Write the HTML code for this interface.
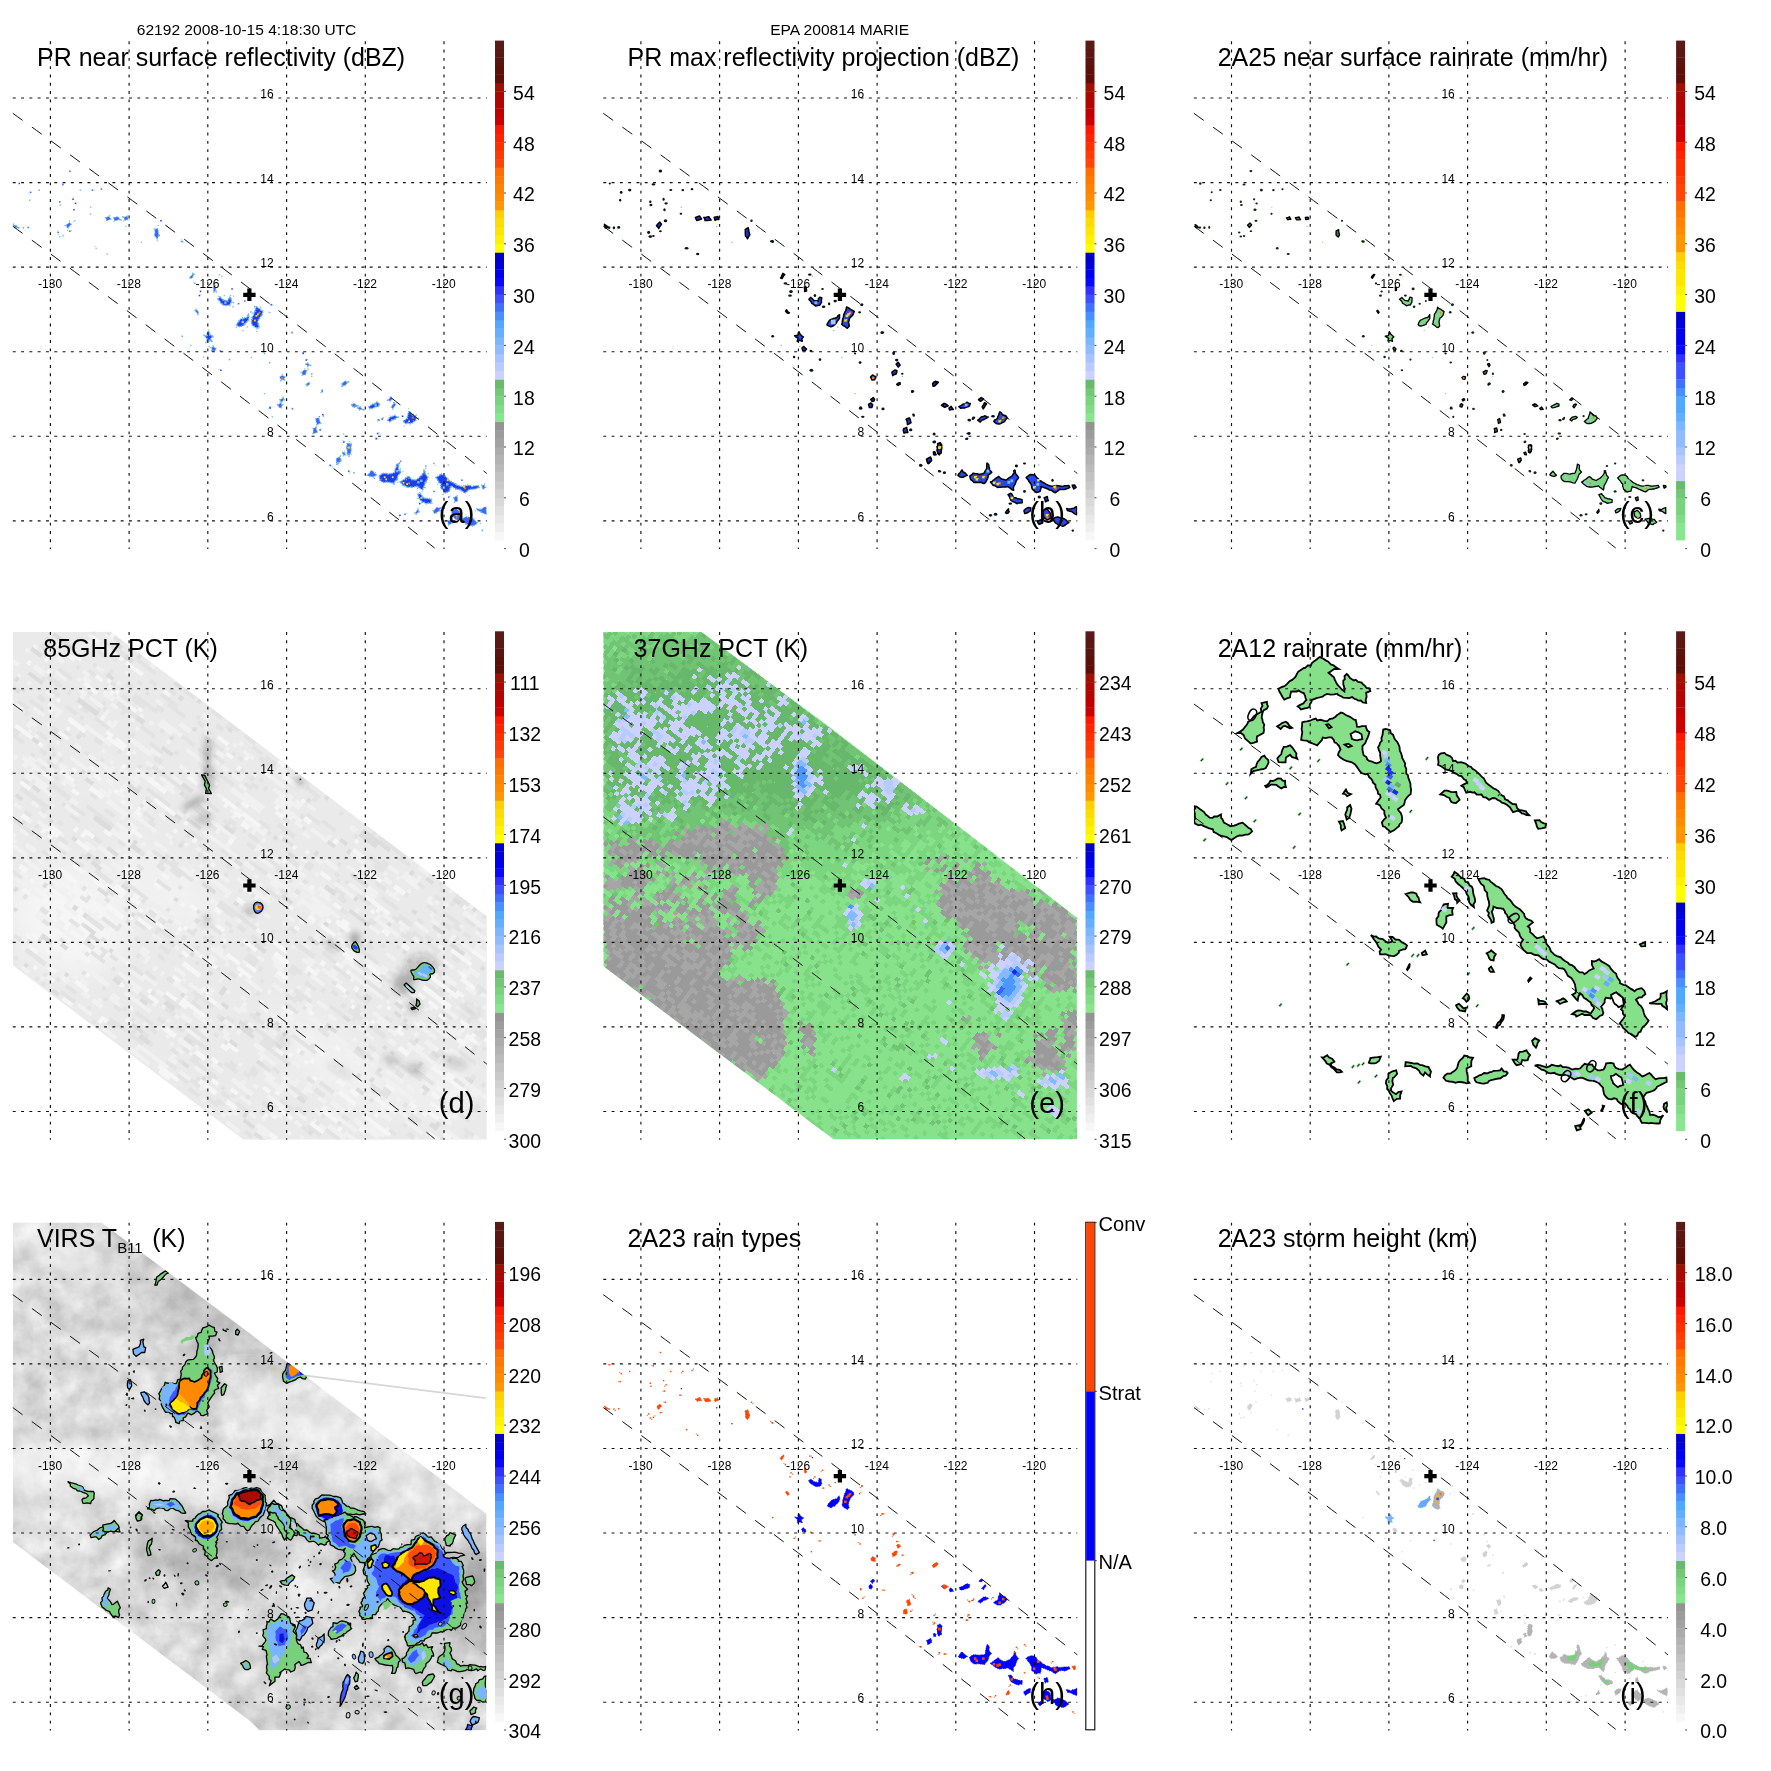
<!DOCTYPE html>
<html lang="en"><head><meta charset="utf-8"><title>TRMM overpass 62192 - EPA 200814 MARIE</title>
<style>html,body{margin:0;padding:0;background:#fff}svg{display:block;will-change:transform}</style></head>
<body>
<svg width="1771" height="1771" viewBox="0 0 1771 1771" font-family="'Liberation Sans', sans-serif" fill="#000">
<rect width="1771" height="1771" fill="#fff"/>
<defs>
<clipPath id="ca"><rect x="12.8" y="41" width="474" height="508"/></clipPath>
<clipPath id="cb"><rect x="603.3" y="41" width="474" height="508"/></clipPath>
<clipPath id="cc"><rect x="1193.9" y="41" width="474" height="508"/></clipPath>
<clipPath id="cd"><rect x="12.8" y="631.7" width="474" height="508"/></clipPath>
<clipPath id="ce"><rect x="603.3" y="631.7" width="474" height="508"/></clipPath>
<clipPath id="cf"><rect x="1193.9" y="631.7" width="474" height="508"/></clipPath>
<clipPath id="cg"><rect x="12.8" y="1222.4" width="474" height="508"/></clipPath>
<clipPath id="ch"><rect x="603.3" y="1222.4" width="474" height="508"/></clipPath>
<clipPath id="ci"><rect x="1193.9" y="1222.4" width="474" height="508"/></clipPath>
</defs>
<g id="panel-a">
<g clip-path="url(#ca)">
<g stroke-linejoin="round">
<polygon points="367.1,475.5 368.3,474.2 369.8,472.7 370.5,470.9 371.9,470.4 372.9,471.2 374.5,473.3 376.9,474.9 374.9,475.9 373.4,476.9 371.9,476.7 369.5,476.3" fill="#3c64ff" stroke="#6aaeff" stroke-width="1.0" stroke-dasharray="1.2 1"/>
<polygon points="379.4,475.8 380.5,474.7 383.1,473.3 385,473.4 387.2,473.6 388.3,474.2 390.5,473.5 391.7,473.6 393.6,472.8 395,471.9 394.9,469.3 396.1,468 396.4,465.3 396.8,463.7 398.8,464 398.6,466.7 398.3,468.4 399,470.2 401,472 399.7,473.6 398,475.5 397.5,477 397.3,479.7 395.6,480.3 394.7,482 393.9,483.8 392.4,483 390.2,482.6 389.2,482.3 386.6,482.1 384.9,482.3 384.1,482.6 381.5,481.4 379.9,480.2 379.5,478.2" fill="#1c3cf0" stroke="#6aaeff" stroke-width="1.6" stroke-dasharray="1.2 1"/>
<polygon points="400,482 401.3,481.6 402.6,480.3 404,479.7 405.1,478.2 407,477.5 408,476 410,477.4 411.5,479.6 412.7,479.5 414.9,480 417,479.5 418.6,477.9 419.8,477 421.1,475.5 422,474.6 423.3,473.3 424.2,471.2 424,469.8 425.2,472.1 425,473.2 425.8,474.7 427.8,477.3 427.1,479.4 426.4,481 425.3,482.4 424.6,484.8 423.7,486.8 422.9,488.3 422.9,490.5 421.9,489.3 420.7,488.9 419.1,487.8 417.2,486.3 415.3,486.4 414.3,486.8 411.9,487.5 410.6,486.9 409.1,487.3 407.3,487.5 405.5,486 402.9,485.4 401.9,484.1" fill="#1c3cf0" stroke="#6aaeff" stroke-width="1.6" stroke-dasharray="1.2 1"/>
<polygon points="435.5,477.6 437.6,476.6 439.4,475.4 440.8,473.9 443.1,475.1 444.6,475.2 445.5,476.6 446.7,477.6 447.5,478.8 449,480.3 450.3,481.5 451.5,481.8 453.6,483 455.7,483.9 457.3,485.3 459,485.8 460.7,486.1 463.1,486.3 464.1,485.7 466.3,485.8 468.2,485.2 470.2,485.8 472.2,486.8 473.9,486 476.2,485.8 478.3,485.7 479.2,487.6 477.5,487.9 476.1,488.7 474.2,489 472.2,489.2 470.3,489.3 469.5,489.7 468,490.1 466.8,491.8 464.7,492.9 463,491.7 460.6,490.1 459.4,489.4 457.2,489.3 456.3,488.7 453.8,487.8 452.6,486.6 450.8,486.3 450.6,487.9 449.7,489.3 449.5,491.1 447.6,492.1 445.4,492.9 444.2,491.8 443.1,490.1 441.6,489 440.8,487.6 440.8,485.9 441,483.9 439.2,482.9 438.2,480.8 437.8,480.2 436.9,478.5" fill="#1c3cf0" stroke="#6aaeff" stroke-width="1.6" stroke-dasharray="1.2 1"/>
<polygon points="482.2,485.4 484,484.9 485.3,487.7 482.9,489.4 482.1,486.7" fill="#3c64ff" stroke="#6aaeff" stroke-width="1.0" stroke-dasharray="1.2 1"/>
<polygon points="417.9,494.2 420.8,493.9 421,494.4 422.4,496.6 423.1,497.9 425.7,498.4 427.3,498.5 429.6,498.9 431.6,499.4 431.2,503 429.7,503.3 428.5,503 426.2,503.7 424.3,502.4 422.7,502.1 420.8,500.4 419.2,498.5 418.6,496.7" fill="#1c3cf0" stroke="#6aaeff" stroke-width="1.6" stroke-dasharray="1.2 1"/>
<polygon points="433.4,511 435.2,509 437,507.2 438.7,507.9 440.9,507.8 439.6,509.5 439.6,510.5 438,511.5 436.8,512.4 434.2,513.6 433.7,512.1" fill="#3c64ff" stroke="#6aaeff" stroke-width="1.0" stroke-dasharray="1.2 1"/>
<polygon points="451.8,510.7 454.1,510.1 456.2,508.8 457.3,509.8 458.9,511 459.6,512.6 460.5,514.4 461,516.5 460.5,518.1 459.3,519.3 457.1,520.2 455.6,519.4 454.1,517.8 453.1,516.6 452.2,514.5 451.8,513.1" fill="#3c64ff" stroke="#6aaeff" stroke-width="1.0" stroke-dasharray="1.2 1"/>
<polygon points="476.4,508.5 478.4,509 479.8,509.6 481.8,508.9 483.5,507.6 484.7,507.1 486.1,507 486.6,508.4 486.1,509.6 486.3,511.3 486.5,513.6 486.8,514.5 484.5,513.8 483.2,513.2 481.3,512.2 479.5,511.3 477.5,510.3" fill="#3c64ff" stroke="#6aaeff" stroke-width="1.0" stroke-dasharray="1.2 1"/>
<polygon points="453.4,497.8 455.7,496.6 457,496.2 457.6,499 457.4,501.1 456.6,501.4 454.7,501.9 454.6,500" fill="#3c64ff" stroke="#6aaeff" stroke-width="1.0" stroke-dasharray="1.2 1"/>
<polygon points="415.4,512.5 416.7,511.1 417.9,509 418.4,509.9 419.2,512 417,513 416.4,513.8" fill="#3c64ff" stroke="#6aaeff" stroke-width="1.0" stroke-dasharray="1.2 1"/>
<polygon points="462,519.3 463.3,518 465.5,517.1 466.6,516.7 469,517.1 471,517.5 472.5,518 473.7,519.3 475.1,520.7 476.6,522 477.8,522.7 477,523.6 475.2,524.8 474,525.4 472.1,525.7 470.3,525.6 468.7,525.4 467.9,524.4 465.7,523.7 464.6,523 463.8,521 463.1,520.2" fill="#3c64ff" stroke="#6aaeff" stroke-width="1.0" stroke-dasharray="1.2 1"/>
<polygon points="446.7,520.6 448.6,520.4 451.1,520.2 451.5,521.3 451.5,523.1 450.6,524.2 448.4,524.2 447.9,522.3" fill="#3c64ff" stroke="#6aaeff" stroke-width="1.0" stroke-dasharray="1.2 1"/>
<polygon points="403.3,421.4 403.9,420.3 405.4,419.8 407.1,418.5 407.6,416.2 408,415.1 408.1,413.7 409,411.7 410.6,412.4 411.9,414.4 412.6,415.3 415.4,416 416.4,417.9 415.9,420.1 414.2,421.5 412.5,422.8 410.1,423.5 407.6,423.1 406.1,423.7 404.4,422.6" fill="#1c3cf0" stroke="#6aaeff" stroke-width="1.6" stroke-dasharray="1.2 1"/>
<polygon points="387.7,420.4 388.9,418.8 389.4,417.4 390.9,416.9 392.4,416.5 395,415.4 396.2,416.8 397.9,417.1 396.6,418 395.1,419.1 393.3,419.7 392.2,419.9 390,421.8" fill="#1c3cf0" stroke="#6aaeff" stroke-width="1.6" stroke-dasharray="1.2 1"/>
<polygon points="368.8,407 370.1,405.7 372.6,404.4 374.9,403.5 376.8,402.1 378.3,403.1 379.5,403.6 379.1,405.8 377.4,406.8 375.7,406.8 374.8,407.3 372,408.5 369.7,408.6" fill="#1c3cf0" stroke="#6aaeff" stroke-width="1.6" stroke-dasharray="1.2 1"/>
<polygon points="351.6,404.9 353.5,403.8 354.8,404.6 355.6,405.8 352.7,407.1" fill="#3c64ff" stroke="#6aaeff" stroke-width="1.0" stroke-dasharray="1.2 1"/>
<polygon points="358.3,408.1 360.2,406.8 361.4,408.5 363.2,409.4 361,409.5 359.2,409.8" fill="#3c64ff" stroke="#6aaeff" stroke-width="1.0" stroke-dasharray="1.2 1"/>
<polygon points="388.4,400.1 389.1,398.8 390.7,396.9 392.3,399 391.1,400.1 390.1,401.3" fill="#3c64ff" stroke="#6aaeff" stroke-width="1.0" stroke-dasharray="1.2 1"/>
<polygon points="391.1,407.3 392.5,404.9 394.1,403.4 395.7,404 395.4,405.2 394,406.9 393,408.4" fill="#3c64ff" stroke="#6aaeff" stroke-width="1.0" stroke-dasharray="1.2 1"/>
<polygon points="342.1,383.5 343.6,382.5 345.2,381.4 348.1,382.4 346.3,383.4 345.1,385 343,385.8" fill="#3c64ff" stroke="#6aaeff" stroke-width="1.0" stroke-dasharray="1.2 1"/>
<polygon points="346.3,447.1 348.2,444.9 349.1,444.1 351.7,443.7 351.2,446.2 350.8,448.3 350.9,449.6 350.6,451.5 349.7,452.9 348.8,455 346.6,453.8 347.2,452.2 347.3,450.5 346.5,448.7" fill="#3c64ff" stroke="#6aaeff" stroke-width="1.0" stroke-dasharray="1.2 1"/>
<polygon points="342.3,452 344.3,452.2 345.1,453.8 345.6,455.2 343.2,454.9 342.7,453.9" fill="#3c64ff" stroke="#6aaeff" stroke-width="1.0" stroke-dasharray="1.2 1"/>
<polygon points="336.7,459.9 339.3,458.1 340.7,460.3 339.7,461.5 338.9,463.6 336.4,462.6" fill="#3c64ff" stroke="#6aaeff" stroke-width="1.0" stroke-dasharray="1.2 1"/>
<polygon points="217.8,299 220.4,297.1 222,298.9 223.9,300 225.4,300.5 227.3,300.8 228.7,299 229.4,297.2 230.6,297.3 231.4,299.9 231.3,302.4 230,303.7 229.8,305.1 227.1,305.3 225.8,305.4 222.9,304.9 221.4,303.3 219.9,301.4 219.2,300.5" fill="#1c3cf0" stroke="#6aaeff" stroke-width="1.6" stroke-dasharray="1.2 1"/>
<polygon points="252.2,319.8 252.3,317.3 252.8,315.9 253.7,314.7 254.3,312.2 255,310.7 255.8,308.6 256.3,306.2 257.9,307.9 259.9,309 261.4,310.7 263.3,311.1 262.5,313 261.7,315.6 260.2,316.9 259.4,318.2 258,320.5 257.6,322.2 258.4,324.8 259.1,326.6 257.3,328.5 255,327 253.9,326.6 252.4,325.1 251.7,324.5 251.6,322.8 251.5,321.4" fill="#1c3cf0" stroke="#6aaeff" stroke-width="1.6" stroke-dasharray="1.2 1"/>
<polygon points="236.1,325 238.1,322.4 239.2,320.7 240.6,319 242.7,318.9 245.1,317.7 246.5,317.8 247.3,316.3 248.4,314 248.8,316.3 248.9,318 248.3,320.2 247,321.8 245.3,322.9 244.6,324.1 242.4,326 240.6,326.5 238.3,326.5" fill="#1c3cf0" stroke="#6aaeff" stroke-width="1.6" stroke-dasharray="1.2 1"/>
<polygon points="204.2,335.2 205.7,335.8 207.2,335.5 207.5,333.3 208.9,331.5 209.4,332.7 209.5,334.7 211.5,335.5 212.8,336.3 210.6,338.8 212,341.4 209.5,340.3 207.2,341.5 207,338.7 205.4,336.8" fill="#1c3cf0" stroke="#6aaeff" stroke-width="1.6" stroke-dasharray="1.2 1"/>
<polygon points="211.7,347.5 213.1,346.8 214.8,347.8 216.2,348.6 214.7,351.1 212.1,350.9" fill="#3c64ff" stroke="#6aaeff" stroke-width="1.0" stroke-dasharray="1.2 1"/>
<polygon points="279.6,377 280.8,376.2 282.5,375.4 283.5,375.9 285.2,376.9 284.6,377.9 283.9,380 281.1,379.6" fill="#3c64ff" stroke="#6aaeff" stroke-width="1.0" stroke-dasharray="1.2 1"/>
<polygon points="301.8,372.6 303.4,370.6 304.5,370.1 307.2,370.3 306.1,372.1 305.5,374.8 303.6,374.9 302.5,374.9" fill="#3c64ff" stroke="#6aaeff" stroke-width="1.0" stroke-dasharray="1.2 1"/>
<polygon points="305.7,364.2 307.6,362.9 308.7,364.3 309.3,364.9 307.8,366.7 307.2,365.3" fill="#3c64ff" stroke="#6aaeff" stroke-width="1.0" stroke-dasharray="1.2 1"/>
<polygon points="306.1,384.1 307.8,383.7 309.2,382 310,383.8 307.4,386" fill="#3c64ff" stroke="#6aaeff" stroke-width="1.0" stroke-dasharray="1.2 1"/>
<polygon points="342,383.6 343.6,382.3 345.3,381 347.2,382.9 346.1,384.4 344.6,385.8 342.3,385.6" fill="#3c64ff" stroke="#6aaeff" stroke-width="1.0" stroke-dasharray="1.2 1"/>
<polygon points="279.9,400.1 282,398.8 283.1,397.3 284.2,399.6 282.9,400.8 281.7,401.9" fill="#3c64ff" stroke="#6aaeff" stroke-width="1.0" stroke-dasharray="1.2 1"/>
<polygon points="277.9,405.2 280.5,403 282.3,404.5 281.7,406.7 281.1,408.2 279.1,407.3" fill="#3c64ff" stroke="#6aaeff" stroke-width="1.0" stroke-dasharray="1.2 1"/>
<polygon points="351,404.4 352.9,403.8 354.5,403.6 356.4,404.9 358,406 355.9,407 354.7,407.4 352.7,406" fill="#3c64ff" stroke="#6aaeff" stroke-width="1.0" stroke-dasharray="1.2 1"/>
<polygon points="189.7,277.5 190.5,276.2 191.8,275.2 192.9,273.8 194,274.5 193,275.8 192.5,277.7 190.9,278.4" fill="#3c64ff" stroke="#6aaeff" stroke-width="1.0" stroke-dasharray="1.2 1"/>
<polygon points="213.3,286.7 214.9,286.2 215.8,288.6 215.6,290.5 214,291.8 213.5,288.7" fill="#3c64ff" stroke="#6aaeff" stroke-width="1.0" stroke-dasharray="1.2 1"/>
<polygon points="195,310.9 196.2,309.9 197.9,310.8 198.8,313.2 197.4,314.1 196.6,312.3" fill="#3c64ff" stroke="#6aaeff" stroke-width="1.0" stroke-dasharray="1.2 1"/>
<polygon points="105,217.6 106.9,217.2 109.1,216.4 109.8,218 111.3,219.2 108.5,219.9 106.9,220.8 106,218.6" fill="#3c64ff" stroke="#6aaeff" stroke-width="1.0" stroke-dasharray="1.2 1"/>
<polygon points="113.5,217.2 115.4,217.5 116.8,216.7 118.2,216.9 119.2,218.4 120.2,219.9 118.4,219.6 116.5,220.5 115,220.8 114,219.3" fill="#3c64ff" stroke="#6aaeff" stroke-width="1.0" stroke-dasharray="1.2 1"/>
<polygon points="124,217.3 125.5,216.7 127.4,216.1 127.8,218.2 128,219.7 126.5,219.8 124.6,220.4" fill="#3c64ff" stroke="#6aaeff" stroke-width="1.0" stroke-dasharray="1.2 1"/>
<polygon points="154.7,229.4 156.4,228.8 157.8,228.5 157.8,229.7 158.3,231.2 158.3,233.6 158.7,234.7 158.3,237 156.9,239.2 156.1,237.2 154.8,236.3 154.4,234.6 155,232.4 154.8,231.5" fill="#3c64ff" stroke="#6aaeff" stroke-width="1.0" stroke-dasharray="1.2 1"/>
<polygon points="66.2,225.1 67.9,223.7 69.5,222.7 71.2,224.3 69.7,225.7 68.5,227.2 68.2,228.5 67,227.5" fill="#3c64ff" stroke="#6aaeff" stroke-width="1.0" stroke-dasharray="1.2 1"/>
<polygon points="13.3,224.7 16.2,225.8 17.9,227.7 16.1,227.6 14.5,228.1 14.4,226.4" fill="#3c64ff" stroke="#6aaeff" stroke-width="1.0" stroke-dasharray="1.2 1"/>
<polygon points="315.9,418.6 317,418 319.2,418.1 319.2,419.4 319.7,421 320.8,423.3 319.2,423.6 316.9,425 316.8,423.2 315.9,421.1" fill="#3c64ff" stroke="#6aaeff" stroke-width="1.0" stroke-dasharray="1.2 1"/>
<polygon points="313.2,428.4 313.9,428.2 316.3,426.9 316.1,428.8 317.1,431.1 317.3,432.2 315.4,433.1 313.2,433.4 313.3,430.4" fill="#3c64ff" stroke="#6aaeff" stroke-width="1.0" stroke-dasharray="1.2 1"/>
<polygon points="346.8,443.3 348.1,443.5 350.1,443.4 349.7,445 350.6,446 350.7,448.5 350.7,450.1 350.8,451.6 350.7,453.1 349.2,453.5 347.5,453.5 347.5,451.8 347.4,450.2 347.4,448.4 347.4,447.1 347,445.8" fill="#3c64ff" stroke="#6aaeff" stroke-width="1.0" stroke-dasharray="1.2 1"/>
<polygon points="336.1,458.6 337.9,457.8 339.8,457.3 340.7,459 341.5,461 339.2,462.1 337.4,462.9 336.8,461.4" fill="#3c64ff" stroke="#6aaeff" stroke-width="1.0" stroke-dasharray="1.2 1"/>
</g>
<rect x="366.6" y="474.7" width="1.1" height="1.1" fill="#78d07c"/><rect x="372.8" y="476.3" width="1.1" height="1.1" fill="#78b8ff"/><rect x="373.7" y="478" width="1.1" height="1.1" fill="#4c8cff"/><rect x="368.9" y="476.2" width="1.1" height="1.1" fill="#78d07c"/><rect x="372.8" y="476.3" width="1.1" height="1.1" fill="#78d07c"/><rect x="369.2" y="475.9" width="1.1" height="1.1" fill="#9cc6ff"/><rect x="374.9" y="472.1" width="1.1" height="1.1" fill="#78b8ff"/><rect x="376.2" y="474.7" width="1.1" height="1.1" fill="#9cc6ff"/><rect x="367" y="474.6" width="1.1" height="1.1" fill="#78d07c"/><rect x="393.2" y="482.4" width="1.1" height="1.1" fill="#78d07c"/><rect x="374.2" y="476.2" width="1.1" height="1.1" fill="#9cc6ff"/><rect x="402.3" y="471.1" width="1.1" height="1.1" fill="#78b8ff"/><rect x="400.2" y="460.4" width="1.1" height="1.1" fill="#4c8cff"/><rect x="380.5" y="478.8" width="1.1" height="1.1" fill="#78d07c"/><rect x="398.2" y="463.4" width="1.1" height="1.1" fill="#9cc6ff"/><rect x="394.2" y="472" width="1.1" height="1.1" fill="#78b8ff"/><rect x="396.6" y="478.9" width="1.1" height="1.1" fill="#4c8cff"/><rect x="397.2" y="479.5" width="1.1" height="1.1" fill="#78d07c"/><rect x="393.6" y="484" width="1.1" height="1.1" fill="#78b8ff"/><rect x="399.2" y="462.1" width="1.1" height="1.1" fill="#4c8cff"/><rect x="399.9" y="468.6" width="1.1" height="1.1" fill="#78b8ff"/><rect x="396.5" y="465.7" width="1.1" height="1.1" fill="#78d07c"/><rect x="399.6" y="471.8" width="1.1" height="1.1" fill="#4c8cff"/><rect x="400" y="460.8" width="1.1" height="1.1" fill="#4c8cff"/><rect x="398.6" y="462.9" width="1.1" height="1.1" fill="#4c8cff"/><rect x="397.8" y="469.9" width="1.1" height="1.1" fill="#78d07c"/><rect x="399.9" y="468.6" width="1.1" height="1.1" fill="#9cc6ff"/><rect x="383.8" y="476.3" width="1.8" height="1.8" fill="#ffe000"/><rect x="385.3" y="478.5" width="1.8" height="1.8" fill="#ffe000"/><rect x="391.9" y="476.3" width="1.8" height="1.8" fill="#ffe000"/><rect x="396.2" y="469.9" width="2.4" height="2.4" fill="#78b8ff"/><rect x="408.4" y="477.8" width="1.1" height="1.1" fill="#78d07c"/><rect x="405.9" y="479.1" width="1.1" height="1.1" fill="#78b8ff"/><rect x="417" y="487.2" width="1.1" height="1.1" fill="#9cc6ff"/><rect x="424.5" y="481.7" width="1.1" height="1.1" fill="#9cc6ff"/><rect x="414.6" y="479.6" width="1.1" height="1.1" fill="#78d07c"/><rect x="425.2" y="467.6" width="1.1" height="1.1" fill="#4c8cff"/><rect x="421.4" y="474.9" width="1.1" height="1.1" fill="#78d07c"/><rect x="424.3" y="486.8" width="1.1" height="1.1" fill="#4c8cff"/><rect x="403.6" y="478.7" width="1.1" height="1.1" fill="#78d07c"/><rect x="411.4" y="479" width="1.1" height="1.1" fill="#9cc6ff"/><rect x="396.7" y="481.9" width="1.1" height="1.1" fill="#9cc6ff"/><rect x="398.4" y="481.8" width="1.1" height="1.1" fill="#9cc6ff"/><rect x="406.6" y="486.8" width="1.1" height="1.1" fill="#78d07c"/><rect x="417.1" y="487.9" width="1.1" height="1.1" fill="#78d07c"/><rect x="411.6" y="486.8" width="1.1" height="1.1" fill="#78d07c"/><rect x="418.9" y="486.4" width="1.1" height="1.1" fill="#4c8cff"/><rect x="403.2" y="484.6" width="1.1" height="1.1" fill="#78d07c"/><rect x="425.8" y="481.8" width="1.1" height="1.1" fill="#78d07c"/><rect x="427.6" y="473.2" width="1.1" height="1.1" fill="#4c8cff"/><rect x="421.6" y="491.1" width="1.1" height="1.1" fill="#78b8ff"/><rect x="425.1" y="487.4" width="1.1" height="1.1" fill="#78d07c"/><rect x="408.2" y="482.4" width="1.8" height="1.8" fill="#ff7800"/><rect x="406.2" y="483.2" width="1.8" height="1.8" fill="#ffe000"/><rect x="417.1" y="481.1" width="2.4" height="2.4" fill="#78b8ff"/><rect x="420.1" y="479.6" width="2.4" height="2.4" fill="#78b8ff"/><rect x="402.6" y="481.9" width="1.8" height="1.8" fill="#ffe000"/><rect x="443.5" y="488.2" width="1.1" height="1.1" fill="#78d07c"/><rect x="465.1" y="492.4" width="1.1" height="1.1" fill="#78d07c"/><rect x="450.4" y="485.8" width="1.1" height="1.1" fill="#78d07c"/><rect x="468.7" y="495.1" width="1.1" height="1.1" fill="#9cc6ff"/><rect x="460.5" y="485.8" width="1.1" height="1.1" fill="#78d07c"/><rect x="460.8" y="485.9" width="1.1" height="1.1" fill="#78b8ff"/><rect x="455.3" y="483.9" width="1.1" height="1.1" fill="#9cc6ff"/><rect x="459.8" y="489.3" width="1.1" height="1.1" fill="#78b8ff"/><rect x="447.2" y="478.7" width="1.1" height="1.1" fill="#78d07c"/><rect x="455.3" y="487.9" width="1.1" height="1.1" fill="#4c8cff"/><rect x="448.6" y="486.1" width="1.1" height="1.1" fill="#4c8cff"/><rect x="451.5" y="481.9" width="1.1" height="1.1" fill="#4c8cff"/><rect x="467.3" y="484.8" width="1.1" height="1.1" fill="#78d07c"/><rect x="455.4" y="483.4" width="1.1" height="1.1" fill="#78d07c"/><rect x="448" y="479.3" width="1.1" height="1.1" fill="#78d07c"/><rect x="450.2" y="480.9" width="1.1" height="1.1" fill="#78d07c"/><rect x="455.4" y="489" width="1.1" height="1.1" fill="#78d07c"/><rect x="455.3" y="488.3" width="1.1" height="1.1" fill="#4c8cff"/><rect x="442.6" y="493.7" width="1.1" height="1.1" fill="#4c8cff"/><rect x="442.1" y="494.1" width="1.1" height="1.1" fill="#9cc6ff"/><rect x="437.1" y="483.6" width="1.1" height="1.1" fill="#78d07c"/><rect x="460.5" y="490" width="1.1" height="1.1" fill="#78b8ff"/><rect x="487.7" y="487.6" width="1.1" height="1.1" fill="#9cc6ff"/><rect x="461.6" y="486" width="1.1" height="1.1" fill="#9cc6ff"/><rect x="470.1" y="484.8" width="1.1" height="1.1" fill="#78d07c"/><rect x="464.1" y="487.5" width="1.8" height="1.8" fill="#ff7800"/><rect x="463.1" y="486" width="1.8" height="1.8" fill="#ffe000"/><rect x="446.8" y="479.4" width="1.8" height="1.8" fill="#ffe000"/><rect x="442.8" y="486.5" width="1.8" height="1.8" fill="#ffe000"/><rect x="446" y="483.1" width="2.4" height="2.4" fill="#78b8ff"/><rect x="485.3" y="487" width="1.1" height="1.1" fill="#78d07c"/><rect x="483.8" y="484.3" width="1.1" height="1.1" fill="#78d07c"/><rect x="481" y="484.6" width="1.1" height="1.1" fill="#4c8cff"/><rect x="482.8" y="487.9" width="1.1" height="1.1" fill="#4c8cff"/><rect x="485" y="486.9" width="1.1" height="1.1" fill="#78d07c"/><rect x="484.1" y="483.4" width="1.1" height="1.1" fill="#78b8ff"/><rect x="484.6" y="486.7" width="1.1" height="1.1" fill="#78b8ff"/><rect x="430.3" y="499" width="1.1" height="1.1" fill="#78d07c"/><rect x="432.1" y="502.7" width="1.1" height="1.1" fill="#9cc6ff"/><rect x="418.1" y="498" width="1.1" height="1.1" fill="#9cc6ff"/><rect x="416.6" y="497.9" width="1.1" height="1.1" fill="#78d07c"/><rect x="418.8" y="491.8" width="1.1" height="1.1" fill="#78d07c"/><rect x="420.8" y="502.3" width="1.1" height="1.1" fill="#78b8ff"/><rect x="421.1" y="502" width="1.1" height="1.1" fill="#9cc6ff"/><rect x="422.4" y="496.4" width="1.1" height="1.1" fill="#78d07c"/><rect x="422.9" y="497.1" width="1.1" height="1.1" fill="#78d07c"/><rect x="425.9" y="503.2" width="1.1" height="1.1" fill="#78b8ff"/><rect x="419.4" y="492.4" width="1.1" height="1.1" fill="#78b8ff"/><rect x="421.8" y="501" width="1.1" height="1.1" fill="#4c8cff"/><rect x="420.4" y="497.1" width="1.8" height="1.8" fill="#ffe000"/><rect x="436" y="506.8" width="1.1" height="1.1" fill="#78d07c"/><rect x="435.9" y="512.6" width="1.1" height="1.1" fill="#78d07c"/><rect x="439.6" y="510.2" width="1.1" height="1.1" fill="#4c8cff"/><rect x="439.8" y="507.4" width="1.1" height="1.1" fill="#4c8cff"/><rect x="440" y="507.2" width="1.1" height="1.1" fill="#78d07c"/><rect x="438.9" y="510.2" width="1.1" height="1.1" fill="#78d07c"/><rect x="440.6" y="506.7" width="1.1" height="1.1" fill="#78d07c"/><rect x="432.1" y="510.2" width="1.1" height="1.1" fill="#9cc6ff"/><rect x="433.3" y="510.2" width="1.1" height="1.1" fill="#78d07c"/><rect x="460.9" y="517.7" width="1.1" height="1.1" fill="#78d07c"/><rect x="456.2" y="518.4" width="1.1" height="1.1" fill="#78d07c"/><rect x="451.6" y="510.5" width="1.1" height="1.1" fill="#78b8ff"/><rect x="456.5" y="521.3" width="1.1" height="1.1" fill="#78d07c"/><rect x="460.9" y="511.5" width="1.1" height="1.1" fill="#78d07c"/><rect x="451.7" y="510.5" width="1.1" height="1.1" fill="#4c8cff"/><rect x="452.1" y="510.9" width="1.1" height="1.1" fill="#4c8cff"/><rect x="456.6" y="522.2" width="1.1" height="1.1" fill="#9cc6ff"/><rect x="459.7" y="512.1" width="1.1" height="1.1" fill="#78d07c"/><rect x="455.5" y="514.4" width="1.8" height="1.8" fill="#ffe000"/><rect x="456" y="516.5" width="1.8" height="1.8" fill="#ff7800"/><rect x="480.7" y="511.6" width="1.1" height="1.1" fill="#78d07c"/><rect x="486.6" y="505.5" width="1.1" height="1.1" fill="#78d07c"/><rect x="479.9" y="508.9" width="1.1" height="1.1" fill="#78b8ff"/><rect x="477.1" y="510.2" width="1.1" height="1.1" fill="#78b8ff"/><rect x="474.7" y="510.4" width="1.1" height="1.1" fill="#78d07c"/><rect x="480.7" y="511.6" width="1.1" height="1.1" fill="#4c8cff"/><rect x="487.6" y="515.9" width="1.1" height="1.1" fill="#9cc6ff"/><rect x="480.7" y="511.5" width="1.1" height="1.1" fill="#78b8ff"/><rect x="479.3" y="508.2" width="1.1" height="1.1" fill="#78d07c"/><rect x="456.7" y="494.9" width="1.1" height="1.1" fill="#78d07c"/><rect x="453.8" y="502.2" width="1.1" height="1.1" fill="#78b8ff"/><rect x="456.4" y="495.8" width="1.1" height="1.1" fill="#78d07c"/><rect x="454.1" y="501.6" width="1.1" height="1.1" fill="#78b8ff"/><rect x="457.2" y="500" width="1.1" height="1.1" fill="#78d07c"/><rect x="453.4" y="497.1" width="1.1" height="1.1" fill="#78d07c"/><rect x="454.3" y="501" width="1.1" height="1.1" fill="#9cc6ff"/><rect x="414" y="512.6" width="1.1" height="1.1" fill="#78d07c"/><rect x="418.1" y="511.2" width="1.1" height="1.1" fill="#78b8ff"/><rect x="418.4" y="511.2" width="1.1" height="1.1" fill="#78b8ff"/><rect x="417.4" y="507.4" width="1.1" height="1.1" fill="#78d07c"/><rect x="414.9" y="512.1" width="1.1" height="1.1" fill="#78d07c"/><rect x="415.5" y="513.8" width="1.1" height="1.1" fill="#4c8cff"/><rect x="418.5" y="511.2" width="1.1" height="1.1" fill="#78b8ff"/><rect x="479.8" y="522.8" width="1.1" height="1.1" fill="#78d07c"/><rect x="471.8" y="525.9" width="1.1" height="1.1" fill="#9cc6ff"/><rect x="474.3" y="518" width="1.1" height="1.1" fill="#9cc6ff"/><rect x="459.3" y="517.7" width="1.1" height="1.1" fill="#4c8cff"/><rect x="476.3" y="522.1" width="1.1" height="1.1" fill="#78d07c"/><rect x="466.8" y="516.8" width="1.1" height="1.1" fill="#78b8ff"/><rect x="465.3" y="514.4" width="1.1" height="1.1" fill="#9cc6ff"/><rect x="465" y="523.7" width="1.1" height="1.1" fill="#78d07c"/><rect x="467" y="517.1" width="1.1" height="1.1" fill="#78d07c"/><rect x="450.4" y="519" width="1.1" height="1.1" fill="#78d07c"/><rect x="450.2" y="519.4" width="1.1" height="1.1" fill="#78d07c"/><rect x="448.3" y="523.7" width="1.1" height="1.1" fill="#4c8cff"/><rect x="445.5" y="520.1" width="1.1" height="1.1" fill="#78d07c"/><rect x="448" y="524.7" width="1.1" height="1.1" fill="#78d07c"/><rect x="445.5" y="520.1" width="1.1" height="1.1" fill="#4c8cff"/><rect x="452.2" y="522.8" width="1.1" height="1.1" fill="#9cc6ff"/><rect x="406.5" y="417.7" width="1.1" height="1.1" fill="#78d07c"/><rect x="403.6" y="425.5" width="1.1" height="1.1" fill="#78b8ff"/><rect x="408" y="408.1" width="1.1" height="1.1" fill="#9cc6ff"/><rect x="412.2" y="414.5" width="1.1" height="1.1" fill="#78d07c"/><rect x="406" y="422.7" width="1.1" height="1.1" fill="#78d07c"/><rect x="418" y="417.6" width="1.1" height="1.1" fill="#78d07c"/><rect x="415.7" y="417.8" width="1.1" height="1.1" fill="#78d07c"/><rect x="409.5" y="424.2" width="1.1" height="1.1" fill="#9cc6ff"/><rect x="413.1" y="420.4" width="1.1" height="1.1" fill="#78d07c"/><rect x="412.8" y="413.6" width="1.1" height="1.1" fill="#4c8cff"/><rect x="408.6" y="411.1" width="1.1" height="1.1" fill="#78d07c"/><rect x="415.7" y="414.5" width="1.1" height="1.1" fill="#4c8cff"/><rect x="411.8" y="416.9" width="1.8" height="1.8" fill="#ff7800"/><rect x="408.2" y="420.4" width="1.8" height="1.8" fill="#ffe000"/><rect x="391.2" y="419.4" width="1.1" height="1.1" fill="#78d07c"/><rect x="398.3" y="416.5" width="1.1" height="1.1" fill="#9cc6ff"/><rect x="389.4" y="415.2" width="1.1" height="1.1" fill="#9cc6ff"/><rect x="391.1" y="419.5" width="1.1" height="1.1" fill="#78d07c"/><rect x="397.9" y="416.6" width="1.1" height="1.1" fill="#78d07c"/><rect x="394.2" y="418.2" width="1.1" height="1.1" fill="#78d07c"/><rect x="394.4" y="418.2" width="1.1" height="1.1" fill="#4c8cff"/><rect x="391.3" y="419.2" width="1.1" height="1.1" fill="#78b8ff"/><rect x="391.3" y="419.2" width="1.1" height="1.1" fill="#78d07c"/><rect x="397.6" y="416.6" width="1.1" height="1.1" fill="#78b8ff"/><rect x="376" y="402.1" width="1.1" height="1.1" fill="#78d07c"/><rect x="376.1" y="401.8" width="1.1" height="1.1" fill="#78b8ff"/><rect x="369" y="408.3" width="1.1" height="1.1" fill="#9cc6ff"/><rect x="371.9" y="403.9" width="1.1" height="1.1" fill="#4c8cff"/><rect x="378.1" y="405.5" width="1.1" height="1.1" fill="#78d07c"/><rect x="374" y="406.8" width="1.1" height="1.1" fill="#4c8cff"/><rect x="374" y="407.1" width="1.1" height="1.1" fill="#9cc6ff"/><rect x="375.8" y="402.3" width="1.1" height="1.1" fill="#4c8cff"/><rect x="369.8" y="407.8" width="1.1" height="1.1" fill="#78d07c"/><rect x="378" y="405.5" width="1.1" height="1.1" fill="#78d07c"/><rect x="374.4" y="403.8" width="2.4" height="2.4" fill="#78b8ff"/><rect x="355.3" y="405.5" width="1.1" height="1.1" fill="#78d07c"/><rect x="353.1" y="403.1" width="1.1" height="1.1" fill="#78d07c"/><rect x="354.8" y="405.4" width="1.1" height="1.1" fill="#9cc6ff"/><rect x="351" y="404.6" width="1.1" height="1.1" fill="#9cc6ff"/><rect x="352.7" y="406.3" width="1.1" height="1.1" fill="#78d07c"/><rect x="355.5" y="405.6" width="1.1" height="1.1" fill="#78b8ff"/><rect x="355.3" y="405.6" width="1.1" height="1.1" fill="#4c8cff"/><rect x="358.7" y="409.7" width="1.1" height="1.1" fill="#78d07c"/><rect x="362.7" y="409.2" width="1.1" height="1.1" fill="#78b8ff"/><rect x="357" y="407.4" width="1.1" height="1.1" fill="#78d07c"/><rect x="363.3" y="409.4" width="1.1" height="1.1" fill="#4c8cff"/><rect x="359.8" y="405.9" width="1.1" height="1.1" fill="#78d07c"/><rect x="363.2" y="409.4" width="1.1" height="1.1" fill="#78d07c"/><rect x="357.5" y="407.5" width="1.1" height="1.1" fill="#4c8cff"/><rect x="392.3" y="398.4" width="1.1" height="1.1" fill="#78d07c"/><rect x="388" y="399.3" width="1.1" height="1.1" fill="#78b8ff"/><rect x="387.5" y="399.5" width="1.1" height="1.1" fill="#78b8ff"/><rect x="386.6" y="399.7" width="1.1" height="1.1" fill="#78b8ff"/><rect x="386.9" y="399.7" width="1.1" height="1.1" fill="#78d07c"/><rect x="389.7" y="400.6" width="1.1" height="1.1" fill="#9cc6ff"/><rect x="390.4" y="396.2" width="1.1" height="1.1" fill="#78b8ff"/><rect x="390.8" y="406.5" width="1.1" height="1.1" fill="#78d07c"/><rect x="392.3" y="408.2" width="1.1" height="1.1" fill="#9cc6ff"/><rect x="395.7" y="402.7" width="1.1" height="1.1" fill="#9cc6ff"/><rect x="393.4" y="402.1" width="1.1" height="1.1" fill="#4c8cff"/><rect x="392.2" y="408.6" width="1.1" height="1.1" fill="#78d07c"/><rect x="393.3" y="402.2" width="1.1" height="1.1" fill="#4c8cff"/><rect x="390.8" y="406.5" width="1.1" height="1.1" fill="#9cc6ff"/><rect x="341.2" y="383.2" width="1.1" height="1.1" fill="#78d07c"/><rect x="347.2" y="381.6" width="1.1" height="1.1" fill="#78d07c"/><rect x="346.9" y="381.7" width="1.1" height="1.1" fill="#78b8ff"/><rect x="348.2" y="381.1" width="1.1" height="1.1" fill="#78d07c"/><rect x="342" y="383.1" width="1.1" height="1.1" fill="#78d07c"/><rect x="340.6" y="383.2" width="1.1" height="1.1" fill="#9cc6ff"/><rect x="346.5" y="381.9" width="1.1" height="1.1" fill="#78d07c"/><rect x="347.9" y="381.2" width="1.1" height="1.1" fill="#78d07c"/><rect x="348.6" y="440.8" width="1.1" height="1.1" fill="#78d07c"/><rect x="346.5" y="446.6" width="1.1" height="1.1" fill="#78b8ff"/><rect x="348.6" y="456.1" width="1.1" height="1.1" fill="#9cc6ff"/><rect x="351.3" y="449.5" width="1.1" height="1.1" fill="#9cc6ff"/><rect x="350.8" y="449.3" width="1.1" height="1.1" fill="#78d07c"/><rect x="348.6" y="455.5" width="1.1" height="1.1" fill="#4c8cff"/><rect x="348.6" y="454" width="1.1" height="1.1" fill="#4c8cff"/><rect x="348.6" y="453.2" width="1.1" height="1.1" fill="#4c8cff"/><rect x="348.6" y="455.3" width="1.1" height="1.1" fill="#78d07c"/><rect x="348" y="446.8" width="1.8" height="1.8" fill="#ffe000"/><rect x="342.2" y="452" width="1.1" height="1.1" fill="#78d07c"/><rect x="344.8" y="454.1" width="1.1" height="1.1" fill="#78d07c"/><rect x="342.9" y="455.3" width="1.1" height="1.1" fill="#78d07c"/><rect x="343.1" y="454.5" width="1.1" height="1.1" fill="#9cc6ff"/><rect x="342.9" y="455" width="1.1" height="1.1" fill="#78d07c"/><rect x="343" y="454.8" width="1.1" height="1.1" fill="#78b8ff"/><rect x="344.2" y="450.6" width="1.1" height="1.1" fill="#9cc6ff"/><rect x="340.4" y="459.8" width="1.1" height="1.1" fill="#78d07c"/><rect x="338.5" y="456.9" width="1.1" height="1.1" fill="#4c8cff"/><rect x="336.4" y="461.9" width="1.1" height="1.1" fill="#9cc6ff"/><rect x="337.9" y="463.2" width="1.1" height="1.1" fill="#4c8cff"/><rect x="338.6" y="456.8" width="1.1" height="1.1" fill="#78d07c"/><rect x="336.2" y="462.2" width="1.1" height="1.1" fill="#4c8cff"/><rect x="337.9" y="462.5" width="1.1" height="1.1" fill="#9cc6ff"/><rect x="339.6" y="459.9" width="1.1" height="1.1" fill="#78d07c"/><rect x="229.8" y="294.9" width="1.1" height="1.1" fill="#78d07c"/><rect x="222.7" y="299.5" width="1.1" height="1.1" fill="#78d07c"/><rect x="222.5" y="299.5" width="1.1" height="1.1" fill="#9cc6ff"/><rect x="231.6" y="301.9" width="1.1" height="1.1" fill="#78d07c"/><rect x="233" y="295.5" width="1.1" height="1.1" fill="#78d07c"/><rect x="229.4" y="297.7" width="1.1" height="1.1" fill="#9cc6ff"/><rect x="229.4" y="305.2" width="1.1" height="1.1" fill="#78d07c"/><rect x="227.5" y="300.7" width="1.1" height="1.1" fill="#9cc6ff"/><rect x="219.1" y="296.6" width="1.1" height="1.1" fill="#78d07c"/><rect x="233" y="302.2" width="1.1" height="1.1" fill="#4c8cff"/><rect x="217.8" y="295.8" width="1.1" height="1.1" fill="#9cc6ff"/><rect x="220.3" y="302.9" width="1.1" height="1.1" fill="#78d07c"/><rect x="218.5" y="296.2" width="1.1" height="1.1" fill="#78d07c"/><rect x="224.2" y="301.5" width="2.4" height="2.4" fill="#78b8ff"/><rect x="259.9" y="307.4" width="1.1" height="1.1" fill="#78d07c"/><rect x="258.5" y="326.6" width="1.1" height="1.1" fill="#78d07c"/><rect x="253.4" y="325.6" width="1.1" height="1.1" fill="#78d07c"/><rect x="256.4" y="328.6" width="1.1" height="1.1" fill="#78b8ff"/><rect x="260.2" y="306.4" width="1.1" height="1.1" fill="#78d07c"/><rect x="254.1" y="306.1" width="1.1" height="1.1" fill="#4c8cff"/><rect x="251.3" y="312.3" width="1.1" height="1.1" fill="#9cc6ff"/><rect x="255.1" y="311.1" width="1.1" height="1.1" fill="#78d07c"/><rect x="251.7" y="312.7" width="1.1" height="1.1" fill="#78d07c"/><rect x="256.3" y="331" width="1.1" height="1.1" fill="#78d07c"/><rect x="250.9" y="319.2" width="1.1" height="1.1" fill="#4c8cff"/><rect x="258.7" y="327.4" width="1.1" height="1.1" fill="#9cc6ff"/><rect x="257.8" y="324.2" width="1.1" height="1.1" fill="#78d07c"/><rect x="257.7" y="323.3" width="1.1" height="1.1" fill="#4c8cff"/><rect x="254.3" y="307.4" width="1.1" height="1.1" fill="#78b8ff"/><rect x="259.2" y="318.1" width="1.1" height="1.1" fill="#78b8ff"/><rect x="258.6" y="311.9" width="1.8" height="1.8" fill="#ff7800"/><rect x="257" y="313.5" width="1.8" height="1.8" fill="#ffe000"/><rect x="255.5" y="315" width="1.8" height="1.8" fill="#ffe000"/><rect x="254" y="319.6" width="1.8" height="1.8" fill="#ffe000"/><rect x="246.9" y="316.1" width="1.1" height="1.1" fill="#78d07c"/><rect x="244.2" y="324" width="1.1" height="1.1" fill="#78b8ff"/><rect x="244.4" y="324.4" width="1.1" height="1.1" fill="#78b8ff"/><rect x="250.8" y="316.9" width="1.1" height="1.1" fill="#78b8ff"/><rect x="236.2" y="323.9" width="1.1" height="1.1" fill="#78d07c"/><rect x="238.7" y="319.9" width="1.1" height="1.1" fill="#78b8ff"/><rect x="249.9" y="311.7" width="1.1" height="1.1" fill="#78b8ff"/><rect x="247.8" y="315.1" width="1.1" height="1.1" fill="#78b8ff"/><rect x="250.5" y="310.9" width="1.1" height="1.1" fill="#78d07c"/><rect x="241.9" y="317" width="1.1" height="1.1" fill="#78b8ff"/><rect x="246.7" y="321" width="1.1" height="1.1" fill="#78d07c"/><rect x="247.3" y="315" width="1.1" height="1.1" fill="#78d07c"/><rect x="235.8" y="327.1" width="1.1" height="1.1" fill="#78d07c"/><rect x="241.5" y="320.8" width="2.4" height="2.4" fill="#a8c8ff"/><rect x="208.7" y="341.1" width="1.1" height="1.1" fill="#78d07c"/><rect x="205.5" y="341.8" width="1.1" height="1.1" fill="#4c8cff"/><rect x="207.9" y="329.4" width="1.1" height="1.1" fill="#78d07c"/><rect x="209.5" y="333.9" width="1.1" height="1.1" fill="#9cc6ff"/><rect x="209.3" y="334.5" width="1.1" height="1.1" fill="#78d07c"/><rect x="206.6" y="334.9" width="1.1" height="1.1" fill="#78b8ff"/><rect x="212.8" y="336.1" width="1.1" height="1.1" fill="#78b8ff"/><rect x="206.4" y="334.7" width="1.1" height="1.1" fill="#78d07c"/><rect x="206.3" y="340.3" width="1.1" height="1.1" fill="#78d07c"/><rect x="205.1" y="342.5" width="1.1" height="1.1" fill="#9cc6ff"/><rect x="203.3" y="335.1" width="1.1" height="1.1" fill="#78b8ff"/><rect x="208.5" y="339.4" width="1.1" height="1.1" fill="#9cc6ff"/><rect x="206.3" y="338.1" width="1.1" height="1.1" fill="#78d07c"/><rect x="209.7" y="346.9" width="1.1" height="1.1" fill="#78d07c"/><rect x="211.5" y="350.1" width="1.1" height="1.1" fill="#4c8cff"/><rect x="212.6" y="345.4" width="1.1" height="1.1" fill="#4c8cff"/><rect x="212.6" y="345.4" width="1.1" height="1.1" fill="#78b8ff"/><rect x="211.4" y="350.2" width="1.1" height="1.1" fill="#78d07c"/><rect x="211.1" y="350.5" width="1.1" height="1.1" fill="#78b8ff"/><rect x="210.1" y="347.1" width="1.1" height="1.1" fill="#78b8ff"/><rect x="211.2" y="350.5" width="1.1" height="1.1" fill="#78b8ff"/><rect x="280.8" y="379.3" width="1.1" height="1.1" fill="#78d07c"/><rect x="280.6" y="379.6" width="1.1" height="1.1" fill="#78b8ff"/><rect x="281.6" y="373.7" width="1.1" height="1.1" fill="#9cc6ff"/><rect x="281.7" y="374" width="1.1" height="1.1" fill="#9cc6ff"/><rect x="285.4" y="376.1" width="1.1" height="1.1" fill="#78d07c"/><rect x="284.1" y="379.7" width="1.1" height="1.1" fill="#78b8ff"/><rect x="283.7" y="379.2" width="1.1" height="1.1" fill="#78b8ff"/><rect x="280.1" y="380.3" width="1.1" height="1.1" fill="#4c8cff"/><rect x="281.6" y="377" width="1.8" height="1.8" fill="#ff7800"/><rect x="301.4" y="371.8" width="1.1" height="1.1" fill="#78d07c"/><rect x="300.4" y="371.7" width="1.1" height="1.1" fill="#9cc6ff"/><rect x="301.5" y="374.9" width="1.1" height="1.1" fill="#9cc6ff"/><rect x="301.8" y="374.5" width="1.1" height="1.1" fill="#78d07c"/><rect x="304.3" y="368.4" width="1.1" height="1.1" fill="#78d07c"/><rect x="304.8" y="374.1" width="1.1" height="1.1" fill="#78b8ff"/><rect x="307.5" y="368.7" width="1.1" height="1.1" fill="#78d07c"/><rect x="300.3" y="371.7" width="1.1" height="1.1" fill="#9cc6ff"/><rect x="307.2" y="362.3" width="1.1" height="1.1" fill="#78d07c"/><rect x="310.1" y="364.8" width="1.1" height="1.1" fill="#4c8cff"/><rect x="305.5" y="363.7" width="1.1" height="1.1" fill="#78d07c"/><rect x="305.5" y="363.7" width="1.1" height="1.1" fill="#4c8cff"/><rect x="309.1" y="364.6" width="1.1" height="1.1" fill="#78d07c"/><rect x="310.2" y="364.8" width="1.1" height="1.1" fill="#78b8ff"/><rect x="307.2" y="367.5" width="1.1" height="1.1" fill="#78d07c"/><rect x="305.4" y="384" width="1.1" height="1.1" fill="#78d07c"/><rect x="306.4" y="385.3" width="1.1" height="1.1" fill="#78b8ff"/><rect x="306.5" y="385.3" width="1.1" height="1.1" fill="#78d07c"/><rect x="308.9" y="383.5" width="1.1" height="1.1" fill="#9cc6ff"/><rect x="306.8" y="384.8" width="1.1" height="1.1" fill="#78d07c"/><rect x="308.9" y="381.7" width="1.1" height="1.1" fill="#9cc6ff"/><rect x="306.7" y="384.9" width="1.1" height="1.1" fill="#78d07c"/><rect x="341.7" y="385.5" width="1.1" height="1.1" fill="#78d07c"/><rect x="341.2" y="386" width="1.1" height="1.1" fill="#9cc6ff"/><rect x="341.7" y="385.5" width="1.1" height="1.1" fill="#9cc6ff"/><rect x="344.9" y="380.7" width="1.1" height="1.1" fill="#4c8cff"/><rect x="348.1" y="381.4" width="1.1" height="1.1" fill="#78d07c"/><rect x="341.4" y="385.8" width="1.1" height="1.1" fill="#4c8cff"/><rect x="341.4" y="385.8" width="1.1" height="1.1" fill="#9cc6ff"/><rect x="343.8" y="385" width="1.1" height="1.1" fill="#9cc6ff"/><rect x="284.1" y="399.2" width="1.1" height="1.1" fill="#78d07c"/><rect x="279.3" y="399.2" width="1.1" height="1.1" fill="#4c8cff"/><rect x="283.5" y="399.2" width="1.1" height="1.1" fill="#78d07c"/><rect x="283.5" y="399.2" width="1.1" height="1.1" fill="#78d07c"/><rect x="281.2" y="401.5" width="1.1" height="1.1" fill="#78d07c"/><rect x="282.5" y="396.4" width="1.1" height="1.1" fill="#78d07c"/><rect x="281.1" y="401.8" width="1.1" height="1.1" fill="#78b8ff"/><rect x="282.5" y="404" width="1.1" height="1.1" fill="#78d07c"/><rect x="280.6" y="407" width="1.1" height="1.1" fill="#9cc6ff"/><rect x="276.8" y="403.9" width="1.1" height="1.1" fill="#9cc6ff"/><rect x="277.1" y="404.1" width="1.1" height="1.1" fill="#4c8cff"/><rect x="281.8" y="404.3" width="1.1" height="1.1" fill="#78d07c"/><rect x="279.8" y="401.5" width="1.1" height="1.1" fill="#78b8ff"/><rect x="281.4" y="404.4" width="1.1" height="1.1" fill="#78b8ff"/><rect x="279.8" y="401.1" width="1.1" height="1.1" fill="#78b8ff"/><rect x="351.2" y="404.3" width="1.1" height="1.1" fill="#78d07c"/><rect x="353.9" y="406.6" width="1.1" height="1.1" fill="#4c8cff"/><rect x="353.9" y="406.5" width="1.1" height="1.1" fill="#78b8ff"/><rect x="353.9" y="406.7" width="1.1" height="1.1" fill="#78b8ff"/><rect x="351.5" y="404.4" width="1.1" height="1.1" fill="#78d07c"/><rect x="351.2" y="404.3" width="1.1" height="1.1" fill="#78b8ff"/><rect x="358.3" y="405.5" width="1.1" height="1.1" fill="#4c8cff"/><rect x="192.2" y="272.8" width="1.1" height="1.1" fill="#78d07c"/><rect x="193.7" y="273.6" width="1.1" height="1.1" fill="#78d07c"/><rect x="193.4" y="273.9" width="1.1" height="1.1" fill="#78d07c"/><rect x="192" y="273.4" width="1.1" height="1.1" fill="#4c8cff"/><rect x="192" y="273.4" width="1.1" height="1.1" fill="#78d07c"/><rect x="192.2" y="272.7" width="1.1" height="1.1" fill="#78b8ff"/><rect x="188.8" y="277.6" width="1.1" height="1.1" fill="#78d07c"/><rect x="215.2" y="290.3" width="1.1" height="1.1" fill="#78d07c"/><rect x="215.8" y="291.4" width="1.1" height="1.1" fill="#4c8cff"/><rect x="213.6" y="291.4" width="1.1" height="1.1" fill="#4c8cff"/><rect x="215.2" y="290.2" width="1.1" height="1.1" fill="#78d07c"/><rect x="213.6" y="291.2" width="1.1" height="1.1" fill="#78d07c"/><rect x="214.9" y="285" width="1.1" height="1.1" fill="#78b8ff"/><rect x="213.6" y="291.2" width="1.1" height="1.1" fill="#78d07c"/><rect x="195.4" y="308.7" width="1.1" height="1.1" fill="#78d07c"/><rect x="197.3" y="314.1" width="1.1" height="1.1" fill="#78b8ff"/><rect x="195.3" y="308.5" width="1.1" height="1.1" fill="#9cc6ff"/><rect x="197.3" y="314.1" width="1.1" height="1.1" fill="#78b8ff"/><rect x="195.6" y="309.4" width="1.1" height="1.1" fill="#78d07c"/><rect x="193.9" y="310" width="1.1" height="1.1" fill="#9cc6ff"/><rect x="197.1" y="313.3" width="1.1" height="1.1" fill="#9cc6ff"/><rect x="109.2" y="214.8" width="1.1" height="1.1" fill="#78d07c"/><rect x="110.1" y="218.6" width="1.1" height="1.1" fill="#78b8ff"/><rect x="108.6" y="215.6" width="1.1" height="1.1" fill="#78d07c"/><rect x="108.6" y="215.7" width="1.1" height="1.1" fill="#9cc6ff"/><rect x="106.1" y="219.7" width="1.1" height="1.1" fill="#78d07c"/><rect x="108.4" y="216" width="1.1" height="1.1" fill="#9cc6ff"/><rect x="105.9" y="220.1" width="1.1" height="1.1" fill="#78b8ff"/><rect x="120.9" y="219.6" width="1.1" height="1.1" fill="#78d07c"/><rect x="119.7" y="219.2" width="1.1" height="1.1" fill="#4c8cff"/><rect x="114" y="220.1" width="1.1" height="1.1" fill="#78d07c"/><rect x="120.7" y="219.6" width="1.1" height="1.1" fill="#78d07c"/><rect x="113.3" y="220.8" width="1.1" height="1.1" fill="#78d07c"/><rect x="120.8" y="219.6" width="1.1" height="1.1" fill="#9cc6ff"/><rect x="114.3" y="219.8" width="1.1" height="1.1" fill="#78b8ff"/><rect x="123.4" y="216.9" width="1.1" height="1.1" fill="#78d07c"/><rect x="122" y="216.3" width="1.1" height="1.1" fill="#4c8cff"/><rect x="123" y="220.4" width="1.1" height="1.1" fill="#9cc6ff"/><rect x="127.2" y="215.4" width="1.1" height="1.1" fill="#78b8ff"/><rect x="123.9" y="219.4" width="1.1" height="1.1" fill="#78d07c"/><rect x="128.6" y="219.4" width="1.1" height="1.1" fill="#9cc6ff"/><rect x="122.9" y="216.7" width="1.1" height="1.1" fill="#78d07c"/><rect x="158.8" y="234.7" width="1.1" height="1.1" fill="#78d07c"/><rect x="156.6" y="238.1" width="1.1" height="1.1" fill="#78b8ff"/><rect x="156.7" y="239.5" width="1.1" height="1.1" fill="#78b8ff"/><rect x="159" y="234.8" width="1.1" height="1.1" fill="#4c8cff"/><rect x="156.5" y="237.5" width="1.1" height="1.1" fill="#78d07c"/><rect x="157.7" y="225" width="1.1" height="1.1" fill="#78b8ff"/><rect x="153.6" y="227.9" width="1.1" height="1.1" fill="#78d07c"/><rect x="156.8" y="240.2" width="1.1" height="1.1" fill="#9cc6ff"/><rect x="70.6" y="223.7" width="1.1" height="1.1" fill="#78d07c"/><rect x="70.3" y="223.8" width="1.1" height="1.1" fill="#4c8cff"/><rect x="67.1" y="229.9" width="1.1" height="1.1" fill="#78d07c"/><rect x="68.8" y="221.4" width="1.1" height="1.1" fill="#78b8ff"/><rect x="69" y="220.4" width="1.1" height="1.1" fill="#78d07c"/><rect x="64.5" y="225.1" width="1.1" height="1.1" fill="#4c8cff"/><rect x="65.5" y="225" width="1.1" height="1.1" fill="#9cc6ff"/><rect x="12.1" y="222.8" width="1.1" height="1.1" fill="#78d07c"/><rect x="15.6" y="224.9" width="1.1" height="1.1" fill="#78b8ff"/><rect x="17.1" y="226.7" width="1.1" height="1.1" fill="#4c8cff"/><rect x="13" y="223.7" width="1.1" height="1.1" fill="#4c8cff"/><rect x="18.1" y="227.2" width="1.1" height="1.1" fill="#78d07c"/><rect x="14.3" y="227.4" width="1.1" height="1.1" fill="#9cc6ff"/><rect x="15.6" y="225" width="1.1" height="1.1" fill="#78d07c"/><rect x="320.5" y="422.9" width="1.1" height="1.1" fill="#78d07c"/><rect x="318.8" y="416.3" width="1.1" height="1.1" fill="#78b8ff"/><rect x="315.1" y="418.3" width="1.1" height="1.1" fill="#78b8ff"/><rect x="320.2" y="422.6" width="1.1" height="1.1" fill="#9cc6ff"/><rect x="316.3" y="425.5" width="1.1" height="1.1" fill="#78d07c"/><rect x="318.8" y="416" width="1.1" height="1.1" fill="#4c8cff"/><rect x="316.6" y="424.1" width="1.1" height="1.1" fill="#78b8ff"/><rect x="311.6" y="427.5" width="1.1" height="1.1" fill="#78d07c"/><rect x="312.9" y="432.2" width="1.1" height="1.1" fill="#78d07c"/><rect x="315.3" y="426.7" width="1.1" height="1.1" fill="#4c8cff"/><rect x="312.4" y="433.1" width="1.1" height="1.1" fill="#78b8ff"/><rect x="316.6" y="431.8" width="1.1" height="1.1" fill="#78d07c"/><rect x="312.4" y="433.2" width="1.1" height="1.1" fill="#9cc6ff"/><rect x="313" y="432.1" width="1.1" height="1.1" fill="#4c8cff"/><rect x="350" y="452.5" width="1.1" height="1.1" fill="#78d07c"/><rect x="350.1" y="452.8" width="1.1" height="1.1" fill="#78d07c"/><rect x="349.3" y="443.3" width="1.1" height="1.1" fill="#78b8ff"/><rect x="349.5" y="442.5" width="1.1" height="1.1" fill="#78d07c"/><rect x="350.7" y="454.1" width="1.1" height="1.1" fill="#78d07c"/><rect x="346.6" y="454.8" width="1.1" height="1.1" fill="#9cc6ff"/><rect x="349.9" y="452.1" width="1.1" height="1.1" fill="#4c8cff"/><rect x="347.9" y="446.6" width="1.8" height="1.8" fill="#ffe000"/><rect x="336.8" y="462.8" width="1.1" height="1.1" fill="#78d07c"/><rect x="336.6" y="463.3" width="1.1" height="1.1" fill="#78d07c"/><rect x="337.1" y="462.2" width="1.1" height="1.1" fill="#9cc6ff"/><rect x="336.4" y="463.9" width="1.1" height="1.1" fill="#4c8cff"/><rect x="339.9" y="455.1" width="1.1" height="1.1" fill="#78d07c"/><rect x="340.8" y="460.3" width="1.1" height="1.1" fill="#9cc6ff"/><rect x="339.6" y="455.9" width="1.1" height="1.1" fill="#4c8cff"/><rect x="18.5" y="182.7" width="1.5" height="1.5" fill="#1c3cf0"/><rect x="18" y="183.1" width="1" height="1" fill="#9cc6ff"/><rect x="69.1" y="170.4" width="1.5" height="1.5" fill="#3c64ff"/><rect x="29.9" y="191.6" width="1.5" height="1.5" fill="#3c64ff"/><rect x="28.4" y="192.6" width="1" height="1" fill="#9cc6ff"/><rect x="38.4" y="189.4" width="1.5" height="1.5" fill="#64a8ff"/><rect x="29" y="199.5" width="1.5" height="1.5" fill="#8cc0ff"/><rect x="62.2" y="183.7" width="1.5" height="1.5" fill="#3c64ff"/><rect x="62.2" y="185" width="1" height="1" fill="#9cc6ff"/><rect x="79.5" y="189.4" width="1.5" height="1.5" fill="#8cc0ff"/><rect x="91.6" y="189.4" width="1.5" height="1.5" fill="#3c64ff"/><rect x="93.7" y="189.8" width="1" height="1" fill="#9cc6ff"/><rect x="100.7" y="188.4" width="1.5" height="1.5" fill="#3c64ff"/><rect x="100.6" y="187.4" width="1" height="1" fill="#9cc6ff"/><rect x="72.3" y="198.5" width="1.5" height="1.5" fill="#1c3cf0"/><rect x="72.7" y="196.8" width="1" height="1" fill="#9cc6ff"/><rect x="59" y="201.1" width="1.5" height="1.5" fill="#3c64ff"/><rect x="59.6" y="204.2" width="1.5" height="1.5" fill="#8cc0ff"/><rect x="74.8" y="202.6" width="1.5" height="1.5" fill="#1c3cf0"/><rect x="75.2" y="201.5" width="1" height="1" fill="#9cc6ff"/><rect x="73.2" y="209" width="1.5" height="1.5" fill="#1c3cf0"/><rect x="89.7" y="213.1" width="1.5" height="1.5" fill="#8cc0ff"/><rect x="17.9" y="227" width="1.5" height="1.5" fill="#64a8ff"/><rect x="22.6" y="227" width="1.5" height="1.5" fill="#64a8ff"/><rect x="27.4" y="226.7" width="1.5" height="1.5" fill="#3c64ff"/><rect x="27" y="227.2" width="1" height="1" fill="#9cc6ff"/><rect x="74.2" y="220" width="1.5" height="1.5" fill="#8cc0ff"/><rect x="73" y="221.3" width="1" height="1" fill="#9cc6ff"/><rect x="69.1" y="230.5" width="1.5" height="1.5" fill="#3c64ff"/><rect x="70.9" y="230.2" width="1" height="1" fill="#9cc6ff"/><rect x="57.4" y="231.7" width="1.5" height="1.5" fill="#3c64ff"/><rect x="57.3" y="230.3" width="1" height="1" fill="#9cc6ff"/><rect x="59" y="235.9" width="1.5" height="1.5" fill="#8cc0ff"/><rect x="58.2" y="234.1" width="1" height="1" fill="#9cc6ff"/><rect x="62.2" y="235.2" width="1.5" height="1.5" fill="#8cc0ff"/><rect x="63.3" y="234.7" width="1" height="1" fill="#9cc6ff"/><rect x="160.2" y="220" width="1.5" height="1.5" fill="#1c3cf0"/><rect x="180.7" y="240.6" width="1.5" height="1.5" fill="#64a8ff"/><rect x="181.3" y="239.1" width="1" height="1" fill="#9cc6ff"/><rect x="95.4" y="247.6" width="1.5" height="1.5" fill="#8cc0ff"/><rect x="94.6" y="246.1" width="1" height="1" fill="#9cc6ff"/><rect x="106.4" y="253.2" width="1.5" height="1.5" fill="#8cc0ff"/><rect x="321.4" y="390.8" width="1.5" height="1.5" fill="#3c64ff"/><rect x="322.1" y="389.1" width="1" height="1" fill="#9cc6ff"/><rect x="269.3" y="406.6" width="1.5" height="1.5" fill="#1c3cf0"/><rect x="271.5" y="416.1" width="1.5" height="1.5" fill="#8cc0ff"/><rect x="322.1" y="413.9" width="1.5" height="1.5" fill="#1c3cf0"/><rect x="323.2" y="415.8" width="1" height="1" fill="#9cc6ff"/><rect x="377.7" y="419.2" width="1.5" height="1.5" fill="#1c3cf0"/><rect x="376.9" y="421.3" width="1" height="1" fill="#9cc6ff"/><rect x="381.5" y="418.3" width="1.5" height="1.5" fill="#1c3cf0"/><rect x="376.8" y="432.8" width="1.5" height="1.5" fill="#1c3cf0"/><rect x="378.5" y="432.2" width="1" height="1" fill="#9cc6ff"/><rect x="375.2" y="438.2" width="1.5" height="1.5" fill="#64a8ff"/><rect x="374.6" y="436.5" width="1" height="1" fill="#9cc6ff"/><rect x="342.9" y="441.4" width="1.5" height="1.5" fill="#1c3cf0"/><rect x="342.5" y="440.2" width="1" height="1" fill="#9cc6ff"/><rect x="329.4" y="464.5" width="1.5" height="1.5" fill="#64a8ff"/><rect x="331.6" y="465.7" width="1" height="1" fill="#9cc6ff"/><rect x="348.3" y="470.8" width="1.5" height="1.5" fill="#8cc0ff"/><rect x="349.3" y="472.8" width="1" height="1" fill="#9cc6ff"/><rect x="353.1" y="472.1" width="1.5" height="1.5" fill="#8cc0ff"/><rect x="302.5" y="351.9" width="1.5" height="1.5" fill="#64a8ff"/><rect x="307.2" y="382.9" width="1.5" height="1.5" fill="#3c64ff"/><rect x="291.4" y="331.7" width="1.5" height="1.5" fill="#3c64ff"/><rect x="291.9" y="332.5" width="1" height="1" fill="#9cc6ff"/><rect x="270.9" y="303.8" width="1.5" height="1.5" fill="#64a8ff"/><rect x="194.2" y="282.6" width="1.5" height="1.5" fill="#64a8ff"/><rect x="193" y="282.2" width="1" height="1" fill="#9cc6ff"/><rect x="199.8" y="290.7" width="1.5" height="1.5" fill="#1c3cf0"/><rect x="198.7" y="294.8" width="1.5" height="1.5" fill="#1c3cf0"/><rect x="200.5" y="293.8" width="1" height="1" fill="#9cc6ff"/><rect x="218.6" y="274" width="1.5" height="1.5" fill="#8cc0ff"/><rect x="231.3" y="288.2" width="1.5" height="1.5" fill="#1c3cf0"/><rect x="244" y="300.4" width="1.5" height="1.5" fill="#3c64ff"/><rect x="237.9" y="302.9" width="1.5" height="1.5" fill="#3c64ff"/><rect x="237.2" y="303.6" width="1" height="1" fill="#9cc6ff"/><rect x="232.3" y="306" width="1.5" height="1.5" fill="#8cc0ff"/><rect x="181.5" y="335.5" width="1.5" height="1.5" fill="#64a8ff"/><rect x="219.6" y="350.2" width="1.5" height="1.5" fill="#3c64ff"/><rect x="220.8" y="350.1" width="1" height="1" fill="#9cc6ff"/><rect x="202.8" y="356.3" width="1.5" height="1.5" fill="#8cc0ff"/><rect x="228.7" y="358.8" width="1.5" height="1.5" fill="#64a8ff"/><rect x="220.1" y="369.5" width="1.5" height="1.5" fill="#1c3cf0"/><rect x="218.5" y="368.8" width="1" height="1" fill="#9cc6ff"/><rect x="263.8" y="352.7" width="1.5" height="1.5" fill="#64a8ff"/><rect x="268.9" y="361.9" width="1.5" height="1.5" fill="#64a8ff"/><rect x="290.7" y="331.9" width="1.5" height="1.5" fill="#8cc0ff"/><rect x="268.4" y="311.6" width="1.5" height="1.5" fill="#8cc0ff"/><rect x="270" y="312.3" width="1" height="1" fill="#9cc6ff"/><rect x="270.4" y="304" width="1.5" height="1.5" fill="#3c64ff"/><rect x="272.4" y="304.7" width="1" height="1" fill="#9cc6ff"/><rect x="181.5" y="240.9" width="1.5" height="1.5" fill="#64a8ff"/><rect x="182.9" y="241.6" width="1" height="1" fill="#9cc6ff"/><rect x="223.6" y="294.8" width="1.5" height="1.5" fill="#8cc0ff"/><rect x="305.5" y="359.3" width="1.5" height="1.5" fill="#1c3cf0"/><rect x="307" y="358.9" width="1" height="1" fill="#9cc6ff"/><rect x="321.2" y="390.3" width="1.5" height="1.5" fill="#1c3cf0"/><rect x="320.2" y="392" width="1" height="1" fill="#9cc6ff"/><rect x="311" y="373.1" width="1.5" height="1.5" fill="#64a8ff"/><rect x="302.4" y="352.7" width="1.5" height="1.5" fill="#1c3cf0"/><rect x="269.4" y="407.6" width="1.5" height="1.5" fill="#3c64ff"/><rect x="267.7" y="408.2" width="1" height="1" fill="#9cc6ff"/><rect x="291.7" y="408.1" width="1.5" height="1.5" fill="#3c64ff"/><rect x="291.4" y="407.5" width="1" height="1" fill="#9cc6ff"/><rect x="320.9" y="391.1" width="1.5" height="1.5" fill="#8cc0ff"/><rect x="321.1" y="389.4" width="1" height="1" fill="#9cc6ff"/><rect x="322.5" y="415" width="1.5" height="1.5" fill="#64a8ff"/><rect x="322.1" y="415.2" width="1" height="1" fill="#9cc6ff"/><rect x="319.4" y="429.2" width="1.5" height="1.5" fill="#1c3cf0"/><rect x="320.5" y="428.5" width="1" height="1" fill="#9cc6ff"/><rect x="377.9" y="432.8" width="1.5" height="1.5" fill="#8cc0ff"/><rect x="375.8" y="437.8" width="1.5" height="1.5" fill="#1c3cf0"/><rect x="342.8" y="433.3" width="1.5" height="1.5" fill="#8cc0ff"/><rect x="343.3" y="440.9" width="1.5" height="1.5" fill="#64a8ff"/><rect x="461.2" y="479.5" width="1.5" height="1.5" fill="#3c64ff"/><rect x="460.6" y="478.9" width="1" height="1" fill="#9cc6ff"/><rect x="433.3" y="490.7" width="1.5" height="1.5" fill="#3c64ff"/><rect x="448" y="496.3" width="1.5" height="1.5" fill="#3c64ff"/><rect x="449.8" y="495.5" width="1" height="1" fill="#9cc6ff"/><rect x="419" y="502.9" width="1.5" height="1.5" fill="#1c3cf0"/><rect x="418.6" y="501.8" width="1" height="1" fill="#9cc6ff"/><rect x="425.1" y="465.3" width="1.5" height="1.5" fill="#64a8ff"/><rect x="423.1" y="470.4" width="1.5" height="1.5" fill="#64a8ff"/><rect x="404.3" y="513.6" width="1.5" height="1.5" fill="#3c64ff"/><rect x="406.3" y="513.2" width="1" height="1" fill="#9cc6ff"/><rect x="399.2" y="514.6" width="1.5" height="1.5" fill="#1c3cf0"/><rect x="398.5" y="516.6" width="1" height="1" fill="#9cc6ff"/><rect x="347.9" y="470.4" width="1.5" height="1.5" fill="#3c64ff"/><rect x="353.5" y="471.9" width="1.5" height="1.5" fill="#8cc0ff"/><rect x="329.6" y="464.8" width="1.5" height="1.5" fill="#3c64ff"/><rect x="331.6" y="466.5" width="1" height="1" fill="#9cc6ff"/><rect x="433.3" y="462.7" width="1.5" height="1.5" fill="#64a8ff"/><rect x="435.2" y="464.9" width="1" height="1" fill="#9cc6ff"/><rect x="378.4" y="419.5" width="1.5" height="1.5" fill="#64a8ff"/><rect x="382.4" y="417" width="1.5" height="1.5" fill="#8cc0ff"/><rect x="401.8" y="415.5" width="1.5" height="1.5" fill="#1c3cf0"/><rect x="481.5" y="529.8" width="1.5" height="1.5" fill="#64a8ff"/><rect x="482.4" y="529" width="1" height="1" fill="#9cc6ff"/><rect x="90.1" y="206.5" width="1.3" height="1.3" fill="#78d07c"/><rect x="125.5" y="225.8" width="1.3" height="1.3" fill="#78d07c"/><rect x="140.7" y="241.6" width="1.3" height="1.3" fill="#78d07c"/><rect x="221.2" y="275.6" width="1.3" height="1.3" fill="#78d07c"/><rect x="246.6" y="326.4" width="1.3" height="1.3" fill="#78d07c"/><rect x="242.5" y="330" width="1.3" height="1.3" fill="#78d07c"/><rect x="250.7" y="356.9" width="1.3" height="1.3" fill="#78d07c"/><rect x="208.5" y="345.7" width="1.3" height="1.3" fill="#78d07c"/><rect x="190.2" y="344.7" width="1.3" height="1.3" fill="#78d07c"/><rect x="263.9" y="393" width="1.3" height="1.3" fill="#78d07c"/><rect x="311.1" y="375.7" width="1.3" height="1.3" fill="#78d07c"/><rect x="447.6" y="464.4" width="1.3" height="1.3" fill="#78d07c"/>
</g>
<path d="M50.4 41.3V549M129.1 41.3V549M207.8 41.3V549M286.6 41.3V549M365.3 41.3V549M444 41.3V549M12.8 98H486.8M12.8 182.6H486.8M12.8 267.1H486.8M12.8 351.7H486.8M12.8 436.2H486.8M12.8 520.8H486.8" fill="none" stroke="#111" stroke-width="1.15" stroke-dasharray="2.9 5.4"/>
<path d="M12.8 113.3Q249.8 283.9 486.8 473.5M12.8 226.2Q223.7 380.4 434.6 548" fill="none" stroke="#111" stroke-width="1" stroke-dasharray="12.2 11.45"/>
<g font-size="12" text-anchor="middle">
<text x="50.1" y="288.4">-130</text>
<text x="128.8" y="288.4">-128</text>
<text x="207.5" y="288.4">-126</text>
<text x="286.3" y="288.4">-124</text>
<text x="365" y="288.4">-122</text>
<text x="443.7" y="288.4">-120</text>
</g><g font-size="12" text-anchor="end">
<text x="273.7" y="97.9">16</text>
<text x="273.7" y="182.5">14</text>
<text x="273.7" y="267">12</text>
<text x="273.7" y="351.6">10</text>
<text x="273.7" y="436.1">8</text>
<text x="273.7" y="520.7">6</text>
</g>
<path d="M243.2 294.8h12.4M249.4 288.6v12.4" stroke="#000" stroke-width="4.2"/>
<text x="37" y="66" font-size="25">PR near surface reflectivity (dBZ)</text>
<text x="438.8" y="522.6" font-size="29.2">(a)</text>
<rect x="495" y="531.7" width="9" height="8.8" fill="#f7f7f7"/>
<rect x="495" y="523.2" width="9" height="8.8" fill="#efefef"/>
<rect x="495" y="514.7" width="9" height="8.8" fill="#e8e8e8"/>
<rect x="495" y="506.3" width="9" height="8.8" fill="#e0e0e0"/>
<rect x="495" y="497.8" width="9" height="8.8" fill="#d9d9d9"/>
<rect x="495" y="489.3" width="9" height="8.8" fill="#d1d1d1"/>
<rect x="495" y="480.9" width="9" height="8.8" fill="#c9c9c9"/>
<rect x="495" y="472.4" width="9" height="8.8" fill="#c2c2c2"/>
<rect x="495" y="463.9" width="9" height="8.8" fill="#bababa"/>
<rect x="495" y="455.5" width="9" height="8.8" fill="#b3b3b3"/>
<rect x="495" y="447" width="9" height="8.8" fill="#ababab"/>
<rect x="495" y="438.5" width="9" height="8.8" fill="#a3a3a3"/>
<rect x="495" y="430.1" width="9" height="8.8" fill="#9c9c9c"/>
<rect x="495" y="421.6" width="9" height="8.8" fill="#949494"/>
<rect x="495" y="413.1" width="9" height="8.8" fill="#8ae68e"/>
<rect x="495" y="404.7" width="9" height="8.8" fill="#82dc86"/>
<rect x="495" y="396.2" width="9" height="8.8" fill="#7ad37e"/>
<rect x="495" y="387.7" width="9" height="8.8" fill="#72c876"/>
<rect x="495" y="379.3" width="9" height="8.8" fill="#6aba6e"/>
<rect x="495" y="370.8" width="9" height="8.8" fill="#ccd2ff"/>
<rect x="495" y="362.3" width="9" height="8.8" fill="#bccbff"/>
<rect x="495" y="353.9" width="9" height="8.8" fill="#a8c4ff"/>
<rect x="495" y="345.4" width="9" height="8.8" fill="#90bcff"/>
<rect x="495" y="336.9" width="9" height="8.8" fill="#7cb6ff"/>
<rect x="495" y="328.5" width="9" height="8.8" fill="#64aeff"/>
<rect x="495" y="320" width="9" height="8.8" fill="#50a8ff"/>
<rect x="495" y="311.5" width="9" height="8.8" fill="#4890ff"/>
<rect x="495" y="303.1" width="9" height="8.8" fill="#4070ff"/>
<rect x="495" y="294.6" width="9" height="8.8" fill="#3c50ff"/>
<rect x="495" y="286.1" width="9" height="8.8" fill="#3030ff"/>
<rect x="495" y="277.7" width="9" height="8.8" fill="#0808ff"/>
<rect x="495" y="269.2" width="9" height="8.8" fill="#0000f0"/>
<rect x="495" y="260.7" width="9" height="8.8" fill="#0000dc"/>
<rect x="495" y="252.3" width="9" height="8.8" fill="#0000c8"/>
<rect x="495" y="243.8" width="9" height="8.8" fill="#ffff00"/>
<rect x="495" y="235.3" width="9" height="8.8" fill="#fff200"/>
<rect x="495" y="226.9" width="9" height="8.8" fill="#ffe600"/>
<rect x="495" y="218.4" width="9" height="8.8" fill="#ffdc00"/>
<rect x="495" y="209.9" width="9" height="8.8" fill="#ffd000"/>
<rect x="495" y="201.5" width="9" height="8.8" fill="#ff9800"/>
<rect x="495" y="193" width="9" height="8.8" fill="#ff8c00"/>
<rect x="495" y="184.5" width="9" height="8.8" fill="#ff8200"/>
<rect x="495" y="176.1" width="9" height="8.8" fill="#ff7800"/>
<rect x="495" y="167.6" width="9" height="8.8" fill="#ff6e00"/>
<rect x="495" y="159.1" width="9" height="8.8" fill="#ff4608"/>
<rect x="495" y="150.7" width="9" height="8.8" fill="#ff3c04"/>
<rect x="495" y="142.2" width="9" height="8.8" fill="#ff3000"/>
<rect x="495" y="133.7" width="9" height="8.8" fill="#ff2400"/>
<rect x="495" y="125.2" width="9" height="8.8" fill="#ff1800"/>
<rect x="495" y="116.8" width="9" height="8.8" fill="#cc0000"/>
<rect x="495" y="108.3" width="9" height="8.8" fill="#c00000"/>
<rect x="495" y="99.8" width="9" height="8.8" fill="#b40400"/>
<rect x="495" y="91.4" width="9" height="8.8" fill="#aa0800"/>
<rect x="495" y="82.9" width="9" height="8.8" fill="#a01000"/>
<rect x="495" y="74.4" width="9" height="8.8" fill="#5e0e06"/>
<rect x="495" y="66" width="9" height="8.8" fill="#5c100a"/>
<rect x="495" y="57.5" width="9" height="8.8" fill="#5a1410"/>
<rect x="495" y="49" width="9" height="8.8" fill="#5a1814"/>
<rect x="495" y="40.6" width="9" height="8.8" fill="#5a1a18"/>
<path d="M504 548.6h2" stroke="#333" stroke-width="0.9"/>
<text x="524.5" y="556.9" text-anchor="middle" font-size="19.4">0</text>
<path d="M504 497.8h2" stroke="#333" stroke-width="0.9"/>
<text x="524.5" y="506.1" text-anchor="middle" font-size="19.4">6</text>
<path d="M504 447h2" stroke="#333" stroke-width="0.9"/>
<text x="523.9" y="455.3" text-anchor="middle" font-size="19.4">12</text>
<path d="M504 396.2h2" stroke="#333" stroke-width="0.9"/>
<text x="523.9" y="404.5" text-anchor="middle" font-size="19.4">18</text>
<path d="M504 345.4h2" stroke="#333" stroke-width="0.9"/>
<text x="523.9" y="353.7" text-anchor="middle" font-size="19.4">24</text>
<path d="M504 294.6h2" stroke="#333" stroke-width="0.9"/>
<text x="523.9" y="302.9" text-anchor="middle" font-size="19.4">30</text>
<path d="M504 243.8h2" stroke="#333" stroke-width="0.9"/>
<text x="523.9" y="252.1" text-anchor="middle" font-size="19.4">36</text>
<path d="M504 193h2" stroke="#333" stroke-width="0.9"/>
<text x="523.9" y="201.3" text-anchor="middle" font-size="19.4">42</text>
<path d="M504 142.2h2" stroke="#333" stroke-width="0.9"/>
<text x="523.9" y="150.5" text-anchor="middle" font-size="19.4">48</text>
<path d="M504 91.4h2" stroke="#333" stroke-width="0.9"/>
<text x="523.9" y="99.7" text-anchor="middle" font-size="19.4">54</text>
</g>
<g id="panel-b">
<g clip-path="url(#cb)">
<g stroke="#000" stroke-width="1.5" stroke-linejoin="round">
<polygon points="957.9,475.4 958.9,473.6 960,472.8 961.1,471.1 962,469.9 963.2,472 965.2,473 967.3,475.4 965.2,476.1 963.9,476.9 962.2,477.2 960,476.9" fill="#2448ec"/>
<polygon points="969.7,476.1 971.5,474.9 973,473.2 975,473.5 977.4,473.8 979,474.4 981.2,474 982.5,473.8 984.4,472.9 984.9,471.2 986,470.1 986.7,468.2 986.7,465.7 987,463.1 988.7,464.5 989,466.7 989.4,467.9 989.5,469.8 991.8,472.3 990.2,473.6 988.1,475.3 988.1,477.1 987.2,479.5 986.3,480.7 985.7,482.1 984.1,483.6 983,483.2 981.1,482.3 979,482.5 977.3,482.6 975.7,482.3 974,482.4 972.6,480.9 970.7,479.7 970.3,478.3" fill="#2448ec"/>
<polygon points="990.4,482 992.1,481.4 993,480.4 994.2,479.6 995.7,478.4 997.2,477.3 998.7,476.5 1000.1,477.9 1001.7,479.1 1003.9,479.5 1005.5,480.1 1007.4,479.3 1008.9,477.9 1010.8,476.9 1011.9,476.2 1013.1,474.2 1014,473 1014.6,471.7 1014.8,470 1015.1,471.9 1015.7,473.6 1016.7,475.1 1018.6,477.4 1017.6,479.2 1016.4,480.6 1015.7,482.5 1015,484.5 1013.9,486 1013.3,488.3 1013.7,490.2 1011.9,489.7 1010.8,488.5 1009.4,487.7 1008,486.6 1006,487 1004.6,487 1002.5,487.1 1000.7,487.2 999.1,487.3 997.5,487.5 995.7,486.1 993.2,485.4 992.1,484.1" fill="#2448ec"/>
<polygon points="1026.1,477.5 1027.5,476.4 1029.8,474.8 1031,474.5 1033,474.7 1034.9,475 1036.1,476.8 1037,477.9 1038.6,479.2 1039.3,480.6 1041,481 1042,482 1044.4,483 1046.3,484.4 1048.2,485.2 1049.5,485.6 1051.4,486.2 1053.2,486 1055.1,485.7 1056.3,485.6 1058.8,485.7 1060.9,486.2 1062.5,486.6 1064.4,485.8 1066.8,485.8 1068.9,485.6 1069.9,487.3 1068.4,488.2 1066.5,488.7 1064.5,489.6 1063.1,489.6 1061,489.5 1059.7,489.3 1058.3,490.7 1057,491.6 1055.4,492.7 1053.2,491.7 1051.3,490.3 1049.6,490 1048.4,489.3 1046.1,488.3 1044.5,487.8 1042.8,487.1 1041.1,486.5 1041,488.2 1040.6,489.4 1040.1,491.3 1038.4,492 1036.1,492.4 1034.8,491.2 1033.9,490.6 1032.4,489.1 1031.7,487.5 1031.6,486 1031.2,484.4 1029.8,482.5 1028.8,481.2 1028.3,480.1 1026.7,478.3" fill="#2448ec"/>
<polygon points="1072.2,485.3 1074.6,485 1076.1,487.3 1073.8,489 1072.8,486.9" fill="#1c34c8"/>
<polygon points="1008,494.6 1010.9,493.2 1012.1,494.6 1013,496.4 1013.6,497.6 1015.6,497.7 1017.7,498.8 1019.8,499 1022,499.6 1022.2,502.7 1020,503.1 1018.3,503.1 1016.9,503.7 1015,502.4 1012.6,501.5 1011,500.3 1010,498.3 1009.2,496.3" fill="#2448ec"/>
<polygon points="1024,510.6 1025.3,509.2 1027.1,508 1028.9,507.6 1030.9,507.9 1030.7,509.1 1030.4,510.8 1028.8,511.8 1026.9,513 1024.8,513.5 1024.3,512" fill="#2448ec"/>
<polygon points="1042,510.6 1044.3,510 1046.2,508.9 1048,509.8 1048.8,511.2 1050.2,512.9 1050.6,514.4 1050.8,516.4 1051.7,518.2 1049.5,518.8 1047.1,520.2 1046.2,519.1 1044.5,518.1 1043.3,516.6 1043.1,514.8 1042.4,513.1" fill="#2448ec"/>
<polygon points="1066.7,508.6 1068.5,508.9 1070.6,509.1 1072,508.4 1073.8,508.3 1075.3,507.2 1076.5,506.6 1076.9,508.5 1076.7,509.9 1076.6,511.7 1077.1,513.5 1077,514.8 1075.1,514.1 1073.1,512.7 1072.1,511.8 1070.1,511.3 1067.4,510.5" fill="#2448ec"/>
<polygon points="1044.1,497.6 1045.6,497.2 1047.3,496.5 1047.7,498.9 1048.4,500.8 1046.7,501.1 1045.5,501.8 1045,499.8" fill="#1c34c8"/>
<polygon points="1005.5,512.6 1006.8,510.6 1008.6,508.9 1008.5,510.6 1009.2,511.6 1008.2,513.1 1006.4,513.5" fill="#1c34c8"/>
<polygon points="1052.4,518.7 1054.2,518.1 1056.1,517.3 1057.6,517.1 1059.6,517.6 1061.1,518.1 1063,518.3 1064.5,519 1066.3,520.2 1067.6,521.8 1068.9,522.6 1067.1,523.6 1065.6,524.6 1064.5,525.6 1062.9,526.2 1061.1,525.6 1059.3,524.9 1058,524.7 1056.9,523.7 1055.3,522.9 1054.5,521.4 1053.6,519.9" fill="#2448ec"/>
<polygon points="1037.4,521 1039.2,520.5 1041.3,519.6 1042.1,521.2 1042.5,523.1 1040.7,523.7 1039.1,524.4 1037.9,522.7" fill="#1c34c8"/>
<polygon points="993.8,421.5 994.7,420 996.1,419.4 997.4,418.5 997.9,416.4 998.7,415.3 999,413.5 999.9,411.9 1001.1,412.7 1001.9,413.9 1002.9,415.1 1005.9,415.8 1007.3,418 1005.6,419.8 1004.5,421.6 1002.9,422.4 1000.4,423.7 999,423.9 996.9,423.8 995.1,422.6" fill="#2448ec"/>
<polygon points="977.7,420.2 979,419.4 980.2,418 981.2,417 983.1,416.6 985.1,415.8 986.7,416.7 988.2,416.9 987.2,417.9 985.6,418.5 984.2,419.5 982.2,420.1 980.3,422.1" fill="#2448ec"/>
<polygon points="958.9,406.6 961.3,405.4 962.9,404.3 965.3,403.8 966.9,402.2 968.5,403.2 970.4,403.5 969.3,406.1 968,406.8 966.7,407.1 964.9,407.9 962.5,407.9 960.6,408.3" fill="#2448ec"/>
<polygon points="941.4,405.3 944.1,403.4 945.1,404.9 946.1,406.2 944,406.8" fill="#1c34c8"/>
<polygon points="949,408.2 951.2,406.4 952.4,408.3 953.3,409.4 951.6,409.6 949.6,409.9" fill="#1c34c8"/>
<polygon points="978.5,399.7 980.2,398.4 981.2,397.6 983.5,399 982.3,400.1 980.5,401.3" fill="#1c34c8"/>
<polygon points="982.1,406.9 983.4,404.9 984.5,402.8 986.6,403.7 985.3,405.5 984.4,407 983.3,408.9" fill="#1c34c8"/>
<polygon points="932.9,383.6 934.4,382.6 935.5,381.3 938.2,382.4 937,383.7 935.4,385.3 933.7,385.8" fill="#1c34c8"/>
<polygon points="936.9,446.7 938.4,444.9 939.6,443.3 941.6,444.4 941.7,446 941.8,447.9 941.6,449.5 941,451.6 940.2,453.2 939.4,454.9 937.9,453.7 937.6,452.3 937,450.2 937.5,448.4" fill="#2448ec"/>
<polygon points="933.4,452.1 934.8,451.8 935.5,453.6 936.2,454.7 934,455 933.6,454.2" fill="#1c34c8"/>
<polygon points="926.9,459.7 929.7,458.2 931.1,460.8 930.2,462 928.8,463.6 927.5,462.4" fill="#1c34c8"/>
<polygon points="808.9,299.2 810.6,297.4 812.5,298.9 813.9,300.5 815.8,300.8 818.2,301.3 818.4,298.8 819.7,297.3 821.8,297.7 821.4,300.2 821.5,302.2 820.7,303.7 819.8,305.2 817.7,305.5 815.8,306.1 813.6,304.3 811.6,303.1 811.1,301.8 809.9,300.5" fill="#2448ec"/>
<polygon points="842.6,319.3 843.1,317.9 843.6,316.2 843.8,314.6 844.9,312 845.8,310.3 846.2,308.7 846.6,306.9 849,308.1 850.3,309.2 852.5,310.3 854.3,311.4 853.5,313.3 852.6,315.4 851,316.7 849.3,318.7 849.1,320.4 848.5,322.6 849.1,324.8 849.2,326.3 847.3,328.3 845.9,327.2 844.3,326.2 842.8,325.3 841.7,324.3 842.2,323.1 842.4,321" fill="#2448ec"/>
<polygon points="826.9,324.8 828.1,322.4 829.6,320.2 831.7,319.2 833.5,318.4 835.4,318 837.3,317.3 838,315.6 839.6,314.7 839.5,316.3 839.5,318.2 838.4,319.7 837,321.6 836.6,322.7 834.9,324.6 833.4,325.7 831,326.8 828.5,325.9" fill="#2448ec"/>
<polygon points="794.6,335.7 796.3,335.6 797.9,335.5 798.3,333.4 799,331.7 799.7,333.3 800.7,334.8 801.8,335.8 803.4,336.8 801.8,338.9 802.3,341.2 799.6,340.3 797.2,341.4 798.1,338.1 796.1,337.3" fill="#2448ec"/>
<polygon points="802,348.1 803.6,346.4 804.8,347.6 806.5,349 805.1,350.8 802.6,350.4" fill="#1c34c8"/>
<polygon points="870.6,377 871.2,376.4 872.6,375 874.1,375.9 875.9,376.6 875.5,378.3 874.7,379.7 871.9,379.9" fill="#1c34c8"/>
<polygon points="891.9,372 893.7,370.8 895.2,369.9 896.9,370.6 896.8,372.2 896,374.3 894.1,374.6 892.7,375.6" fill="#1c34c8"/>
<polygon points="896.1,364.1 898.1,362.3 899.2,363.7 900.2,365.1 898.3,367.1 897.5,366" fill="#1c34c8"/>
<polygon points="896.7,384.3 898.2,383.7 900,382.6 900.2,384.2 898.1,385.4" fill="#1c34c8"/>
<polygon points="932.6,383.8 934,382.1 936,381.7 938.2,382.2 936.4,383.7 934.8,385.7 933.1,386.3" fill="#1c34c8"/>
<polygon points="870.7,399.4 872.4,398.5 873.2,397.5 874.6,399.5 873.8,401.1 872.2,401.6" fill="#1c34c8"/>
<polygon points="868.5,404.5 870.9,403 872.7,404.7 872.4,406.2 871.7,407.6 869.4,407.6" fill="#1c34c8"/>
<polygon points="942.3,404.9 943.6,404 945.1,403.5 946.4,404.4 948.2,405.8 946.3,406.6 944.8,407.2 943.7,406.3" fill="#1c34c8"/>
<polygon points="780.6,278.1 781.5,276.5 782.1,275 782.9,273.4 784.8,274.6 783.6,275.7 782.7,277.5 782,278.6" fill="#1c34c8"/>
<polygon points="804.2,287.1 805.8,286.6 806.3,288.7 806.6,291 804.6,291.5 804.7,289.2" fill="#1c34c8"/>
<polygon points="785.6,311.1 786.6,309.8 787.7,311.5 789.5,312.8 788.1,313.4 786.7,312.6" fill="#1c34c8"/>
<polygon points="695.4,217.4 697.4,216.7 699.7,216.1 700.8,217.9 701.6,219 699.3,219.8 696.9,220.6 695.8,218.6" fill="#1c34c8"/>
<polygon points="703.8,217.4 706,217.4 707.2,217 708.8,216.7 709.8,218.2 711.2,220.1 709.4,220.3 707,220.4 705,220.6 704.9,219.1" fill="#1c34c8"/>
<polygon points="714.2,217.2 716.1,216.9 718,216.6 718.1,217.6 718.9,219.4 716.5,219.5 715,220.2" fill="#1c34c8"/>
<polygon points="745.2,229.6 746.8,228.4 748.3,227.8 748.7,229.8 748.8,231.3 749.5,233.6 749.8,234.8 748.3,237.1 747.6,238.8 746.7,237.3 745.5,236.2 745.4,234.8 745.3,232.5 745.4,231" fill="#1c34c8"/>
<polygon points="656.5,225.7 658,223.7 659.8,222.1 661.5,224.2 660.7,225.5 659.5,226.9 658.8,228.5 657.9,227.1" fill="#1c34c8"/>
<polygon points="604.4,224.3 606.5,225.8 608.7,227.3 606.7,227.8 605.5,228.1 604.6,225.9" fill="#1c34c8"/>
<polygon points="906.1,419.3 908.3,418.3 909.4,417.9 910.2,419.3 910.7,421.4 911.1,422.6 909.1,423.8 907.5,424.6 907.3,422.6 907,421" fill="#1c34c8"/>
<polygon points="903.6,428.8 905.1,428.1 906.7,427.4 906.8,428.8 907.5,430.9 907.9,432.4 906,432.6 904,433.1 903.3,430.5" fill="#1c34c8"/>
<polygon points="937.6,443.8 938.7,443.3 940.5,442.8 940.7,444.6 940.8,446.7 940.6,447.8 941.2,449.9 941,451.5 941.3,452.9 939.3,453.4 938.4,453.5 937.8,452.2 937.6,450.3 937.6,449.1 937.7,447 937.8,445.2" fill="#1c34c8"/>
<polygon points="926.5,459.2 928.7,457.9 930.5,457 931.3,458.8 931.6,460.7 930.1,461.7 927.8,463.4 927.2,461.2" fill="#1c34c8"/>
</g>
<rect x="974" y="476" width="2.4" height="2.4" fill="#ffe000"/><rect x="975.8" y="475.8" width="1.2" height="1.2" fill="#ffe000"/><rect x="975.6" y="478.2" width="2.4" height="2.4" fill="#ffe000"/><rect x="977.4" y="478" width="1.2" height="1.2" fill="#ffe000"/><rect x="982.2" y="476" width="2.4" height="2.4" fill="#ffe000"/><rect x="984" y="475.8" width="1.2" height="1.2" fill="#ffe000"/><rect x="986.5" y="469.7" width="2.8" height="2.8" fill="#78b8ff"/><rect x="998.4" y="482.1" width="2.4" height="2.4" fill="#ff7800"/><rect x="996.4" y="482.9" width="2.4" height="2.4" fill="#ffe000"/><rect x="998.2" y="482.7" width="1.2" height="1.2" fill="#ffe000"/><rect x="1007.4" y="480.9" width="2.8" height="2.8" fill="#78b8ff"/><rect x="1010.4" y="479.4" width="2.8" height="2.8" fill="#78b8ff"/><rect x="992.8" y="481.6" width="2.4" height="2.4" fill="#ffe000"/><rect x="994.6" y="481.4" width="1.2" height="1.2" fill="#ffe000"/><rect x="1054.3" y="487.2" width="2.4" height="2.4" fill="#ff7800"/><rect x="1053.3" y="485.7" width="2.4" height="2.4" fill="#ffe000"/><rect x="1055.1" y="485.5" width="1.2" height="1.2" fill="#ffe000"/><rect x="1037.1" y="479.1" width="2.4" height="2.4" fill="#ffe000"/><rect x="1038.9" y="478.9" width="1.2" height="1.2" fill="#ffe000"/><rect x="1033" y="486.2" width="2.4" height="2.4" fill="#ffe000"/><rect x="1034.8" y="486" width="1.2" height="1.2" fill="#ffe000"/><rect x="1036.4" y="482.9" width="2.8" height="2.8" fill="#78b8ff"/><rect x="1010.6" y="496.8" width="2.4" height="2.4" fill="#ffe000"/><rect x="1012.4" y="496.6" width="1.2" height="1.2" fill="#ffe000"/><rect x="1045.7" y="514.1" width="2.4" height="2.4" fill="#ffe000"/><rect x="1047.5" y="513.9" width="1.2" height="1.2" fill="#ffe000"/><rect x="1046.2" y="516.2" width="2.4" height="2.4" fill="#ff7800"/><rect x="1002" y="416.6" width="2.4" height="2.4" fill="#ff7800"/><rect x="998.4" y="420.1" width="2.4" height="2.4" fill="#ffe000"/><rect x="1000.2" y="419.9" width="1.2" height="1.2" fill="#ffe000"/><rect x="964.7" y="403.6" width="2.8" height="2.8" fill="#78b8ff"/><rect x="938.3" y="446.5" width="2.4" height="2.4" fill="#ffe000"/><rect x="940.1" y="446.3" width="1.2" height="1.2" fill="#ffe000"/><rect x="814.5" y="301.3" width="2.8" height="2.8" fill="#78b8ff"/><rect x="848.8" y="311.6" width="2.4" height="2.4" fill="#ff7800"/><rect x="847.3" y="313.2" width="2.4" height="2.4" fill="#ffe000"/><rect x="849.1" y="313" width="1.2" height="1.2" fill="#ffe000"/><rect x="845.7" y="314.7" width="2.4" height="2.4" fill="#ffe000"/><rect x="847.5" y="314.5" width="1.2" height="1.2" fill="#ffe000"/><rect x="844.2" y="319.3" width="2.4" height="2.4" fill="#ffe000"/><rect x="846" y="319.1" width="1.2" height="1.2" fill="#ffe000"/><rect x="830.9" y="319.7" width="4.6" height="4.6" fill="#a8c8ff"/><rect x="871.9" y="376.7" width="2.4" height="2.4" fill="#ff7800"/><rect x="938.1" y="446.3" width="2.4" height="2.4" fill="#ffe000"/><rect x="939.9" y="446.1" width="1.2" height="1.2" fill="#ffe000"/>
<g fill="#0c1020"><ellipse cx="609.8" cy="183.5" rx="1.1" ry="1"/><ellipse cx="660.4" cy="171.1" rx="1.8" ry="1.5"/><ellipse cx="621.2" cy="192.3" rx="1.3" ry="1.5"/><ellipse cx="629.7" cy="190.1" rx="1.7" ry="1.4"/><ellipse cx="620.2" cy="200.2" rx="1.1" ry="1.4"/><ellipse cx="653.4" cy="184.4" rx="1.9" ry="1.1"/><ellipse cx="670.8" cy="190.1" rx="1.5" ry="1"/><ellipse cx="682.8" cy="190.1" rx="1.3" ry="1.2"/><ellipse cx="692" cy="189.2" rx="1.3" ry="1.1"/><ellipse cx="663.6" cy="199.3" rx="1.1" ry="1.5"/><ellipse cx="650.3" cy="201.8" rx="1.2" ry="1.2"/><ellipse cx="650.9" cy="205" rx="1.5" ry="1.2"/><ellipse cx="666.1" cy="203.4" rx="1.7" ry="1.1"/><ellipse cx="664.5" cy="209.7" rx="1.2" ry="1.5"/><ellipse cx="680.9" cy="213.8" rx="1.3" ry="1"/><ellipse cx="609.2" cy="227.7" rx="1.2" ry="1.2"/><ellipse cx="613.9" cy="227.7" rx="1.2" ry="1.5"/><ellipse cx="618.7" cy="227.4" rx="1.5" ry="1.3"/><ellipse cx="665.5" cy="220.8" rx="1.8" ry="1.5"/><ellipse cx="660.4" cy="231.2" rx="1.4" ry="1"/><ellipse cx="648.7" cy="232.5" rx="1.6" ry="1.4"/><ellipse cx="650.3" cy="236.6" rx="1.8" ry="1.3"/><ellipse cx="653.4" cy="236" rx="1.3" ry="1.1"/><ellipse cx="751.5" cy="220.8" rx="1.2" ry="1.2"/><ellipse cx="772" cy="241.3" rx="1.9" ry="1.2"/><ellipse cx="686.6" cy="248.3" rx="1.9" ry="1.3"/><ellipse cx="697.7" cy="254" rx="1.6" ry="1.2"/><ellipse cx="912.7" cy="391.5" rx="1.7" ry="1.1"/><ellipse cx="860.6" cy="407.4" rx="1.3" ry="1.2"/><ellipse cx="862.8" cy="416.8" rx="1.7" ry="1.1"/><ellipse cx="913.4" cy="414.6" rx="1.3" ry="1.1"/><ellipse cx="969" cy="420" rx="1.6" ry="1.2"/><ellipse cx="972.8" cy="419.1" rx="1.3" ry="1"/><ellipse cx="968.1" cy="433.6" rx="1.7" ry="1"/><ellipse cx="966.5" cy="439" rx="1.6" ry="1.1"/><ellipse cx="934.2" cy="442.1" rx="1.9" ry="1.3"/><ellipse cx="920.6" cy="465.2" rx="1.6" ry="1.5"/><ellipse cx="939.6" cy="471.5" rx="1.8" ry="1"/><ellipse cx="944.3" cy="472.8" rx="1.5" ry="1.3"/><ellipse cx="893.8" cy="352.6" rx="1.2" ry="1.5"/><ellipse cx="898.5" cy="383.6" rx="1.3" ry="1.4"/><ellipse cx="882.7" cy="332.4" rx="1.6" ry="1"/><ellipse cx="862.1" cy="304.6" rx="1.1" ry="1.2"/><ellipse cx="785.4" cy="283.4" rx="1.9" ry="1.1"/><ellipse cx="791" cy="291.5" rx="1.8" ry="1.5"/><ellipse cx="790" cy="295.6" rx="1.9" ry="1.2"/><ellipse cx="809.8" cy="274.7" rx="1.8" ry="1.1"/><ellipse cx="822.5" cy="288.9" rx="1.3" ry="1"/><ellipse cx="835.2" cy="301.1" rx="1.7" ry="1.3"/><ellipse cx="829.1" cy="303.7" rx="1.2" ry="1.5"/><ellipse cx="823.6" cy="306.7" rx="1.8" ry="1.2"/><ellipse cx="772.7" cy="336.2" rx="1.4" ry="1.3"/><ellipse cx="810.9" cy="350.9" rx="1.4" ry="1.1"/><ellipse cx="794.1" cy="357" rx="1.2" ry="1.3"/><ellipse cx="820" cy="359.6" rx="1.3" ry="1.4"/><ellipse cx="811.4" cy="370.3" rx="1.9" ry="1.5"/><ellipse cx="855.1" cy="353.5" rx="1.1" ry="1"/><ellipse cx="860.1" cy="362.6" rx="1.4" ry="1.4"/><ellipse cx="882" cy="332.7" rx="1.6" ry="1.4"/><ellipse cx="859.6" cy="312.3" rx="1.5" ry="1.1"/><ellipse cx="861.7" cy="304.7" rx="1.6" ry="1.2"/><ellipse cx="772.7" cy="241.7" rx="1.2" ry="1.3"/><ellipse cx="814.9" cy="295.6" rx="1.3" ry="1.5"/><ellipse cx="896.7" cy="360.1" rx="1.7" ry="1.4"/><ellipse cx="912.5" cy="391.1" rx="1.3" ry="1"/><ellipse cx="902.3" cy="373.8" rx="1.2" ry="1"/><ellipse cx="893.7" cy="353.5" rx="1.3" ry="1.5"/><ellipse cx="860.7" cy="408.4" rx="1.8" ry="1.3"/><ellipse cx="883" cy="408.9" rx="1.6" ry="1.3"/><ellipse cx="912.2" cy="391.8" rx="1.3" ry="1.3"/><ellipse cx="913.8" cy="415.7" rx="1.2" ry="1.1"/><ellipse cx="910.7" cy="429.9" rx="1.7" ry="1.3"/><ellipse cx="969.1" cy="433.5" rx="1.5" ry="1.4"/><ellipse cx="967.1" cy="438.6" rx="1.3" ry="1.1"/><ellipse cx="934.1" cy="434" rx="1.5" ry="1.5"/><ellipse cx="934.6" cy="441.6" rx="1.6" ry="1.1"/><ellipse cx="1052.5" cy="480.3" rx="1.2" ry="1.5"/><ellipse cx="1024.5" cy="491.4" rx="1.4" ry="1.4"/><ellipse cx="1039.3" cy="497" rx="1.7" ry="1.5"/><ellipse cx="1010.3" cy="503.6" rx="1.9" ry="1.2"/><ellipse cx="1016.4" cy="466" rx="1.6" ry="1.4"/><ellipse cx="1014.4" cy="471.1" rx="1.6" ry="1.3"/><ellipse cx="995.6" cy="514.3" rx="1.8" ry="1.5"/><ellipse cx="990.5" cy="515.3" rx="1.6" ry="1.4"/><ellipse cx="939.2" cy="471.1" rx="1.4" ry="1"/><ellipse cx="944.8" cy="472.6" rx="1.2" ry="1"/><ellipse cx="920.9" cy="465.5" rx="1.7" ry="1.1"/><ellipse cx="1024.5" cy="463.5" rx="1.6" ry="1.1"/><ellipse cx="969.7" cy="420.3" rx="1.1" ry="1.3"/><ellipse cx="973.7" cy="417.8" rx="1.6" ry="1.3"/><ellipse cx="993" cy="416.2" rx="1.8" ry="1.2"/><ellipse cx="1072.8" cy="530.6" rx="1.2" ry="1.2"/></g>
<rect x="680.7" y="206.6" width="1.2" height="1.2" fill="#78d07c"/><rect x="716.1" y="225.9" width="1.2" height="1.2" fill="#78d07c"/><rect x="731.3" y="241.7" width="1.2" height="1.2" fill="#78d07c"/><rect x="811.8" y="275.6" width="1.2" height="1.2" fill="#78d07c"/><rect x="837.2" y="326.5" width="1.2" height="1.2" fill="#78d07c"/><rect x="833.1" y="330" width="1.2" height="1.2" fill="#78d07c"/><rect x="841.3" y="357" width="1.2" height="1.2" fill="#78d07c"/><rect x="799.1" y="345.8" width="1.2" height="1.2" fill="#78d07c"/><rect x="780.8" y="344.8" width="1.2" height="1.2" fill="#78d07c"/><rect x="854.5" y="393" width="1.2" height="1.2" fill="#78d07c"/><rect x="901.7" y="375.8" width="1.2" height="1.2" fill="#78d07c"/><rect x="1038.2" y="464.4" width="1.2" height="1.2" fill="#78d07c"/>
</g>
<path d="M640.9 41.3V549M719.6 41.3V549M798.4 41.3V549M877.1 41.3V549M955.8 41.3V549M1034.5 41.3V549M603.3 98H1077.3M603.3 182.6H1077.3M603.3 267.1H1077.3M603.3 351.7H1077.3M603.3 436.2H1077.3M603.3 520.8H1077.3" fill="none" stroke="#111" stroke-width="1.15" stroke-dasharray="2.9 5.4"/>
<path d="M603.3 113.3Q840.3 283.9 1077.3 473.5M603.3 226.2Q814.2 380.4 1025.1 548" fill="none" stroke="#111" stroke-width="1" stroke-dasharray="12.2 11.45"/>
<g font-size="12" text-anchor="middle">
<text x="640.6" y="288.4">-130</text>
<text x="719.4" y="288.4">-128</text>
<text x="798.1" y="288.4">-126</text>
<text x="876.8" y="288.4">-124</text>
<text x="955.5" y="288.4">-122</text>
<text x="1034.2" y="288.4">-120</text>
</g><g font-size="12" text-anchor="end">
<text x="864.2" y="97.9">16</text>
<text x="864.2" y="182.5">14</text>
<text x="864.2" y="267">12</text>
<text x="864.2" y="351.6">10</text>
<text x="864.2" y="436.1">8</text>
<text x="864.2" y="520.7">6</text>
</g>
<path d="M833.7 294.8h12.4M839.9 288.6v12.4" stroke="#000" stroke-width="4.2"/>
<text x="627.5" y="66" font-size="25">PR max reflectivity projection (dBZ)</text>
<text x="1029.3" y="522.6" font-size="29.2">(b)</text>
<rect x="1085.5" y="531.7" width="9" height="8.8" fill="#f7f7f7"/>
<rect x="1085.5" y="523.2" width="9" height="8.8" fill="#efefef"/>
<rect x="1085.5" y="514.7" width="9" height="8.8" fill="#e8e8e8"/>
<rect x="1085.5" y="506.3" width="9" height="8.8" fill="#e0e0e0"/>
<rect x="1085.5" y="497.8" width="9" height="8.8" fill="#d9d9d9"/>
<rect x="1085.5" y="489.3" width="9" height="8.8" fill="#d1d1d1"/>
<rect x="1085.5" y="480.9" width="9" height="8.8" fill="#c9c9c9"/>
<rect x="1085.5" y="472.4" width="9" height="8.8" fill="#c2c2c2"/>
<rect x="1085.5" y="463.9" width="9" height="8.8" fill="#bababa"/>
<rect x="1085.5" y="455.5" width="9" height="8.8" fill="#b3b3b3"/>
<rect x="1085.5" y="447" width="9" height="8.8" fill="#ababab"/>
<rect x="1085.5" y="438.5" width="9" height="8.8" fill="#a3a3a3"/>
<rect x="1085.5" y="430.1" width="9" height="8.8" fill="#9c9c9c"/>
<rect x="1085.5" y="421.6" width="9" height="8.8" fill="#949494"/>
<rect x="1085.5" y="413.1" width="9" height="8.8" fill="#8ae68e"/>
<rect x="1085.5" y="404.7" width="9" height="8.8" fill="#82dc86"/>
<rect x="1085.5" y="396.2" width="9" height="8.8" fill="#7ad37e"/>
<rect x="1085.5" y="387.7" width="9" height="8.8" fill="#72c876"/>
<rect x="1085.5" y="379.3" width="9" height="8.8" fill="#6aba6e"/>
<rect x="1085.5" y="370.8" width="9" height="8.8" fill="#ccd2ff"/>
<rect x="1085.5" y="362.3" width="9" height="8.8" fill="#bccbff"/>
<rect x="1085.5" y="353.9" width="9" height="8.8" fill="#a8c4ff"/>
<rect x="1085.5" y="345.4" width="9" height="8.8" fill="#90bcff"/>
<rect x="1085.5" y="336.9" width="9" height="8.8" fill="#7cb6ff"/>
<rect x="1085.5" y="328.5" width="9" height="8.8" fill="#64aeff"/>
<rect x="1085.5" y="320" width="9" height="8.8" fill="#50a8ff"/>
<rect x="1085.5" y="311.5" width="9" height="8.8" fill="#4890ff"/>
<rect x="1085.5" y="303.1" width="9" height="8.8" fill="#4070ff"/>
<rect x="1085.5" y="294.6" width="9" height="8.8" fill="#3c50ff"/>
<rect x="1085.5" y="286.1" width="9" height="8.8" fill="#3030ff"/>
<rect x="1085.5" y="277.7" width="9" height="8.8" fill="#0808ff"/>
<rect x="1085.5" y="269.2" width="9" height="8.8" fill="#0000f0"/>
<rect x="1085.5" y="260.7" width="9" height="8.8" fill="#0000dc"/>
<rect x="1085.5" y="252.3" width="9" height="8.8" fill="#0000c8"/>
<rect x="1085.5" y="243.8" width="9" height="8.8" fill="#ffff00"/>
<rect x="1085.5" y="235.3" width="9" height="8.8" fill="#fff200"/>
<rect x="1085.5" y="226.9" width="9" height="8.8" fill="#ffe600"/>
<rect x="1085.5" y="218.4" width="9" height="8.8" fill="#ffdc00"/>
<rect x="1085.5" y="209.9" width="9" height="8.8" fill="#ffd000"/>
<rect x="1085.5" y="201.5" width="9" height="8.8" fill="#ff9800"/>
<rect x="1085.5" y="193" width="9" height="8.8" fill="#ff8c00"/>
<rect x="1085.5" y="184.5" width="9" height="8.8" fill="#ff8200"/>
<rect x="1085.5" y="176.1" width="9" height="8.8" fill="#ff7800"/>
<rect x="1085.5" y="167.6" width="9" height="8.8" fill="#ff6e00"/>
<rect x="1085.5" y="159.1" width="9" height="8.8" fill="#ff4608"/>
<rect x="1085.5" y="150.7" width="9" height="8.8" fill="#ff3c04"/>
<rect x="1085.5" y="142.2" width="9" height="8.8" fill="#ff3000"/>
<rect x="1085.5" y="133.7" width="9" height="8.8" fill="#ff2400"/>
<rect x="1085.5" y="125.2" width="9" height="8.8" fill="#ff1800"/>
<rect x="1085.5" y="116.8" width="9" height="8.8" fill="#cc0000"/>
<rect x="1085.5" y="108.3" width="9" height="8.8" fill="#c00000"/>
<rect x="1085.5" y="99.8" width="9" height="8.8" fill="#b40400"/>
<rect x="1085.5" y="91.4" width="9" height="8.8" fill="#aa0800"/>
<rect x="1085.5" y="82.9" width="9" height="8.8" fill="#a01000"/>
<rect x="1085.5" y="74.4" width="9" height="8.8" fill="#5e0e06"/>
<rect x="1085.5" y="66" width="9" height="8.8" fill="#5c100a"/>
<rect x="1085.5" y="57.5" width="9" height="8.8" fill="#5a1410"/>
<rect x="1085.5" y="49" width="9" height="8.8" fill="#5a1814"/>
<rect x="1085.5" y="40.6" width="9" height="8.8" fill="#5a1a18"/>
<path d="M1094.5 548.6h2" stroke="#333" stroke-width="0.9"/>
<text x="1115" y="556.9" text-anchor="middle" font-size="19.4">0</text>
<path d="M1094.5 497.8h2" stroke="#333" stroke-width="0.9"/>
<text x="1115" y="506.1" text-anchor="middle" font-size="19.4">6</text>
<path d="M1094.5 447h2" stroke="#333" stroke-width="0.9"/>
<text x="1114.4" y="455.3" text-anchor="middle" font-size="19.4">12</text>
<path d="M1094.5 396.2h2" stroke="#333" stroke-width="0.9"/>
<text x="1114.4" y="404.5" text-anchor="middle" font-size="19.4">18</text>
<path d="M1094.5 345.4h2" stroke="#333" stroke-width="0.9"/>
<text x="1114.4" y="353.7" text-anchor="middle" font-size="19.4">24</text>
<path d="M1094.5 294.6h2" stroke="#333" stroke-width="0.9"/>
<text x="1114.4" y="302.9" text-anchor="middle" font-size="19.4">30</text>
<path d="M1094.5 243.8h2" stroke="#333" stroke-width="0.9"/>
<text x="1114.4" y="252.1" text-anchor="middle" font-size="19.4">36</text>
<path d="M1094.5 193h2" stroke="#333" stroke-width="0.9"/>
<text x="1114.4" y="201.3" text-anchor="middle" font-size="19.4">42</text>
<path d="M1094.5 142.2h2" stroke="#333" stroke-width="0.9"/>
<text x="1114.4" y="150.5" text-anchor="middle" font-size="19.4">48</text>
<path d="M1094.5 91.4h2" stroke="#333" stroke-width="0.9"/>
<text x="1114.4" y="99.7" text-anchor="middle" font-size="19.4">54</text>
</g>
<g id="panel-c">
<g clip-path="url(#cc)">
<g stroke="#000" stroke-width="1.3" stroke-linejoin="round">
<polygon points="1549.8,474.8 1551.1,473 1552.9,471.2 1554.9,473.7 1556.4,475.3 1554.2,476.4 1551.4,475.9" fill="#7ad880"/>
<polygon points="1561.1,476 1562.4,474.8 1564,473.3 1566.3,473.4 1568.3,473.9 1570.2,474.2 1571.5,473.7 1572.9,473.4 1575.1,473.2 1575.4,471.8 1576.2,470.3 1576.7,468.2 1577.2,466 1577.4,464.1 1579.5,465.3 1579.4,466.5 1579.2,468.5 1579.8,470.1 1581.5,472 1580,473.4 1578.6,475.2 1578,477.2 1577.4,478.8 1576.6,480.2 1575.9,481.5 1574.9,483.1 1573,482.8 1571.7,482.4 1570.1,481.8 1568.1,481.7 1566.6,481.7 1564.9,481.7 1563.5,480.9 1562,479.7 1561.1,478" fill="#7ad880"/>
<polygon points="1581.6,482 1583,481.3 1584.1,480.1 1585.6,479.5 1586.9,478.3 1588.2,477.2 1589.8,476.7 1591.1,477.8 1592.4,479.2 1594.5,479.9 1596.2,480.5 1598.1,479.2 1599.7,478.5 1601,477.3 1602.3,475.9 1603,475.1 1603.9,473.6 1605.2,470.9 1605.7,472.3 1606.2,473.7 1606.7,475.4 1608.5,477.5 1607.4,479.1 1606.8,480.9 1606.1,482.2 1604.9,484.4 1603.9,486.2 1603.9,488.3 1603.4,490.1 1600.9,488.1 1599.8,487.2 1598.5,485.9 1596.9,486.3 1595,486.5 1593.4,486.8 1591.7,487.2 1590.3,486.9 1588.8,487 1586.5,486.3 1584.9,485.1 1583.3,483.8" fill="#7ad880"/>
<polygon points="1617.7,477.8 1619.4,476.5 1620.5,475.4 1622.3,474.8 1624.6,475.2 1626.2,475.7 1627.5,477 1628.1,478.4 1629.5,479.7 1630.4,480.3 1631.7,481.3 1632.8,482.4 1635.2,483.5 1636.9,484.6 1638.3,484.9 1640,485.7 1642,486.2 1643.5,486.2 1644.9,485.9 1646.8,485.3 1648.3,485.4 1650.3,486 1652.1,486.2 1654.3,485.9 1656.4,485.7 1658.2,485.4 1659.2,487.2 1657.3,488 1655.6,488.3 1654.2,489 1652.8,489 1651,489.3 1649.4,489.4 1647.9,490 1646.8,491.1 1645.6,491.9 1643.7,491.3 1641.8,490.4 1639.9,489.6 1638.7,489.1 1636.7,488 1635.5,487.7 1633.5,487.2 1632.2,486.4 1631.9,488 1631.3,489.3 1631,491.2 1629,491.4 1627,492.1 1626.2,491.3 1624.4,490.1 1623.5,489 1623.2,487.4 1622.7,486.2 1622.7,484.1 1621.7,483.2 1620.7,481.6 1619.5,480.1 1618.3,478.8" fill="#7ad880"/>
<polygon points="1663.3,485.5 1665.5,485.6 1666.1,487 1664.2,488.2" fill="#3c7c40"/>
<polygon points="1598.9,494.6 1601.6,493.6 1602.4,494.9 1603.7,496 1604.6,497.7 1606.4,498.2 1608,498.8 1610.1,499 1612.2,499.8 1612,502.4 1610.9,502.6 1609,502.9 1607.4,503.4 1605.5,502.1 1603.3,501.7 1601.8,499.9 1600.9,498.4 1599.9,496.6" fill="#7ad880"/>
<polygon points="1615.2,510.8 1617.7,508.8 1620.9,508.3 1620,510.6 1617.5,512.4 1616,512.9" fill="#7ad880"/>
<polygon points="1634,511.8 1635.4,511.3 1637,510.2 1638.7,511.6 1640.1,513.1 1640.6,514.9 1640.8,517 1639.3,517.9 1637.8,518.3 1636.3,517.4 1634.8,516.2 1634.2,513.8" fill="#7ad880"/>
<polygon points="1658.8,509.1 1661.4,509.7 1663.5,508.3 1665.7,507.5 1665.7,509.5 1665.8,511.9 1665.8,513.6 1664,512.6 1662.1,511.3 1659.2,510.5" fill="#7ad880"/>
<polygon points="1635.3,497.9 1637.9,496.9 1638.2,500.2 1636.4,500.8" fill="#3c7c40"/>
<polygon points="1596.7,512.4 1597.6,511.1 1598.8,509.3 1599.1,511.6 1597.6,513.4" fill="#3c7c40"/>
<polygon points="1645,519.2 1646.8,518.8 1649,518.4 1650.5,518.5 1652.5,519.2 1654.3,519.4 1655.6,521.2 1656.8,522.3 1655.8,523 1653.9,523.7 1652.8,524.7 1650.2,523.9 1648.1,522.9 1646.9,521.1" fill="#7ad880"/>
<polygon points="1628.5,521.4 1631.4,520.7 1632.5,522.8 1630,524.1" fill="#3c7c40"/>
<polygon points="1584.3,421.5 1585.8,420.2 1587.2,419 1588.2,418.5 1588.5,417 1589.2,415.1 1590,413.3 1589.9,412 1592,413.9 1593.4,415.6 1596.1,415.9 1597.2,418.5 1596.1,419.8 1595.4,420.9 1593.1,422.4 1591.1,423.3 1589.5,423.5 1587.6,423.7 1585.7,422.6" fill="#7ad880"/>
<polygon points="1569.9,419.8 1570.8,418.4 1572.4,417.1 1575.6,416.3 1577.3,417.4 1575.4,418.9 1572.9,419.4 1571.8,421" fill="#7ad880"/>
<polygon points="1551,406.6 1552.8,405.5 1554.1,404.8 1555.7,404.1 1556.8,403.3 1559,404.1 1558.9,406 1557,406.5 1555.7,407.1 1553.8,407.6 1552.2,407.9" fill="#7ad880"/>
<polygon points="1532.6,404.9 1534.7,403.8 1536,406.1 1534.5,406.5" fill="#3c7c40"/>
<polygon points="1539.7,408.4 1541.5,406.9 1543.2,409.4 1540.4,409.5" fill="#3c7c40"/>
<polygon points="1569.7,400 1571.7,397.9 1573,399.1 1571.3,400.5" fill="#3c7c40"/>
<polygon points="1572.9,406.6 1573.6,405.1 1575.1,404 1576.5,404.3 1575.4,406 1574.1,407.9" fill="#3c7c40"/>
<polygon points="1524.1,383.7 1526,382 1528,382.6 1525.7,384.8 1524.4,384.9" fill="#3c7c40"/>
<polygon points="1528.1,447.3 1530.5,445.2 1531.8,445.3 1531.5,447.8 1531.8,449.6 1530.8,451.4 1530.1,453 1528.5,452.2 1528.3,450.7 1528.7,449" fill="#7ad880"/>
<polygon points="1523.9,452.7 1525.7,452.2 1526.5,454.8 1524.7,454.6" fill="#3c7c40"/>
<polygon points="1518.1,460 1519.8,458.6 1520.8,460.3 1519.6,462.6 1518.6,461.9" fill="#3c7c40"/>
<polygon points="1399.5,299.3 1401.9,297.5 1403.4,299.1 1404.7,300.4 1406.5,300.7 1408.2,301.1 1409.2,299.1 1409.8,297.2 1412,297.7 1412,299.8 1411.9,302.1 1410.9,303.7 1410.6,304.8 1408.6,305 1406.4,305.8 1404.8,304.5 1402.5,303.2 1401.9,301.5 1400.9,300.6" fill="#7ad880"/>
<polygon points="1433.9,319.3 1434,317.9 1434.3,316.3 1434.4,314.3 1435.4,312.9 1436.5,310.9 1437.3,309.2 1437.5,307.2 1439.2,308.7 1441,309.4 1442.3,310.4 1444.1,311.6 1443.4,313.7 1443,315.4 1441.3,317.2 1440,318.1 1439.3,320.5 1439,322.1 1439.4,324.3 1439.7,326 1438.2,327.5 1436.5,327.1 1435.4,326 1432.4,324 1433.3,322.7 1433.1,321.2" fill="#7ad880"/>
<polygon points="1418.2,324.5 1418.9,322.4 1420.2,320.3 1422,319.5 1424,318.5 1425.5,317.9 1427.6,317.5 1428.8,316.2 1429.7,314.5 1429.8,316.7 1429.8,318.5 1428.9,319.8 1427.9,321.3 1426.4,323 1426,324.5 1423.8,325.2 1421.7,326 1419.3,325.9" fill="#7ad880"/>
<polygon points="1385.2,336.1 1388.2,335.6 1389,334.1 1389.5,331.7 1391.1,334.6 1392.3,335.6 1393.9,336.7 1391.9,338.8 1392.6,341.3 1390.1,340.5 1387.8,340.9 1388.7,338.4 1386.7,337.1" fill="#7ad880"/>
<polygon points="1393,348 1394.3,347.1 1396,349 1395.4,350.4 1393.6,350.1" fill="#3c7c40"/>
<polygon points="1461.8,377.5 1463.7,376.3 1465.6,376.9 1464.9,379.3 1463,379.2" fill="#3c7c40"/>
<polygon points="1483.1,372.1 1485.8,370.3 1487.3,370.8 1486,373.9 1484,374.3" fill="#3c7c40"/>
<polygon points="1487.4,364.2 1489.1,363.4 1490.1,365 1489.1,366.8" fill="#3c7c40"/>
<polygon points="1488,384.1 1489.8,383 1490.2,384 1488.2,385.1" fill="#3c7c40"/>
<polygon points="1523.5,383.8 1526,382.3 1527.4,382.5 1525.3,384.8 1524.2,385.6" fill="#3c7c40"/>
<polygon points="1462.2,399.6 1464,398.5 1464.7,399.9 1462.9,401" fill="#3c7c40"/>
<polygon points="1460,404.9 1461.2,403.6 1462.9,404.7 1461.8,407.2 1460,406.6" fill="#3c7c40"/>
<polygon points="1533.6,405.2 1535.7,404.1 1537.9,405.9 1535.2,406.7" fill="#3c7c40"/>
<polygon points="1371.4,277.2 1372.4,275.7 1373.7,274.5 1374.8,274.7 1373.6,276.3 1372.4,278.3" fill="#3c7c40"/>
<polygon points="1395.1,287.2 1396.2,287.4 1396.5,288.6 1396.5,290.3 1395.3,290.6 1395.5,289.1" fill="#3c7c40"/>
<polygon points="1376.7,311 1377.6,310.1 1379.2,312.4 1378.3,313.3" fill="#3c7c40"/>
<polygon points="1286.4,217.8 1288.2,217.5 1289.5,216.7 1290.9,219.3 1289.5,219.2 1287.8,219.8" fill="#3c7c40"/>
<polygon points="1295.3,217.6 1297.2,217.3 1299.1,217 1300.6,219.7 1298.3,219.8 1296.5,219.8" fill="#3c7c40"/>
<polygon points="1305.3,217.4 1308.1,217.2 1308.9,219 1305.7,219.7" fill="#3c7c40"/>
<polygon points="1336.1,230.8 1338.7,229.6 1338.7,231.4 1339.1,233.1 1339.6,234.9 1338.2,237.1 1336.3,235.6 1336,234.1 1336.1,232.4" fill="#3c7c40"/>
<polygon points="1247.5,225.2 1248.7,224.1 1249.9,222.9 1251.6,224.8 1250.5,226.3 1249.4,227.5" fill="#3c7c40"/>
<polygon points="1195.1,224.6 1196.8,225.6 1198.4,227.4 1196,227.7" fill="#3c7c40"/>
<polygon points="1497.6,419.5 1499.6,418.5 1500.1,420.5 1500.6,422.4 1498.5,423.5 1498.2,421.6" fill="#3c7c40"/>
<polygon points="1494.2,428.7 1496.6,427.9 1497.2,429.8 1497.3,431.7 1494.5,432.5 1494.8,430.4" fill="#3c7c40"/>
<polygon points="1528.3,445.2 1530.9,444.6 1530.9,446.4 1531,448.3 1531.2,450.3 1531.2,451.7 1529.1,452.6 1528.8,450.8 1528.8,448.8 1528.7,446.9" fill="#3c7c40"/>
<polygon points="1517.6,459 1520.8,457.9 1521.3,460.4 1520.4,461.3 1518.8,462.5 1518.2,460.5" fill="#3c7c40"/>
</g>
<rect x="1565" y="476.4" width="1.6" height="1.6" fill="#9cc6ff"/><rect x="1566.5" y="478.6" width="1.6" height="1.6" fill="#9cc6ff"/><rect x="1573.1" y="476.4" width="1.6" height="1.6" fill="#9cc6ff"/><rect x="1589.4" y="482.5" width="1.6" height="1.6" fill="#ff7800"/><rect x="1587.3" y="483.3" width="1.6" height="1.6" fill="#9cc6ff"/><rect x="1583.8" y="482" width="1.6" height="1.6" fill="#9cc6ff"/><rect x="1645.3" y="487.6" width="1.6" height="1.6" fill="#ff7800"/><rect x="1644.3" y="486.1" width="1.6" height="1.6" fill="#9cc6ff"/><rect x="1628" y="479.5" width="1.6" height="1.6" fill="#9cc6ff"/><rect x="1623.9" y="486.6" width="1.6" height="1.6" fill="#9cc6ff"/><rect x="1601.6" y="497.2" width="1.6" height="1.6" fill="#9cc6ff"/><rect x="1636.6" y="514.5" width="1.6" height="1.6" fill="#9cc6ff"/><rect x="1637.1" y="516.6" width="1.6" height="1.6" fill="#ff7800"/><rect x="1592.9" y="417" width="1.6" height="1.6" fill="#ff7800"/><rect x="1589.4" y="420.5" width="1.6" height="1.6" fill="#9cc6ff"/><rect x="1529.2" y="446.9" width="1.6" height="1.6" fill="#9cc6ff"/><rect x="1439.7" y="312" width="1.6" height="1.6" fill="#ff7800"/><rect x="1438.2" y="313.6" width="1.6" height="1.6" fill="#9cc6ff"/><rect x="1436.7" y="315.1" width="1.6" height="1.6" fill="#9cc6ff"/><rect x="1435.1" y="319.7" width="1.6" height="1.6" fill="#9cc6ff"/><rect x="1462.8" y="377.1" width="1.6" height="1.6" fill="#ff7800"/><rect x="1529" y="446.7" width="1.6" height="1.6" fill="#9cc6ff"/>
<g fill="#142414"><ellipse cx="1200.3" cy="183.5" rx="1.2" ry="1.2"/><ellipse cx="1250.9" cy="171.1" rx="1.5" ry="1.1"/><ellipse cx="1211.7" cy="192.3" rx="1" ry="1"/><ellipse cx="1220.3" cy="190.1" rx="1.3" ry="1"/><ellipse cx="1210.8" cy="200.2" rx="1.1" ry="1"/><ellipse cx="1244" cy="184.4" rx="1.5" ry="1"/><ellipse cx="1261.4" cy="190.1" rx="1.5" ry="1.3"/><ellipse cx="1273.4" cy="190.1" rx="1.2" ry="1.2"/><ellipse cx="1282.5" cy="189.2" rx="1.1" ry="1"/><ellipse cx="1254.1" cy="199.3" rx="1.1" ry="1.1"/><ellipse cx="1240.8" cy="201.8" rx="1.1" ry="1.2"/><ellipse cx="1241.4" cy="205" rx="1.4" ry="1"/><ellipse cx="1256.6" cy="203.4" rx="1.2" ry="1"/><ellipse cx="1255" cy="209.7" rx="1.6" ry="1.3"/><ellipse cx="1271.5" cy="213.8" rx="1.1" ry="1.1"/><ellipse cx="1199.7" cy="227.7" rx="1.5" ry="1.1"/><ellipse cx="1204.4" cy="227.7" rx="1.2" ry="1.2"/><ellipse cx="1209.2" cy="227.4" rx="1" ry="1.3"/><ellipse cx="1256" cy="220.8" rx="1.5" ry="1.1"/><ellipse cx="1250.9" cy="231.2" rx="1.2" ry="0.9"/><ellipse cx="1239.2" cy="232.5" rx="1.2" ry="1.1"/><ellipse cx="1240.8" cy="236.6" rx="1.3" ry="1"/><ellipse cx="1244" cy="236" rx="1.2" ry="1"/><ellipse cx="1342" cy="220.8" rx="1" ry="1.1"/><ellipse cx="1362.5" cy="241.3" rx="1.3" ry="1.1"/><ellipse cx="1277.2" cy="248.3" rx="1.3" ry="1.2"/><ellipse cx="1288.2" cy="254" rx="1.6" ry="1.1"/><ellipse cx="1503.3" cy="391.5" rx="1.4" ry="1.1"/><ellipse cx="1451.1" cy="407.4" rx="1.3" ry="0.9"/><ellipse cx="1453.3" cy="416.8" rx="1.1" ry="1.1"/><ellipse cx="1503.9" cy="414.6" rx="1.4" ry="1"/><ellipse cx="1559.5" cy="420" rx="1.2" ry="0.9"/><ellipse cx="1563.3" cy="419.1" rx="1.4" ry="1.2"/><ellipse cx="1558.6" cy="433.6" rx="1.1" ry="1"/><ellipse cx="1557" cy="439" rx="1.1" ry="1"/><ellipse cx="1524.8" cy="442.1" rx="1.3" ry="1.2"/><ellipse cx="1511.2" cy="465.2" rx="1.3" ry="1.2"/><ellipse cx="1530.1" cy="471.5" rx="1.2" ry="1.1"/><ellipse cx="1534.9" cy="472.8" rx="1.4" ry="1.2"/><ellipse cx="1484.3" cy="352.6" rx="1.5" ry="1.2"/><ellipse cx="1489" cy="383.6" rx="1.1" ry="1.1"/><ellipse cx="1473.2" cy="332.4" rx="1.1" ry="1"/><ellipse cx="1452.7" cy="304.6" rx="1.3" ry="1.1"/><ellipse cx="1376" cy="283.4" rx="1.1" ry="1.1"/><ellipse cx="1381.6" cy="291.5" rx="1.2" ry="0.9"/><ellipse cx="1380.5" cy="295.6" rx="1.5" ry="1.2"/><ellipse cx="1400.4" cy="274.7" rx="1.5" ry="1"/><ellipse cx="1413.1" cy="288.9" rx="1.5" ry="1.3"/><ellipse cx="1425.8" cy="301.1" rx="1" ry="1"/><ellipse cx="1419.7" cy="303.7" rx="1.2" ry="1"/><ellipse cx="1414.1" cy="306.7" rx="1.3" ry="1.2"/><ellipse cx="1363.3" cy="336.2" rx="1.4" ry="1.3"/><ellipse cx="1401.4" cy="350.9" rx="1.4" ry="1.2"/><ellipse cx="1384.6" cy="357" rx="1.3" ry="1.2"/><ellipse cx="1410.5" cy="359.6" rx="1.1" ry="1.1"/><ellipse cx="1401.9" cy="370.3" rx="1.2" ry="1"/><ellipse cx="1445.6" cy="353.5" rx="1.2" ry="0.9"/><ellipse cx="1450.7" cy="362.6" rx="1.3" ry="1"/><ellipse cx="1472.5" cy="332.7" rx="1.3" ry="1.1"/><ellipse cx="1450.2" cy="312.3" rx="1.3" ry="1.3"/><ellipse cx="1452.2" cy="304.7" rx="1.3" ry="1.2"/><ellipse cx="1363.3" cy="241.7" rx="1.6" ry="1.1"/><ellipse cx="1405.4" cy="295.6" rx="1.5" ry="1.1"/><ellipse cx="1487.3" cy="360.1" rx="1" ry="1"/><ellipse cx="1503" cy="391.1" rx="1.1" ry="1.2"/><ellipse cx="1492.9" cy="373.8" rx="1.1" ry="1.2"/><ellipse cx="1484.2" cy="353.5" rx="1.2" ry="1.2"/><ellipse cx="1451.2" cy="408.4" rx="1.5" ry="1.2"/><ellipse cx="1473.5" cy="408.9" rx="1.4" ry="1.1"/><ellipse cx="1502.8" cy="391.8" rx="1.3" ry="1.1"/><ellipse cx="1504.3" cy="415.7" rx="1.5" ry="1.1"/><ellipse cx="1501.2" cy="429.9" rx="1.2" ry="1.2"/><ellipse cx="1559.7" cy="433.5" rx="1.4" ry="0.9"/><ellipse cx="1557.6" cy="438.6" rx="1.2" ry="1"/><ellipse cx="1524.6" cy="434" rx="1.2" ry="0.9"/><ellipse cx="1525.1" cy="441.6" rx="1.3" ry="1.1"/><ellipse cx="1643" cy="480.3" rx="1.4" ry="1.1"/><ellipse cx="1615.1" cy="491.4" rx="1.5" ry="1.2"/><ellipse cx="1629.8" cy="497" rx="1.6" ry="0.9"/><ellipse cx="1600.8" cy="503.6" rx="1.5" ry="1.3"/><ellipse cx="1606.9" cy="466" rx="1.3" ry="1.1"/><ellipse cx="1604.9" cy="471.1" rx="1.5" ry="1"/><ellipse cx="1586.1" cy="514.3" rx="1.5" ry="1.1"/><ellipse cx="1581" cy="515.3" rx="1.5" ry="1.2"/><ellipse cx="1529.7" cy="471.1" rx="1.3" ry="1"/><ellipse cx="1535.3" cy="472.6" rx="1.2" ry="1.2"/><ellipse cx="1511.4" cy="465.5" rx="1.2" ry="1"/><ellipse cx="1615.1" cy="463.5" rx="1.2" ry="1.1"/><ellipse cx="1560.2" cy="420.3" rx="1.3" ry="1.2"/><ellipse cx="1564.2" cy="417.8" rx="1" ry="1.1"/><ellipse cx="1583.6" cy="416.2" rx="1.1" ry="1.1"/><ellipse cx="1663.3" cy="530.6" rx="1.1" ry="1.2"/></g>
<rect x="1271.3" y="206.7" width="1" height="1" fill="#78d07c"/><rect x="1306.7" y="226" width="1" height="1" fill="#78d07c"/><rect x="1321.9" y="241.8" width="1" height="1" fill="#78d07c"/><rect x="1402.4" y="275.7" width="1" height="1" fill="#78d07c"/><rect x="1427.8" y="326.6" width="1" height="1" fill="#78d07c"/><rect x="1423.7" y="330.1" width="1" height="1" fill="#78d07c"/><rect x="1431.9" y="357.1" width="1" height="1" fill="#78d07c"/><rect x="1389.7" y="345.9" width="1" height="1" fill="#78d07c"/><rect x="1371.4" y="344.9" width="1" height="1" fill="#78d07c"/><rect x="1445.1" y="393.1" width="1" height="1" fill="#78d07c"/><rect x="1492.4" y="375.9" width="1" height="1" fill="#78d07c"/><rect x="1628.8" y="464.5" width="1" height="1" fill="#78d07c"/>
</g>
<path d="M1231.5 41.3V549M1310.2 41.3V549M1388.9 41.3V549M1467.6 41.3V549M1546.3 41.3V549M1625.1 41.3V549M1193.9 98H1667.9M1193.9 182.6H1667.9M1193.9 267.1H1667.9M1193.9 351.7H1667.9M1193.9 436.2H1667.9M1193.9 520.8H1667.9" fill="none" stroke="#111" stroke-width="1.15" stroke-dasharray="2.9 5.4"/>
<path d="M1193.9 113.3Q1430.9 283.9 1667.9 473.5M1193.9 226.2Q1404.8 380.4 1615.7 548" fill="none" stroke="#111" stroke-width="1" stroke-dasharray="12.2 11.45"/>
<g font-size="12" text-anchor="middle">
<text x="1231.2" y="288.4">-130</text>
<text x="1309.9" y="288.4">-128</text>
<text x="1388.6" y="288.4">-126</text>
<text x="1467.3" y="288.4">-124</text>
<text x="1546" y="288.4">-122</text>
<text x="1624.8" y="288.4">-120</text>
</g><g font-size="12" text-anchor="end">
<text x="1454.8" y="97.9">16</text>
<text x="1454.8" y="182.5">14</text>
<text x="1454.8" y="267">12</text>
<text x="1454.8" y="351.6">10</text>
<text x="1454.8" y="436.1">8</text>
<text x="1454.8" y="520.7">6</text>
</g>
<path d="M1424.3 294.8h12.4M1430.5 288.6v12.4" stroke="#000" stroke-width="4.2"/>
<text x="1217.7" y="66" font-size="25">2A25 near surface rainrate (mm/hr)</text>
<text x="1619.9" y="522.6" font-size="29.2">(c)</text>
<rect x="1676.1" y="523.2" width="9" height="17.2" fill="#8ae68e"/>
<rect x="1676.1" y="514.7" width="9" height="8.8" fill="#82dc86"/>
<rect x="1676.1" y="497.8" width="9" height="17.2" fill="#7ad37e"/>
<rect x="1676.1" y="489.3" width="9" height="8.8" fill="#72c876"/>
<rect x="1676.1" y="480.9" width="9" height="8.8" fill="#6aba6e"/>
<rect x="1676.1" y="463.9" width="9" height="17.2" fill="#ccd2ff"/>
<rect x="1676.1" y="455.5" width="9" height="8.8" fill="#bccbff"/>
<rect x="1676.1" y="447" width="9" height="8.8" fill="#a8c4ff"/>
<rect x="1676.1" y="430.1" width="9" height="17.2" fill="#90bcff"/>
<rect x="1676.1" y="421.6" width="9" height="8.8" fill="#7cb6ff"/>
<rect x="1676.1" y="413.1" width="9" height="8.8" fill="#64aeff"/>
<rect x="1676.1" y="396.2" width="9" height="17.2" fill="#50a8ff"/>
<rect x="1676.1" y="387.7" width="9" height="8.8" fill="#4890ff"/>
<rect x="1676.1" y="379.3" width="9" height="8.8" fill="#4070ff"/>
<rect x="1676.1" y="362.3" width="9" height="17.2" fill="#3c50ff"/>
<rect x="1676.1" y="353.9" width="9" height="8.8" fill="#3030ff"/>
<rect x="1676.1" y="345.4" width="9" height="8.8" fill="#0808ff"/>
<rect x="1676.1" y="328.5" width="9" height="17.2" fill="#0000f0"/>
<rect x="1676.1" y="320" width="9" height="8.8" fill="#0000dc"/>
<rect x="1676.1" y="311.5" width="9" height="8.8" fill="#0000c8"/>
<rect x="1676.1" y="294.6" width="9" height="17.2" fill="#ffff00"/>
<rect x="1676.1" y="286.1" width="9" height="8.8" fill="#fff200"/>
<rect x="1676.1" y="269.2" width="9" height="17.2" fill="#ffe600"/>
<rect x="1676.1" y="260.7" width="9" height="8.8" fill="#ffdc00"/>
<rect x="1676.1" y="252.3" width="9" height="8.8" fill="#ffd000"/>
<rect x="1676.1" y="235.3" width="9" height="17.2" fill="#ff9800"/>
<rect x="1676.1" y="226.9" width="9" height="8.8" fill="#ff8c00"/>
<rect x="1676.1" y="218.4" width="9" height="8.8" fill="#ff8200"/>
<rect x="1676.1" y="209.9" width="9" height="8.8" fill="#ff7800"/>
<rect x="1676.1" y="201.5" width="9" height="8.8" fill="#ff6e00"/>
<rect x="1676.1" y="184.5" width="9" height="17.2" fill="#ff4608"/>
<rect x="1676.1" y="176.1" width="9" height="8.8" fill="#ff3c04"/>
<rect x="1676.1" y="159.1" width="9" height="17.2" fill="#ff3000"/>
<rect x="1676.1" y="150.7" width="9" height="8.8" fill="#ff2400"/>
<rect x="1676.1" y="142.2" width="9" height="8.8" fill="#ff1800"/>
<rect x="1676.1" y="125.2" width="9" height="17.2" fill="#cc0000"/>
<rect x="1676.1" y="116.8" width="9" height="8.8" fill="#c00000"/>
<rect x="1676.1" y="99.8" width="9" height="17.2" fill="#b40400"/>
<rect x="1676.1" y="91.4" width="9" height="8.8" fill="#aa0800"/>
<rect x="1676.1" y="82.9" width="9" height="8.8" fill="#a01000"/>
<rect x="1676.1" y="74.4" width="9" height="8.8" fill="#5e0e06"/>
<rect x="1676.1" y="66" width="9" height="8.8" fill="#5c100a"/>
<rect x="1676.1" y="57.5" width="9" height="8.8" fill="#5a1410"/>
<rect x="1676.1" y="49" width="9" height="8.8" fill="#5a1814"/>
<rect x="1676.1" y="40.6" width="9" height="8.8" fill="#5a1a18"/>
<path d="M1685.1 548.6h2" stroke="#333" stroke-width="0.9"/>
<text x="1705.6" y="556.9" text-anchor="middle" font-size="19.4">0</text>
<path d="M1685.1 497.8h2" stroke="#333" stroke-width="0.9"/>
<text x="1705.6" y="506.1" text-anchor="middle" font-size="19.4">6</text>
<path d="M1685.1 447h2" stroke="#333" stroke-width="0.9"/>
<text x="1705" y="455.3" text-anchor="middle" font-size="19.4">12</text>
<path d="M1685.1 396.2h2" stroke="#333" stroke-width="0.9"/>
<text x="1705" y="404.5" text-anchor="middle" font-size="19.4">18</text>
<path d="M1685.1 345.4h2" stroke="#333" stroke-width="0.9"/>
<text x="1705" y="353.7" text-anchor="middle" font-size="19.4">24</text>
<path d="M1685.1 294.6h2" stroke="#333" stroke-width="0.9"/>
<text x="1705" y="302.9" text-anchor="middle" font-size="19.4">30</text>
<path d="M1685.1 243.8h2" stroke="#333" stroke-width="0.9"/>
<text x="1705" y="252.1" text-anchor="middle" font-size="19.4">36</text>
<path d="M1685.1 193h2" stroke="#333" stroke-width="0.9"/>
<text x="1705" y="201.3" text-anchor="middle" font-size="19.4">42</text>
<path d="M1685.1 142.2h2" stroke="#333" stroke-width="0.9"/>
<text x="1705" y="150.5" text-anchor="middle" font-size="19.4">48</text>
<path d="M1685.1 91.4h2" stroke="#333" stroke-width="0.9"/>
<text x="1705" y="99.7" text-anchor="middle" font-size="19.4">54</text>
</g>
<g id="panel-d">
<g clip-path="url(#cd)">
<defs><filter id="bd" x="-50%" y="-50%" width="200%" height="200%"><feGaussianBlur stdDeviation="3"/></filter><filter id="bl" x="-50%" y="-50%" width="200%" height="200%"><feGaussianBlur stdDeviation="14"/></filter><clipPath id="swd"><polygon points="12.8,631.7 110.8,631.7 486.8,916.3 486.8,1139.7 243.6,1139.7 12.8,965.3"/></clipPath></defs>
<polygon points="12.8,631.7 110.8,631.7 486.8,916.3 486.8,1139.7 243.6,1139.7 12.8,965.3" fill="#eaeaea"/>
<g clip-path="url(#swd)">
<g filter="url(#bl)" fill="#fff">
<ellipse cx="70" cy="920.7" rx="60" ry="50" transform="rotate(37 70 920.7)" opacity="0.55"/>
<ellipse cx="170" cy="890.7" rx="70" ry="25" transform="rotate(37 170 890.7)" opacity="0.35"/>
<ellipse cx="330" cy="1060.7" rx="80" ry="30" transform="rotate(37 330 1060.7)" opacity="0.3"/>
<ellipse cx="120" cy="790.7" rx="50" ry="18" transform="rotate(37 120 790.7)" opacity="0.2"/>
<ellipse cx="440" cy="1090.7" rx="40" ry="30" transform="rotate(0 440 1090.7)" opacity="0.25"/>
<ellipse cx="300" cy="890.7" rx="40" ry="14" transform="rotate(37 300 890.7)" opacity="0.25"/>
</g>
<g transform="translate(12.8 631.7) rotate(37.1) scale(4.2)" shape-rendering="crispEdges" >
<path d="M18 -14h1v1h-1zM20 -14h2v1h-2zM41 -14h3v1h-3zM49 -14h3v1h-3zM54 -14h3v1h-3zM59 -14h3v1h-3zM97 -14h1v1h-1zM99 -14h8v1h-8zM117 -14h1v1h-1zM122 -14h4v1h-4zM130 -14h1v1h-1zM27 -13h6v1h-6zM54 -13h1v1h-1zM62 -13h3v1h-3zM66 -13h3v1h-3zM78 -13h4v1h-4zM88 -13h1v1h-1zM106 -13h3v1h-3zM118 -13h1v1h-1zM124 -13h1v1h-1zM15 -12h1v1h-1zM21 -12h4v1h-4zM38 -12h2v1h-2zM52 -12h2v1h-2zM65 -12h4v1h-4zM81 -12h1v1h-1zM122 -12h1v1h-1zM33 -11h2v1h-2zM47 -11h1v1h-1zM94 -11h1v1h-1zM113 -11h2v1h-2zM118 -11h2v1h-2zM127 -11h3v1h-3zM131 -11h1v1h-1zM22 -10h2v1h-2zM37 -10h5v1h-5zM48 -10h2v1h-2zM103 -10h2v1h-2zM19 -9h2v1h-2zM31 -9h1v1h-1zM40 -9h5v1h-5zM59 -9h1v1h-1zM61 -9h1v1h-1zM86 -9h4v1h-4zM100 -9h5v1h-5zM122 -9h5v1h-5zM34 -8h1v1h-1zM52 -8h5v1h-5zM68 -8h1v1h-1zM82 -8h4v1h-4zM102 -8h3v1h-3zM118 -8h3v1h-3zM126 -8h2v1h-2zM129 -8h2v1h-2zM24 -7h1v1h-1zM29 -7h2v1h-2zM38 -7h2v1h-2zM54 -7h1v1h-1zM63 -7h1v1h-1zM66 -7h1v1h-1zM70 -7h1v1h-1zM81 -7h1v1h-1zM112 -7h1v1h-1zM123 -7h3v1h-3zM20 -6h1v1h-1zM32 -6h7v1h-7zM56 -6h3v1h-3zM62 -6h1v1h-1zM67 -6h2v1h-2zM128 -6h1v1h-1zM26 -5h1v1h-1zM32 -5h4v1h-4zM47 -5h4v1h-4zM52 -5h3v1h-3zM66 -5h2v1h-2zM83 -5h1v1h-1zM105 -5h3v1h-3zM7 -4h2v1h-2zM20 -4h2v1h-2zM30 -4h2v1h-2zM78 -4h2v1h-2zM118 -4h2v1h-2zM126 -4h1v1h-1zM8 -3h1v1h-1zM17 -3h1v1h-1zM42 -3h1v1h-1zM56 -3h8v1h-8zM95 -3h1v1h-1zM108 -3h5v1h-5zM7 -2h2v1h-2zM30 -2h6v1h-6zM56 -2h1v1h-1zM78 -2h5v1h-5zM114 -2h4v1h-4zM122 -2h2v1h-2zM130 -2h2v1h-2zM9 -1h1v1h-1zM32 -1h1v1h-1zM38 -1h4v1h-4zM48 -1h1v1h-1zM96 -1h1v1h-1zM99 -1h1v1h-1zM113 -1h2v1h-2zM119 -1h3v1h-3zM123 -1h4v1h-4zM14 0h4v1h-4zM23 0h1v1h-1zM27 0h1v1h-1zM67 0h1v1h-1zM74 0h3v1h-3zM82 0h2v1h-2zM97 0h1v1h-1zM103 0h4v1h-4zM118 0h2v1h-2zM126 0h1v1h-1zM139 0h3v1h-3zM28 1h1v1h-1zM42 1h4v1h-4zM77 1h1v1h-1zM89 1h2v1h-2zM117 1h3v1h-3zM124 1h7v1h-7zM140 1h1v1h-1zM27 2h1v1h-1zM37 2h1v1h-1zM89 2h2v1h-2zM98 2h3v1h-3zM123 2h1v1h-1zM130 2h1v1h-1zM13 3h4v1h-4zM19 3h1v1h-1zM45 3h2v1h-2zM85 3h3v1h-3zM100 3h2v1h-2zM109 3h2v1h-2zM127 3h4v1h-4zM12 4h1v1h-1zM24 4h2v1h-2zM28 4h4v1h-4zM60 4h5v1h-5zM68 4h2v1h-2zM72 4h1v1h-1zM74 4h3v1h-3zM118 4h1v1h-1zM124 4h3v1h-3zM134 4h2v1h-2zM16 5h2v1h-2zM46 5h11v1h-11zM67 5h2v1h-2zM70 5h1v1h-1zM91 5h1v1h-1zM102 5h2v1h-2zM21 6h3v1h-3zM25 6h1v1h-1zM45 6h1v1h-1zM56 6h1v1h-1zM75 6h2v1h-2zM80 6h6v1h-6zM115 6h1v1h-1zM132 6h2v1h-2zM37 7h1v1h-1zM43 7h1v1h-1zM60 7h2v1h-2zM63 7h1v1h-1zM84 7h1v1h-1zM88 7h1v1h-1zM122 7h1v1h-1zM129 7h5v1h-5zM14 8h2v1h-2zM31 8h2v1h-2zM64 8h3v1h-3zM91 8h1v1h-1zM112 8h2v1h-2zM121 8h2v1h-2zM125 8h1v1h-1zM142 8h1v1h-1zM146 8h2v1h-2zM10 9h1v1h-1zM27 9h2v1h-2zM58 9h1v1h-1zM78 9h5v1h-5zM105 9h1v1h-1zM111 9h1v1h-1zM145 9h3v1h-3zM13 10h4v1h-4zM48 10h7v1h-7zM88 10h2v1h-2zM110 10h7v1h-7zM120 10h2v1h-2zM126 10h2v1h-2zM136 10h3v1h-3zM24 11h2v1h-2zM35 11h1v1h-1zM46 11h1v1h-1zM71 11h2v1h-2zM108 11h1v1h-1zM111 11h1v1h-1zM149 11h1v1h-1zM11 12h3v1h-3zM21 12h2v1h-2zM31 12h1v1h-1zM49 12h2v1h-2zM55 12h4v1h-4zM62 12h4v1h-4zM77 12h1v1h-1zM85 12h4v1h-4zM104 12h1v1h-1zM119 12h3v1h-3zM126 12h4v1h-4zM136 12h1v1h-1zM147 12h1v1h-1zM14 13h1v1h-1zM22 13h3v1h-3zM62 13h1v1h-1zM66 13h3v1h-3zM74 13h2v1h-2zM113 13h3v1h-3zM147 13h1v1h-1zM49 14h1v1h-1zM19 15h3v1h-3zM51 15h3v1h-3zM62 15h1v1h-1zM67 15h3v1h-3zM75 15h1v1h-1zM83 15h1v1h-1zM117 15h7v1h-7zM145 15h5v1h-5zM23 16h2v1h-2zM53 16h2v1h-2zM80 16h1v1h-1zM95 16h2v1h-2zM105 16h4v1h-4zM129 16h1v1h-1zM25 17h1v1h-1zM27 17h1v1h-1zM109 17h5v1h-5zM14 18h2v1h-2zM22 18h2v1h-2zM98 18h6v1h-6zM130 18h1v1h-1zM141 18h2v1h-2zM144 18h1v1h-1zM151 18h1v1h-1zM154 18h1v1h-1zM15 19h3v1h-3zM25 19h3v1h-3zM38 19h2v1h-2zM84 19h2v1h-2zM92 19h1v1h-1zM117 19h4v1h-4zM126 19h2v1h-2zM150 19h1v1h-1zM21 20h1v1h-1zM43 20h3v1h-3zM61 20h1v1h-1zM63 20h2v1h-2zM111 20h1v1h-1zM115 20h1v1h-1zM134 20h2v1h-2zM140 20h2v1h-2zM25 21h1v1h-1zM29 21h1v1h-1zM58 21h12v1h-12zM78 21h11v1h-11zM119 21h1v1h-1zM148 21h3v1h-3zM39 22h8v1h-8zM61 22h1v1h-1zM64 22h3v1h-3zM78 22h5v1h-5zM105 22h1v1h-1zM112 22h2v1h-2zM119 22h2v1h-2zM29 23h6v1h-6zM56 23h1v1h-1zM61 23h2v1h-2zM85 23h2v1h-2zM89 23h4v1h-4zM101 23h3v1h-3zM110 23h1v1h-1zM116 23h1v1h-1zM118 23h4v1h-4zM125 23h4v1h-4zM156 23h1v1h-1zM29 24h1v1h-1zM36 24h4v1h-4zM50 24h2v1h-2zM68 24h1v1h-1zM82 24h2v1h-2zM101 24h2v1h-2zM106 24h3v1h-3zM120 24h1v1h-1zM151 24h2v1h-2zM156 24h1v1h-1zM34 25h1v1h-1zM84 25h1v1h-1zM114 25h4v1h-4zM139 25h6v1h-6zM23 26h2v1h-2zM37 26h3v1h-3zM57 26h2v1h-2zM63 26h4v1h-4zM75 26h1v1h-1zM77 26h2v1h-2zM88 26h1v1h-1zM90 26h1v1h-1zM136 26h6v1h-6zM45 27h2v1h-2zM80 27h3v1h-3zM91 27h3v1h-3zM105 27h5v1h-5zM127 27h2v1h-2zM148 27h2v1h-2zM154 27h3v1h-3zM24 28h8v1h-8zM76 28h1v1h-1zM91 28h3v1h-3zM95 28h1v1h-1zM106 28h2v1h-2zM136 28h2v1h-2zM144 28h1v1h-1zM31 29h1v1h-1zM36 29h1v1h-1zM81 29h1v1h-1zM85 29h1v1h-1zM104 29h3v1h-3zM109 29h1v1h-1zM127 29h3v1h-3zM157 29h3v1h-3zM69 30h1v1h-1zM77 30h1v1h-1zM80 30h3v1h-3zM97 30h1v1h-1zM116 30h1v1h-1zM125 30h3v1h-3zM158 30h1v1h-1zM47 31h3v1h-3zM57 31h7v1h-7zM76 31h2v1h-2zM105 31h4v1h-4zM115 31h3v1h-3zM132 31h2v1h-2zM28 32h2v1h-2zM38 32h3v1h-3zM45 32h2v1h-2zM63 32h1v1h-1zM71 32h1v1h-1zM32 33h1v1h-1zM50 33h5v1h-5zM66 33h2v1h-2zM69 33h2v1h-2zM76 33h1v1h-1zM80 33h1v1h-1zM90 33h2v1h-2zM98 33h1v1h-1zM136 33h2v1h-2zM142 33h1v1h-1zM29 34h1v1h-1zM41 34h1v1h-1zM45 34h2v1h-2zM87 34h1v1h-1zM110 34h1v1h-1zM133 34h5v1h-5zM145 34h3v1h-3zM27 35h6v1h-6zM34 35h1v1h-1zM55 35h2v1h-2zM64 35h2v1h-2zM70 35h4v1h-4zM116 35h1v1h-1zM134 35h1v1h-1zM146 35h1v1h-1zM61 36h1v1h-1zM70 36h1v1h-1zM74 36h2v1h-2zM82 36h1v1h-1zM111 36h7v1h-7zM37 37h2v1h-2zM56 37h1v1h-1zM65 37h3v1h-3zM78 37h1v1h-1zM104 37h4v1h-4zM135 37h1v1h-1zM145 37h1v1h-1zM50 38h1v1h-1zM63 38h1v1h-1zM73 38h3v1h-3zM100 38h4v1h-4zM105 38h1v1h-1zM115 38h1v1h-1zM147 38h2v1h-2zM52 39h1v1h-1zM43 40h1v1h-1zM51 40h2v1h-2zM62 40h1v1h-1zM67 40h1v1h-1zM74 40h2v1h-2zM100 40h1v1h-1zM103 40h8v1h-8zM143 40h2v1h-2zM58 41h5v1h-5zM106 41h3v1h-3zM112 41h1v1h-1zM123 41h4v1h-4zM43 42h1v1h-1zM86 42h6v1h-6zM96 42h2v1h-2zM106 42h9v1h-9zM120 42h2v1h-2zM55 43h5v1h-5zM70 43h1v1h-1zM79 43h2v1h-2zM87 43h1v1h-1zM94 43h1v1h-1zM123 43h3v1h-3zM87 44h3v1h-3zM132 44h2v1h-2zM34 45h3v1h-3zM55 45h1v1h-1zM61 45h1v1h-1zM74 45h3v1h-3zM96 45h1v1h-1zM112 45h2v1h-2zM52 46h3v1h-3zM70 46h4v1h-4zM110 46h2v1h-2zM118 46h5v1h-5zM132 46h1v1h-1zM58 47h1v1h-1zM62 47h2v1h-2zM65 47h2v1h-2zM81 47h5v1h-5zM96 47h1v1h-1zM99 47h1v1h-1zM128 47h1v1h-1zM40 48h1v1h-1zM45 48h2v1h-2zM58 48h3v1h-3zM63 48h1v1h-1zM78 48h1v1h-1zM108 48h2v1h-2zM61 49h4v1h-4zM67 49h1v1h-1zM83 49h3v1h-3zM89 49h6v1h-6zM108 49h2v1h-2zM122 49h3v1h-3zM128 49h1v1h-1zM131 49h4v1h-4zM47 50h2v1h-2zM60 50h1v1h-1zM69 50h2v1h-2zM76 50h4v1h-4zM103 50h2v1h-2zM107 50h2v1h-2zM118 50h4v1h-4zM53 51h1v1h-1zM88 51h2v1h-2zM91 51h6v1h-6zM102 51h4v1h-4zM127 51h4v1h-4zM83 52h2v1h-2zM93 52h1v1h-1zM101 52h1v1h-1zM126 52h2v1h-2zM115 53h3v1h-3zM49 54h1v1h-1zM62 54h1v1h-1zM68 54h1v1h-1zM78 54h5v1h-5zM92 54h2v1h-2zM95 54h2v1h-2zM111 54h1v1h-1zM75 55h1v1h-1zM83 55h2v1h-2zM95 55h8v1h-8zM116 55h1v1h-1zM47 56h1v1h-1zM70 56h1v1h-1zM73 56h2v1h-2zM78 56h1v1h-1zM90 56h2v1h-2zM101 56h1v1h-1zM105 56h1v1h-1zM108 56h1v1h-1zM44 57h2v1h-2zM82 57h2v1h-2zM93 57h1v1h-1zM106 57h2v1h-2zM110 57h4v1h-4zM48 58h6v1h-6zM80 58h1v1h-1zM85 58h1v1h-1zM99 58h1v1h-1zM58 59h1v1h-1zM61 59h3v1h-3zM74 59h5v1h-5zM80 59h4v1h-4zM91 59h3v1h-3zM98 59h3v1h-3zM106 59h2v1h-2zM55 60h1v1h-1zM68 60h1v1h-1zM74 60h2v1h-2zM95 60h3v1h-3zM104 60h3v1h-3zM120 60h1v1h-1zM47 61h1v1h-1zM61 61h4v1h-4zM99 61h3v1h-3zM116 61h2v1h-2zM54 62h1v1h-1zM56 62h1v1h-1zM71 62h1v1h-1z" fill="#e3e3e3"/>
<path d="M19 -14h1v1h-1zM69 -14h2v1h-2zM125 -13h1v1h-1zM72 -12h4v1h-4zM16 -11h2v1h-2zM24 -11h1v1h-1zM26 -11h5v1h-5zM37 -11h2v1h-2zM54 -10h3v1h-3zM62 -10h1v1h-1zM68 -10h2v1h-2zM79 -10h1v1h-1zM95 -10h1v1h-1zM51 -9h2v1h-2zM58 -8h2v1h-2zM96 -8h3v1h-3zM62 -7h1v1h-1zM82 -7h2v1h-2zM91 -7h1v1h-1zM109 -7h3v1h-3zM100 -6h6v1h-6zM133 -6h4v1h-4zM15 -5h2v1h-2zM25 -5h1v1h-1zM75 -5h1v1h-1zM14 -4h2v1h-2zM22 -4h2v1h-2zM28 -4h1v1h-1zM35 -4h1v1h-1zM76 -4h2v1h-2zM27 -3h1v1h-1zM33 -3h2v1h-2zM79 -3h1v1h-1zM129 -3h6v1h-6zM21 -1h4v1h-4zM58 -1h3v1h-3zM68 -1h2v1h-2zM87 -1h1v1h-1zM105 -1h7v1h-7zM10 0h1v1h-1zM84 0h1v1h-1zM109 0h1v1h-1zM134 0h2v1h-2zM64 1h4v1h-4zM70 1h5v1h-5zM93 1h3v1h-3zM108 1h1v1h-1zM135 1h4v1h-4zM12 2h1v1h-1zM54 2h3v1h-3zM65 2h1v1h-1zM68 2h2v1h-2zM7 3h1v1h-1zM29 3h1v1h-1zM71 3h2v1h-2zM113 3h2v1h-2zM119 3h2v1h-2zM84 4h1v1h-1zM128 4h2v1h-2zM136 4h2v1h-2zM32 5h2v1h-2zM35 5h3v1h-3zM62 5h1v1h-1zM93 5h1v1h-1zM100 5h2v1h-2zM127 5h10v1h-10zM18 6h1v1h-1zM33 6h5v1h-5zM39 6h1v1h-1zM87 7h1v1h-1zM104 7h2v1h-2zM23 8h5v1h-5zM47 8h5v1h-5zM71 8h1v1h-1zM103 8h4v1h-4zM129 8h8v1h-8zM18 9h1v1h-1zM40 9h1v1h-1zM101 9h1v1h-1zM141 9h2v1h-2zM148 9h1v1h-1zM24 10h1v1h-1zM129 10h2v1h-2zM132 10h3v1h-3zM145 10h1v1h-1zM51 11h6v1h-6zM60 11h1v1h-1zM97 11h2v1h-2zM101 11h4v1h-4zM136 11h1v1h-1zM144 11h3v1h-3zM20 12h1v1h-1zM23 12h3v1h-3zM92 12h1v1h-1zM115 12h4v1h-4zM64 13h1v1h-1zM109 13h3v1h-3zM119 13h1v1h-1zM143 13h2v1h-2zM34 14h1v1h-1zM43 14h1v1h-1zM59 14h1v1h-1zM36 15h2v1h-2zM42 15h1v1h-1zM49 15h1v1h-1zM71 15h1v1h-1zM81 15h1v1h-1zM84 15h1v1h-1zM96 15h1v1h-1zM45 16h1v1h-1zM49 16h2v1h-2zM109 16h1v1h-1zM112 16h1v1h-1zM133 16h1v1h-1zM14 17h5v1h-5zM21 17h1v1h-1zM31 17h1v1h-1zM125 17h1v1h-1zM37 18h4v1h-4zM81 18h2v1h-2zM106 18h1v1h-1zM116 18h1v1h-1zM29 19h4v1h-4zM130 19h1v1h-1zM51 20h3v1h-3zM112 20h3v1h-3zM130 20h2v1h-2zM34 21h2v1h-2zM89 21h9v1h-9zM104 21h3v1h-3zM146 21h2v1h-2zM26 22h2v1h-2zM118 22h1v1h-1zM124 22h1v1h-1zM142 22h10v1h-10zM78 23h2v1h-2zM96 23h4v1h-4zM123 23h1v1h-1zM133 23h3v1h-3zM46 24h2v1h-2zM63 24h2v1h-2zM140 24h1v1h-1zM88 25h4v1h-4zM146 25h2v1h-2zM73 26h2v1h-2zM81 26h2v1h-2zM99 26h3v1h-3zM23 27h3v1h-3zM42 27h3v1h-3zM63 27h2v1h-2zM71 27h1v1h-1zM134 27h2v1h-2zM146 27h2v1h-2zM152 27h1v1h-1zM40 28h1v1h-1zM42 28h1v1h-1zM55 28h2v1h-2zM84 28h1v1h-1zM92 29h3v1h-3zM111 29h1v1h-1zM147 29h6v1h-6zM42 30h4v1h-4zM87 30h4v1h-4zM151 30h1v1h-1zM35 31h3v1h-3zM75 31h1v1h-1zM91 31h4v1h-4zM148 31h3v1h-3zM35 32h3v1h-3zM61 32h1v1h-1zM74 32h1v1h-1zM92 32h1v1h-1zM105 32h3v1h-3zM121 32h1v1h-1zM136 32h2v1h-2zM143 32h2v1h-2zM147 32h1v1h-1zM28 33h2v1h-2zM34 33h1v1h-1zM36 33h1v1h-1zM56 33h3v1h-3zM61 33h2v1h-2zM154 33h2v1h-2zM54 34h5v1h-5zM63 34h2v1h-2zM69 34h2v1h-2zM82 34h5v1h-5zM96 34h1v1h-1zM100 34h1v1h-1zM45 35h3v1h-3zM51 35h3v1h-3zM117 35h3v1h-3zM151 35h3v1h-3zM65 36h4v1h-4zM78 36h2v1h-2zM124 36h1v1h-1zM136 36h5v1h-5zM63 37h1v1h-1zM138 37h1v1h-1zM43 38h5v1h-5zM57 38h5v1h-5zM80 38h5v1h-5zM110 38h1v1h-1zM114 38h1v1h-1zM118 38h1v1h-1zM126 38h2v1h-2zM130 38h2v1h-2zM48 39h1v1h-1zM117 39h1v1h-1zM138 39h1v1h-1zM87 40h2v1h-2zM113 40h1v1h-1zM128 40h5v1h-5zM89 41h3v1h-3zM110 41h2v1h-2zM121 41h1v1h-1zM136 41h8v1h-8zM80 42h2v1h-2zM35 43h2v1h-2zM39 44h1v1h-1zM137 44h2v1h-2zM85 45h7v1h-7zM69 46h1v1h-1zM81 46h3v1h-3zM85 46h2v1h-2zM127 46h5v1h-5zM39 47h2v1h-2zM100 47h3v1h-3zM133 47h1v1h-1zM77 48h1v1h-1zM99 48h2v1h-2zM78 49h3v1h-3zM116 49h1v1h-1zM113 50h2v1h-2zM127 50h4v1h-4zM61 51h1v1h-1zM71 51h1v1h-1zM50 52h4v1h-4zM99 52h2v1h-2zM119 52h4v1h-4zM85 53h4v1h-4zM95 53h3v1h-3zM47 54h2v1h-2zM63 54h1v1h-1zM76 54h1v1h-1zM119 54h1v1h-1zM46 55h1v1h-1zM52 55h1v1h-1zM107 55h2v1h-2zM117 55h1v1h-1zM124 55h1v1h-1zM102 56h2v1h-2zM48 57h3v1h-3zM62 57h4v1h-4zM77 57h2v1h-2zM55 58h2v1h-2zM100 58h5v1h-5zM108 58h3v1h-3zM121 58h2v1h-2zM52 60h1v1h-1zM57 60h1v1h-1zM72 60h2v1h-2zM72 61h1v1h-1zM90 61h6v1h-6zM62 62h3v1h-3zM91 62h3v1h-3z" fill="#f6f6f6"/>
<path d="M27 -14h1v1h-1zM38 -14h2v1h-2zM45 -14h1v1h-1zM83 -14h1v1h-1zM127 -14h1v1h-1zM22 -13h1v1h-1zM55 -13h1v1h-1zM95 -13h8v1h-8zM114 -13h2v1h-2zM122 -13h2v1h-2zM25 -12h2v1h-2zM41 -12h1v1h-1zM95 -12h5v1h-5zM110 -12h1v1h-1zM80 -11h1v1h-1zM48 -8h1v1h-1zM92 -8h2v1h-2zM95 -7h1v1h-1zM8 -6h6v1h-6zM24 -6h2v1h-2zM90 -6h2v1h-2zM116 -5h1v1h-1zM122 -5h3v1h-3zM128 -4h4v1h-4zM137 -4h1v1h-1zM45 -3h1v1h-1zM99 -3h5v1h-5zM36 -2h2v1h-2zM89 -2h1v1h-1zM6 0h3v1h-3zM45 0h3v1h-3zM81 0h1v1h-1zM79 1h1v1h-1zM103 1h1v1h-1zM113 1h1v1h-1zM84 2h2v1h-2zM127 2h2v1h-2zM22 3h6v1h-6zM96 3h3v1h-3zM54 4h3v1h-3zM104 4h6v1h-6zM120 4h1v1h-1zM9 5h4v1h-4zM122 5h1v1h-1zM55 6h1v1h-1zM60 6h4v1h-4zM68 6h3v1h-3zM112 7h1v1h-1zM7 8h1v1h-1zM8 10h2v1h-2zM27 10h1v1h-1zM60 10h4v1h-4zM101 10h1v1h-1zM57 11h2v1h-2zM75 11h2v1h-2zM89 11h3v1h-3zM44 12h3v1h-3zM104 13h4v1h-4zM100 15h3v1h-3zM126 15h2v1h-2zM33 16h1v1h-1zM62 16h1v1h-1zM19 17h2v1h-2zM35 17h2v1h-2zM127 17h2v1h-2zM130 17h1v1h-1zM119 18h2v1h-2zM131 18h1v1h-1zM81 19h1v1h-1zM135 19h1v1h-1zM140 19h2v1h-2zM151 19h1v1h-1zM72 20h4v1h-4zM53 22h1v1h-1zM42 23h5v1h-5zM53 23h3v1h-3zM139 23h1v1h-1zM91 24h3v1h-3zM118 25h2v1h-2zM130 25h1v1h-1zM132 25h1v1h-1zM26 26h2v1h-2zM49 27h3v1h-3zM69 27h1v1h-1zM143 27h2v1h-2zM116 29h3v1h-3zM125 29h2v1h-2zM24 30h2v1h-2zM34 30h1v1h-1zM41 30h1v1h-1zM132 30h1v1h-1zM46 31h1v1h-1zM48 32h3v1h-3zM57 32h2v1h-2zM151 32h1v1h-1zM132 33h1v1h-1zM150 33h2v1h-2zM129 34h1v1h-1zM154 34h1v1h-1zM80 35h1v1h-1zM145 35h1v1h-1zM53 36h3v1h-3zM63 36h1v1h-1zM86 36h1v1h-1zM104 36h1v1h-1zM106 36h1v1h-1zM91 37h1v1h-1zM101 37h1v1h-1zM109 37h1v1h-1zM131 37h2v1h-2zM91 38h1v1h-1zM93 40h2v1h-2zM99 41h4v1h-4zM100 42h4v1h-4zM42 43h1v1h-1zM51 43h1v1h-1zM54 43h1v1h-1zM95 43h1v1h-1zM84 44h1v1h-1zM56 45h3v1h-3zM58 46h3v1h-3zM64 46h1v1h-1zM100 46h2v1h-2zM108 46h2v1h-2zM121 47h2v1h-2zM37 48h1v1h-1zM82 48h3v1h-3zM69 51h2v1h-2zM77 51h2v1h-2zM40 52h1v1h-1zM54 52h2v1h-2zM91 52h2v1h-2zM128 52h1v1h-1zM49 53h3v1h-3zM59 57h1v1h-1zM79 57h3v1h-3zM94 57h2v1h-2zM100 57h1v1h-1zM82 58h3v1h-3zM113 58h1v1h-1zM114 59h3v1h-3zM118 60h2v1h-2zM50 61h1v1h-1zM59 62h2v1h-2z" fill="#dcdcdc"/>
<path d="M31 -14h1v1h-1zM74 -14h1v1h-1zM76 -14h1v1h-1zM111 -14h3v1h-3zM120 -14h1v1h-1zM126 -14h1v1h-1zM18 -13h3v1h-3zM70 -13h2v1h-2zM76 -13h2v1h-2zM128 -13h1v1h-1zM48 -12h2v1h-2zM59 -12h1v1h-1zM70 -12h2v1h-2zM76 -12h2v1h-2zM92 -12h2v1h-2zM112 -12h1v1h-1zM126 -12h6v1h-6zM15 -11h1v1h-1zM19 -11h4v1h-4zM58 -11h1v1h-1zM61 -11h3v1h-3zM109 -11h4v1h-4zM121 -11h1v1h-1zM16 -10h6v1h-6zM50 -10h1v1h-1zM70 -10h4v1h-4zM81 -10h2v1h-2zM105 -10h3v1h-3zM109 -10h5v1h-5zM117 -10h1v1h-1zM119 -10h1v1h-1zM131 -10h3v1h-3zM27 -9h1v1h-1zM57 -9h1v1h-1zM76 -9h1v1h-1zM78 -9h2v1h-2zM108 -9h1v1h-1zM117 -9h2v1h-2zM127 -9h1v1h-1zM37 -8h2v1h-2zM66 -8h1v1h-1zM72 -8h8v1h-8zM105 -8h1v1h-1zM112 -8h1v1h-1zM133 -8h1v1h-1zM45 -7h3v1h-3zM56 -7h2v1h-2zM74 -7h4v1h-4zM89 -7h1v1h-1zM96 -7h4v1h-4zM106 -7h2v1h-2zM120 -7h1v1h-1zM133 -7h4v1h-4zM21 -6h2v1h-2zM27 -6h1v1h-1zM64 -6h1v1h-1zM74 -6h8v1h-8zM85 -6h5v1h-5zM110 -6h1v1h-1zM121 -6h2v1h-2zM127 -6h1v1h-1zM129 -6h4v1h-4zM10 -5h1v1h-1zM41 -5h6v1h-6zM56 -5h2v1h-2zM59 -5h2v1h-2zM62 -5h3v1h-3zM77 -5h3v1h-3zM81 -5h2v1h-2zM108 -5h4v1h-4zM127 -5h1v1h-1zM26 -4h1v1h-1zM41 -4h4v1h-4zM56 -4h1v1h-1zM65 -4h2v1h-2zM84 -4h2v1h-2zM97 -4h6v1h-6zM124 -4h1v1h-1zM132 -4h2v1h-2zM11 -3h2v1h-2zM19 -3h2v1h-2zM29 -3h4v1h-4zM36 -3h1v1h-1zM39 -3h1v1h-1zM50 -3h6v1h-6zM67 -3h6v1h-6zM104 -3h3v1h-3zM118 -3h4v1h-4zM9 -2h1v1h-1zM12 -2h2v1h-2zM20 -2h2v1h-2zM26 -2h3v1h-3zM45 -2h1v1h-1zM64 -2h9v1h-9zM92 -2h4v1h-4zM104 -2h3v1h-3zM126 -2h2v1h-2zM135 -2h3v1h-3zM6 -1h1v1h-1zM10 -1h1v1h-1zM19 -1h1v1h-1zM29 -1h2v1h-2zM35 -1h1v1h-1zM55 -1h3v1h-3zM90 -1h2v1h-2zM100 -1h4v1h-4zM115 -1h3v1h-3zM134 -1h2v1h-2zM37 0h1v1h-1zM59 0h1v1h-1zM80 0h1v1h-1zM111 0h3v1h-3zM116 0h1v1h-1zM120 0h2v1h-2zM129 0h3v1h-3zM133 0h1v1h-1zM5 1h1v1h-1zM14 1h3v1h-3zM21 1h2v1h-2zM24 1h4v1h-4zM29 1h1v1h-1zM51 1h9v1h-9zM62 1h2v1h-2zM68 1h2v1h-2zM76 1h1v1h-1zM87 1h2v1h-2zM97 1h6v1h-6zM110 1h1v1h-1zM141 1h1v1h-1zM22 2h1v1h-1zM29 2h1v1h-1zM32 2h1v1h-1zM43 2h3v1h-3zM67 2h1v1h-1zM71 2h6v1h-6zM92 2h1v1h-1zM110 2h7v1h-7zM137 2h3v1h-3zM9 3h3v1h-3zM31 3h2v1h-2zM38 3h6v1h-6zM68 3h1v1h-1zM74 3h1v1h-1zM77 3h1v1h-1zM88 3h1v1h-1zM105 3h1v1h-1zM123 3h1v1h-1zM125 3h1v1h-1zM131 3h4v1h-4zM143 3h1v1h-1zM23 4h1v1h-1zM47 4h1v1h-1zM51 4h3v1h-3zM86 4h5v1h-5zM95 4h3v1h-3zM110 4h3v1h-3zM123 4h1v1h-1zM127 4h1v1h-1zM141 4h1v1h-1zM4 5h2v1h-2zM40 5h1v1h-1zM44 5h2v1h-2zM77 5h7v1h-7zM96 5h3v1h-3zM138 5h1v1h-1zM140 5h3v1h-3zM15 6h2v1h-2zM49 6h4v1h-4zM77 6h1v1h-1zM90 6h5v1h-5zM135 6h1v1h-1zM144 6h2v1h-2zM7 7h1v1h-1zM10 7h1v1h-1zM27 7h8v1h-8zM47 7h1v1h-1zM51 7h3v1h-3zM65 7h7v1h-7zM79 7h4v1h-4zM95 7h8v1h-8zM117 7h3v1h-3zM126 7h2v1h-2zM138 7h4v1h-4zM17 8h4v1h-4zM43 8h4v1h-4zM59 8h3v1h-3zM67 8h1v1h-1zM78 8h1v1h-1zM96 8h5v1h-5zM123 8h1v1h-1zM20 9h1v1h-1zM34 9h1v1h-1zM44 9h1v1h-1zM59 9h1v1h-1zM71 9h1v1h-1zM83 9h7v1h-7zM91 9h1v1h-1zM93 9h7v1h-7zM135 9h5v1h-5zM143 9h1v1h-1zM37 10h1v1h-1zM40 10h6v1h-6zM57 10h2v1h-2zM65 10h10v1h-10zM77 10h3v1h-3zM85 10h2v1h-2zM93 10h1v1h-1zM97 10h1v1h-1zM100 10h1v1h-1zM105 10h1v1h-1zM108 10h2v1h-2zM118 10h2v1h-2zM142 10h1v1h-1zM15 11h3v1h-3zM38 11h1v1h-1zM45 11h1v1h-1zM81 11h1v1h-1zM87 11h1v1h-1zM100 11h1v1h-1zM106 11h2v1h-2zM113 11h7v1h-7zM127 11h2v1h-2zM133 11h1v1h-1zM137 11h1v1h-1zM142 11h1v1h-1zM147 11h1v1h-1zM28 12h2v1h-2zM32 12h2v1h-2zM35 12h4v1h-4zM43 12h1v1h-1zM73 12h4v1h-4zM83 12h1v1h-1zM97 12h2v1h-2zM108 12h5v1h-5zM124 12h1v1h-1zM132 12h1v1h-1zM139 12h4v1h-4zM144 12h2v1h-2zM11 13h2v1h-2zM43 13h2v1h-2zM49 13h2v1h-2zM54 13h2v1h-2zM86 13h1v1h-1zM96 13h1v1h-1zM101 13h1v1h-1zM129 13h3v1h-3zM137 13h5v1h-5zM145 13h2v1h-2zM16 14h2v1h-2zM24 14h1v1h-1zM35 14h2v1h-2zM39 14h2v1h-2zM50 14h1v1h-1zM66 14h1v1h-1zM68 14h3v1h-3zM78 14h10v1h-10zM93 14h2v1h-2zM101 14h2v1h-2zM104 14h1v1h-1zM110 14h11v1h-11zM126 14h1v1h-1zM136 14h5v1h-5zM144 14h1v1h-1zM16 15h1v1h-1zM29 15h5v1h-5zM43 15h2v1h-2zM63 15h1v1h-1zM82 15h1v1h-1zM103 15h2v1h-2zM110 15h1v1h-1zM128 15h1v1h-1zM133 15h2v1h-2zM17 16h1v1h-1zM19 16h1v1h-1zM26 16h1v1h-1zM35 16h1v1h-1zM41 16h1v1h-1zM46 16h2v1h-2zM58 16h2v1h-2zM73 16h4v1h-4zM93 16h1v1h-1zM110 16h1v1h-1zM113 16h10v1h-10zM124 16h1v1h-1zM132 16h1v1h-1zM134 16h5v1h-5zM143 16h3v1h-3zM39 17h3v1h-3zM49 17h7v1h-7zM60 17h1v1h-1zM69 17h1v1h-1zM71 17h3v1h-3zM87 17h3v1h-3zM100 17h2v1h-2zM114 17h1v1h-1zM142 17h2v1h-2zM26 18h1v1h-1zM28 18h3v1h-3zM42 18h6v1h-6zM73 18h6v1h-6zM85 18h3v1h-3zM109 18h2v1h-2zM123 18h1v1h-1zM134 18h1v1h-1zM137 18h4v1h-4zM145 18h3v1h-3zM47 19h1v1h-1zM49 19h3v1h-3zM57 19h4v1h-4zM68 19h1v1h-1zM78 19h1v1h-1zM98 19h1v1h-1zM103 19h2v1h-2zM107 19h6v1h-6zM23 20h5v1h-5zM31 20h3v1h-3zM66 20h3v1h-3zM70 20h1v1h-1zM84 20h3v1h-3zM88 20h1v1h-1zM102 20h3v1h-3zM106 20h1v1h-1zM123 20h5v1h-5zM136 20h2v1h-2zM147 20h10v1h-10zM21 21h2v1h-2zM31 21h1v1h-1zM47 21h5v1h-5zM55 21h1v1h-1zM115 21h1v1h-1zM117 21h1v1h-1zM125 21h6v1h-6zM134 21h10v1h-10zM153 21h2v1h-2zM20 22h6v1h-6zM28 22h1v1h-1zM49 22h3v1h-3zM57 22h1v1h-1zM67 22h3v1h-3zM76 22h2v1h-2zM84 22h1v1h-1zM104 22h1v1h-1zM106 22h4v1h-4zM121 22h1v1h-1zM135 22h1v1h-1zM158 22h1v1h-1zM18 23h1v1h-1zM21 23h1v1h-1zM23 23h1v1h-1zM35 23h2v1h-2zM47 23h6v1h-6zM58 23h1v1h-1zM67 23h3v1h-3zM130 23h2v1h-2zM149 23h2v1h-2zM23 24h6v1h-6zM70 24h1v1h-1zM96 24h4v1h-4zM123 24h1v1h-1zM142 24h2v1h-2zM145 24h2v1h-2zM149 24h2v1h-2zM23 25h2v1h-2zM26 25h5v1h-5zM35 25h4v1h-4zM54 25h2v1h-2zM63 25h8v1h-8zM97 25h3v1h-3zM107 25h1v1h-1zM122 25h2v1h-2zM125 25h2v1h-2zM138 25h1v1h-1zM149 25h2v1h-2zM51 26h1v1h-1zM53 26h3v1h-3zM67 26h1v1h-1zM69 26h1v1h-1zM93 26h2v1h-2zM105 26h1v1h-1zM107 26h2v1h-2zM111 26h3v1h-3zM143 26h4v1h-4zM155 26h1v1h-1zM32 27h1v1h-1zM54 27h2v1h-2zM74 27h3v1h-3zM83 27h1v1h-1zM99 27h3v1h-3zM115 27h2v1h-2zM138 27h1v1h-1zM47 28h5v1h-5zM67 28h2v1h-2zM104 28h1v1h-1zM109 28h2v1h-2zM123 28h1v1h-1zM129 28h2v1h-2zM132 28h1v1h-1zM143 28h1v1h-1zM153 28h1v1h-1zM28 29h2v1h-2zM44 29h3v1h-3zM52 29h10v1h-10zM65 29h2v1h-2zM76 29h1v1h-1zM79 29h1v1h-1zM91 29h1v1h-1zM100 29h3v1h-3zM110 29h1v1h-1zM134 29h5v1h-5zM140 29h2v1h-2zM160 29h2v1h-2zM31 30h2v1h-2zM56 30h13v1h-13zM70 30h2v1h-2zM76 30h1v1h-1zM84 30h2v1h-2zM112 30h4v1h-4zM118 30h5v1h-5zM130 30h1v1h-1zM150 30h1v1h-1zM152 30h2v1h-2zM38 31h1v1h-1zM50 31h3v1h-3zM72 31h2v1h-2zM83 31h5v1h-5zM100 31h1v1h-1zM118 31h1v1h-1zM123 31h5v1h-5zM135 31h9v1h-9zM25 32h2v1h-2zM32 32h3v1h-3zM55 32h1v1h-1zM66 32h5v1h-5zM88 32h1v1h-1zM94 32h5v1h-5zM124 32h4v1h-4zM138 32h1v1h-1zM154 32h4v1h-4zM30 33h1v1h-1zM39 33h3v1h-3zM65 33h1v1h-1zM68 33h1v1h-1zM74 33h1v1h-1zM84 33h2v1h-2zM106 33h3v1h-3zM110 33h1v1h-1zM113 33h2v1h-2zM140 33h1v1h-1zM144 33h2v1h-2zM35 34h1v1h-1zM52 34h1v1h-1zM71 34h1v1h-1zM79 34h3v1h-3zM114 34h4v1h-4zM123 34h2v1h-2zM127 34h1v1h-1zM38 35h3v1h-3zM48 35h3v1h-3zM58 35h5v1h-5zM89 35h1v1h-1zM101 35h2v1h-2zM104 35h3v1h-3zM122 35h1v1h-1zM127 35h6v1h-6zM138 35h7v1h-7zM30 36h2v1h-2zM38 36h4v1h-4zM76 36h1v1h-1zM89 36h1v1h-1zM96 36h1v1h-1zM126 36h3v1h-3zM132 36h1v1h-1zM141 36h1v1h-1zM145 36h5v1h-5zM51 37h2v1h-2zM70 37h3v1h-3zM92 37h1v1h-1zM97 37h1v1h-1zM115 37h2v1h-2zM119 37h1v1h-1zM123 37h5v1h-5zM29 38h1v1h-1zM33 38h3v1h-3zM49 38h1v1h-1zM54 38h3v1h-3zM97 38h2v1h-2zM107 38h1v1h-1zM122 38h4v1h-4zM139 38h3v1h-3zM149 38h1v1h-1zM30 39h1v1h-1zM37 39h2v1h-2zM47 39h1v1h-1zM58 39h8v1h-8zM88 39h2v1h-2zM96 39h2v1h-2zM124 39h1v1h-1zM127 39h4v1h-4zM31 40h4v1h-4zM79 40h3v1h-3zM89 40h1v1h-1zM101 40h2v1h-2zM122 40h1v1h-1zM135 40h2v1h-2zM142 40h1v1h-1zM35 41h5v1h-5zM46 41h2v1h-2zM49 41h1v1h-1zM56 41h1v1h-1zM70 41h2v1h-2zM82 41h1v1h-1zM84 41h4v1h-4zM92 41h2v1h-2zM115 41h2v1h-2zM127 41h1v1h-1zM131 41h2v1h-2zM44 42h6v1h-6zM53 42h8v1h-8zM62 42h2v1h-2zM70 42h3v1h-3zM132 42h1v1h-1zM138 42h5v1h-5zM49 43h1v1h-1zM62 43h1v1h-1zM72 43h1v1h-1zM75 43h1v1h-1zM77 43h1v1h-1zM81 43h4v1h-4zM96 43h3v1h-3zM100 43h1v1h-1zM105 43h3v1h-3zM121 43h1v1h-1zM128 43h4v1h-4zM135 43h7v1h-7zM36 44h2v1h-2zM40 44h3v1h-3zM44 44h1v1h-1zM49 44h4v1h-4zM85 44h1v1h-1zM107 44h5v1h-5zM118 44h1v1h-1zM121 44h2v1h-2zM125 44h2v1h-2zM130 44h1v1h-1zM38 45h2v1h-2zM93 45h1v1h-1zM97 45h2v1h-2zM108 45h1v1h-1zM115 45h4v1h-4zM121 45h1v1h-1zM127 45h10v1h-10zM36 46h4v1h-4zM41 46h3v1h-3zM48 46h2v1h-2zM66 46h3v1h-3zM74 46h4v1h-4zM89 46h4v1h-4zM98 46h2v1h-2zM116 46h1v1h-1zM45 47h1v1h-1zM49 47h1v1h-1zM53 47h4v1h-4zM61 47h1v1h-1zM71 47h4v1h-4zM79 47h2v1h-2zM111 47h3v1h-3zM116 47h5v1h-5zM126 47h2v1h-2zM135 47h3v1h-3zM50 48h2v1h-2zM53 48h1v1h-1zM87 48h3v1h-3zM93 48h2v1h-2zM112 48h5v1h-5zM131 48h5v1h-5zM45 49h13v1h-13zM69 49h7v1h-7zM82 49h1v1h-1zM86 49h1v1h-1zM105 49h1v1h-1zM127 49h1v1h-1zM129 49h2v1h-2zM45 50h2v1h-2zM59 50h1v1h-1zM74 50h2v1h-2zM80 50h1v1h-1zM90 50h4v1h-4zM123 50h3v1h-3zM52 51h1v1h-1zM85 51h1v1h-1zM111 51h1v1h-1zM115 51h5v1h-5zM73 52h8v1h-8zM94 52h1v1h-1zM108 52h1v1h-1zM124 52h2v1h-2zM41 53h2v1h-2zM59 53h10v1h-10zM90 53h4v1h-4zM100 53h3v1h-3zM106 53h6v1h-6zM118 53h3v1h-3zM52 54h1v1h-1zM55 54h1v1h-1zM71 54h2v1h-2zM84 54h1v1h-1zM87 54h1v1h-1zM94 54h1v1h-1zM118 54h1v1h-1zM127 54h1v1h-1zM55 55h2v1h-2zM71 55h3v1h-3zM81 55h1v1h-1zM89 55h1v1h-1zM91 55h2v1h-2zM110 55h3v1h-3zM54 56h1v1h-1zM61 56h1v1h-1zM63 56h2v1h-2zM77 56h1v1h-1zM97 56h3v1h-3zM117 56h1v1h-1zM69 57h1v1h-1zM91 57h1v1h-1zM114 57h2v1h-2zM47 58h1v1h-1zM59 58h2v1h-2zM65 58h2v1h-2zM68 58h3v1h-3zM91 58h2v1h-2zM117 58h4v1h-4zM95 59h3v1h-3zM101 59h1v1h-1zM111 59h1v1h-1zM118 59h3v1h-3zM56 60h1v1h-1zM83 60h9v1h-9zM110 60h1v1h-1zM55 61h1v1h-1zM66 61h4v1h-4zM83 61h1v1h-1zM103 61h1v1h-1zM109 61h1v1h-1zM50 62h2v1h-2zM74 62h4v1h-4zM82 62h6v1h-6zM105 62h2v1h-2zM111 62h4v1h-4z" fill="#f1f1f1"/>
</g>
<g filter="url(#bd)" fill="#333">
<ellipse cx="207.6" cy="755.7" rx="3.5" ry="22" transform="rotate(0 207.6 755.7)" opacity="0.33"/>
<ellipse cx="208" cy="780.7" rx="7" ry="10" transform="rotate(0 208 780.7)" opacity="0.27"/>
<ellipse cx="194" cy="802.7" rx="13" ry="4" transform="rotate(-30 194 802.7)" opacity="0.33"/>
<ellipse cx="203" cy="818.7" rx="9" ry="6" transform="rotate(0 203 818.7)" opacity="0.21"/>
<ellipse cx="300" cy="781.7" rx="6" ry="4" transform="rotate(37 300 781.7)" opacity="0.3"/>
<ellipse cx="355" cy="938.7" rx="5" ry="7" transform="rotate(0 355 938.7)" opacity="0.38"/>
<ellipse cx="404" cy="982.7" rx="10" ry="12" transform="rotate(40 404 982.7)" opacity="0.3"/>
<ellipse cx="420" cy="965.7" rx="16" ry="12" transform="rotate(0 420 965.7)" opacity="0.18"/>
<ellipse cx="414" cy="1006.7" rx="6" ry="6" transform="rotate(0 414 1006.7)" opacity="0.33"/>
<ellipse cx="330" cy="945.7" rx="8" ry="4" transform="rotate(40 330 945.7)" opacity="0.18"/>
<ellipse cx="250" cy="910.7" rx="7" ry="6" transform="rotate(0 250 910.7)" opacity="0.18"/>
<ellipse cx="206" cy="920.7" rx="5" ry="7" transform="rotate(0 206 920.7)" opacity="0.15"/>
<ellipse cx="392" cy="1060.7" rx="10" ry="5" transform="rotate(20 392 1060.7)" opacity="0.21"/>
<ellipse cx="415" cy="1068.7" rx="9" ry="5" transform="rotate(10 415 1068.7)" opacity="0.24"/>
<ellipse cx="455" cy="1062.7" rx="12" ry="5" transform="rotate(20 455 1062.7)" opacity="0.18"/>
<ellipse cx="283" cy="1040.7" rx="5" ry="8" transform="rotate(0 283 1040.7)" opacity="0.12"/>
<ellipse cx="258" cy="908.7" rx="5" ry="5" transform="rotate(0 258 908.7)" opacity="0.18"/>
<ellipse cx="470" cy="1010.7" rx="10" ry="6" transform="rotate(30 470 1010.7)" opacity="0.09"/>
<ellipse cx="340" cy="1070.7" rx="14" ry="4" transform="rotate(30 340 1070.7)" opacity="0.11"/>
</g></g>
<polygon points="201.6,774.9 204.6,775.1 207.2,780.2 209.6,785.3 208.6,788.3 211.4,793.5 205.6,793.3 206.4,788.7 204.4,784.9 205.2,781.3" fill="#6cc072" stroke="#000" stroke-width="1.3" stroke-linejoin="round"/>
<path d="M253.6 905.9C253.7 904.4 254.4 903.7 255.2 903.1C256 902.5 257.5 902.1 258.6 902.3C259.7 902.4 261.3 903.2 262 904.1C262.7 905 263.1 906.5 263 907.7C262.9 908.9 262.1 910.3 261.2 911.3C260.3 912.2 258.7 913.2 257.6 913.3C256.5 913.3 255.5 912.9 254.8 911.7C254.1 910.4 253.5 907.3 253.6 905.9Z" fill="#4a86ff" stroke="#000" stroke-width="1.3" stroke-linejoin="round" stroke-width="1.6"/>
<ellipse cx="258.3" cy="907.3" rx="3.1" ry="2.7" fill="#ffd400"/>
<ellipse cx="259.2" cy="907.1" rx="2" ry="1.5" fill="#ff5a10" transform="rotate(35 259.2 907.1)"/>
<path d="M351.6 946.7C351.8 945.3 353.8 942.6 354.6 942C355.4 941.3 355.8 941.8 356.5 942.8C357.2 943.8 358.4 946.4 358.9 947.9C359.4 949.4 359.6 951.1 359.3 951.9C359 952.6 358 952.5 357.1 952.3C356.2 952 354.6 951.4 353.7 950.5C352.8 949.5 351.5 948.1 351.6 946.7Z" fill="#6cc072" stroke="#000" stroke-width="1.3" stroke-linejoin="round" stroke-width="1.5"/>
<ellipse cx="355.2" cy="947.3" rx="3" ry="1.9" fill="#2038ff" transform="rotate(35 355.2 947.3)"/>
<path d="M410.9 970.4C411.4 969.6 414 970.4 415.5 969.5C417 968.6 418.5 966 419.8 964.9C421.1 963.8 421.8 963 423.2 962.8C424.6 962.6 426.6 962.9 428.2 963.6C429.8 964.2 431.4 965.4 432.5 966.6C433.6 967.8 434.5 969.6 434.6 970.8C434.7 972 433.7 973.2 432.9 973.8C432.1 974.3 430.3 973.6 429.9 974.2C429.5 974.7 430.8 976.1 430.4 977.1C430 978.1 428.8 979.6 427.4 980.1C426 980.6 423.9 980.3 422.3 980.1C420.8 979.9 419.5 978.8 418.1 978.8C416.7 978.7 414.5 980 413.8 979.7C413.1 979.3 414.1 977.6 413.8 976.7C413.5 975.8 412.7 975.2 412.2 974.2C411.7 973.1 410.3 971.2 410.9 970.4Z" fill="#74cf7a" stroke="#000" stroke-width="1.3" stroke-linejoin="round" stroke-width="1.6"/>
<path d="M414.5 972.2C415.1 971.5 417.8 972.2 419 971.3C420.2 970.4 420.8 967.7 422 966.7C423.2 965.7 425.1 965.1 426.5 965.3C427.9 965.4 429.5 966.7 430.5 967.7C431.5 968.7 432.7 970.4 432.3 971.3C431.9 972.2 428.8 972.1 428 973.1C427.2 974.1 428.4 976.3 427.6 977.2C426.8 978 424.5 978.3 423 978.1C421.5 977.9 419.6 976.6 418.4 976.1C417.2 975.6 416.2 975.7 415.6 975.1C415 974.4 413.9 972.8 414.5 972.2Z" fill="#66b2ff"/>
<path d="M417 972.9l4 3 2-1.6-3.6-2.6zM421.5 974.7l5 3.4 1.6-2-4.4-3z" fill="#b4cbff"/>
<path d="M428 967.3l3.6 2.6 1-1.6-3.4-2.2z" fill="#3a62ff"/>
<path d="M404 984.9l2.2-1.8 8.6 7.6-.6 1.8-2.4.2z" fill="#8fd8a0" stroke="#000" stroke-width="1.3" stroke-linejoin="round"/>
<path d="M406.4 986.1l5.4 4.6" stroke="#bcd0ff" stroke-width="1.4"/>
<path d="M416.6 998.9l2.6 2.2.8 3-2.4 2.6-1.6-1.2.8-3.2z" fill="#6cc072" stroke="#000" stroke-width="1.3" stroke-linejoin="round"/>
<path d="M411 1008.1l3.4-1 1.4 1.4-3.6 1.2z" fill="#2a4a2a" stroke="#000" stroke-width="1.3" stroke-linejoin="round"/>
<circle cx="300.4" cy="779.3" r="0.9" fill="#111"/>
</g>
<path d="M50.4 632V1139.7M129.1 632V1139.7M207.8 632V1139.7M286.6 632V1139.7M365.3 632V1139.7M444 632V1139.7M12.8 688.7H486.8M12.8 773.2H486.8M12.8 857.8H486.8M12.8 942.4H486.8M12.8 1026.9H486.8M12.8 1111.5H486.8" fill="none" stroke="#111" stroke-width="1.15" stroke-dasharray="2.9 5.4"/>
<path d="M12.8 704Q249.8 874.6 486.8 1064.1M12.8 816.9Q223.7 971 434.6 1138.7" fill="none" stroke="#111" stroke-width="1" stroke-dasharray="12.2 11.45"/>
<g font-size="12" text-anchor="middle">
<text x="50.1" y="879.1">-130</text>
<text x="128.8" y="879.1">-128</text>
<text x="207.5" y="879.1">-126</text>
<text x="286.3" y="879.1">-124</text>
<text x="365" y="879.1">-122</text>
<text x="443.7" y="879.1">-120</text>
</g><g font-size="12" text-anchor="end">
<text x="273.7" y="688.6">16</text>
<text x="273.7" y="773.1">14</text>
<text x="273.7" y="857.7">12</text>
<text x="273.7" y="942.3">10</text>
<text x="273.7" y="1026.8">8</text>
<text x="273.7" y="1111.4">6</text>
</g>
<path d="M243.2 885.5h12.4M249.4 879.3v12.4" stroke="#000" stroke-width="4.2"/>
<text x="43.3" y="656.7" font-size="25">85GHz PCT (K)</text>
<text x="438.8" y="1113.3" font-size="29.2">(d)</text>
<rect x="495" y="1122.3" width="9" height="8.8" fill="#f7f7f7"/>
<rect x="495" y="1113.9" width="9" height="8.8" fill="#efefef"/>
<rect x="495" y="1105.4" width="9" height="8.8" fill="#e8e8e8"/>
<rect x="495" y="1096.9" width="9" height="8.8" fill="#e0e0e0"/>
<rect x="495" y="1088.5" width="9" height="8.8" fill="#d9d9d9"/>
<rect x="495" y="1080" width="9" height="8.8" fill="#d1d1d1"/>
<rect x="495" y="1071.5" width="9" height="8.8" fill="#c9c9c9"/>
<rect x="495" y="1063.1" width="9" height="8.8" fill="#c2c2c2"/>
<rect x="495" y="1054.6" width="9" height="8.8" fill="#bababa"/>
<rect x="495" y="1046.1" width="9" height="8.8" fill="#b3b3b3"/>
<rect x="495" y="1037.7" width="9" height="8.8" fill="#ababab"/>
<rect x="495" y="1029.2" width="9" height="8.8" fill="#a3a3a3"/>
<rect x="495" y="1020.7" width="9" height="8.8" fill="#9c9c9c"/>
<rect x="495" y="1012.3" width="9" height="8.8" fill="#949494"/>
<rect x="495" y="1003.8" width="9" height="8.8" fill="#8ae68e"/>
<rect x="495" y="995.3" width="9" height="8.8" fill="#82dc86"/>
<rect x="495" y="986.9" width="9" height="8.8" fill="#7ad37e"/>
<rect x="495" y="978.4" width="9" height="8.8" fill="#72c876"/>
<rect x="495" y="969.9" width="9" height="8.8" fill="#6aba6e"/>
<rect x="495" y="961.5" width="9" height="8.8" fill="#ccd2ff"/>
<rect x="495" y="953" width="9" height="8.8" fill="#bccbff"/>
<rect x="495" y="944.5" width="9" height="8.8" fill="#a8c4ff"/>
<rect x="495" y="936.1" width="9" height="8.8" fill="#90bcff"/>
<rect x="495" y="927.6" width="9" height="8.8" fill="#7cb6ff"/>
<rect x="495" y="919.1" width="9" height="8.8" fill="#64aeff"/>
<rect x="495" y="910.7" width="9" height="8.8" fill="#50a8ff"/>
<rect x="495" y="902.2" width="9" height="8.8" fill="#4890ff"/>
<rect x="495" y="893.7" width="9" height="8.8" fill="#4070ff"/>
<rect x="495" y="885.3" width="9" height="8.8" fill="#3c50ff"/>
<rect x="495" y="876.8" width="9" height="8.8" fill="#3030ff"/>
<rect x="495" y="868.3" width="9" height="8.8" fill="#0808ff"/>
<rect x="495" y="859.9" width="9" height="8.8" fill="#0000f0"/>
<rect x="495" y="851.4" width="9" height="8.8" fill="#0000dc"/>
<rect x="495" y="842.9" width="9" height="8.8" fill="#0000c8"/>
<rect x="495" y="834.5" width="9" height="8.8" fill="#ffff00"/>
<rect x="495" y="826" width="9" height="8.8" fill="#fff200"/>
<rect x="495" y="817.5" width="9" height="8.8" fill="#ffe600"/>
<rect x="495" y="809.1" width="9" height="8.8" fill="#ffdc00"/>
<rect x="495" y="800.6" width="9" height="8.8" fill="#ffd000"/>
<rect x="495" y="792.1" width="9" height="8.8" fill="#ff9800"/>
<rect x="495" y="783.7" width="9" height="8.8" fill="#ff8c00"/>
<rect x="495" y="775.2" width="9" height="8.8" fill="#ff8200"/>
<rect x="495" y="766.7" width="9" height="8.8" fill="#ff7800"/>
<rect x="495" y="758.3" width="9" height="8.8" fill="#ff6e00"/>
<rect x="495" y="749.8" width="9" height="8.8" fill="#ff4608"/>
<rect x="495" y="741.3" width="9" height="8.8" fill="#ff3c04"/>
<rect x="495" y="732.9" width="9" height="8.8" fill="#ff3000"/>
<rect x="495" y="724.4" width="9" height="8.8" fill="#ff2400"/>
<rect x="495" y="715.9" width="9" height="8.8" fill="#ff1800"/>
<rect x="495" y="707.5" width="9" height="8.8" fill="#cc0000"/>
<rect x="495" y="699" width="9" height="8.8" fill="#c00000"/>
<rect x="495" y="690.5" width="9" height="8.8" fill="#b40400"/>
<rect x="495" y="682.1" width="9" height="8.8" fill="#aa0800"/>
<rect x="495" y="673.6" width="9" height="8.8" fill="#a01000"/>
<rect x="495" y="665.1" width="9" height="8.8" fill="#5e0e06"/>
<rect x="495" y="656.7" width="9" height="8.8" fill="#5c100a"/>
<rect x="495" y="648.2" width="9" height="8.8" fill="#5a1410"/>
<rect x="495" y="639.7" width="9" height="8.8" fill="#5a1814"/>
<rect x="495" y="631.3" width="9" height="8.8" fill="#5a1a18"/>
<path d="M504 1139.3h2" stroke="#333" stroke-width="0.9"/>
<text x="524.8" y="1147.6" text-anchor="middle" font-size="19.4">300</text>
<path d="M504 1088.5h2" stroke="#333" stroke-width="0.9"/>
<text x="524.8" y="1096.8" text-anchor="middle" font-size="19.4">279</text>
<path d="M504 1037.7h2" stroke="#333" stroke-width="0.9"/>
<text x="524.8" y="1046" text-anchor="middle" font-size="19.4">258</text>
<path d="M504 986.9h2" stroke="#333" stroke-width="0.9"/>
<text x="524.8" y="995.2" text-anchor="middle" font-size="19.4">237</text>
<path d="M504 936.1h2" stroke="#333" stroke-width="0.9"/>
<text x="524.8" y="944.4" text-anchor="middle" font-size="19.4">216</text>
<path d="M504 885.3h2" stroke="#333" stroke-width="0.9"/>
<text x="524.8" y="893.6" text-anchor="middle" font-size="19.4">195</text>
<path d="M504 834.5h2" stroke="#333" stroke-width="0.9"/>
<text x="524.8" y="842.8" text-anchor="middle" font-size="19.4">174</text>
<path d="M504 783.7h2" stroke="#333" stroke-width="0.9"/>
<text x="524.8" y="792" text-anchor="middle" font-size="19.4">153</text>
<path d="M504 732.9h2" stroke="#333" stroke-width="0.9"/>
<text x="524.8" y="741.2" text-anchor="middle" font-size="19.4">132</text>
<path d="M504 682.1h2" stroke="#333" stroke-width="0.9"/>
<text x="524.8" y="690.4" text-anchor="middle" font-size="19.4">111</text>
</g>
<g id="panel-e">
<g clip-path="url(#ce)">
<polygon points="603.3,631.7 701,631.7 830.2,727.5 1076.9,917.7 1076.9,1139.3 833.5,1139.3 603.3,966.1" fill="#88e28c"/>
<defs><clipPath id="swe"><polygon points="603.3,631.7 701,631.7 830.2,727.5 1076.9,917.7 1076.9,1139.3 833.5,1139.3 603.3,966.1"/></clipPath></defs>
<g clip-path="url(#swe)">
<g transform="translate(603.3 631.7) rotate(37.1) scale(4.25)" shape-rendering="crispEdges" >
<path d="M18 -14h1v1h-1zM20 -14h4v1h-4zM25 -14h1v1h-1zM27 -14h1v1h-1zM29 -14h4v1h-4zM36 -14h2v1h-2zM39 -14h1v1h-1zM41 -14h1v1h-1zM44 -14h1v1h-1zM49 -14h1v1h-1zM52 -14h1v1h-1zM54 -14h1v1h-1zM59 -14h1v1h-1zM62 -14h9v1h-9zM72 -14h3v1h-3zM77 -14h7v1h-7zM85 -14h1v1h-1zM87 -14h1v1h-1zM102 -14h1v1h-1zM118 -14h1v1h-1zM18 -13h3v1h-3zM23 -13h3v1h-3zM27 -13h1v1h-1zM29 -13h1v1h-1zM31 -13h1v1h-1zM34 -13h4v1h-4zM41 -13h1v1h-1zM45 -13h1v1h-1zM57 -13h2v1h-2zM60 -13h1v1h-1zM62 -13h3v1h-3zM71 -13h1v1h-1zM79 -13h1v1h-1zM81 -13h1v1h-1zM83 -13h1v1h-1zM86 -13h1v1h-1zM89 -13h3v1h-3zM100 -13h1v1h-1zM121 -13h1v1h-1zM17 -12h3v1h-3zM21 -12h6v1h-6zM28 -12h2v1h-2zM31 -12h2v1h-2zM34 -12h2v1h-2zM37 -12h1v1h-1zM58 -12h1v1h-1zM60 -12h1v1h-1zM70 -12h1v1h-1zM77 -12h3v1h-3zM81 -12h2v1h-2zM87 -12h1v1h-1zM90 -12h1v1h-1zM94 -12h1v1h-1zM14 -11h1v1h-1zM17 -11h2v1h-2zM20 -11h1v1h-1zM22 -11h2v1h-2zM25 -11h1v1h-1zM32 -11h1v1h-1zM36 -11h1v1h-1zM38 -11h1v1h-1zM41 -11h2v1h-2zM47 -11h1v1h-1zM56 -11h1v1h-1zM59 -11h1v1h-1zM64 -11h1v1h-1zM71 -11h1v1h-1zM79 -11h2v1h-2zM82 -11h1v1h-1zM87 -11h1v1h-1zM111 -11h1v1h-1zM13 -10h1v1h-1zM16 -10h2v1h-2zM19 -10h2v1h-2zM23 -10h4v1h-4zM59 -10h4v1h-4zM64 -10h1v1h-1zM70 -10h1v1h-1zM74 -10h1v1h-1zM78 -10h1v1h-1zM80 -10h1v1h-1zM86 -10h2v1h-2zM102 -10h1v1h-1zM12 -9h5v1h-5zM18 -9h7v1h-7zM27 -9h1v1h-1zM33 -9h1v1h-1zM54 -9h1v1h-1zM60 -9h1v1h-1zM69 -9h1v1h-1zM74 -9h2v1h-2zM79 -9h2v1h-2zM83 -9h1v1h-1zM86 -9h1v1h-1zM11 -8h8v1h-8zM21 -8h1v1h-1zM56 -8h1v1h-1zM59 -8h3v1h-3zM63 -8h1v1h-1zM71 -8h1v1h-1zM76 -8h2v1h-2zM80 -8h2v1h-2zM93 -8h1v1h-1zM9 -7h1v1h-1zM11 -7h4v1h-4zM16 -7h1v1h-1zM19 -7h1v1h-1zM21 -7h2v1h-2zM24 -7h1v1h-1zM75 -7h1v1h-1zM79 -7h1v1h-1zM82 -7h1v1h-1zM85 -7h1v1h-1zM88 -7h1v1h-1zM102 -7h1v1h-1zM9 -6h2v1h-2zM13 -6h3v1h-3zM17 -6h2v1h-2zM20 -6h2v1h-2zM24 -6h1v1h-1zM64 -6h1v1h-1zM76 -6h2v1h-2zM79 -6h3v1h-3zM84 -6h2v1h-2zM8 -5h3v1h-3zM12 -5h8v1h-8zM25 -5h1v1h-1zM68 -5h1v1h-1zM70 -5h2v1h-2zM74 -5h2v1h-2zM77 -5h3v1h-3zM82 -5h2v1h-2zM6 -4h1v1h-1zM9 -4h1v1h-1zM11 -4h6v1h-6zM19 -4h1v1h-1zM23 -4h2v1h-2zM28 -4h1v1h-1zM60 -4h1v1h-1zM68 -4h1v1h-1zM70 -4h2v1h-2zM74 -4h5v1h-5zM5 -3h1v1h-1zM8 -3h1v1h-1zM11 -3h1v1h-1zM13 -3h3v1h-3zM17 -3h3v1h-3zM28 -3h1v1h-1zM68 -3h4v1h-4zM74 -3h1v1h-1zM78 -3h2v1h-2zM84 -3h1v1h-1zM120 -3h1v1h-1zM2 -2h1v1h-1zM4 -2h8v1h-8zM14 -2h3v1h-3zM21 -2h1v1h-1zM65 -2h1v1h-1zM67 -2h8v1h-8zM76 -2h1v1h-1zM92 -2h1v1h-1zM1 -1h1v1h-1zM4 -1h1v1h-1zM6 -1h1v1h-1zM9 -1h6v1h-6zM16 -1h4v1h-4zM23 -1h1v1h-1zM62 -1h3v1h-3zM66 -1h1v1h-1zM69 -1h2v1h-2zM73 -1h2v1h-2zM78 -1h1v1h-1zM0 0h2v1h-2zM3 0h3v1h-3zM7 0h1v1h-1zM9 0h5v1h-5zM16 0h1v1h-1zM21 0h2v1h-2zM64 0h1v1h-1zM69 0h1v1h-1zM72 0h2v1h-2zM77 0h1v1h-1zM79 0h1v1h-1zM3 1h1v1h-1zM5 1h1v1h-1zM8 1h1v1h-1zM10 1h2v1h-2zM13 1h3v1h-3zM17 1h1v1h-1zM62 1h1v1h-1zM64 1h2v1h-2zM67 1h7v1h-7zM77 1h1v1h-1zM79 1h1v1h-1zM2 2h2v1h-2zM7 2h3v1h-3zM13 2h2v1h-2zM16 2h2v1h-2zM19 2h1v1h-1zM64 2h2v1h-2zM67 2h1v1h-1zM69 2h1v1h-1zM71 2h2v1h-2zM75 2h1v1h-1zM80 2h1v1h-1zM87 2h1v1h-1zM3 3h1v1h-1zM5 3h1v1h-1zM8 3h1v1h-1zM10 3h1v1h-1zM12 3h1v1h-1zM14 3h1v1h-1zM64 3h1v1h-1zM66 3h5v1h-5zM75 3h1v1h-1zM77 3h1v1h-1zM3 4h5v1h-5zM9 4h2v1h-2zM12 4h1v1h-1zM25 4h1v1h-1zM52 4h1v1h-1zM59 4h1v1h-1zM62 4h1v1h-1zM65 4h3v1h-3zM69 4h2v1h-2zM74 4h1v1h-1zM76 4h1v1h-1zM85 4h1v1h-1zM94 4h1v1h-1zM5 5h2v1h-2zM9 5h2v1h-2zM13 5h1v1h-1zM17 5h1v1h-1zM51 5h1v1h-1zM58 5h1v1h-1zM62 5h1v1h-1zM69 5h3v1h-3zM75 5h2v1h-2zM94 5h1v1h-1zM105 5h1v1h-1zM110 5h1v1h-1zM5 6h8v1h-8zM50 6h1v1h-1zM55 6h3v1h-3zM59 6h1v1h-1zM61 6h3v1h-3zM65 6h2v1h-2zM68 6h3v1h-3zM72 6h3v1h-3zM76 6h1v1h-1zM6 7h4v1h-4zM12 7h1v1h-1zM15 7h1v1h-1zM50 7h2v1h-2zM53 7h1v1h-1zM58 7h1v1h-1zM60 7h1v1h-1zM62 7h7v1h-7zM70 7h1v1h-1zM72 7h1v1h-1zM74 7h1v1h-1zM79 7h1v1h-1zM103 7h1v1h-1zM8 8h1v1h-1zM20 8h1v1h-1zM48 8h1v1h-1zM51 8h4v1h-4zM56 8h3v1h-3zM61 8h5v1h-5zM69 8h1v1h-1zM90 8h1v1h-1zM7 9h3v1h-3zM53 9h1v1h-1zM56 9h6v1h-6zM64 9h1v1h-1zM67 9h1v1h-1zM76 9h1v1h-1zM8 10h2v1h-2zM49 10h1v1h-1zM51 10h1v1h-1zM53 10h2v1h-2zM56 10h7v1h-7zM86 10h1v1h-1zM99 10h1v1h-1zM113 10h1v1h-1zM48 11h1v1h-1zM50 11h1v1h-1zM54 11h2v1h-2zM58 11h5v1h-5zM65 11h2v1h-2zM68 11h1v1h-1zM104 11h1v1h-1zM106 11h1v1h-1zM113 11h1v1h-1zM10 12h1v1h-1zM27 12h1v1h-1zM46 12h1v1h-1zM48 12h1v1h-1zM50 12h1v1h-1zM53 12h6v1h-6zM61 12h3v1h-3zM69 12h1v1h-1zM91 12h1v1h-1zM115 12h1v1h-1zM134 12h1v1h-1zM10 13h1v1h-1zM13 13h1v1h-1zM41 13h1v1h-1zM47 13h4v1h-4zM52 13h5v1h-5zM59 13h6v1h-6zM70 13h1v1h-1zM97 13h1v1h-1zM103 13h1v1h-1zM132 13h1v1h-1zM46 14h2v1h-2zM50 14h5v1h-5zM59 14h2v1h-2zM63 14h3v1h-3zM69 14h1v1h-1zM76 14h1v1h-1zM94 14h1v1h-1zM107 14h1v1h-1zM146 14h1v1h-1zM13 15h1v1h-1zM23 15h1v1h-1zM46 15h1v1h-1zM48 15h2v1h-2zM52 15h1v1h-1zM61 15h1v1h-1zM65 15h1v1h-1zM79 15h1v1h-1zM90 15h2v1h-2zM101 15h1v1h-1zM126 15h1v1h-1zM13 16h1v1h-1zM15 16h1v1h-1zM32 16h1v1h-1zM46 16h4v1h-4zM52 16h1v1h-1zM94 16h1v1h-1zM99 16h1v1h-1zM120 16h1v1h-1zM147 16h1v1h-1zM13 17h1v1h-1zM15 17h1v1h-1zM45 17h1v1h-1zM47 17h1v1h-1zM50 17h1v1h-1zM70 17h1v1h-1zM109 17h1v1h-1zM114 17h1v1h-1zM136 17h1v1h-1zM15 18h1v1h-1zM26 18h1v1h-1zM42 18h1v1h-1zM45 18h1v1h-1zM48 18h1v1h-1zM69 18h1v1h-1zM109 18h1v1h-1zM130 18h1v1h-1zM28 19h1v1h-1zM37 19h1v1h-1zM40 19h1v1h-1zM42 19h3v1h-3zM46 19h1v1h-1zM48 19h1v1h-1zM52 19h1v1h-1zM110 19h1v1h-1zM125 19h1v1h-1zM17 20h1v1h-1zM20 20h5v1h-5zM41 20h6v1h-6zM71 20h1v1h-1zM99 20h1v1h-1zM103 20h1v1h-1zM17 21h1v1h-1zM29 21h1v1h-1zM36 21h1v1h-1zM38 21h1v1h-1zM42 21h3v1h-3zM46 21h2v1h-2zM76 21h1v1h-1zM93 21h1v1h-1zM123 21h1v1h-1zM138 21h1v1h-1zM18 22h1v1h-1zM23 22h1v1h-1zM37 22h1v1h-1zM39 22h7v1h-7zM73 22h1v1h-1zM152 22h1v1h-1zM18 23h1v1h-1zM32 23h1v1h-1zM34 23h1v1h-1zM36 23h2v1h-2zM39 23h6v1h-6zM78 23h1v1h-1zM94 23h1v1h-1zM98 23h1v1h-1zM104 23h1v1h-1zM120 23h1v1h-1zM123 23h1v1h-1zM135 23h1v1h-1zM146 23h1v1h-1zM19 24h3v1h-3zM35 24h3v1h-3zM42 24h1v1h-1zM44 24h1v1h-1zM105 24h1v1h-1zM136 24h1v1h-1zM141 24h1v1h-1zM145 24h1v1h-1zM157 24h1v1h-1zM19 25h2v1h-2zM30 25h1v1h-1zM33 25h2v1h-2zM36 25h1v1h-1zM40 25h2v1h-2zM110 25h1v1h-1zM154 25h1v1h-1zM156 25h1v1h-1zM25 26h1v1h-1zM35 26h1v1h-1zM37 26h1v1h-1zM40 26h1v1h-1zM42 26h1v1h-1zM77 26h1v1h-1zM101 26h1v1h-1zM25 27h1v1h-1zM27 27h1v1h-1zM35 27h2v1h-2zM38 27h1v1h-1zM41 27h1v1h-1zM43 27h1v1h-1zM72 27h1v1h-1zM109 27h1v1h-1zM147 27h1v1h-1zM22 28h2v1h-2zM26 28h1v1h-1zM28 28h2v1h-2zM34 28h1v1h-1zM37 28h2v1h-2zM40 28h2v1h-2zM43 28h1v1h-1zM80 28h1v1h-1zM140 28h1v1h-1zM26 29h1v1h-1zM36 29h1v1h-1zM38 29h1v1h-1zM40 29h1v1h-1zM113 29h1v1h-1zM115 29h1v1h-1zM126 29h1v1h-1zM143 29h1v1h-1zM25 30h2v1h-2zM36 30h4v1h-4zM67 30h1v1h-1zM69 30h1v1h-1zM112 30h1v1h-1zM117 30h1v1h-1zM154 30h1v1h-1zM25 31h2v1h-2zM33 31h4v1h-4zM38 31h3v1h-3zM48 31h1v1h-1zM85 31h1v1h-1zM97 31h1v1h-1zM102 31h1v1h-1zM109 31h1v1h-1zM113 31h1v1h-1zM25 32h2v1h-2zM28 32h1v1h-1zM32 32h1v1h-1zM34 32h3v1h-3zM62 32h1v1h-1zM87 32h1v1h-1zM98 32h1v1h-1zM106 32h1v1h-1zM125 32h1v1h-1zM29 33h1v1h-1zM33 33h1v1h-1zM35 33h1v1h-1zM110 33h1v1h-1zM132 33h1v1h-1zM29 34h1v1h-1zM31 34h1v1h-1zM34 34h1v1h-1zM46 34h1v1h-1zM79 34h1v1h-1zM98 34h1v1h-1zM147 34h1v1h-1zM27 35h1v1h-1zM31 35h1v1h-1zM42 35h1v1h-1zM114 35h2v1h-2zM144 35h1v1h-1zM32 36h1v1h-1zM81 36h1v1h-1zM93 36h1v1h-1zM110 36h1v1h-1zM113 36h2v1h-2zM125 36h1v1h-1zM29 37h1v1h-1zM111 37h1v1h-1zM30 38h1v1h-1zM48 38h1v1h-1zM119 38h1v1h-1zM124 38h1v1h-1zM100 39h1v1h-1zM105 39h1v1h-1zM125 39h1v1h-1zM128 39h1v1h-1zM84 41h1v1h-1zM87 41h1v1h-1zM84 42h1v1h-1zM122 42h1v1h-1zM129 42h1v1h-1zM134 42h1v1h-1zM37 43h1v1h-1zM70 43h1v1h-1zM89 43h1v1h-1zM111 43h1v1h-1zM120 43h1v1h-1zM120 44h1v1h-1zM132 44h1v1h-1zM127 45h1v1h-1zM131 45h1v1h-1zM119 46h1v1h-1zM123 46h1v1h-1zM39 47h1v1h-1zM51 47h1v1h-1zM112 47h1v1h-1zM127 47h1v1h-1zM104 48h1v1h-1zM106 48h1v1h-1zM37 49h1v1h-1zM107 49h1v1h-1zM112 49h1v1h-1zM124 49h1v1h-1zM93 50h1v1h-1zM101 51h1v1h-1zM40 53h1v1h-1zM117 53h1v1h-1zM115 54h1v1h-1zM116 55h1v1h-1zM119 55h1v1h-1zM101 57h1v1h-1zM115 58h1v1h-1zM114 60h1v1h-1zM101 61h1v1h-1zM96 62h1v1h-1z" fill="#70c474"/>
<path d="M19 -14h1v1h-1zM28 -14h1v1h-1zM33 -14h3v1h-3zM40 -14h1v1h-1zM42 -14h1v1h-1zM45 -14h4v1h-4zM50 -14h2v1h-2zM55 -14h1v1h-1zM57 -14h2v1h-2zM60 -14h2v1h-2zM71 -14h1v1h-1zM26 -13h1v1h-1zM28 -13h1v1h-1zM32 -13h2v1h-2zM38 -13h3v1h-3zM46 -13h3v1h-3zM51 -13h3v1h-3zM55 -13h2v1h-2zM59 -13h1v1h-1zM61 -13h1v1h-1zM66 -13h5v1h-5zM72 -13h2v1h-2zM77 -13h2v1h-2zM80 -13h1v1h-1zM20 -12h1v1h-1zM27 -12h1v1h-1zM30 -12h1v1h-1zM33 -12h1v1h-1zM36 -12h1v1h-1zM38 -12h5v1h-5zM44 -12h3v1h-3zM48 -12h1v1h-1zM52 -12h1v1h-1zM56 -12h2v1h-2zM59 -12h1v1h-1zM61 -12h6v1h-6zM69 -12h1v1h-1zM71 -12h1v1h-1zM80 -12h1v1h-1zM21 -11h1v1h-1zM24 -11h1v1h-1zM26 -11h4v1h-4zM35 -11h1v1h-1zM37 -11h1v1h-1zM39 -11h2v1h-2zM43 -11h4v1h-4zM48 -11h3v1h-3zM55 -11h1v1h-1zM57 -11h2v1h-2zM60 -11h4v1h-4zM65 -11h1v1h-1zM70 -11h1v1h-1zM78 -11h1v1h-1zM22 -10h1v1h-1zM27 -10h2v1h-2zM31 -10h4v1h-4zM36 -10h3v1h-3zM40 -10h2v1h-2zM45 -10h4v1h-4zM51 -10h1v1h-1zM57 -10h2v1h-2zM63 -10h1v1h-1zM67 -10h3v1h-3zM71 -10h1v1h-1zM73 -10h1v1h-1zM79 -10h1v1h-1zM17 -9h1v1h-1zM25 -9h2v1h-2zM28 -9h2v1h-2zM31 -9h1v1h-1zM35 -9h1v1h-1zM37 -9h4v1h-4zM42 -9h2v1h-2zM45 -9h2v1h-2zM56 -9h4v1h-4zM61 -9h8v1h-8zM70 -9h1v1h-1zM72 -9h2v1h-2zM76 -9h1v1h-1zM78 -9h1v1h-1zM19 -8h2v1h-2zM22 -8h6v1h-6zM29 -8h1v1h-1zM34 -8h1v1h-1zM38 -8h4v1h-4zM45 -8h1v1h-1zM47 -8h1v1h-1zM49 -8h1v1h-1zM52 -8h4v1h-4zM57 -8h2v1h-2zM62 -8h1v1h-1zM64 -8h7v1h-7zM72 -8h1v1h-1zM78 -8h1v1h-1zM15 -7h1v1h-1zM20 -7h1v1h-1zM25 -7h1v1h-1zM28 -7h1v1h-1zM31 -7h2v1h-2zM34 -7h3v1h-3zM41 -7h2v1h-2zM46 -7h2v1h-2zM49 -7h1v1h-1zM51 -7h3v1h-3zM56 -7h15v1h-15zM76 -7h3v1h-3zM19 -6h1v1h-1zM22 -6h2v1h-2zM25 -6h4v1h-4zM32 -6h1v1h-1zM37 -6h1v1h-1zM39 -6h1v1h-1zM41 -6h1v1h-1zM43 -6h1v1h-1zM46 -6h2v1h-2zM49 -6h5v1h-5zM56 -6h8v1h-8zM65 -6h6v1h-6zM72 -6h1v1h-1zM78 -6h1v1h-1zM20 -5h3v1h-3zM24 -5h1v1h-1zM26 -5h1v1h-1zM29 -5h2v1h-2zM35 -5h1v1h-1zM39 -5h1v1h-1zM42 -5h1v1h-1zM45 -5h3v1h-3zM49 -5h5v1h-5zM57 -5h3v1h-3zM61 -5h7v1h-7zM69 -5h1v1h-1zM72 -5h1v1h-1zM17 -4h2v1h-2zM20 -4h3v1h-3zM25 -4h3v1h-3zM30 -4h2v1h-2zM33 -4h1v1h-1zM35 -4h4v1h-4zM40 -4h2v1h-2zM43 -4h1v1h-1zM46 -4h1v1h-1zM50 -4h4v1h-4zM59 -4h1v1h-1zM62 -4h6v1h-6zM69 -4h1v1h-1zM73 -4h1v1h-1zM10 -3h1v1h-1zM16 -3h1v1h-1zM20 -3h5v1h-5zM26 -3h2v1h-2zM29 -3h3v1h-3zM33 -3h2v1h-2zM36 -3h5v1h-5zM43 -3h1v1h-1zM46 -3h1v1h-1zM49 -3h1v1h-1zM51 -3h3v1h-3zM63 -3h5v1h-5zM72 -3h2v1h-2zM75 -3h2v1h-2zM13 -2h1v1h-1zM18 -2h3v1h-3zM22 -2h3v1h-3zM26 -2h2v1h-2zM32 -2h4v1h-4zM37 -2h1v1h-1zM47 -2h1v1h-1zM49 -2h6v1h-6zM61 -2h3v1h-3zM66 -2h1v1h-1zM15 -1h1v1h-1zM20 -1h3v1h-3zM24 -1h4v1h-4zM32 -1h3v1h-3zM36 -1h2v1h-2zM44 -1h3v1h-3zM49 -1h4v1h-4zM54 -1h1v1h-1zM65 -1h1v1h-1zM67 -1h2v1h-2zM72 -1h1v1h-1zM6 0h1v1h-1zM14 0h2v1h-2zM17 0h4v1h-4zM23 0h3v1h-3zM31 0h4v1h-4zM36 0h2v1h-2zM45 0h2v1h-2zM48 0h1v1h-1zM50 0h6v1h-6zM62 0h2v1h-2zM65 0h4v1h-4zM70 0h2v1h-2zM9 1h1v1h-1zM12 1h1v1h-1zM16 1h1v1h-1zM18 1h4v1h-4zM25 1h1v1h-1zM29 1h7v1h-7zM38 1h1v1h-1zM40 1h1v1h-1zM42 1h1v1h-1zM44 1h2v1h-2zM48 1h9v1h-9zM63 1h1v1h-1zM5 2h1v1h-1zM10 2h3v1h-3zM15 2h1v1h-1zM18 2h1v1h-1zM21 2h1v1h-1zM24 2h1v1h-1zM29 2h7v1h-7zM39 2h1v1h-1zM41 2h1v1h-1zM45 2h1v1h-1zM47 2h1v1h-1zM49 2h9v1h-9zM61 2h3v1h-3zM66 2h1v1h-1zM6 3h1v1h-1zM9 3h1v1h-1zM11 3h1v1h-1zM13 3h1v1h-1zM15 3h8v1h-8zM28 3h8v1h-8zM38 3h2v1h-2zM45 3h3v1h-3zM49 3h10v1h-10zM61 3h3v1h-3zM65 3h1v1h-1zM11 4h1v1h-1zM13 4h7v1h-7zM21 4h3v1h-3zM28 4h9v1h-9zM38 4h5v1h-5zM44 4h2v1h-2zM47 4h5v1h-5zM53 4h6v1h-6zM60 4h1v1h-1zM63 4h2v1h-2zM68 4h1v1h-1zM7 5h1v1h-1zM11 5h2v1h-2zM14 5h1v1h-1zM18 5h2v1h-2zM26 5h1v1h-1zM28 5h2v1h-2zM33 5h1v1h-1zM35 5h4v1h-4zM42 5h1v1h-1zM46 5h5v1h-5zM52 5h6v1h-6zM59 5h2v1h-2zM63 5h4v1h-4zM13 6h1v1h-1zM15 6h1v1h-1zM17 6h2v1h-2zM21 6h5v1h-5zM32 6h1v1h-1zM37 6h1v1h-1zM40 6h5v1h-5zM46 6h4v1h-4zM51 6h4v1h-4zM58 6h1v1h-1zM60 6h1v1h-1zM64 6h1v1h-1zM10 7h2v1h-2zM13 7h2v1h-2zM16 7h1v1h-1zM18 7h3v1h-3zM24 7h1v1h-1zM28 7h1v1h-1zM31 7h2v1h-2zM36 7h1v1h-1zM38 7h1v1h-1zM40 7h4v1h-4zM47 7h3v1h-3zM52 7h1v1h-1zM54 7h4v1h-4zM59 7h1v1h-1zM61 7h1v1h-1zM6 8h1v1h-1zM10 8h6v1h-6zM17 8h3v1h-3zM22 8h1v1h-1zM24 8h2v1h-2zM31 8h5v1h-5zM41 8h7v1h-7zM49 8h2v1h-2zM55 8h1v1h-1zM59 8h1v1h-1zM14 9h1v1h-1zM16 9h3v1h-3zM20 9h1v1h-1zM23 9h2v1h-2zM26 9h4v1h-4zM31 9h1v1h-1zM33 9h2v1h-2zM36 9h2v1h-2zM43 9h10v1h-10zM54 9h2v1h-2zM62 9h1v1h-1zM10 10h2v1h-2zM17 10h1v1h-1zM23 10h1v1h-1zM29 10h3v1h-3zM33 10h1v1h-1zM36 10h2v1h-2zM42 10h1v1h-1zM44 10h5v1h-5zM50 10h1v1h-1zM52 10h1v1h-1zM55 10h1v1h-1zM9 11h1v1h-1zM12 11h3v1h-3zM28 11h2v1h-2zM31 11h4v1h-4zM37 11h2v1h-2zM46 11h2v1h-2zM51 11h2v1h-2zM56 11h2v1h-2zM12 12h4v1h-4zM21 12h3v1h-3zM31 12h3v1h-3zM35 12h3v1h-3zM43 12h1v1h-1zM45 12h1v1h-1zM47 12h1v1h-1zM49 12h1v1h-1zM52 12h1v1h-1zM12 13h1v1h-1zM15 13h1v1h-1zM18 13h1v1h-1zM22 13h4v1h-4zM27 13h6v1h-6zM35 13h2v1h-2zM39 13h1v1h-1zM44 13h2v1h-2zM51 13h1v1h-1zM11 14h4v1h-4zM22 14h11v1h-11zM35 14h3v1h-3zM39 14h1v1h-1zM42 14h1v1h-1zM44 14h2v1h-2zM48 14h2v1h-2zM12 15h1v1h-1zM14 15h1v1h-1zM21 15h1v1h-1zM24 15h1v1h-1zM26 15h2v1h-2zM30 15h4v1h-4zM36 15h1v1h-1zM42 15h1v1h-1zM45 15h1v1h-1zM47 15h1v1h-1zM50 15h1v1h-1zM12 16h1v1h-1zM14 16h1v1h-1zM16 16h1v1h-1zM21 16h1v1h-1zM23 16h4v1h-4zM33 16h1v1h-1zM40 16h1v1h-1zM45 16h1v1h-1zM14 17h1v1h-1zM20 17h2v1h-2zM23 17h2v1h-2zM26 17h1v1h-1zM30 17h6v1h-6zM41 17h3v1h-3zM14 18h1v1h-1zM19 18h2v1h-2zM25 18h1v1h-1zM31 18h6v1h-6zM40 18h2v1h-2zM43 18h2v1h-2zM46 18h2v1h-2zM15 19h4v1h-4zM21 19h1v1h-1zM30 19h1v1h-1zM32 19h2v1h-2zM35 19h1v1h-1zM41 19h1v1h-1zM16 20h1v1h-1zM19 20h1v1h-1zM33 20h4v1h-4zM16 21h1v1h-1zM18 21h3v1h-3zM22 21h1v1h-1zM26 21h1v1h-1zM32 21h1v1h-1zM35 21h1v1h-1zM37 21h1v1h-1zM39 21h1v1h-1zM41 21h1v1h-1zM17 22h1v1h-1zM19 22h4v1h-4zM24 22h1v1h-1zM29 22h1v1h-1zM32 22h5v1h-5zM38 22h1v1h-1zM19 23h5v1h-5zM33 23h1v1h-1zM35 23h1v1h-1zM22 24h5v1h-5zM28 24h1v1h-1zM30 24h1v1h-1zM32 24h2v1h-2zM40 24h2v1h-2zM22 25h2v1h-2zM25 25h1v1h-1zM27 25h3v1h-3zM35 25h1v1h-1zM42 25h1v1h-1zM20 26h2v1h-2zM23 26h2v1h-2zM28 26h1v1h-1zM34 26h1v1h-1zM22 27h2v1h-2zM29 27h1v1h-1zM37 27h1v1h-1zM24 28h1v1h-1zM31 28h1v1h-1zM33 28h1v1h-1zM22 29h2v1h-2zM25 29h1v1h-1zM34 29h1v1h-1zM37 29h1v1h-1zM24 30h1v1h-1zM28 31h1v1h-1zM32 34h1v1h-1z" fill="#68b86c"/>
<path d="M24 -14h1v1h-1zM26 -14h1v1h-1zM53 -14h1v1h-1zM84 -14h1v1h-1zM86 -14h1v1h-1zM88 -14h5v1h-5zM94 -14h1v1h-1zM96 -14h2v1h-2zM99 -14h1v1h-1zM101 -14h1v1h-1zM104 -14h1v1h-1zM110 -14h1v1h-1zM114 -14h1v1h-1zM120 -14h2v1h-2zM124 -14h1v1h-1zM129 -14h1v1h-1zM17 -13h1v1h-1zM21 -13h2v1h-2zM65 -13h1v1h-1zM82 -13h1v1h-1zM84 -13h2v1h-2zM87 -13h2v1h-2zM92 -13h2v1h-2zM95 -13h1v1h-1zM97 -13h1v1h-1zM99 -13h1v1h-1zM101 -13h1v1h-1zM106 -13h2v1h-2zM111 -13h1v1h-1zM120 -13h1v1h-1zM15 -12h2v1h-2zM68 -12h1v1h-1zM86 -12h1v1h-1zM88 -12h2v1h-2zM92 -12h1v1h-1zM95 -12h1v1h-1zM101 -12h1v1h-1zM105 -12h2v1h-2zM109 -12h1v1h-1zM112 -12h4v1h-4zM117 -12h2v1h-2zM15 -11h2v1h-2zM19 -11h1v1h-1zM85 -11h2v1h-2zM88 -11h3v1h-3zM92 -11h3v1h-3zM96 -11h1v1h-1zM101 -11h1v1h-1zM107 -11h1v1h-1zM114 -11h1v1h-1zM14 -10h2v1h-2zM18 -10h1v1h-1zM21 -10h1v1h-1zM84 -10h2v1h-2zM88 -10h5v1h-5zM96 -10h2v1h-2zM99 -10h2v1h-2zM105 -10h1v1h-1zM11 -9h1v1h-1zM81 -9h2v1h-2zM84 -9h2v1h-2zM87 -9h2v1h-2zM90 -9h4v1h-4zM97 -9h2v1h-2zM102 -9h1v1h-1zM10 -8h1v1h-1zM79 -8h1v1h-1zM82 -8h4v1h-4zM87 -8h3v1h-3zM92 -8h1v1h-1zM94 -8h1v1h-1zM10 -7h1v1h-1zM17 -7h2v1h-2zM80 -7h2v1h-2zM83 -7h2v1h-2zM86 -7h1v1h-1zM89 -7h2v1h-2zM92 -7h1v1h-1zM94 -7h2v1h-2zM98 -7h1v1h-1zM101 -7h1v1h-1zM7 -6h2v1h-2zM11 -6h2v1h-2zM16 -6h1v1h-1zM82 -6h2v1h-2zM86 -6h3v1h-3zM91 -6h3v1h-3zM97 -6h2v1h-2zM101 -6h1v1h-1zM104 -6h1v1h-1zM135 -6h1v1h-1zM6 -5h2v1h-2zM11 -5h1v1h-1zM73 -5h1v1h-1zM76 -5h1v1h-1zM80 -5h2v1h-2zM84 -5h5v1h-5zM91 -5h1v1h-1zM93 -5h2v1h-2zM99 -5h2v1h-2zM119 -5h2v1h-2zM122 -5h1v1h-1zM134 -5h1v1h-1zM5 -4h1v1h-1zM7 -4h2v1h-2zM10 -4h1v1h-1zM79 -4h2v1h-2zM82 -4h4v1h-4zM88 -4h1v1h-1zM90 -4h3v1h-3zM95 -4h2v1h-2zM121 -4h1v1h-1zM135 -4h1v1h-1zM3 -3h2v1h-2zM6 -3h2v1h-2zM9 -3h1v1h-1zM12 -3h1v1h-1zM77 -3h1v1h-1zM80 -3h4v1h-4zM85 -3h1v1h-1zM88 -3h1v1h-1zM91 -3h2v1h-2zM95 -3h1v1h-1zM97 -3h1v1h-1zM99 -3h1v1h-1zM3 -2h1v1h-1zM12 -2h1v1h-1zM17 -2h1v1h-1zM75 -2h1v1h-1zM77 -2h10v1h-10zM88 -2h1v1h-1zM91 -2h1v1h-1zM96 -2h1v1h-1zM98 -2h1v1h-1zM2 -1h2v1h-2zM5 -1h1v1h-1zM7 -1h2v1h-2zM71 -1h1v1h-1zM75 -1h1v1h-1zM77 -1h1v1h-1zM79 -1h5v1h-5zM85 -1h4v1h-4zM90 -1h2v1h-2zM94 -1h1v1h-1zM98 -1h1v1h-1zM2 0h1v1h-1zM8 0h1v1h-1zM74 0h3v1h-3zM78 0h1v1h-1zM80 0h2v1h-2zM83 0h2v1h-2zM88 0h1v1h-1zM92 0h3v1h-3zM1 1h2v1h-2zM6 1h2v1h-2zM66 1h1v1h-1zM74 1h3v1h-3zM78 1h1v1h-1zM80 1h1v1h-1zM82 1h4v1h-4zM87 1h1v1h-1zM89 1h3v1h-3zM93 1h2v1h-2zM96 1h2v1h-2zM100 1h1v1h-1zM4 2h1v1h-1zM6 2h1v1h-1zM68 2h1v1h-1zM70 2h1v1h-1zM73 2h2v1h-2zM77 2h3v1h-3zM81 2h6v1h-6zM88 2h3v1h-3zM92 2h2v1h-2zM99 2h1v1h-1zM130 2h1v1h-1zM134 2h1v1h-1zM139 2h1v1h-1zM4 3h1v1h-1zM7 3h1v1h-1zM71 3h4v1h-4zM78 3h4v1h-4zM83 3h1v1h-1zM86 3h4v1h-4zM92 3h2v1h-2zM98 3h1v1h-1zM100 3h1v1h-1zM132 3h1v1h-1zM140 3h2v1h-2zM8 4h1v1h-1zM71 4h3v1h-3zM75 4h1v1h-1zM79 4h3v1h-3zM83 4h2v1h-2zM86 4h1v1h-1zM95 4h2v1h-2zM99 4h1v1h-1zM107 4h1v1h-1zM127 4h1v1h-1zM131 4h2v1h-2zM134 4h1v1h-1zM137 4h1v1h-1zM140 4h1v1h-1zM4 5h1v1h-1zM8 5h1v1h-1zM67 5h2v1h-2zM72 5h3v1h-3zM77 5h6v1h-6zM84 5h2v1h-2zM88 5h1v1h-1zM93 5h1v1h-1zM97 5h2v1h-2zM108 5h1v1h-1zM128 5h2v1h-2zM131 5h1v1h-1zM138 5h1v1h-1zM67 6h1v1h-1zM71 6h1v1h-1zM77 6h5v1h-5zM83 6h1v1h-1zM86 6h1v1h-1zM88 6h2v1h-2zM93 6h1v1h-1zM99 6h1v1h-1zM101 6h1v1h-1zM105 6h1v1h-1zM130 6h2v1h-2zM134 6h1v1h-1zM69 7h1v1h-1zM71 7h1v1h-1zM73 7h1v1h-1zM75 7h3v1h-3zM83 7h1v1h-1zM89 7h2v1h-2zM95 7h1v1h-1zM97 7h1v1h-1zM99 7h4v1h-4zM109 7h2v1h-2zM131 7h1v1h-1zM134 7h1v1h-1zM136 7h2v1h-2zM140 7h1v1h-1zM7 8h1v1h-1zM9 8h1v1h-1zM60 8h1v1h-1zM66 8h3v1h-3zM70 8h8v1h-8zM79 8h1v1h-1zM82 8h3v1h-3zM89 8h1v1h-1zM92 8h4v1h-4zM97 8h1v1h-1zM102 8h3v1h-3zM106 8h1v1h-1zM108 8h3v1h-3zM112 8h1v1h-1zM130 8h2v1h-2zM133 8h2v1h-2zM10 9h1v1h-1zM63 9h1v1h-1zM65 9h2v1h-2zM68 9h8v1h-8zM77 9h1v1h-1zM79 9h3v1h-3zM88 9h1v1h-1zM90 9h4v1h-4zM98 9h1v1h-1zM102 9h1v1h-1zM104 9h3v1h-3zM115 9h1v1h-1zM117 9h1v1h-1zM120 9h1v1h-1zM131 9h5v1h-5zM64 10h11v1h-11zM76 10h5v1h-5zM83 10h1v1h-1zM88 10h2v1h-2zM91 10h2v1h-2zM97 10h1v1h-1zM104 10h1v1h-1zM111 10h2v1h-2zM114 10h4v1h-4zM122 10h1v1h-1zM131 10h2v1h-2zM135 10h2v1h-2zM143 10h1v1h-1zM49 11h1v1h-1zM53 11h1v1h-1zM67 11h1v1h-1zM69 11h10v1h-10zM80 11h3v1h-3zM84 11h5v1h-5zM94 11h1v1h-1zM99 11h2v1h-2zM102 11h1v1h-1zM116 11h2v1h-2zM132 11h1v1h-1zM135 11h3v1h-3zM142 11h1v1h-1zM9 12h1v1h-1zM51 12h1v1h-1zM59 12h2v1h-2zM64 12h5v1h-5zM70 12h3v1h-3zM74 12h4v1h-4zM79 12h2v1h-2zM82 12h1v1h-1zM87 12h3v1h-3zM95 12h1v1h-1zM105 12h1v1h-1zM112 12h1v1h-1zM114 12h1v1h-1zM116 12h1v1h-1zM121 12h1v1h-1zM124 12h1v1h-1zM131 12h2v1h-2zM135 12h2v1h-2zM65 13h2v1h-2zM68 13h1v1h-1zM71 13h5v1h-5zM78 13h1v1h-1zM81 13h2v1h-2zM87 13h1v1h-1zM94 13h1v1h-1zM106 13h2v1h-2zM111 13h1v1h-1zM114 13h1v1h-1zM116 13h4v1h-4zM121 13h1v1h-1zM123 13h3v1h-3zM129 13h1v1h-1zM131 13h1v1h-1zM149 13h1v1h-1zM55 14h1v1h-1zM57 14h1v1h-1zM67 14h2v1h-2zM70 14h6v1h-6zM77 14h1v1h-1zM82 14h1v1h-1zM88 14h2v1h-2zM91 14h1v1h-1zM95 14h1v1h-1zM99 14h1v1h-1zM103 14h1v1h-1zM109 14h1v1h-1zM113 14h1v1h-1zM117 14h2v1h-2zM122 14h2v1h-2zM126 14h1v1h-1zM131 14h1v1h-1zM149 14h2v1h-2zM51 15h1v1h-1zM53 15h3v1h-3zM66 15h3v1h-3zM70 15h3v1h-3zM74 15h3v1h-3zM81 15h2v1h-2zM88 15h2v1h-2zM93 15h2v1h-2zM100 15h1v1h-1zM105 15h1v1h-1zM107 15h1v1h-1zM111 15h1v1h-1zM119 15h2v1h-2zM123 15h3v1h-3zM131 15h5v1h-5zM50 16h2v1h-2zM67 16h1v1h-1zM73 16h1v1h-1zM77 16h4v1h-4zM84 16h1v1h-1zM89 16h2v1h-2zM92 16h1v1h-1zM96 16h2v1h-2zM102 16h1v1h-1zM104 16h1v1h-1zM106 16h1v1h-1zM113 16h1v1h-1zM121 16h1v1h-1zM126 16h1v1h-1zM128 16h2v1h-2zM131 16h2v1h-2zM135 16h1v1h-1zM46 17h1v1h-1zM48 17h2v1h-2zM51 17h2v1h-2zM66 17h3v1h-3zM71 17h1v1h-1zM77 17h2v1h-2zM82 17h1v1h-1zM89 17h1v1h-1zM93 17h1v1h-1zM98 17h1v1h-1zM100 17h1v1h-1zM104 17h1v1h-1zM107 17h1v1h-1zM113 17h1v1h-1zM115 17h1v1h-1zM117 17h1v1h-1zM119 17h1v1h-1zM129 17h1v1h-1zM132 17h1v1h-1zM135 17h1v1h-1zM149 17h2v1h-2zM152 17h1v1h-1zM67 18h2v1h-2zM70 18h1v1h-1zM75 18h1v1h-1zM83 18h1v1h-1zM90 18h1v1h-1zM92 18h1v1h-1zM95 18h1v1h-1zM114 18h1v1h-1zM120 18h1v1h-1zM122 18h1v1h-1zM126 18h1v1h-1zM128 18h1v1h-1zM139 18h1v1h-1zM147 18h1v1h-1zM151 18h3v1h-3zM45 19h1v1h-1zM47 19h1v1h-1zM66 19h3v1h-3zM70 19h1v1h-1zM77 19h1v1h-1zM79 19h1v1h-1zM85 19h2v1h-2zM92 19h2v1h-2zM96 19h3v1h-3zM100 19h2v1h-2zM103 19h1v1h-1zM106 19h1v1h-1zM118 19h1v1h-1zM130 19h1v1h-1zM134 19h2v1h-2zM138 19h1v1h-1zM47 20h2v1h-2zM68 20h1v1h-1zM72 20h2v1h-2zM82 20h1v1h-1zM84 20h3v1h-3zM89 20h3v1h-3zM97 20h2v1h-2zM102 20h1v1h-1zM106 20h1v1h-1zM109 20h1v1h-1zM120 20h2v1h-2zM126 20h1v1h-1zM129 20h1v1h-1zM134 20h2v1h-2zM137 20h3v1h-3zM152 20h1v1h-1zM85 21h4v1h-4zM90 21h3v1h-3zM95 21h1v1h-1zM104 21h2v1h-2zM108 21h2v1h-2zM111 21h1v1h-1zM119 21h1v1h-1zM124 21h1v1h-1zM133 21h2v1h-2zM140 21h1v1h-1zM143 21h2v1h-2zM150 21h1v1h-1zM49 22h1v1h-1zM74 22h1v1h-1zM78 22h1v1h-1zM81 22h1v1h-1zM85 22h1v1h-1zM88 22h1v1h-1zM92 22h1v1h-1zM100 22h1v1h-1zM106 22h1v1h-1zM109 22h1v1h-1zM114 22h1v1h-1zM122 22h2v1h-2zM134 22h2v1h-2zM138 22h2v1h-2zM142 22h1v1h-1zM148 22h1v1h-1zM150 22h2v1h-2zM153 22h1v1h-1zM56 23h1v1h-1zM69 23h1v1h-1zM72 23h2v1h-2zM81 23h1v1h-1zM86 23h1v1h-1zM88 23h1v1h-1zM90 23h1v1h-1zM95 23h1v1h-1zM106 23h1v1h-1zM108 23h1v1h-1zM115 23h1v1h-1zM119 23h1v1h-1zM121 23h1v1h-1zM125 23h1v1h-1zM140 23h1v1h-1zM143 23h1v1h-1zM149 23h2v1h-2zM43 24h1v1h-1zM59 24h1v1h-1zM64 24h1v1h-1zM70 24h4v1h-4zM78 24h2v1h-2zM81 24h4v1h-4zM87 24h1v1h-1zM89 24h1v1h-1zM91 24h1v1h-1zM93 24h1v1h-1zM102 24h1v1h-1zM107 24h1v1h-1zM110 24h1v1h-1zM113 24h3v1h-3zM126 24h1v1h-1zM133 24h1v1h-1zM135 24h1v1h-1zM137 24h1v1h-1zM144 24h1v1h-1zM147 24h1v1h-1zM149 24h1v1h-1zM153 24h2v1h-2zM64 25h1v1h-1zM69 25h1v1h-1zM71 25h1v1h-1zM73 25h1v1h-1zM78 25h1v1h-1zM81 25h1v1h-1zM87 25h1v1h-1zM89 25h1v1h-1zM93 25h1v1h-1zM98 25h1v1h-1zM102 25h2v1h-2zM105 25h2v1h-2zM109 25h1v1h-1zM120 25h1v1h-1zM126 25h1v1h-1zM133 25h1v1h-1zM145 25h1v1h-1zM147 25h2v1h-2zM150 25h1v1h-1zM155 25h1v1h-1zM38 26h2v1h-2zM41 26h1v1h-1zM43 26h1v1h-1zM68 26h1v1h-1zM70 26h1v1h-1zM82 26h2v1h-2zM88 26h2v1h-2zM93 26h2v1h-2zM99 26h1v1h-1zM104 26h1v1h-1zM107 26h1v1h-1zM112 26h1v1h-1zM115 26h1v1h-1zM117 26h1v1h-1zM120 26h1v1h-1zM123 26h1v1h-1zM126 26h1v1h-1zM132 26h2v1h-2zM141 26h2v1h-2zM155 26h2v1h-2zM159 26h1v1h-1zM21 27h1v1h-1zM39 27h2v1h-2zM57 27h3v1h-3zM63 27h1v1h-1zM68 27h2v1h-2zM74 27h2v1h-2zM77 27h1v1h-1zM79 27h2v1h-2zM84 27h3v1h-3zM90 27h1v1h-1zM102 27h1v1h-1zM105 27h2v1h-2zM108 27h1v1h-1zM115 27h2v1h-2zM119 27h1v1h-1zM121 27h1v1h-1zM124 27h1v1h-1zM126 27h1v1h-1zM128 27h3v1h-3zM133 27h1v1h-1zM138 27h1v1h-1zM140 27h2v1h-2zM145 27h1v1h-1zM153 27h1v1h-1zM160 27h1v1h-1zM36 28h1v1h-1zM39 28h1v1h-1zM42 28h1v1h-1zM54 28h1v1h-1zM56 28h2v1h-2zM59 28h3v1h-3zM74 28h1v1h-1zM77 28h1v1h-1zM79 28h1v1h-1zM81 28h2v1h-2zM91 28h1v1h-1zM96 28h2v1h-2zM101 28h2v1h-2zM104 28h1v1h-1zM110 28h1v1h-1zM115 28h1v1h-1zM123 28h1v1h-1zM127 28h1v1h-1zM129 28h2v1h-2zM132 28h1v1h-1zM142 28h1v1h-1zM144 28h1v1h-1zM152 28h2v1h-2zM155 28h1v1h-1zM159 28h1v1h-1zM24 29h1v1h-1zM35 29h1v1h-1zM39 29h1v1h-1zM41 29h1v1h-1zM50 29h1v1h-1zM52 29h1v1h-1zM67 29h1v1h-1zM69 29h2v1h-2zM74 29h3v1h-3zM85 29h1v1h-1zM87 29h1v1h-1zM89 29h1v1h-1zM95 29h1v1h-1zM97 29h4v1h-4zM108 29h1v1h-1zM110 29h1v1h-1zM117 29h1v1h-1zM131 29h1v1h-1zM136 29h1v1h-1zM138 29h1v1h-1zM144 29h3v1h-3zM150 29h1v1h-1zM155 29h1v1h-1zM157 29h1v1h-1zM23 30h1v1h-1zM27 30h1v1h-1zM34 30h2v1h-2zM40 30h2v1h-2zM48 30h5v1h-5zM57 30h1v1h-1zM62 30h4v1h-4zM70 30h2v1h-2zM73 30h1v1h-1zM79 30h1v1h-1zM82 30h1v1h-1zM88 30h1v1h-1zM91 30h1v1h-1zM96 30h1v1h-1zM99 30h2v1h-2zM105 30h1v1h-1zM108 30h1v1h-1zM118 30h1v1h-1zM121 30h1v1h-1zM128 30h2v1h-2zM132 30h1v1h-1zM139 30h1v1h-1zM144 30h1v1h-1zM147 30h3v1h-3zM152 30h2v1h-2zM157 30h1v1h-1zM24 31h1v1h-1zM37 31h1v1h-1zM41 31h1v1h-1zM46 31h1v1h-1zM49 31h1v1h-1zM51 31h1v1h-1zM55 31h3v1h-3zM63 31h1v1h-1zM68 31h1v1h-1zM83 31h1v1h-1zM87 31h1v1h-1zM92 31h2v1h-2zM95 31h1v1h-1zM98 31h1v1h-1zM101 31h1v1h-1zM103 31h1v1h-1zM105 31h1v1h-1zM107 31h1v1h-1zM112 31h1v1h-1zM114 31h1v1h-1zM119 31h1v1h-1zM123 31h1v1h-1zM125 31h3v1h-3zM132 31h1v1h-1zM136 31h1v1h-1zM144 31h1v1h-1zM27 32h1v1h-1zM33 32h1v1h-1zM37 32h1v1h-1zM43 32h7v1h-7zM56 32h1v1h-1zM58 32h2v1h-2zM67 32h1v1h-1zM72 32h1v1h-1zM77 32h1v1h-1zM80 32h1v1h-1zM82 32h1v1h-1zM102 32h1v1h-1zM104 32h1v1h-1zM114 32h1v1h-1zM118 32h1v1h-1zM128 32h1v1h-1zM131 32h1v1h-1zM133 32h1v1h-1zM135 32h1v1h-1zM138 32h1v1h-1zM143 32h1v1h-1zM145 32h3v1h-3zM151 32h1v1h-1zM25 33h3v1h-3zM31 33h2v1h-2zM34 33h1v1h-1zM41 33h1v1h-1zM44 33h2v1h-2zM48 33h2v1h-2zM54 33h1v1h-1zM56 33h1v1h-1zM74 33h1v1h-1zM82 33h1v1h-1zM86 33h1v1h-1zM88 33h1v1h-1zM97 33h1v1h-1zM104 33h1v1h-1zM111 33h1v1h-1zM113 33h1v1h-1zM116 33h1v1h-1zM119 33h2v1h-2zM122 33h1v1h-1zM127 33h1v1h-1zM130 33h1v1h-1zM134 33h1v1h-1zM139 33h1v1h-1zM151 33h3v1h-3zM26 34h1v1h-1zM28 34h1v1h-1zM30 34h1v1h-1zM33 34h1v1h-1zM37 34h1v1h-1zM43 34h1v1h-1zM48 34h1v1h-1zM52 34h1v1h-1zM72 34h1v1h-1zM76 34h1v1h-1zM81 34h1v1h-1zM86 34h1v1h-1zM94 34h3v1h-3zM100 34h1v1h-1zM109 34h1v1h-1zM114 34h1v1h-1zM118 34h1v1h-1zM121 34h1v1h-1zM125 34h1v1h-1zM127 34h1v1h-1zM130 34h1v1h-1zM132 34h1v1h-1zM134 34h1v1h-1zM136 34h1v1h-1zM143 34h1v1h-1zM145 34h1v1h-1zM149 34h1v1h-1zM28 35h3v1h-3zM32 35h2v1h-2zM41 35h1v1h-1zM46 35h1v1h-1zM64 35h1v1h-1zM66 35h1v1h-1zM72 35h1v1h-1zM74 35h2v1h-2zM80 35h1v1h-1zM86 35h3v1h-3zM90 35h1v1h-1zM95 35h1v1h-1zM97 35h1v1h-1zM100 35h1v1h-1zM103 35h1v1h-1zM106 35h1v1h-1zM117 35h1v1h-1zM120 35h1v1h-1zM126 35h1v1h-1zM131 35h3v1h-3zM135 35h2v1h-2zM147 35h3v1h-3zM28 36h1v1h-1zM30 36h1v1h-1zM33 36h2v1h-2zM40 36h3v1h-3zM47 36h1v1h-1zM52 36h2v1h-2zM57 36h1v1h-1zM80 36h1v1h-1zM82 36h1v1h-1zM84 36h1v1h-1zM87 36h1v1h-1zM89 36h1v1h-1zM94 36h1v1h-1zM98 36h1v1h-1zM101 36h1v1h-1zM123 36h1v1h-1zM126 36h1v1h-1zM129 36h1v1h-1zM137 36h1v1h-1zM141 36h4v1h-4zM146 36h1v1h-1zM28 37h1v1h-1zM30 37h2v1h-2zM33 37h1v1h-1zM39 37h1v1h-1zM46 37h1v1h-1zM50 37h2v1h-2zM54 37h1v1h-1zM62 37h1v1h-1zM65 37h3v1h-3zM73 37h2v1h-2zM76 37h2v1h-2zM79 37h1v1h-1zM82 37h1v1h-1zM88 37h1v1h-1zM92 37h1v1h-1zM100 37h1v1h-1zM110 37h1v1h-1zM113 37h1v1h-1zM124 37h1v1h-1zM126 37h1v1h-1zM135 37h1v1h-1zM141 37h1v1h-1zM143 37h1v1h-1zM29 38h1v1h-1zM43 38h2v1h-2zM47 38h1v1h-1zM50 38h1v1h-1zM54 38h1v1h-1zM76 38h1v1h-1zM81 38h1v1h-1zM85 38h1v1h-1zM90 38h1v1h-1zM93 38h3v1h-3zM97 38h1v1h-1zM100 38h1v1h-1zM117 38h1v1h-1zM121 38h2v1h-2zM126 38h1v1h-1zM131 38h3v1h-3zM140 38h1v1h-1zM31 39h1v1h-1zM43 39h1v1h-1zM45 39h1v1h-1zM53 39h1v1h-1zM66 39h1v1h-1zM73 39h1v1h-1zM78 39h1v1h-1zM81 39h1v1h-1zM88 39h1v1h-1zM90 39h2v1h-2zM93 39h3v1h-3zM99 39h1v1h-1zM102 39h1v1h-1zM107 39h1v1h-1zM111 39h1v1h-1zM114 39h1v1h-1zM116 39h2v1h-2zM120 39h1v1h-1zM124 39h1v1h-1zM130 39h1v1h-1zM137 39h2v1h-2zM140 39h1v1h-1zM144 39h1v1h-1zM31 40h1v1h-1zM34 40h1v1h-1zM44 40h1v1h-1zM47 40h1v1h-1zM72 40h1v1h-1zM77 40h1v1h-1zM80 40h1v1h-1zM86 40h1v1h-1zM89 40h1v1h-1zM95 40h1v1h-1zM126 40h1v1h-1zM128 40h1v1h-1zM132 40h1v1h-1zM136 40h1v1h-1zM140 40h1v1h-1zM142 40h1v1h-1zM32 41h1v1h-1zM37 41h2v1h-2zM72 41h1v1h-1zM74 41h1v1h-1zM78 41h2v1h-2zM82 41h1v1h-1zM86 41h1v1h-1zM90 41h1v1h-1zM93 41h1v1h-1zM103 41h1v1h-1zM106 41h1v1h-1zM115 41h1v1h-1zM117 41h1v1h-1zM120 41h1v1h-1zM123 41h1v1h-1zM125 41h1v1h-1zM127 41h1v1h-1zM130 41h1v1h-1zM133 41h1v1h-1zM136 41h2v1h-2zM140 41h1v1h-1zM33 42h1v1h-1zM35 42h3v1h-3zM46 42h1v1h-1zM56 42h1v1h-1zM70 42h2v1h-2zM86 42h2v1h-2zM92 42h2v1h-2zM96 42h1v1h-1zM102 42h1v1h-1zM105 42h1v1h-1zM109 42h2v1h-2zM115 42h1v1h-1zM33 43h3v1h-3zM71 43h1v1h-1zM76 43h1v1h-1zM93 43h1v1h-1zM96 43h2v1h-2zM99 43h1v1h-1zM101 43h1v1h-1zM105 43h1v1h-1zM114 43h1v1h-1zM123 43h1v1h-1zM130 43h2v1h-2zM133 43h1v1h-1zM138 43h1v1h-1zM37 44h1v1h-1zM41 44h1v1h-1zM57 44h1v1h-1zM72 44h1v1h-1zM89 44h1v1h-1zM92 44h1v1h-1zM95 44h1v1h-1zM97 44h3v1h-3zM101 44h1v1h-1zM104 44h1v1h-1zM106 44h1v1h-1zM108 44h1v1h-1zM110 44h1v1h-1zM115 44h1v1h-1zM119 44h1v1h-1zM122 44h1v1h-1zM125 44h1v1h-1zM127 44h1v1h-1zM129 44h1v1h-1zM131 44h1v1h-1zM134 44h1v1h-1zM34 45h1v1h-1zM40 45h1v1h-1zM45 45h1v1h-1zM49 45h1v1h-1zM62 45h1v1h-1zM71 45h2v1h-2zM93 45h1v1h-1zM99 45h1v1h-1zM106 45h1v1h-1zM108 45h1v1h-1zM117 45h1v1h-1zM119 45h1v1h-1zM135 45h1v1h-1zM39 46h1v1h-1zM41 46h1v1h-1zM59 46h1v1h-1zM70 46h1v1h-1zM73 46h1v1h-1zM75 46h1v1h-1zM89 46h2v1h-2zM102 46h1v1h-1zM106 46h1v1h-1zM112 46h1v1h-1zM126 46h4v1h-4zM134 46h3v1h-3zM38 47h1v1h-1zM91 47h1v1h-1zM104 47h1v1h-1zM106 47h1v1h-1zM108 47h1v1h-1zM116 47h1v1h-1zM122 47h2v1h-2zM128 47h1v1h-1zM91 48h1v1h-1zM100 48h1v1h-1zM108 48h1v1h-1zM112 48h1v1h-1zM115 48h1v1h-1zM122 48h1v1h-1zM126 48h1v1h-1zM131 48h1v1h-1zM38 49h1v1h-1zM91 49h1v1h-1zM108 49h1v1h-1zM113 49h1v1h-1zM120 49h1v1h-1zM122 49h1v1h-1zM38 50h2v1h-2zM95 50h1v1h-1zM97 50h1v1h-1zM100 50h1v1h-1zM102 50h1v1h-1zM104 50h5v1h-5zM116 50h1v1h-1zM120 50h1v1h-1zM126 50h2v1h-2zM130 50h1v1h-1zM99 51h2v1h-2zM112 51h2v1h-2zM123 51h2v1h-2zM128 51h1v1h-1zM40 52h1v1h-1zM94 52h1v1h-1zM96 52h1v1h-1zM100 52h1v1h-1zM102 52h1v1h-1zM105 52h1v1h-1zM112 52h1v1h-1zM115 52h4v1h-4zM121 52h2v1h-2zM125 52h1v1h-1zM94 53h1v1h-1zM99 53h2v1h-2zM106 53h2v1h-2zM112 53h1v1h-1zM119 53h1v1h-1zM123 53h1v1h-1zM86 54h1v1h-1zM98 54h1v1h-1zM100 54h1v1h-1zM102 54h2v1h-2zM113 54h1v1h-1zM120 54h2v1h-2zM100 55h2v1h-2zM104 55h1v1h-1zM115 55h1v1h-1zM122 55h1v1h-1zM124 55h1v1h-1zM94 56h1v1h-1zM96 56h1v1h-1zM103 56h2v1h-2zM107 56h2v1h-2zM112 56h1v1h-1zM114 56h1v1h-1zM116 56h1v1h-1zM120 56h1v1h-1zM94 57h2v1h-2zM100 57h1v1h-1zM103 57h1v1h-1zM105 57h1v1h-1zM110 57h1v1h-1zM113 57h1v1h-1zM117 57h1v1h-1zM101 58h1v1h-1zM104 58h1v1h-1zM111 58h2v1h-2zM114 58h1v1h-1zM118 58h2v1h-2zM45 59h1v1h-1zM93 59h1v1h-1zM95 59h1v1h-1zM98 59h3v1h-3zM108 59h1v1h-1zM116 59h2v1h-2zM98 60h1v1h-1zM102 60h1v1h-1zM107 60h1v1h-1zM109 60h1v1h-1zM113 60h1v1h-1zM57 61h1v1h-1zM96 61h1v1h-1zM99 61h1v1h-1zM104 61h1v1h-1zM110 61h1v1h-1zM114 61h1v1h-1zM60 62h1v1h-1zM85 62h1v1h-1zM91 62h1v1h-1zM97 62h1v1h-1zM101 62h3v1h-3zM107 62h5v1h-5z" fill="#7cd680"/>
<path d="M38 -14h1v1h-1zM43 -14h1v1h-1zM56 -14h1v1h-1zM75 -14h2v1h-2zM30 -13h1v1h-1zM42 -13h3v1h-3zM49 -13h1v1h-1zM54 -13h1v1h-1zM76 -13h1v1h-1zM43 -12h1v1h-1zM47 -12h1v1h-1zM49 -12h1v1h-1zM51 -12h1v1h-1zM53 -12h3v1h-3zM67 -12h1v1h-1zM72 -12h2v1h-2zM83 -12h3v1h-3zM30 -11h2v1h-2zM33 -11h2v1h-2zM51 -11h3v1h-3zM66 -11h4v1h-4zM72 -11h3v1h-3zM77 -11h1v1h-1zM81 -11h1v1h-1zM84 -11h1v1h-1zM29 -10h2v1h-2zM35 -10h1v1h-1zM39 -10h1v1h-1zM42 -10h3v1h-3zM49 -10h2v1h-2zM52 -10h5v1h-5zM65 -10h2v1h-2zM72 -10h1v1h-1zM75 -10h3v1h-3zM81 -10h3v1h-3zM32 -9h1v1h-1zM34 -9h1v1h-1zM36 -9h1v1h-1zM41 -9h1v1h-1zM44 -9h1v1h-1zM47 -9h4v1h-4zM52 -9h2v1h-2zM55 -9h1v1h-1zM71 -9h1v1h-1zM77 -9h1v1h-1zM28 -8h1v1h-1zM30 -8h2v1h-2zM33 -8h1v1h-1zM35 -8h3v1h-3zM42 -8h3v1h-3zM48 -8h1v1h-1zM50 -8h2v1h-2zM73 -8h3v1h-3zM23 -7h1v1h-1zM26 -7h2v1h-2zM29 -7h2v1h-2zM33 -7h1v1h-1zM37 -7h4v1h-4zM43 -7h3v1h-3zM48 -7h1v1h-1zM50 -7h1v1h-1zM54 -7h2v1h-2zM71 -7h4v1h-4zM29 -6h3v1h-3zM33 -6h3v1h-3zM38 -6h1v1h-1zM40 -6h1v1h-1zM42 -6h1v1h-1zM44 -6h2v1h-2zM48 -6h1v1h-1zM54 -6h2v1h-2zM71 -6h1v1h-1zM73 -6h3v1h-3zM23 -5h1v1h-1zM28 -5h1v1h-1zM31 -5h4v1h-4zM36 -5h3v1h-3zM40 -5h2v1h-2zM43 -5h2v1h-2zM48 -5h1v1h-1zM54 -5h1v1h-1zM60 -5h1v1h-1zM29 -4h1v1h-1zM32 -4h1v1h-1zM34 -4h1v1h-1zM39 -4h1v1h-1zM42 -4h1v1h-1zM44 -4h2v1h-2zM47 -4h3v1h-3zM54 -4h1v1h-1zM58 -4h1v1h-1zM61 -4h1v1h-1zM72 -4h1v1h-1zM25 -3h1v1h-1zM32 -3h1v1h-1zM35 -3h1v1h-1zM41 -3h2v1h-2zM44 -3h2v1h-2zM47 -3h2v1h-2zM50 -3h1v1h-1zM54 -3h1v1h-1zM60 -3h3v1h-3zM25 -2h1v1h-1zM28 -2h4v1h-4zM36 -2h1v1h-1zM38 -2h2v1h-2zM42 -2h5v1h-5zM48 -2h1v1h-1zM60 -2h1v1h-1zM64 -2h1v1h-1zM28 -1h4v1h-4zM35 -1h1v1h-1zM39 -1h1v1h-1zM47 -1h2v1h-2zM53 -1h1v1h-1zM55 -1h1v1h-1zM61 -1h1v1h-1zM76 -1h1v1h-1zM26 0h5v1h-5zM35 0h1v1h-1zM39 0h3v1h-3zM43 0h2v1h-2zM47 0h1v1h-1zM49 0h1v1h-1zM56 0h1v1h-1zM61 0h1v1h-1zM22 1h3v1h-3zM27 1h2v1h-2zM36 1h2v1h-2zM39 1h1v1h-1zM41 1h1v1h-1zM43 1h1v1h-1zM46 1h2v1h-2zM57 1h1v1h-1zM61 1h1v1h-1zM126 1h2v1h-2zM20 2h1v1h-1zM23 2h1v1h-1zM25 2h3v1h-3zM36 2h3v1h-3zM40 2h1v1h-1zM42 2h3v1h-3zM46 2h1v1h-1zM48 2h1v1h-1zM58 2h1v1h-1zM119 2h1v1h-1zM122 2h1v1h-1zM124 2h1v1h-1zM23 3h5v1h-5zM36 3h2v1h-2zM40 3h5v1h-5zM48 3h1v1h-1zM59 3h2v1h-2zM76 3h1v1h-1zM126 3h2v1h-2zM130 3h1v1h-1zM20 4h1v1h-1zM24 4h1v1h-1zM26 4h1v1h-1zM37 4h1v1h-1zM46 4h1v1h-1zM61 4h1v1h-1zM120 4h1v1h-1zM122 4h2v1h-2zM129 4h1v1h-1zM15 5h2v1h-2zM20 5h6v1h-6zM27 5h1v1h-1zM30 5h3v1h-3zM34 5h1v1h-1zM39 5h3v1h-3zM43 5h3v1h-3zM61 5h1v1h-1zM92 5h1v1h-1zM121 5h2v1h-2zM127 5h1v1h-1zM14 6h1v1h-1zM16 6h1v1h-1zM19 6h1v1h-1zM26 6h6v1h-6zM33 6h1v1h-1zM35 6h2v1h-2zM38 6h2v1h-2zM45 6h1v1h-1zM94 6h1v1h-1zM121 6h2v1h-2zM129 6h1v1h-1zM17 7h1v1h-1zM22 7h1v1h-1zM25 7h3v1h-3zM29 7h2v1h-2zM33 7h3v1h-3zM37 7h1v1h-1zM39 7h1v1h-1zM44 7h3v1h-3zM98 7h1v1h-1zM120 7h1v1h-1zM129 7h1v1h-1zM16 8h1v1h-1zM21 8h1v1h-1zM23 8h1v1h-1zM26 8h5v1h-5zM36 8h3v1h-3zM40 8h1v1h-1zM85 8h2v1h-2zM101 8h1v1h-1zM120 8h3v1h-3zM11 9h1v1h-1zM13 9h1v1h-1zM15 9h1v1h-1zM19 9h1v1h-1zM21 9h2v1h-2zM25 9h1v1h-1zM30 9h1v1h-1zM32 9h1v1h-1zM35 9h1v1h-1zM38 9h5v1h-5zM78 9h1v1h-1zM84 9h1v1h-1zM109 9h1v1h-1zM121 9h2v1h-2zM130 9h1v1h-1zM12 10h5v1h-5zM18 10h1v1h-1zM20 10h3v1h-3zM24 10h5v1h-5zM32 10h1v1h-1zM34 10h2v1h-2zM38 10h2v1h-2zM43 10h1v1h-1zM63 10h1v1h-1zM84 10h2v1h-2zM107 10h1v1h-1zM119 10h2v1h-2zM130 10h1v1h-1zM10 11h2v1h-2zM16 11h4v1h-4zM21 11h2v1h-2zM26 11h2v1h-2zM30 11h1v1h-1zM35 11h2v1h-2zM39 11h7v1h-7zM63 11h1v1h-1zM89 11h1v1h-1zM110 11h1v1h-1zM114 11h1v1h-1zM122 11h2v1h-2zM130 11h1v1h-1zM11 12h1v1h-1zM17 12h4v1h-4zM24 12h1v1h-1zM26 12h1v1h-1zM28 12h3v1h-3zM34 12h1v1h-1zM38 12h2v1h-2zM41 12h2v1h-2zM44 12h1v1h-1zM109 12h2v1h-2zM123 12h1v1h-1zM129 12h1v1h-1zM11 13h1v1h-1zM14 13h1v1h-1zM17 13h1v1h-1zM19 13h3v1h-3zM26 13h1v1h-1zM33 13h1v1h-1zM37 13h2v1h-2zM42 13h2v1h-2zM46 13h1v1h-1zM126 13h3v1h-3zM130 13h1v1h-1zM16 14h6v1h-6zM33 14h1v1h-1zM38 14h1v1h-1zM40 14h2v1h-2zM43 14h1v1h-1zM127 14h2v1h-2zM15 15h2v1h-2zM22 15h1v1h-1zM25 15h1v1h-1zM28 15h2v1h-2zM34 15h1v1h-1zM37 15h5v1h-5zM43 15h2v1h-2zM86 15h1v1h-1zM127 15h1v1h-1zM130 15h1v1h-1zM17 16h1v1h-1zM19 16h2v1h-2zM22 16h1v1h-1zM27 16h5v1h-5zM35 16h1v1h-1zM37 16h3v1h-3zM41 16h4v1h-4zM87 16h2v1h-2zM16 17h2v1h-2zM22 17h1v1h-1zM25 17h1v1h-1zM27 17h1v1h-1zM29 17h1v1h-1zM36 17h3v1h-3zM40 17h1v1h-1zM44 17h1v1h-1zM85 17h1v1h-1zM88 17h1v1h-1zM148 17h1v1h-1zM16 18h3v1h-3zM21 18h4v1h-4zM27 18h4v1h-4zM39 18h1v1h-1zM85 18h1v1h-1zM89 18h1v1h-1zM150 18h1v1h-1zM19 19h2v1h-2zM22 19h3v1h-3zM26 19h1v1h-1zM29 19h1v1h-1zM34 19h1v1h-1zM36 19h1v1h-1zM38 19h2v1h-2zM147 19h1v1h-1zM149 19h3v1h-3zM18 20h1v1h-1zM26 20h7v1h-7zM37 20h2v1h-2zM40 20h1v1h-1zM88 20h1v1h-1zM117 20h1v1h-1zM146 20h1v1h-1zM149 20h1v1h-1zM21 21h1v1h-1zM23 21h3v1h-3zM30 21h2v1h-2zM33 21h1v1h-1zM40 21h1v1h-1zM148 21h2v1h-2zM25 22h4v1h-4zM30 22h2v1h-2zM145 22h1v1h-1zM147 22h1v1h-1zM24 23h8v1h-8zM38 23h1v1h-1zM27 24h1v1h-1zM29 24h1v1h-1zM34 24h1v1h-1zM38 24h2v1h-2zM139 24h2v1h-2zM21 25h1v1h-1zM24 25h1v1h-1zM26 25h1v1h-1zM31 25h2v1h-2zM38 25h2v1h-2zM136 25h3v1h-3zM151 25h3v1h-3zM22 26h1v1h-1zM26 26h2v1h-2zM29 26h3v1h-3zM33 26h1v1h-1zM36 26h1v1h-1zM135 26h1v1h-1zM138 26h2v1h-2zM151 26h1v1h-1zM153 26h1v1h-1zM24 27h1v1h-1zM26 27h1v1h-1zM28 27h1v1h-1zM30 27h1v1h-1zM32 27h3v1h-3zM134 27h1v1h-1zM137 27h1v1h-1zM143 27h2v1h-2zM25 28h1v1h-1zM27 28h1v1h-1zM35 28h1v1h-1zM121 28h2v1h-2zM133 28h1v1h-1zM136 28h1v1h-1zM27 29h6v1h-6zM132 29h3v1h-3zM28 30h6v1h-6zM27 31h1v1h-1zM30 31h1v1h-1zM32 31h1v1h-1zM30 32h1v1h-1zM122 32h1v1h-1zM127 32h1v1h-1zM28 33h1v1h-1zM30 33h1v1h-1zM121 33h1v1h-1zM119 40h2v1h-2zM119 41h1v1h-1zM105 49h1v1h-1z" fill="#ccd2ff"/>
<path d="M119 -14h1v1h-1zM127 -13h1v1h-1zM121 -12h5v1h-5zM128 -12h3v1h-3zM104 -11h1v1h-1zM115 -11h3v1h-3zM121 -11h1v1h-1zM123 -11h1v1h-1zM125 -11h2v1h-2zM128 -11h3v1h-3zM114 -10h3v1h-3zM118 -10h2v1h-2zM122 -10h1v1h-1zM127 -10h1v1h-1zM129 -10h4v1h-4zM100 -9h1v1h-1zM107 -9h1v1h-1zM109 -9h5v1h-5zM115 -9h1v1h-1zM118 -9h2v1h-2zM122 -9h2v1h-2zM126 -9h2v1h-2zM130 -9h1v1h-1zM103 -8h1v1h-1zM105 -8h1v1h-1zM107 -8h1v1h-1zM110 -8h1v1h-1zM112 -8h1v1h-1zM114 -8h1v1h-1zM117 -8h4v1h-4zM122 -8h1v1h-1zM128 -8h2v1h-2zM131 -8h2v1h-2zM106 -7h1v1h-1zM108 -7h1v1h-1zM111 -7h2v1h-2zM114 -7h1v1h-1zM117 -7h1v1h-1zM120 -7h1v1h-1zM123 -7h1v1h-1zM128 -7h1v1h-1zM130 -7h2v1h-2zM95 -6h1v1h-1zM103 -6h1v1h-1zM105 -6h1v1h-1zM108 -6h4v1h-4zM115 -6h2v1h-2zM120 -6h1v1h-1zM124 -6h1v1h-1zM127 -6h2v1h-2zM105 -5h2v1h-2zM109 -5h4v1h-4zM114 -5h2v1h-2zM117 -5h1v1h-1zM123 -5h1v1h-1zM127 -5h2v1h-2zM131 -5h1v1h-1zM99 -4h1v1h-1zM103 -4h2v1h-2zM107 -4h1v1h-1zM110 -4h1v1h-1zM113 -4h1v1h-1zM116 -4h3v1h-3zM124 -4h2v1h-2zM132 -4h1v1h-1zM134 -4h1v1h-1zM136 -4h1v1h-1zM103 -3h1v1h-1zM108 -3h1v1h-1zM112 -3h1v1h-1zM117 -3h3v1h-3zM129 -3h2v1h-2zM134 -3h1v1h-1zM137 -3h1v1h-1zM94 -2h1v1h-1zM100 -2h3v1h-3zM106 -2h2v1h-2zM110 -2h1v1h-1zM112 -2h1v1h-1zM114 -2h1v1h-1zM117 -2h2v1h-2zM120 -2h1v1h-1zM123 -2h2v1h-2zM128 -2h3v1h-3zM134 -2h1v1h-1zM138 -2h1v1h-1zM102 -1h1v1h-1zM104 -1h1v1h-1zM109 -1h1v1h-1zM111 -1h5v1h-5zM122 -1h1v1h-1zM125 -1h2v1h-2zM128 -1h1v1h-1zM130 -1h1v1h-1zM133 -1h3v1h-3zM137 -1h1v1h-1zM100 0h2v1h-2zM103 0h4v1h-4zM108 0h4v1h-4zM114 0h2v1h-2zM126 0h1v1h-1zM128 0h1v1h-1zM132 0h1v1h-1zM99 1h1v1h-1zM104 1h2v1h-2zM107 1h2v1h-2zM114 1h1v1h-1zM116 1h1v1h-1zM119 1h1v1h-1zM121 1h1v1h-1zM123 1h2v1h-2zM129 1h1v1h-1zM136 1h1v1h-1zM103 2h1v1h-1zM105 2h3v1h-3zM110 2h1v1h-1zM117 2h1v1h-1zM121 2h1v1h-1zM125 2h1v1h-1zM127 2h1v1h-1zM132 2h2v1h-2zM135 2h2v1h-2zM101 3h1v1h-1zM103 3h1v1h-1zM105 3h2v1h-2zM110 3h1v1h-1zM116 3h1v1h-1zM128 3h2v1h-2zM135 3h1v1h-1zM108 4h1v1h-1zM117 4h1v1h-1zM119 4h1v1h-1zM111 5h1v1h-1zM115 5h1v1h-1zM117 5h4v1h-4zM113 6h4v1h-4zM118 6h3v1h-3zM113 7h2v1h-2zM118 7h1v1h-1zM141 7h4v1h-4zM115 8h1v1h-1zM117 8h1v1h-1zM119 8h1v1h-1zM142 8h1v1h-1zM144 8h2v1h-2zM118 9h1v1h-1zM144 9h1v1h-1zM147 11h1v1h-1zM144 12h1v1h-1zM146 12h1v1h-1zM57 13h2v1h-2zM84 13h1v1h-1zM142 13h1v1h-1zM56 14h1v1h-1zM58 14h1v1h-1zM83 14h2v1h-2zM140 14h3v1h-3zM56 15h3v1h-3zM60 15h1v1h-1zM62 15h2v1h-2zM145 15h3v1h-3zM53 16h2v1h-2zM64 16h1v1h-1zM145 16h1v1h-1zM148 16h1v1h-1zM54 17h1v1h-1zM56 17h2v1h-2zM59 17h1v1h-1zM142 17h1v1h-1zM49 18h1v1h-1zM51 18h6v1h-6zM62 18h3v1h-3zM141 18h1v1h-1zM145 18h2v1h-2zM53 19h1v1h-1zM55 19h1v1h-1zM57 19h1v1h-1zM63 19h1v1h-1zM140 19h2v1h-2zM143 19h2v1h-2zM49 20h3v1h-3zM55 20h2v1h-2zM60 20h1v1h-1zM65 20h2v1h-2zM123 20h1v1h-1zM142 20h1v1h-1zM145 20h1v1h-1zM51 21h1v1h-1zM53 21h4v1h-4zM58 21h1v1h-1zM60 21h1v1h-1zM62 21h1v1h-1zM67 21h1v1h-1zM129 21h1v1h-1zM48 22h1v1h-1zM51 22h2v1h-2zM64 22h2v1h-2zM128 22h2v1h-2zM131 22h1v1h-1zM45 23h1v1h-1zM47 23h1v1h-1zM50 23h1v1h-1zM53 23h3v1h-3zM58 23h1v1h-1zM62 23h1v1h-1zM66 23h3v1h-3zM131 23h1v1h-1zM46 24h2v1h-2zM49 24h3v1h-3zM54 24h1v1h-1zM56 24h2v1h-2zM61 24h1v1h-1zM65 24h1v1h-1zM68 24h1v1h-1zM128 24h2v1h-2zM43 25h1v1h-1zM47 25h1v1h-1zM49 25h1v1h-1zM52 25h1v1h-1zM56 25h1v1h-1zM58 25h1v1h-1zM65 25h3v1h-3zM128 25h1v1h-1zM131 25h1v1h-1zM44 26h1v1h-1zM46 26h2v1h-2zM51 26h1v1h-1zM54 26h1v1h-1zM59 26h1v1h-1zM65 26h2v1h-2zM45 27h1v1h-1zM50 27h1v1h-1zM54 27h1v1h-1zM44 28h1v1h-1zM48 28h1v1h-1zM66 28h1v1h-1zM43 29h2v1h-2zM49 29h1v1h-1zM51 29h1v1h-1zM54 29h1v1h-1zM56 29h1v1h-1zM60 29h1v1h-1zM53 30h1v1h-1zM60 30h1v1h-1zM44 31h2v1h-2zM54 31h1v1h-1zM39 32h1v1h-1zM41 32h1v1h-1zM60 32h2v1h-2zM66 32h1v1h-1zM51 33h2v1h-2zM65 33h1v1h-1zM67 33h1v1h-1zM71 33h2v1h-2zM35 34h1v1h-1zM39 34h1v1h-1zM51 34h1v1h-1zM60 34h1v1h-1zM63 34h3v1h-3zM68 34h1v1h-1zM70 34h2v1h-2zM43 35h2v1h-2zM47 35h1v1h-1zM51 35h2v1h-2zM56 35h1v1h-1zM59 35h1v1h-1zM68 35h2v1h-2zM38 36h1v1h-1zM45 36h1v1h-1zM48 36h1v1h-1zM50 36h1v1h-1zM64 36h1v1h-1zM67 36h2v1h-2zM70 36h1v1h-1zM36 37h1v1h-1zM38 37h1v1h-1zM48 37h1v1h-1zM59 37h1v1h-1zM70 37h1v1h-1zM32 38h1v1h-1zM34 38h2v1h-2zM38 38h1v1h-1zM51 38h1v1h-1zM60 38h3v1h-3zM65 38h2v1h-2zM68 38h3v1h-3zM32 39h1v1h-1zM37 39h1v1h-1zM48 39h1v1h-1zM50 39h1v1h-1zM52 39h1v1h-1zM58 39h2v1h-2zM61 39h2v1h-2zM64 39h1v1h-1zM69 39h1v1h-1zM33 40h1v1h-1zM36 40h1v1h-1zM38 40h2v1h-2zM41 40h1v1h-1zM43 40h1v1h-1zM50 40h1v1h-1zM55 40h1v1h-1zM57 40h1v1h-1zM59 40h3v1h-3zM64 40h2v1h-2zM69 40h1v1h-1zM34 41h1v1h-1zM48 41h1v1h-1zM56 41h3v1h-3zM61 41h1v1h-1zM63 41h1v1h-1zM65 41h2v1h-2zM68 41h1v1h-1zM34 42h1v1h-1zM41 42h1v1h-1zM47 42h1v1h-1zM53 42h1v1h-1zM65 42h1v1h-1zM68 42h1v1h-1zM81 42h1v1h-1zM42 43h2v1h-2zM51 43h1v1h-1zM54 43h1v1h-1zM56 43h1v1h-1zM58 43h1v1h-1zM61 43h1v1h-1zM64 43h1v1h-1zM67 43h1v1h-1zM79 43h1v1h-1zM83 43h1v1h-1zM38 44h1v1h-1zM45 44h3v1h-3zM49 44h1v1h-1zM55 44h1v1h-1zM59 44h3v1h-3zM64 44h1v1h-1zM67 44h1v1h-1zM69 44h1v1h-1zM78 44h1v1h-1zM84 44h1v1h-1zM86 44h1v1h-1zM36 45h4v1h-4zM43 45h2v1h-2zM46 45h1v1h-1zM50 45h1v1h-1zM53 45h1v1h-1zM56 45h3v1h-3zM61 45h1v1h-1zM65 45h3v1h-3zM74 45h2v1h-2zM78 45h2v1h-2zM81 45h1v1h-1zM87 45h2v1h-2zM96 45h1v1h-1zM36 46h3v1h-3zM43 46h1v1h-1zM53 46h1v1h-1zM55 46h2v1h-2zM58 46h1v1h-1zM67 46h1v1h-1zM74 46h1v1h-1zM79 46h2v1h-2zM82 46h1v1h-1zM84 46h1v1h-1zM86 46h1v1h-1zM88 46h1v1h-1zM37 47h1v1h-1zM43 47h1v1h-1zM45 47h1v1h-1zM47 47h2v1h-2zM57 47h3v1h-3zM62 47h2v1h-2zM65 47h1v1h-1zM68 47h1v1h-1zM73 47h1v1h-1zM76 47h2v1h-2zM79 47h1v1h-1zM81 47h1v1h-1zM87 47h1v1h-1zM96 47h2v1h-2zM44 48h1v1h-1zM51 48h1v1h-1zM54 48h2v1h-2zM57 48h1v1h-1zM60 48h4v1h-4zM65 48h1v1h-1zM67 48h2v1h-2zM73 48h1v1h-1zM75 48h2v1h-2zM88 48h2v1h-2zM96 48h2v1h-2zM48 49h1v1h-1zM50 49h1v1h-1zM52 49h3v1h-3zM58 49h1v1h-1zM61 49h1v1h-1zM64 49h2v1h-2zM68 49h1v1h-1zM70 49h1v1h-1zM76 49h1v1h-1zM79 49h3v1h-3zM90 49h1v1h-1zM99 49h1v1h-1zM47 50h3v1h-3zM54 50h2v1h-2zM57 50h4v1h-4zM62 50h3v1h-3zM66 50h1v1h-1zM68 50h1v1h-1zM75 50h1v1h-1zM79 50h2v1h-2zM82 50h1v1h-1zM85 50h1v1h-1zM40 51h1v1h-1zM44 51h1v1h-1zM47 51h1v1h-1zM49 51h3v1h-3zM55 51h1v1h-1zM57 51h1v1h-1zM62 51h2v1h-2zM70 51h3v1h-3zM76 51h3v1h-3zM80 51h4v1h-4zM86 51h1v1h-1zM89 51h1v1h-1zM91 51h2v1h-2zM41 52h1v1h-1zM43 52h1v1h-1zM45 52h1v1h-1zM53 52h2v1h-2zM57 52h4v1h-4zM63 52h1v1h-1zM66 52h1v1h-1zM69 52h1v1h-1zM77 52h1v1h-1zM79 52h2v1h-2zM83 52h1v1h-1zM85 52h1v1h-1zM88 52h1v1h-1zM90 52h1v1h-1zM41 53h1v1h-1zM43 53h1v1h-1zM46 53h1v1h-1zM53 53h1v1h-1zM55 53h1v1h-1zM59 53h1v1h-1zM66 53h1v1h-1zM71 53h2v1h-2zM75 53h1v1h-1zM78 53h1v1h-1zM80 53h1v1h-1zM82 53h1v1h-1zM87 53h1v1h-1zM90 53h1v1h-1zM92 53h1v1h-1zM43 54h2v1h-2zM46 54h2v1h-2zM60 54h1v1h-1zM63 54h1v1h-1zM67 54h2v1h-2zM72 54h2v1h-2zM75 54h1v1h-1zM81 54h3v1h-3zM85 54h1v1h-1zM88 54h1v1h-1zM91 54h3v1h-3zM44 55h2v1h-2zM47 55h4v1h-4zM53 55h1v1h-1zM56 55h1v1h-1zM59 55h1v1h-1zM63 55h1v1h-1zM67 55h1v1h-1zM73 55h1v1h-1zM75 55h1v1h-1zM78 55h2v1h-2zM81 55h1v1h-1zM85 55h2v1h-2zM90 55h1v1h-1zM93 55h1v1h-1zM45 56h1v1h-1zM49 56h1v1h-1zM51 56h1v1h-1zM53 56h2v1h-2zM56 56h1v1h-1zM59 56h1v1h-1zM64 56h2v1h-2zM67 56h1v1h-1zM69 56h1v1h-1zM75 56h1v1h-1zM78 56h1v1h-1zM81 56h1v1h-1zM86 56h2v1h-2zM89 56h1v1h-1zM92 56h1v1h-1zM43 57h1v1h-1zM46 57h1v1h-1zM48 57h1v1h-1zM51 57h1v1h-1zM55 57h1v1h-1zM59 57h3v1h-3zM65 57h1v1h-1zM67 57h1v1h-1zM72 57h1v1h-1zM74 57h1v1h-1zM76 57h3v1h-3zM81 57h2v1h-2zM88 57h1v1h-1zM47 58h3v1h-3zM52 58h4v1h-4zM57 58h1v1h-1zM60 58h2v1h-2zM63 58h1v1h-1zM67 58h3v1h-3zM71 58h5v1h-5zM77 58h2v1h-2zM81 58h3v1h-3zM87 58h1v1h-1zM91 58h1v1h-1zM46 59h1v1h-1zM50 59h1v1h-1zM52 59h1v1h-1zM54 59h1v1h-1zM56 59h2v1h-2zM62 59h1v1h-1zM64 59h2v1h-2zM67 59h6v1h-6zM74 59h1v1h-1zM76 59h2v1h-2zM80 59h1v1h-1zM82 59h1v1h-1zM89 59h1v1h-1zM91 59h1v1h-1zM47 60h1v1h-1zM50 60h1v1h-1zM52 60h3v1h-3zM57 60h1v1h-1zM62 60h2v1h-2zM66 60h1v1h-1zM68 60h3v1h-3zM72 60h2v1h-2zM75 60h1v1h-1zM78 60h4v1h-4zM84 60h1v1h-1zM86 60h2v1h-2zM93 60h1v1h-1zM53 61h1v1h-1zM59 61h3v1h-3zM64 61h1v1h-1zM66 61h2v1h-2zM70 61h1v1h-1zM75 61h1v1h-1zM84 61h1v1h-1zM86 61h1v1h-1zM88 61h5v1h-5zM51 62h1v1h-1zM53 62h1v1h-1zM56 62h2v1h-2zM59 62h1v1h-1zM64 62h1v1h-1zM66 62h1v1h-1zM68 62h2v1h-2zM76 62h3v1h-3zM82 62h1v1h-1zM92 62h1v1h-1z" fill="#a6a6a6"/>
<path d="M123 -14h1v1h-1zM125 -14h2v1h-2zM117 -13h1v1h-1zM123 -13h4v1h-4zM128 -13h2v1h-2zM116 -12h1v1h-1zM120 -12h1v1h-1zM126 -12h2v1h-2zM118 -11h1v1h-1zM120 -11h1v1h-1zM122 -11h1v1h-1zM124 -11h1v1h-1zM127 -11h1v1h-1zM131 -11h1v1h-1zM103 -10h1v1h-1zM106 -10h1v1h-1zM109 -10h1v1h-1zM113 -10h1v1h-1zM117 -10h1v1h-1zM120 -10h2v1h-2zM123 -10h4v1h-4zM128 -10h1v1h-1zM103 -9h4v1h-4zM114 -9h1v1h-1zM116 -9h2v1h-2zM120 -9h2v1h-2zM124 -9h2v1h-2zM128 -9h1v1h-1zM131 -9h2v1h-2zM104 -8h1v1h-1zM106 -8h1v1h-1zM108 -8h2v1h-2zM111 -8h1v1h-1zM113 -8h1v1h-1zM115 -8h2v1h-2zM121 -8h1v1h-1zM123 -8h5v1h-5zM130 -8h1v1h-1zM133 -8h1v1h-1zM96 -7h1v1h-1zM99 -7h1v1h-1zM103 -7h1v1h-1zM105 -7h1v1h-1zM107 -7h1v1h-1zM109 -7h2v1h-2zM113 -7h1v1h-1zM115 -7h2v1h-2zM118 -7h2v1h-2zM121 -7h2v1h-2zM124 -7h4v1h-4zM129 -7h1v1h-1zM132 -7h1v1h-1zM99 -6h1v1h-1zM106 -6h2v1h-2zM112 -6h3v1h-3zM117 -6h3v1h-3zM121 -6h1v1h-1zM123 -6h1v1h-1zM126 -6h1v1h-1zM129 -6h6v1h-6zM95 -5h1v1h-1zM97 -5h1v1h-1zM102 -5h3v1h-3zM107 -5h2v1h-2zM113 -5h1v1h-1zM116 -5h1v1h-1zM118 -5h1v1h-1zM124 -5h1v1h-1zM126 -5h1v1h-1zM129 -5h2v1h-2zM132 -5h2v1h-2zM135 -5h1v1h-1zM93 -4h1v1h-1zM97 -4h1v1h-1zM102 -4h1v1h-1zM105 -4h2v1h-2zM108 -4h2v1h-2zM111 -4h2v1h-2zM114 -4h2v1h-2zM119 -4h1v1h-1zM123 -4h1v1h-1zM126 -4h6v1h-6zM133 -4h1v1h-1zM93 -3h1v1h-1zM96 -3h1v1h-1zM100 -3h3v1h-3zM104 -3h4v1h-4zM109 -3h3v1h-3zM113 -3h4v1h-4zM121 -3h2v1h-2zM124 -3h5v1h-5zM131 -3h3v1h-3zM135 -3h2v1h-2zM103 -2h3v1h-3zM108 -2h2v1h-2zM111 -2h1v1h-1zM113 -2h1v1h-1zM115 -2h2v1h-2zM119 -2h1v1h-1zM121 -2h2v1h-2zM125 -2h3v1h-3zM131 -2h3v1h-3zM135 -2h3v1h-3zM99 -1h3v1h-3zM103 -1h1v1h-1zM105 -1h4v1h-4zM110 -1h1v1h-1zM116 -1h6v1h-6zM123 -1h2v1h-2zM127 -1h1v1h-1zM129 -1h1v1h-1zM131 -1h2v1h-2zM136 -1h1v1h-1zM138 -1h1v1h-1zM102 0h1v1h-1zM107 0h1v1h-1zM112 0h2v1h-2zM116 0h10v1h-10zM127 0h1v1h-1zM129 0h1v1h-1zM131 0h1v1h-1zM133 0h5v1h-5zM139 0h1v1h-1zM101 1h3v1h-3zM106 1h1v1h-1zM109 1h5v1h-5zM115 1h1v1h-1zM117 1h2v1h-2zM120 1h1v1h-1zM122 1h1v1h-1zM125 1h1v1h-1zM128 1h1v1h-1zM131 1h5v1h-5zM137 1h1v1h-1zM101 2h2v1h-2zM104 2h1v1h-1zM108 2h2v1h-2zM111 2h6v1h-6zM120 2h1v1h-1zM129 2h1v1h-1zM131 2h1v1h-1zM102 3h1v1h-1zM104 3h1v1h-1zM107 3h3v1h-3zM111 3h5v1h-5zM117 3h2v1h-2zM120 3h2v1h-2zM133 3h2v1h-2zM103 4h3v1h-3zM109 4h1v1h-1zM111 4h6v1h-6zM118 4h1v1h-1zM121 4h1v1h-1zM142 4h1v1h-1zM113 5h2v1h-2zM116 5h1v1h-1zM141 5h3v1h-3zM112 6h1v1h-1zM117 6h1v1h-1zM140 6h1v1h-1zM142 6h3v1h-3zM112 7h1v1h-1zM115 7h3v1h-3zM113 8h1v1h-1zM143 8h1v1h-1zM143 9h1v1h-1zM145 9h1v1h-1zM141 10h1v1h-1zM144 10h3v1h-3zM140 11h2v1h-2zM145 11h2v1h-2zM84 12h2v1h-2zM140 12h3v1h-3zM145 12h1v1h-1zM83 13h1v1h-1zM85 13h1v1h-1zM139 13h1v1h-1zM141 13h1v1h-1zM145 13h1v1h-1zM147 13h1v1h-1zM61 14h1v1h-1zM138 14h1v1h-1zM143 14h2v1h-2zM59 15h1v1h-1zM64 15h1v1h-1zM139 15h6v1h-6zM55 16h9v1h-9zM65 16h2v1h-2zM140 16h5v1h-5zM146 16h1v1h-1zM53 17h1v1h-1zM55 17h1v1h-1zM58 17h1v1h-1zM60 17h6v1h-6zM140 17h2v1h-2zM143 17h5v1h-5zM50 18h1v1h-1zM57 18h5v1h-5zM65 18h2v1h-2zM142 18h3v1h-3zM49 19h3v1h-3zM54 19h1v1h-1zM56 19h1v1h-1zM58 19h1v1h-1zM60 19h3v1h-3zM64 19h2v1h-2zM131 19h1v1h-1zM142 19h1v1h-1zM52 20h3v1h-3zM57 20h3v1h-3zM61 20h4v1h-4zM140 20h1v1h-1zM48 21h3v1h-3zM52 21h1v1h-1zM57 21h1v1h-1zM59 21h1v1h-1zM61 21h1v1h-1zM63 21h4v1h-4zM122 21h1v1h-1zM128 21h1v1h-1zM46 22h2v1h-2zM50 22h1v1h-1zM53 22h11v1h-11zM66 22h2v1h-2zM127 22h1v1h-1zM130 22h1v1h-1zM132 22h1v1h-1zM46 23h1v1h-1zM48 23h2v1h-2zM51 23h2v1h-2zM57 23h1v1h-1zM59 23h3v1h-3zM63 23h3v1h-3zM127 23h4v1h-4zM45 24h1v1h-1zM48 24h1v1h-1zM52 24h2v1h-2zM55 24h1v1h-1zM58 24h1v1h-1zM60 24h1v1h-1zM62 24h2v1h-2zM66 24h2v1h-2zM130 24h2v1h-2zM44 25h3v1h-3zM48 25h1v1h-1zM50 25h2v1h-2zM53 25h3v1h-3zM57 25h1v1h-1zM59 25h2v1h-2zM62 25h2v1h-2zM68 25h1v1h-1zM130 25h1v1h-1zM45 26h1v1h-1zM48 26h3v1h-3zM52 26h2v1h-2zM55 26h1v1h-1zM57 26h2v1h-2zM63 26h2v1h-2zM67 26h1v1h-1zM131 26h1v1h-1zM42 27h1v1h-1zM44 27h1v1h-1zM46 27h4v1h-4zM51 27h3v1h-3zM55 27h1v1h-1zM65 27h1v1h-1zM67 27h1v1h-1zM45 28h3v1h-3zM50 28h4v1h-4zM55 28h1v1h-1zM67 28h1v1h-1zM42 29h1v1h-1zM45 29h4v1h-4zM53 29h1v1h-1zM61 29h1v1h-1zM66 29h1v1h-1zM42 30h6v1h-6zM61 30h1v1h-1zM66 30h1v1h-1zM42 31h2v1h-2zM59 31h4v1h-4zM38 32h1v1h-1zM40 32h1v1h-1zM42 32h1v1h-1zM51 32h1v1h-1zM53 32h1v1h-1zM63 32h2v1h-2zM70 32h1v1h-1zM37 33h4v1h-4zM42 33h2v1h-2zM55 33h1v1h-1zM58 33h1v1h-1zM60 33h5v1h-5zM66 33h1v1h-1zM70 33h1v1h-1zM38 34h1v1h-1zM40 34h2v1h-2zM50 34h1v1h-1zM54 34h1v1h-1zM56 34h1v1h-1zM58 34h1v1h-1zM61 34h2v1h-2zM66 34h2v1h-2zM69 34h1v1h-1zM34 35h5v1h-5zM40 35h1v1h-1zM50 35h1v1h-1zM60 35h3v1h-3zM67 35h1v1h-1zM70 35h2v1h-2zM35 36h3v1h-3zM46 36h1v1h-1zM56 36h1v1h-1zM58 36h1v1h-1zM66 36h1v1h-1zM69 36h1v1h-1zM71 36h2v1h-2zM32 37h1v1h-1zM34 37h2v1h-2zM37 37h1v1h-1zM41 37h1v1h-1zM44 37h1v1h-1zM49 37h1v1h-1zM56 37h3v1h-3zM60 37h1v1h-1zM68 37h2v1h-2zM71 37h1v1h-1zM31 38h1v1h-1zM33 38h1v1h-1zM36 38h2v1h-2zM40 38h1v1h-1zM49 38h1v1h-1zM53 38h1v1h-1zM58 38h2v1h-2zM71 38h2v1h-2zM30 39h1v1h-1zM33 39h4v1h-4zM40 39h3v1h-3zM44 39h1v1h-1zM49 39h1v1h-1zM51 39h1v1h-1zM54 39h1v1h-1zM56 39h2v1h-2zM60 39h1v1h-1zM63 39h1v1h-1zM65 39h1v1h-1zM67 39h2v1h-2zM71 39h1v1h-1zM32 40h1v1h-1zM35 40h1v1h-1zM40 40h1v1h-1zM42 40h1v1h-1zM48 40h2v1h-2zM51 40h1v1h-1zM53 40h2v1h-2zM56 40h1v1h-1zM62 40h2v1h-2zM66 40h2v1h-2zM35 41h2v1h-2zM39 41h5v1h-5zM47 41h1v1h-1zM49 41h1v1h-1zM53 41h2v1h-2zM62 41h1v1h-1zM64 41h1v1h-1zM67 41h1v1h-1zM81 41h1v1h-1zM39 42h2v1h-2zM42 42h2v1h-2zM48 42h1v1h-1zM50 42h2v1h-2zM57 42h8v1h-8zM66 42h2v1h-2zM69 42h1v1h-1zM79 42h1v1h-1zM82 42h1v1h-1zM38 43h4v1h-4zM44 43h1v1h-1zM49 43h2v1h-2zM55 43h1v1h-1zM59 43h2v1h-2zM62 43h2v1h-2zM65 43h2v1h-2zM68 43h2v1h-2zM78 43h1v1h-1zM80 43h3v1h-3zM84 43h1v1h-1zM39 44h2v1h-2zM43 44h1v1h-1zM48 44h1v1h-1zM54 44h1v1h-1zM56 44h1v1h-1zM58 44h1v1h-1zM62 44h2v1h-2zM65 44h2v1h-2zM68 44h1v1h-1zM70 44h1v1h-1zM77 44h1v1h-1zM79 44h5v1h-5zM85 44h1v1h-1zM94 44h1v1h-1zM35 45h1v1h-1zM47 45h2v1h-2zM51 45h1v1h-1zM55 45h1v1h-1zM59 45h1v1h-1zM63 45h2v1h-2zM68 45h2v1h-2zM76 45h2v1h-2zM80 45h1v1h-1zM82 45h5v1h-5zM92 45h1v1h-1zM94 45h2v1h-2zM46 46h3v1h-3zM51 46h2v1h-2zM54 46h1v1h-1zM57 46h1v1h-1zM60 46h7v1h-7zM68 46h2v1h-2zM76 46h3v1h-3zM81 46h1v1h-1zM83 46h1v1h-1zM85 46h1v1h-1zM87 46h1v1h-1zM93 46h5v1h-5zM36 47h1v1h-1zM41 47h2v1h-2zM46 47h1v1h-1zM49 47h1v1h-1zM52 47h5v1h-5zM60 47h2v1h-2zM64 47h1v1h-1zM66 47h2v1h-2zM69 47h1v1h-1zM74 47h2v1h-2zM78 47h1v1h-1zM80 47h1v1h-1zM82 47h5v1h-5zM88 47h1v1h-1zM95 47h1v1h-1zM39 48h1v1h-1zM42 48h2v1h-2zM45 48h6v1h-6zM52 48h2v1h-2zM56 48h1v1h-1zM58 48h2v1h-2zM64 48h1v1h-1zM66 48h1v1h-1zM69 48h4v1h-4zM74 48h1v1h-1zM77 48h11v1h-11zM95 48h1v1h-1zM98 48h1v1h-1zM39 49h9v1h-9zM49 49h1v1h-1zM51 49h1v1h-1zM55 49h3v1h-3zM59 49h2v1h-2zM62 49h2v1h-2zM66 49h2v1h-2zM69 49h1v1h-1zM71 49h5v1h-5zM77 49h2v1h-2zM82 49h8v1h-8zM96 49h1v1h-1zM98 49h1v1h-1zM41 50h1v1h-1zM43 50h1v1h-1zM45 50h2v1h-2zM50 50h4v1h-4zM56 50h1v1h-1zM61 50h1v1h-1zM65 50h1v1h-1zM67 50h1v1h-1zM69 50h6v1h-6zM76 50h3v1h-3zM81 50h1v1h-1zM83 50h2v1h-2zM86 50h6v1h-6zM39 51h1v1h-1zM41 51h1v1h-1zM43 51h1v1h-1zM45 51h2v1h-2zM48 51h1v1h-1zM52 51h3v1h-3zM56 51h1v1h-1zM58 51h4v1h-4zM64 51h6v1h-6zM73 51h3v1h-3zM79 51h1v1h-1zM84 51h2v1h-2zM87 51h2v1h-2zM90 51h1v1h-1zM42 52h1v1h-1zM44 52h1v1h-1zM46 52h7v1h-7zM55 52h2v1h-2zM61 52h2v1h-2zM64 52h2v1h-2zM67 52h2v1h-2zM70 52h7v1h-7zM78 52h1v1h-1zM81 52h2v1h-2zM84 52h1v1h-1zM86 52h2v1h-2zM89 52h1v1h-1zM91 52h2v1h-2zM42 53h1v1h-1zM44 53h2v1h-2zM47 53h6v1h-6zM54 53h1v1h-1zM56 53h3v1h-3zM60 53h6v1h-6zM67 53h4v1h-4zM73 53h2v1h-2zM76 53h2v1h-2zM79 53h1v1h-1zM81 53h1v1h-1zM83 53h4v1h-4zM88 53h2v1h-2zM91 53h1v1h-1zM93 53h1v1h-1zM41 54h2v1h-2zM45 54h1v1h-1zM48 54h12v1h-12zM61 54h2v1h-2zM64 54h3v1h-3zM69 54h3v1h-3zM74 54h1v1h-1zM76 54h5v1h-5zM84 54h1v1h-1zM89 54h2v1h-2zM42 55h2v1h-2zM46 55h1v1h-1zM51 55h2v1h-2zM54 55h2v1h-2zM57 55h2v1h-2zM60 55h3v1h-3zM64 55h3v1h-3zM68 55h5v1h-5zM74 55h1v1h-1zM76 55h2v1h-2zM80 55h1v1h-1zM82 55h3v1h-3zM87 55h3v1h-3zM91 55h2v1h-2zM43 56h2v1h-2zM46 56h3v1h-3zM50 56h1v1h-1zM52 56h1v1h-1zM55 56h1v1h-1zM57 56h2v1h-2zM60 56h4v1h-4zM66 56h1v1h-1zM68 56h1v1h-1zM70 56h5v1h-5zM76 56h2v1h-2zM79 56h2v1h-2zM82 56h4v1h-4zM88 56h1v1h-1zM90 56h2v1h-2zM93 56h1v1h-1zM44 57h2v1h-2zM47 57h1v1h-1zM49 57h2v1h-2zM52 57h3v1h-3zM56 57h3v1h-3zM62 57h3v1h-3zM66 57h1v1h-1zM68 57h4v1h-4zM73 57h1v1h-1zM75 57h1v1h-1zM79 57h2v1h-2zM83 57h5v1h-5zM89 57h5v1h-5zM45 58h2v1h-2zM50 58h2v1h-2zM56 58h1v1h-1zM58 58h2v1h-2zM62 58h1v1h-1zM64 58h3v1h-3zM70 58h1v1h-1zM76 58h1v1h-1zM79 58h2v1h-2zM84 58h3v1h-3zM88 58h3v1h-3zM92 58h1v1h-1zM47 59h3v1h-3zM51 59h1v1h-1zM53 59h1v1h-1zM55 59h1v1h-1zM58 59h4v1h-4zM63 59h1v1h-1zM66 59h1v1h-1zM73 59h1v1h-1zM75 59h1v1h-1zM78 59h2v1h-2zM81 59h1v1h-1zM83 59h6v1h-6zM90 59h1v1h-1zM92 59h1v1h-1zM48 60h2v1h-2zM51 60h1v1h-1zM55 60h2v1h-2zM58 60h4v1h-4zM64 60h2v1h-2zM67 60h1v1h-1zM71 60h1v1h-1zM74 60h1v1h-1zM76 60h2v1h-2zM82 60h2v1h-2zM85 60h1v1h-1zM88 60h5v1h-5zM47 61h6v1h-6zM54 61h3v1h-3zM58 61h1v1h-1zM62 61h2v1h-2zM65 61h1v1h-1zM68 61h2v1h-2zM71 61h4v1h-4zM76 61h8v1h-8zM85 61h1v1h-1zM87 61h1v1h-1zM48 62h3v1h-3zM52 62h1v1h-1zM54 62h2v1h-2zM58 62h1v1h-1zM61 62h3v1h-3zM65 62h1v1h-1zM67 62h1v1h-1zM70 62h6v1h-6zM79 62h3v1h-3zM83 62h2v1h-2zM86 62h3v1h-3z" fill="#9a9a9a"/>
<path d="M50 -13h1v1h-1zM74 -13h2v1h-2zM74 -12h3v1h-3zM54 -11h1v1h-1zM75 -11h2v1h-2zM83 -11h1v1h-1zM30 -9h1v1h-1zM51 -9h1v1h-1zM32 -8h1v1h-1zM46 -8h1v1h-1zM36 -6h1v1h-1zM27 -5h1v1h-1zM55 -5h2v1h-2zM57 -4h1v1h-1zM58 -3h2v1h-2zM40 -2h2v1h-2zM55 -2h1v1h-1zM59 -2h1v1h-1zM38 -1h1v1h-1zM40 -1h1v1h-1zM42 -1h2v1h-2zM38 0h1v1h-1zM42 0h1v1h-1zM60 0h1v1h-1zM26 1h1v1h-1zM22 2h1v1h-1zM28 2h1v1h-1zM59 2h2v1h-2zM123 2h1v1h-1zM126 2h1v1h-1zM122 3h4v1h-4zM27 4h1v1h-1zM43 4h1v1h-1zM124 4h1v1h-1zM123 5h1v1h-1zM20 6h1v1h-1zM128 6h1v1h-1zM21 7h1v1h-1zM23 7h1v1h-1zM122 7h1v1h-1zM39 8h1v1h-1zM129 8h1v1h-1zM12 9h1v1h-1zM85 9h1v1h-1zM110 9h1v1h-1zM123 9h1v1h-1zM129 9h1v1h-1zM19 10h1v1h-1zM40 10h2v1h-2zM110 10h1v1h-1zM123 10h1v1h-1zM129 10h1v1h-1zM20 11h1v1h-1zM23 11h3v1h-3zM107 11h1v1h-1zM124 11h1v1h-1zM129 11h1v1h-1zM25 12h1v1h-1zM40 12h1v1h-1zM107 12h2v1h-2zM125 12h4v1h-4zM16 13h1v1h-1zM34 13h1v1h-1zM40 13h1v1h-1zM15 14h1v1h-1zM34 14h1v1h-1zM129 14h2v1h-2zM17 15h4v1h-4zM129 15h1v1h-1zM18 16h1v1h-1zM34 16h1v1h-1zM36 16h1v1h-1zM86 16h1v1h-1zM18 17h2v1h-2zM28 17h1v1h-1zM39 17h1v1h-1zM37 18h2v1h-2zM88 18h1v1h-1zM25 19h1v1h-1zM27 19h1v1h-1zM31 19h1v1h-1zM87 19h1v1h-1zM89 19h1v1h-1zM148 19h1v1h-1zM25 20h1v1h-1zM39 20h1v1h-1zM34 21h1v1h-1zM146 21h2v1h-2zM146 22h1v1h-1zM138 23h2v1h-2zM31 24h1v1h-1zM37 25h1v1h-1zM139 25h1v1h-1zM32 26h1v1h-1zM136 26h2v1h-2zM152 26h1v1h-1zM31 27h1v1h-1zM30 28h1v1h-1zM32 28h1v1h-1zM134 28h2v1h-2zM33 29h1v1h-1zM29 31h1v1h-1zM31 31h1v1h-1z" fill="#b6ccff"/>
<path d="M50 -12h1v1h-1zM55 -4h2v1h-2zM55 -3h1v1h-1zM41 -1h1v1h-1zM56 -1h1v1h-1zM59 -1h2v1h-2zM57 0h1v1h-1zM58 1h3v1h-3zM34 6h1v1h-1zM123 6h2v1h-2zM126 6h2v1h-2zM123 7h2v1h-2zM127 7h2v1h-2zM123 8h1v1h-1zM128 8h1v1h-1zM86 9h1v1h-1zM108 9h1v1h-1zM124 9h1v1h-1zM128 9h1v1h-1zM108 10h1v1h-1zM124 10h1v1h-1zM128 10h1v1h-1zM15 11h1v1h-1zM108 11h2v1h-2zM127 11h2v1h-2zM16 12h1v1h-1zM35 15h1v1h-1zM86 17h2v1h-2zM86 18h2v1h-2zM148 18h2v1h-2zM88 19h1v1h-1zM147 20h2v1h-2zM27 21h2v1h-2zM138 24h1v1h-1zM135 27h2v1h-2zM29 32h1v1h-1zM31 32h1v1h-1z" fill="#84baff"/>
<path d="M56 -3h2v1h-2zM56 -2h3v1h-3zM57 -1h2v1h-2zM58 0h2v1h-2zM125 4h2v1h-2zM124 5h1v1h-1zM125 6h1v1h-1zM125 7h2v1h-2zM124 8h4v1h-4zM125 9h3v1h-3zM126 10h2v1h-2zM126 11h1v1h-1zM85 16h1v1h-1z" fill="#4c98ff"/>
<path d="M125 5h1v1h-1z" fill="#1c28f0"/>
<path d="M126 5h1v1h-1zM109 10h1v1h-1zM125 10h1v1h-1zM125 11h1v1h-1z" fill="#3866ff"/>
</g>
</g>
</g>
<path d="M640.9 632V1139.7M719.6 632V1139.7M798.4 632V1139.7M877.1 632V1139.7M955.8 632V1139.7M1034.5 632V1139.7M603.3 688.7H1077.3M603.3 773.2H1077.3M603.3 857.8H1077.3M603.3 942.4H1077.3M603.3 1026.9H1077.3M603.3 1111.5H1077.3" fill="none" stroke="#111" stroke-width="1.15" stroke-dasharray="2.9 5.4"/>
<path d="M603.3 704Q840.3 874.6 1077.3 1064.1M603.3 816.9Q814.2 971 1025.1 1138.7" fill="none" stroke="#111" stroke-width="1" stroke-dasharray="12.2 11.45"/>
<g font-size="12" text-anchor="middle">
<text x="640.6" y="879.1">-130</text>
<text x="719.4" y="879.1">-128</text>
<text x="798.1" y="879.1">-126</text>
<text x="876.8" y="879.1">-124</text>
<text x="955.5" y="879.1">-122</text>
<text x="1034.2" y="879.1">-120</text>
</g><g font-size="12" text-anchor="end">
<text x="864.2" y="688.6">16</text>
<text x="864.2" y="773.1">14</text>
<text x="864.2" y="857.7">12</text>
<text x="864.2" y="942.3">10</text>
<text x="864.2" y="1026.8">8</text>
<text x="864.2" y="1111.4">6</text>
</g>
<path d="M833.7 885.5h12.4M839.9 879.3v12.4" stroke="#000" stroke-width="4.2"/>
<text x="633.6" y="656.7" font-size="25">37GHz PCT (K)</text>
<text x="1029.3" y="1113.3" font-size="29.2">(e)</text>
<rect x="1085.5" y="1122.3" width="9" height="8.8" fill="#f7f7f7"/>
<rect x="1085.5" y="1113.9" width="9" height="8.8" fill="#efefef"/>
<rect x="1085.5" y="1105.4" width="9" height="8.8" fill="#e8e8e8"/>
<rect x="1085.5" y="1096.9" width="9" height="8.8" fill="#e0e0e0"/>
<rect x="1085.5" y="1088.5" width="9" height="8.8" fill="#d9d9d9"/>
<rect x="1085.5" y="1080" width="9" height="8.8" fill="#d1d1d1"/>
<rect x="1085.5" y="1071.5" width="9" height="8.8" fill="#c9c9c9"/>
<rect x="1085.5" y="1063.1" width="9" height="8.8" fill="#c2c2c2"/>
<rect x="1085.5" y="1054.6" width="9" height="8.8" fill="#bababa"/>
<rect x="1085.5" y="1046.1" width="9" height="8.8" fill="#b3b3b3"/>
<rect x="1085.5" y="1037.7" width="9" height="8.8" fill="#ababab"/>
<rect x="1085.5" y="1029.2" width="9" height="8.8" fill="#a3a3a3"/>
<rect x="1085.5" y="1020.7" width="9" height="8.8" fill="#9c9c9c"/>
<rect x="1085.5" y="1012.3" width="9" height="8.8" fill="#949494"/>
<rect x="1085.5" y="1003.8" width="9" height="8.8" fill="#8ae68e"/>
<rect x="1085.5" y="995.3" width="9" height="8.8" fill="#82dc86"/>
<rect x="1085.5" y="986.9" width="9" height="8.8" fill="#7ad37e"/>
<rect x="1085.5" y="978.4" width="9" height="8.8" fill="#72c876"/>
<rect x="1085.5" y="969.9" width="9" height="8.8" fill="#6aba6e"/>
<rect x="1085.5" y="961.5" width="9" height="8.8" fill="#ccd2ff"/>
<rect x="1085.5" y="953" width="9" height="8.8" fill="#bccbff"/>
<rect x="1085.5" y="944.5" width="9" height="8.8" fill="#a8c4ff"/>
<rect x="1085.5" y="936.1" width="9" height="8.8" fill="#90bcff"/>
<rect x="1085.5" y="927.6" width="9" height="8.8" fill="#7cb6ff"/>
<rect x="1085.5" y="919.1" width="9" height="8.8" fill="#64aeff"/>
<rect x="1085.5" y="910.7" width="9" height="8.8" fill="#50a8ff"/>
<rect x="1085.5" y="902.2" width="9" height="8.8" fill="#4890ff"/>
<rect x="1085.5" y="893.7" width="9" height="8.8" fill="#4070ff"/>
<rect x="1085.5" y="885.3" width="9" height="8.8" fill="#3c50ff"/>
<rect x="1085.5" y="876.8" width="9" height="8.8" fill="#3030ff"/>
<rect x="1085.5" y="868.3" width="9" height="8.8" fill="#0808ff"/>
<rect x="1085.5" y="859.9" width="9" height="8.8" fill="#0000f0"/>
<rect x="1085.5" y="851.4" width="9" height="8.8" fill="#0000dc"/>
<rect x="1085.5" y="842.9" width="9" height="8.8" fill="#0000c8"/>
<rect x="1085.5" y="834.5" width="9" height="8.8" fill="#ffff00"/>
<rect x="1085.5" y="826" width="9" height="8.8" fill="#fff200"/>
<rect x="1085.5" y="817.5" width="9" height="8.8" fill="#ffe600"/>
<rect x="1085.5" y="809.1" width="9" height="8.8" fill="#ffdc00"/>
<rect x="1085.5" y="800.6" width="9" height="8.8" fill="#ffd000"/>
<rect x="1085.5" y="792.1" width="9" height="8.8" fill="#ff9800"/>
<rect x="1085.5" y="783.7" width="9" height="8.8" fill="#ff8c00"/>
<rect x="1085.5" y="775.2" width="9" height="8.8" fill="#ff8200"/>
<rect x="1085.5" y="766.7" width="9" height="8.8" fill="#ff7800"/>
<rect x="1085.5" y="758.3" width="9" height="8.8" fill="#ff6e00"/>
<rect x="1085.5" y="749.8" width="9" height="8.8" fill="#ff4608"/>
<rect x="1085.5" y="741.3" width="9" height="8.8" fill="#ff3c04"/>
<rect x="1085.5" y="732.9" width="9" height="8.8" fill="#ff3000"/>
<rect x="1085.5" y="724.4" width="9" height="8.8" fill="#ff2400"/>
<rect x="1085.5" y="715.9" width="9" height="8.8" fill="#ff1800"/>
<rect x="1085.5" y="707.5" width="9" height="8.8" fill="#cc0000"/>
<rect x="1085.5" y="699" width="9" height="8.8" fill="#c00000"/>
<rect x="1085.5" y="690.5" width="9" height="8.8" fill="#b40400"/>
<rect x="1085.5" y="682.1" width="9" height="8.8" fill="#aa0800"/>
<rect x="1085.5" y="673.6" width="9" height="8.8" fill="#a01000"/>
<rect x="1085.5" y="665.1" width="9" height="8.8" fill="#5e0e06"/>
<rect x="1085.5" y="656.7" width="9" height="8.8" fill="#5c100a"/>
<rect x="1085.5" y="648.2" width="9" height="8.8" fill="#5a1410"/>
<rect x="1085.5" y="639.7" width="9" height="8.8" fill="#5a1814"/>
<rect x="1085.5" y="631.3" width="9" height="8.8" fill="#5a1a18"/>
<path d="M1094.5 1139.3h2" stroke="#333" stroke-width="0.9"/>
<text x="1115.3" y="1147.6" text-anchor="middle" font-size="19.4">315</text>
<path d="M1094.5 1088.5h2" stroke="#333" stroke-width="0.9"/>
<text x="1115.3" y="1096.8" text-anchor="middle" font-size="19.4">306</text>
<path d="M1094.5 1037.7h2" stroke="#333" stroke-width="0.9"/>
<text x="1115.3" y="1046" text-anchor="middle" font-size="19.4">297</text>
<path d="M1094.5 986.9h2" stroke="#333" stroke-width="0.9"/>
<text x="1115.3" y="995.2" text-anchor="middle" font-size="19.4">288</text>
<path d="M1094.5 936.1h2" stroke="#333" stroke-width="0.9"/>
<text x="1115.3" y="944.4" text-anchor="middle" font-size="19.4">279</text>
<path d="M1094.5 885.3h2" stroke="#333" stroke-width="0.9"/>
<text x="1115.3" y="893.6" text-anchor="middle" font-size="19.4">270</text>
<path d="M1094.5 834.5h2" stroke="#333" stroke-width="0.9"/>
<text x="1115.3" y="842.8" text-anchor="middle" font-size="19.4">261</text>
<path d="M1094.5 783.7h2" stroke="#333" stroke-width="0.9"/>
<text x="1115.3" y="792" text-anchor="middle" font-size="19.4">252</text>
<path d="M1094.5 732.9h2" stroke="#333" stroke-width="0.9"/>
<text x="1115.3" y="741.2" text-anchor="middle" font-size="19.4">243</text>
<path d="M1094.5 682.1h2" stroke="#333" stroke-width="0.9"/>
<text x="1115.3" y="690.4" text-anchor="middle" font-size="19.4">234</text>
</g>
<g id="panel-f">
<g clip-path="url(#cf)">
<g fill="#86e08a" stroke="#000" stroke-width="1.8" stroke-linejoin="miter">
<polygon points="1278.4,688.7 1282.1,686.9 1284.5,686.2 1286.9,684.2 1289.6,681.2 1292.1,679.9 1294.2,678.2 1295.6,676.7 1296.7,674.3 1298.1,671.8 1300.8,670 1303.9,668 1304.9,668.1 1307.9,665.4 1310.9,665.5 1311.7,663.3 1313.8,661.4 1316.6,659.5 1318.8,657.6 1320,657.1 1323,658.5 1326.1,660.6 1328,661.4 1330.8,664.4 1333.5,665.3 1334.7,666.3 1337.5,668.3 1338.8,669.1 1336.5,669.2 1334.5,668.8 1330.6,671.4 1328.5,672.9 1330.9,674.8 1333.9,677.4 1334.8,679.7 1336.2,682.7 1337.4,684.7 1340.1,687.5 1341.9,689.5 1344.4,691.5 1344.5,689.9 1344.2,687.2 1343.3,684.4 1343.3,680.5 1344.8,679.4 1344.5,676.1 1346.7,674 1348.1,675.2 1350,678 1353.8,680.4 1355.7,679.8 1358.2,681.9 1361.7,682.6 1362.6,684 1364.9,685.8 1366.5,688 1369.4,688.3 1370.3,691.1 1366.2,692.6 1366.4,694.9 1366.6,696.8 1365.7,699.6 1366.2,703 1362.8,702.4 1360.8,700.5 1358.3,700.7 1356.3,699.3 1354.6,698.9 1352.1,697.1 1349.1,698.1 1346.7,697.8 1343.3,697.7 1341.6,696.5 1338.2,695.1 1337.4,693.7 1334.2,694.3 1330.5,694.6 1327.1,693.9 1324.3,695.2 1322.5,696.7 1319.2,697.5 1316.3,698.2 1314.9,698.9 1312,699.8 1311.2,702.5 1310,703.8 1309.4,707.1 1307.4,707.9 1304.9,708.3 1300.8,709.4 1299.4,707.6 1297.7,706.5 1299.7,705.1 1303.6,703.3 1304.7,701.7 1306.5,699.9 1305.6,698.4 1305.1,695.8 1303.7,693.1 1301.7,692.4 1298.4,690.4 1296.7,691.5 1293,691.5 1291.1,691.7 1290.3,694.8 1290.1,697.4 1286.9,698.4 1284.3,699.7 1282.5,697 1280.9,694 1279.4,691.6"/>
<polygon points="1237.4,733.1 1240.6,731.3 1243,729.5 1244.4,727.7 1247.3,724.1 1248.1,721.9 1251,720 1252.7,717.9 1254.3,715.9 1256.2,714.7 1258.4,713.4 1261.4,711.6 1260.8,708.6 1262.5,705.9 1261.5,703.2 1266.9,701.8 1267.1,704.4 1268,706.2 1266.9,708.6 1263.8,710.1 1262.8,711.9 1262.1,714.4 1261.7,717.9 1262.4,719.5 1262.7,722 1264.3,724.9 1263.6,727.4 1264,729.7 1263.6,732.7 1261.8,733.9 1259.3,735.2 1257,736.4 1256.7,739.3 1257.1,741.6 1254.1,742.7 1250.6,743.6 1248.9,741.8 1246.3,739.6 1244.8,738.3 1243.8,735.3 1241.2,733.2"/>
<polygon points="1302.2,722.3 1304.5,721.6 1307,721.3 1310.2,720.7 1313.1,719.3 1315.8,718.6 1317.3,720.5 1320.5,719.8 1324.3,720.9 1327.3,721.4 1329.6,719 1332.9,718.3 1335.5,716.7 1337.4,714.7 1338.5,714.2 1341,712.4 1342.8,713.1 1346.2,715.3 1349.5,716.6 1351,717.4 1354,719.7 1355.7,719.8 1356.6,723.7 1356.9,726.6 1359.6,726.8 1361.9,726.2 1365.9,726.1 1366.2,727.9 1367.3,730.6 1369.5,732 1368.5,735.4 1367.6,737.7 1366.3,740.4 1365.3,743.1 1362.5,746 1362.4,749.1 1362.9,752.1 1363.6,755.3 1366.4,757 1367.2,759.4 1369.1,761 1372.2,761.6 1375,763 1376.6,763.3 1380,762.1 1381,760.9 1380.7,758.8 1380.1,755.1 1380.3,753 1378.9,750.1 1378.1,747.3 1379.5,745 1380.1,742.7 1381.8,741 1381.4,738 1382.5,735.2 1382.8,732.7 1383.2,729.6 1385.9,729 1390.2,730.3 1390.8,733.2 1393,734.7 1394.2,737.8 1395.2,739.8 1397.1,741.7 1398.4,744.1 1399.5,746.9 1399.8,750.6 1400.9,752.8 1402,756.2 1402.1,757.8 1404.2,761.6 1405.2,763.7 1404.8,765.6 1406.3,769 1406.2,771.5 1406.3,773.5 1407.9,775.2 1408.4,778.1 1409.8,781.8 1410.5,783.9 1410.5,786.7 1411.1,789.9 1410.6,794.2 1408.6,795.6 1406.4,798.2 1405,800.3 1404.6,802.8 1403.8,804.9 1400.9,807.1 1397.9,809.2 1398.6,810.5 1400.9,813.3 1401.8,815.6 1402.1,818.5 1402,820.4 1401.5,822.6 1399.4,824.4 1399,826.3 1396.5,828.1 1394.4,830.1 1390.4,832 1389.5,830.8 1386.5,828.6 1385.1,827 1382.9,826.3 1381.9,822.5 1383.9,819.6 1386,817.8 1384.3,813.7 1384.4,810.9 1381.5,808.4 1380,805.4 1378.2,804.4 1376.1,803.8 1378.7,799.9 1380.7,797.3 1379.9,794.6 1378,793.7 1377.7,791.1 1375.6,787.5 1375.4,784.7 1372.8,782.5 1372.5,780.9 1371.4,779 1369.2,777.2 1367.6,773.8 1365.3,774.4 1361.4,773.1 1359.3,770.4 1357.7,768 1357,767 1355.1,764.4 1351.9,762.3 1349.4,761.7 1347,761.1 1343.8,759.7 1340.3,757.5 1338,755 1338.5,753.1 1339.4,751.2 1340.5,749.5 1339.1,746.1 1336.6,743.2 1334.5,742.3 1333.8,740 1331.6,737.4 1328.7,737.4 1325.6,738.1 1322.7,737.5 1321.8,740.2 1320.2,741.9 1317.1,745.4 1314.6,744.3 1311.1,742.8 1309.4,742.3 1306.9,740.7 1303.5,740.4 1301.1,739.9 1301.8,735.2 1302.3,732.1 1301.6,729 1302.1,725.6"/>
<polygon points="1193.7,806.2 1196.6,806.6 1199.8,809 1201.2,810 1204.1,812.1 1205.7,814.6 1207.2,815.6 1209.7,817.6 1212.6,817.9 1214.1,816.5 1217.2,816.5 1220.9,814.4 1221.3,818.2 1222.4,819 1223.9,822.6 1226.2,823.7 1228.2,824.9 1230.5,826.2 1234.1,825.6 1236.4,824.8 1239,823.7 1242.6,822.7 1243.5,823.4 1246.7,826.2 1248.3,827.8 1250.7,828.9 1252.1,831.3 1249.6,833.8 1247.6,834.7 1245.3,834.6 1242.2,835.7 1239.5,835.5 1237.1,836.3 1233.7,838.5 1231.4,840.1 1228.5,838.3 1226.9,837 1224.9,836.6 1221.4,835.9 1219.2,835 1216,833 1213.7,832.1 1212.9,829.3 1209.3,828.5 1206.4,827.1 1203.3,825.9 1201.2,824.6 1198.6,825.3 1197.2,824.7 1195,823.7 1194,820.2 1195.2,818.6 1194.8,815.2 1194.9,813.3 1193.8,810.3 1195.2,808.4"/>
<polygon points="1279.2,756.2 1281.3,754.3 1281.8,751.6 1282.4,749.8 1283.8,746.9 1286.7,746.6 1290.1,745.4 1292.4,747.6 1294.7,751 1296.4,753.6 1296.2,756.1 1297.3,758.9 1294,757.5 1292.1,757.2 1290.1,754.8 1285.9,757.6 1285.7,759.7 1285.5,762.3 1282.4,762.4 1278.6,762.2 1277.3,758.4"/>
<polygon points="1256.1,766.8 1256.5,764.5 1257.7,761.8 1259.5,760 1261.5,757 1264.4,755.7 1265.8,757.9 1268.2,759.9 1268.6,762.5 1267.5,764.9 1265.8,768 1263.3,769.2 1260.9,769.4 1258.8,769.9 1253.3,771.1 1251.4,773.2 1250.5,774.1 1251,771.9 1251.3,769.3 1253.3,768"/>
<polygon points="1265.2,785.9 1267,785.2 1269.1,783.2 1270.4,780.7 1272.6,781 1275.1,780.1 1277.9,778.4 1280.9,778.7 1282.9,780.9 1285.1,780.8 1285.2,784.7 1286,787 1284.1,787 1281.3,788.4 1278,786.3 1276.4,784.9 1273,784.6 1270.8,784.6 1268.7,786.2 1266.3,787.4"/>
<polygon points="1277.2,726.3 1280.2,724.6 1281.9,723.1 1285.8,721.7 1287.8,723.2 1289.3,725.8 1292,727.8 1290,728.2 1286.5,726.7 1285.3,725.9 1283,726.4 1280.6,729"/>
<polygon points="1342.9,793.7 1345.9,789.5 1347.5,792.9 1350.9,794.1 1347.1,796.2 1345.2,794.2"/>
<polygon points="1345.3,814.6 1345.9,812.7 1347.2,809.9 1347.1,807.5 1350.1,805.1 1351.5,808.8 1351,811 1350.5,813.9 1349.7,816.3 1349.4,817.7 1346.7,819.5"/>
<polygon points="1338.9,821.6 1342.9,821.1 1344,823.7 1345.2,828.1 1341.6,830.4 1340.8,827.8 1340.8,825.1"/>
<polygon points="1438,764.8 1438.6,762.1 1438.3,760.7 1438,757.2 1438.8,754.8 1441,753.4 1444.6,752.9 1446.1,754.5 1449.9,756.1 1452,757.9 1453.1,761.2 1455.4,760.7 1457.6,762.6 1461.1,762.2 1463.3,762.9 1465.8,763.7 1468.5,766 1471.1,767 1472.5,768.7 1475.6,770.6 1477.8,772.8 1480.1,774.8 1481.6,776.7 1483.8,778.4 1485,780.6 1486.1,782.7 1488.6,784.7 1492,787.3 1493.8,788.5 1495.8,789.3 1498.4,791.1 1499.7,793 1501.2,795 1504,796.4 1505.1,799.3 1507.8,800.3 1509.7,802.1 1512.6,804 1516.1,804.3 1517,808.1 1519.4,809.9 1523.2,810.7 1526,811.4 1527.3,813.4 1529.1,815.2 1526.5,815 1523.5,813.6 1521.8,813.3 1519.5,811.4 1517.7,810.7 1513.1,812.1 1511.1,809.4 1510.2,807.6 1507.2,805 1504.5,803.4 1501.9,802.7 1500.1,801 1497.3,799.8 1495.6,798.4 1492.8,798 1489.1,799.9 1486.3,797.7 1483.4,797.2 1481.4,794.4 1478.5,794.6 1476.8,794.5 1474.5,792.3 1472.6,792.6 1470.2,791.8 1466.2,792.8 1464.7,789.5 1463.7,787.2 1461.4,785.8 1464.3,784.1 1467,782.7 1465.9,780.2 1464,779.2 1461.5,776.1 1458.8,775.6 1456.6,773.9 1454.1,772.9 1452.1,771.3 1449.6,770.4 1446.5,769.7 1444.7,768.7 1441.5,766.5"/>
<polygon points="1440.3,794.5 1444.5,790.6 1447.4,790.7 1450.8,791.8 1453.5,792.1 1456.3,792 1456.8,795.6 1458.1,797.3 1459.6,799.9 1456,803 1453.6,802.9 1451.4,802 1450.1,799.9 1449.5,797.9 1446.9,797 1443.9,795.1"/>
<polygon points="1534.8,820.4 1539.5,820.1 1541.1,822 1543.9,823.3 1545.9,823.7 1545.5,827.5 1541.7,828.3 1538.2,828.7 1536.8,826.5 1536.3,824.1"/>
<polygon points="1451.7,876.8 1453.5,874.2 1454.5,871.8 1457.6,873.9 1459.1,875.7 1461.7,877.9 1464.2,878.9 1465.4,881.8 1468.1,882.3 1469.6,885.4 1471.8,886.6 1472.8,888.9 1473.1,892.1 1473.6,894.9 1474.6,897.4 1475.1,900.2 1475.1,901.7 1473.4,904.5 1473.9,907.1 1471,904.8 1469,902 1469,899.1 1468.4,896.5 1466.8,894 1465.7,891.2 1463.9,889 1462.3,887.5 1460.2,885.6 1458.2,884 1455.6,881.5 1454.8,878.8"/>
<polygon points="1453,893.4 1456.5,893.2 1456.5,896.1 1457.8,898.2 1459.6,900.5 1457.2,902.9 1456.9,900.4 1455,899.3 1454.1,895.7"/>
<polygon points="1436.5,921.9 1436.4,918.9 1438.4,916.2 1438.6,913.3 1439.3,911.9 1441.2,910.1 1442.5,906.9 1443.8,904.4 1448,903.9 1447.5,907.8 1451.5,908 1453.1,907.9 1452.1,910.5 1452.6,914.8 1449.6,915.2 1446.4,916.4 1446.3,919.7 1446.4,922.3 1444.8,925.1 1442.8,928.6 1440.6,926.9 1436.7,924.8"/>
<polygon points="1478.4,878.9 1480.6,878.7 1484.5,878.2 1486.1,879.2 1489.4,880 1490.5,881.7 1492.1,882.7 1494.5,884.7 1496.2,886.2 1498.6,887 1501.4,889.1 1502.6,890.8 1504.5,894 1506.7,896.5 1507.1,897.6 1510.3,900.2 1511.2,901.4 1513.2,904.4 1514.1,905.4 1515.8,906.8 1518.5,908.4 1519.7,909.2 1522.1,911.7 1524.2,914 1524.3,915.5 1525.9,918.4 1528.2,919.6 1531.4,920.7 1533,922.4 1531.4,923.6 1527.8,926.5 1529.4,927.6 1530.3,930.2 1530.1,932.1 1532.9,934.4 1534.7,936.4 1537,938.3 1541.6,937 1543.5,936.2 1545,939.4 1546,942.2 1546.6,944 1549.1,947.1 1549.9,948.4 1550.9,951.4 1552.6,952.8 1554.8,955.1 1557.1,956.1 1560.8,957.3 1562.9,959.6 1565,961.1 1568,962.7 1569.3,964.4 1571.7,965.1 1574.4,966.9 1575.6,968.6 1576.9,970.2 1579.6,972.4 1582.6,972.3 1584.5,974.1 1587,972.6 1588.9,970.7 1590.2,970 1593.7,968.5 1591.9,964.9 1591.9,961 1594.2,961.5 1596.7,960.6 1599.1,959.2 1601.4,961.4 1605.2,963.5 1606.9,964.5 1609.4,966.2 1610.8,968.7 1613.4,971.7 1616.2,973.8 1616.7,975.7 1617.5,977.9 1619.9,980.9 1619.9,983.2 1623.5,984.9 1625.6,985.2 1627.5,986.4 1631,988.9 1633.1,990.1 1634.5,991.3 1636.5,989.5 1639.7,988.6 1641.7,988.2 1644.4,990.9 1645.4,994.1 1642.9,996 1641.8,997.4 1638.9,997.4 1635.9,999.6 1637.6,1002 1638.6,1004.1 1641,1006.1 1642.3,1008.2 1643.3,1010.5 1643.8,1013 1645,1016.1 1647.2,1019 1648.6,1020.6 1647.1,1022.9 1645.1,1025.4 1643,1026.7 1641.7,1028.8 1640.5,1031.7 1638.7,1032.4 1637.2,1035.6 1635.8,1036.7 1633.7,1035.7 1631.1,1034 1628.5,1033 1627,1031.4 1625.3,1029.7 1623.1,1028 1621.5,1025 1619.7,1023.5 1621.7,1020.7 1623.5,1018.5 1624.9,1016.1 1623,1013.9 1622.7,1010.8 1621,1009.3 1623.5,1005.8 1623.5,1004 1625.3,1002.3 1624.4,999.9 1621.7,997 1619.4,994.5 1618,995.1 1614.5,993.4 1613.2,995.5 1610.5,998.5 1605.8,997.7 1604.7,999.9 1604.6,1002.7 1602.9,1004.6 1601,1006.4 1602.4,1009 1602.7,1011.1 1603.4,1013 1602.5,1014.9 1600.2,1015.7 1597.6,1018 1596.2,1019.2 1593.1,1018 1590.6,1015.1 1587,1015 1584.4,1015 1582.2,1013.8 1580.2,1014.8 1576.3,1016.5 1575.5,1014.8 1572.1,1014 1575.9,1011.4 1578.2,1010.5 1581,1010.6 1583.8,1011.5 1586.2,1011.4 1589.2,1012.8 1591,1013.1 1592.9,1010.3 1594.1,1008.1 1593.5,1006.8 1591.6,1005.3 1590.8,1002.5 1588.2,1000.8 1586.2,999.1 1583.6,997.7 1582.4,995 1580,993.2 1578.2,997.3 1577.7,1000.5 1576.1,999.2 1574.9,997.6 1572.3,994.8 1575.3,993 1576.1,991.2 1575.7,989 1575.2,985.9 1575.1,984.7 1573.5,981.2 1572.2,979.3 1571.2,977.9 1567.9,975.8 1566.8,973.6 1566.1,972.3 1564.4,969.5 1562.6,968.5 1558.9,968.2 1556.7,966.6 1554.7,964.5 1551.3,962.7 1549.4,961.9 1546.5,959.3 1543.6,959.1 1541.5,958 1538.5,955.3 1535.6,955 1533.4,954.4 1531.4,953.2 1527.3,953.1 1525.9,952 1523.5,950 1521.4,946.6 1520.6,945 1520.9,943 1523.2,939.6 1521.6,938.4 1519.9,935.6 1519.2,933 1517.4,931 1515.9,929.7 1514.6,927.7 1514.8,925.4 1513.3,923 1511,920.3 1510.2,919.5 1507.6,916.8 1507,915 1504.9,912.6 1504.8,911.2 1503.2,908.8 1500.6,908.3 1496.7,908 1493.5,906.5 1492.9,909.8 1491.7,911.8 1492.6,914.2 1493.4,917.4 1493.9,918.8 1493.7,921.9 1491.5,922.7 1491.2,920.6 1490.4,918.9 1488.2,915.5 1488.9,912.9 1487.1,910.7 1488.3,907.7 1489.3,905.2 1488.8,901.1 1488,899.2 1487.2,895.4 1487.2,892.9 1484.7,890.1 1484,886.6 1483.5,885.7 1481.1,884 1479.1,880.5"/>
<polygon points="1649.2,1003.3 1651.9,1002.6 1655.4,1001.3 1657.6,999.7 1659.8,998.8 1660.7,996.6 1660.6,993.7 1663.4,993.2 1666.9,991.2 1666.5,994.2 1666.5,996.5 1667,1000 1666.1,1002.6 1666.4,1004.9 1667.4,1007.2 1667.4,1009.5 1664.5,1007.1 1662.3,1005.9 1661.5,1003.8 1656.9,1003.8 1654.2,1003.7"/>
<polygon points="1639.8,944.3 1645.2,942.1 1645.2,946.2 1641.3,946.4"/>
<polygon points="1538.2,999.5 1539.7,1000.7 1543.2,1001.1 1545.1,1001.9 1546.7,1004.2 1544.7,1004 1541.4,1003.9 1538.8,1004.4"/>
<polygon points="1555.8,1001.4 1559.8,1000.2 1563.1,998.4 1565.3,999.6 1566.8,1001.4 1563.4,1002.3 1560,1004 1557.7,1001.6"/>
<polygon points="1486.6,953.3 1490,951.6 1491.2,950.3 1493.6,952.5 1495.8,954.2 1494.1,956.9 1493.6,960.4 1490.6,960 1489.2,958.2 1488.1,955.3"/>
<polygon points="1488.8,968.6 1491.1,966.6 1492.7,969.4 1493.9,971.8 1490.6,971.9 1489.4,970.6"/>
<polygon points="1462.8,998.3 1465.2,995.3 1466.8,993.5 1468.6,995.5 1469.3,998.4 1468.2,1000.4 1466.4,1001.8 1464.8,999.5"/>
<polygon points="1456.1,1005.3 1458.9,1003.9 1460.6,1005.4 1463.5,1008.4 1466,1007.7 1465.1,1011.5 1459.6,1010.4 1457.1,1007.5"/>
<polygon points="1495.7,1027.8 1496.7,1025.2 1498,1022.7 1500,1021.1 1501,1019.5 1502.1,1017 1502.4,1015 1504,1015.2 1503.7,1018.3 1502.6,1020.5 1501,1022.5 1499.9,1024.8 1498.1,1025.8 1496.8,1028.2"/>
<polygon points="1528.1,980.4 1530.3,977.5 1531.5,978.6 1528.6,981.7"/>
<polygon points="1443.4,1077.7 1445.1,1075.2 1447.4,1073.6 1450.8,1073.5 1452,1072.4 1454.6,1070.9 1456.8,1068.5 1457.6,1066.3 1458.5,1062.6 1460,1060.4 1462.8,1057.8 1464.3,1055.6 1467,1056.2 1469.9,1057.5 1473,1057.8 1471.4,1060.8 1471.2,1063.9 1471.3,1066.3 1469.2,1067.3 1466.6,1068.4 1466.7,1071.4 1467.4,1074.5 1467.8,1076.9 1467.7,1080.7 1469.4,1082.9 1466.7,1083.4 1463.6,1082.5 1460.6,1082 1458.4,1082 1455.6,1082.8 1453,1081.8 1449.4,1081.5 1446,1080.8"/>
<polygon points="1474.3,1078 1476.7,1076.9 1479.3,1075.3 1481.2,1074.9 1484.2,1073 1487.5,1073.3 1489.8,1072.1 1491.2,1072.2 1493.6,1070.8 1497.5,1070.7 1500,1070.3 1501.6,1068.4 1503.6,1071.3 1506.5,1071.6 1507.7,1073.1 1505.6,1075.7 1503.5,1076.1 1500.4,1078.3 1498.2,1078.5 1494.3,1079.3 1491.3,1080 1489,1080.9 1487.7,1082.8 1483.9,1083.6 1481.3,1083.3 1479.3,1082.8 1476.4,1082.3 1474.9,1080.2"/>
<polygon points="1512.7,1059.7 1517.4,1059.6 1518.2,1056.2 1518.5,1053.9 1519.8,1051.9 1522.9,1051.6 1526.5,1050.3 1528,1053 1530.1,1055 1528.7,1057 1527.7,1060.2 1524.7,1060.5 1522.3,1059.8 1521.2,1063.2 1520,1064.5 1516.5,1065.2 1514.9,1063.4"/>
<polygon points="1532.1,1040.7 1535,1038.2 1539.3,1040.6 1537.6,1042.9 1537.1,1045.1 1535.9,1047.6 1533.3,1044.9 1532.6,1042.2"/>
<polygon points="1534.7,1065.6 1537.5,1064.9 1540.4,1065.4 1541.6,1065.9 1545.1,1066.9 1546.3,1067.5 1549.9,1066.1 1551.6,1064.8 1555.3,1065.7 1558.5,1066.2 1560.6,1065.3 1562.7,1067 1565.6,1067.1 1568.3,1067.5 1570.1,1068.5 1572.1,1069.6 1575.8,1068.7 1578.4,1068.8 1580.3,1068.3 1582.2,1066.1 1584.7,1063.8 1587.4,1064.5 1588.8,1064.4 1592.3,1064.6 1592.9,1066.1 1595.6,1068.9 1597.7,1070.3 1600.1,1070.4 1603.6,1069.5 1604.5,1068.1 1605.4,1065.7 1606.2,1063.4 1610.6,1062.9 1613.6,1063.5 1614.3,1065.9 1615.7,1067.7 1618.8,1069.1 1622.2,1069.6 1625.3,1067.7 1627.8,1065.7 1630,1064.6 1630.9,1066.1 1632.4,1068.2 1634.6,1070.5 1636.6,1072.2 1639.4,1074.1 1642.3,1076.4 1644.4,1075.7 1646.9,1074.2 1649.4,1073.1 1650.8,1074.1 1652.5,1076.4 1655.6,1079.3 1658.2,1078.3 1661,1078.2 1663.3,1078.2 1666.4,1077.6 1666.8,1081.8 1663.9,1083.2 1662.6,1083.9 1660.1,1085.3 1656.9,1086.8 1656.6,1087.9 1654.4,1090.2 1652.5,1091 1650.1,1091.8 1646.5,1092.8 1645,1094.8 1642.8,1097.7 1645.2,1101.5 1645.9,1104.3 1647.1,1106.6 1648.4,1109.8 1649.3,1111.4 1650,1114.9 1653.1,1114.7 1656.1,1115.9 1658.6,1117.2 1661.3,1116.6 1663.4,1115.2 1661.7,1117.4 1660.4,1119.7 1659.8,1123.3 1657.1,1123.5 1654.2,1123.3 1651.2,1122.9 1649,1123.4 1645.8,1122.9 1641.8,1122.8 1640.4,1120.2 1639.9,1118.6 1637.2,1116.1 1635.9,1114.1 1632.6,1113.2 1630.8,1111.6 1629.9,1109.1 1628.4,1108.2 1627.4,1106 1625,1103.3 1622.6,1104.4 1620.7,1103.7 1617.7,1101.2 1616.7,1099 1614,1098.3 1611.4,1099.4 1608.4,1099 1606.6,1097.5 1604.1,1094.4 1603.3,1090.5 1603,1087.7 1601,1085.7 1599.4,1083.7 1597.5,1082.3 1595,1081.4 1592.4,1080.6 1589,1080.6 1587,1079.9 1583.2,1078.2 1580.8,1077.7 1577.2,1078.4 1574.2,1079.5 1570.7,1077.3 1569,1076.4 1566.4,1074.6 1563.3,1075.1 1559.8,1075 1555.9,1073.9 1554.5,1072.8 1550.6,1073.3 1547.9,1072.8 1545.1,1070.8 1543.7,1070.1 1541.6,1069.7 1538.9,1067.7 1536.6,1066.1"/>
<polygon points="1584.8,1110.8 1588.5,1109.4 1591.7,1112.7 1588.1,1115.2 1586.5,1113.3"/>
<polygon points="1575.2,1126.1 1579.8,1125 1580.7,1129.1 1576.8,1130.3"/>
<polygon points="1580,1126.1 1581.8,1123.5 1583.1,1120.2 1584.5,1118.1 1584.1,1118.7 1584.2,1120.3 1583,1123.4 1581.1,1126.1"/>
<polygon points="1601.3,1110.4 1602.8,1107.5 1602.7,1105.6 1604.2,1106 1603.3,1108.1 1602.2,1110.7"/>
<polygon points="1664.2,1103.7 1666.7,1102.4 1667.6,1105.2 1666.1,1107.9 1667.4,1112.5 1664.1,1109.1 1663.5,1106.7"/>
<polygon points="1370.9,935.1 1373.9,936.6 1376.1,936.5 1378.6,938.4 1382.7,939 1385.4,941.2 1387.8,942.7 1390.4,942.1 1392.4,941.5 1391.2,939.1 1389.7,936.8 1392.6,937 1395.5,939.7 1398,939.6 1399.4,940 1401.7,942.2 1405.2,943.9 1407,945.6 1406,948.2 1404.9,949.4 1403.1,949.4 1399,950.8 1398.9,952.6 1396.6,954.7 1394.1,956.1 1391.4,955.8 1388.5,955.4 1385.7,954.2 1383.4,954.4 1380.1,954.4 1379.6,951.8 1381.1,949.6 1378.3,946.6 1377,943.6 1375.4,941.3 1374.2,939.8 1372,936.5"/>
<polygon points="1405.6,894.1 1410.8,892.5 1413.2,892.5 1416.3,893.7 1417.3,896.3 1418.5,897.5 1419.2,900.6 1420.2,902.3 1415.9,901.7 1413.1,901.8 1410.4,900.1 1408.7,897.2"/>
<polygon points="1421.8,953 1425.2,950.7 1426.8,954.4 1422.5,955.3"/>
<polygon points="1406.9,969.3 1408.4,966.2 1409.9,963.5 1409.7,964 1409.4,967.2 1407.4,970"/>
<polygon points="1322.2,1057.5 1323.6,1057.6 1327.2,1055.2 1328.8,1057.3 1332.4,1059 1334.4,1061.6 1330.6,1063.6 1331.7,1066.3 1334.4,1067.5 1336.6,1069.5 1339.8,1069.9 1341.9,1071.9 1340,1072.4 1336.9,1072.4 1335.1,1070.4 1333.1,1068.2 1331.4,1067.2 1329.8,1065 1326.6,1063.3 1325.6,1061.3"/>
<polygon points="1368.8,1062.7 1370,1059.6 1370.4,1058.1 1374.8,1057.4 1377.5,1057.1 1380.8,1056.6 1379,1061 1376.2,1063 1374.6,1063.4 1370.7,1063.4"/>
<polygon points="1385.9,1083.1 1386.3,1080.3 1388.3,1077.8 1388.4,1073.8 1390.7,1072.2 1392.4,1071.3 1396.1,1070.3 1397.2,1073.8 1394.2,1077.3 1392.9,1077.8 1392.3,1081.3 1393.2,1084.6 1391.3,1087.8 1390.9,1090.4 1392.5,1092.1 1396,1094.2 1398.4,1092.1 1401.5,1091.4 1400.2,1095.2 1400.1,1098.7 1396.8,1098.8 1393.8,1101.1 1392.1,1097.3 1391.7,1095.8 1389.6,1092.9 1388.9,1090.9 1387.1,1088.9 1387.3,1086.5"/>
<polygon points="1405.6,1062.2 1408.2,1062.3 1411.3,1063 1414.1,1063.7 1417.5,1063.5 1420.5,1065.2 1422.2,1065.1 1425.3,1066.3 1428.6,1067 1429.3,1068.8 1431,1071.7 1429.9,1075.2 1430,1076.5 1427.1,1074.4 1425,1072.4 1423.3,1075.7 1420.3,1073.3 1419.2,1070.9 1416.5,1068.5 1415,1067.8 1412.5,1067.1 1411,1065.9 1405.2,1066.3"/>
<polygon points="1350.5,734 1352.8,732.8 1355.3,731.3 1358.5,732.3 1361.5,734.2 1362.4,739 1360.1,739.5 1357.3,740.4 1354.4,740 1351.8,738.8 1351.2,735.8" fill="#fff"/>
<polygon points="1326.2,724.7 1328.6,724.3 1331.5,727.2 1329,728.3" fill="#fff"/>
<polygon points="1344.5,744.6 1348.2,743.7 1351.7,746.1 1348.4,747.3" fill="#fff"/>
<polygon points="1611,995 1613.4,993.6 1616.3,992.3 1618,994 1620.9,996.4 1622.7,997.6 1623.3,1001.3 1623.8,1004.4 1621.1,1006.1 1618.5,1007.2 1617.3,1005.6 1614.9,1004 1613.6,1002.2 1612.8,999.6 1611.6,997.4" fill="#fff"/>
<polygon points="1610.9,1076.2 1613.7,1075.5 1615.9,1073.8 1618.8,1075.9 1621.4,1077.6 1622.5,1081.4 1623.2,1084.9 1620.2,1085.8 1617.8,1087.2 1615.5,1085.4 1613.1,1083.3 1612.6,1081.3 1611.5,1079.1" fill="#fff"/>
</g>
<g fill="#143014" stroke="#86e08a" stroke-width=".7"><path d="M1200.2 760.6l2.4-2.6 1.2 1-2.4 2.8z" /><path d="M1239.5 749.8l2.4-2.6 1.2 1-2.4 2.8z" /><path d="M1316.8 761.3l2.4-2.6 1.2 1-2.4 2.8z" /><path d="M1225.3 784.3l2.4-2.6 1.2 1-2.4 2.8z" /><path d="M1244.3 798.5l2.4-2.6 1.2 1-2.4 2.8z" /><path d="M1253.1 821.6l2.4-2.6 1.2 1-2.4 2.8z" /><path d="M1297.8 814.8l2.4-2.6 1.2 1-2.4 2.8z" /><path d="M1292.4 848l2.4-2.6 1.2 1-2.4 2.8z" /><path d="M1202.9 840.6l2.4-2.6 1.2 1-2.4 2.8z" /><path d="M1408.9 812.1l2.4-2.6 1.2 1-2.4 2.8z" /><path d="M1425.2 759.2l2.4-2.6 1.2 1-2.4 2.8z" /><path d="M1289 768.7l2.4-2.6 1.2 1-2.4 2.8z" /><path d="M1278.7 1005.7l2.4-2.6 1.2 1-2.4 2.8z" /><path d="M1345.8 965l2.4-2.6 1.2 1-2.4 2.8z" /><path d="M1357.3 1082.9l2.4-2.6 1.2 1-2.4 2.8z" /><path d="M1410.8 956.2l2.4-2.6 1.2 1-2.4 2.8z" /><path d="M1416.2 956.2l2.4-2.6 1.2 1-2.4 2.8z" /><path d="M1351.2 1067.3l2.4-2.6 1.2 1-2.4 2.8z" /><path d="M1356.6 1066l2.4-2.6 1.2 1-2.4 2.8z" /><path d="M1361.3 1064.6l2.4-2.6 1.2 1-2.4 2.8z" /><path d="M1374.2 1076.8l2.4-2.6 1.2 1-2.4 2.8z" /><path d="M1475.5 1006.4l2.4-2.6 1.2 1-2.4 2.8z" /><path d="M1466.7 974.5l2.4-2.6 1.2 1-2.4 2.8z" /><path d="M1471.4 929.1l2.4-2.6 1.2 1-2.4 2.8z" /><path d="M1497.2 795.5l2.4-2.6 1.2 1-2.4 2.8z" /></g>
<path d="M1383.2 749.6l4.6 3-2.4 3.4-4.6-3z" fill="#ccd2ff"/>
<path d="M1385.3 753.7l4.6 3-2.4 3.4-4.6-3z" fill="#b6ccff"/>
<path d="M1386.2 757.8l4.6 3-2.4 3.4-4.6-3z" fill="#7cb6ff"/>
<path d="M1387.3 761.8l4.6 3-2.4 3.4-4.6-3z" fill="#4890ff"/>
<path d="M1387.3 765.9l4.6 3-2.4 3.4-4.6-3z" fill="#1c28f0"/>
<path d="M1389.3 769.3l4.6 3-2.4 3.4-4.6-3z" fill="#2434ff"/>
<path d="M1388.7 773.3l4.6 3-2.4 3.4-4.6-3z" fill="#3c58ff"/>
<path d="M1384.6 776.7l4.6 3-2.4 3.4-4.6-3z" fill="#a8c4ff"/>
<path d="M1387.3 779.4l4.6 3-2.4 3.4-4.6-3z" fill="#1c28f0"/>
<path d="M1390.7 782.8l4.6 3-2.4 3.4-4.6-3z" fill="#7cb6ff"/>
<path d="M1388.7 786.2l4.6 3-2.4 3.4-4.6-3z" fill="#4070ff"/>
<path d="M1394.1 788.9l4.6 3-2.4 3.4-4.6-3z" fill="#1c28f0"/>
<path d="M1391.4 793l4.6 3-2.4 3.4-4.6-3z" fill="#b6ccff"/>
<path d="M1387.3 790.3l4.6 3-2.4 3.4-4.6-3z" fill="#ccd2ff"/>
<path d="M1394.1 795.7l4.6 3-2.4 3.4-4.6-3z" fill="#ccd2ff"/>
<path d="M1391.4 814.7l4.6 3-2.4 3.4-4.6-3z" fill="#ccd2ff"/>
<path d="M1396.8 781.5l4.6 3-2.4 3.4-4.6-3z" fill="#6aa870"/>
<path d="M1474.8 777.1l4.6 3-2.4 3.4-4.6-3z" fill="#ccd2ff"/>
<path d="M1478.2 781.2l4.6 3-2.4 3.4-4.6-3z" fill="#c0d0ff"/>
<path d="M1480.9 784.6l4.6 3-2.4 3.4-4.6-3z" fill="#ccd2ff"/>
<path d="M1466 885.5l4.6 3-2.4 3.4-4.6-3z" fill="#ccd2ff"/>
<path d="M1536.5 943.9l4.6 3-2.4 3.4-4.6-3z" fill="#ccd2ff"/>
<path d="M1539.9 947.6l4.6 3-2.4 3.4-4.6-3z" fill="#c0d8ff"/>
<path d="M1542.6 950.3l4.6 3-2.4 3.4-4.6-3z" fill="#ccd2ff"/>
<path d="M1601.6 965.6l4.6 3-2.4 3.4-4.6-3z" fill="#ccd2ff"/>
<path d="M1605.6 969l4.6 3-2.4 3.4-4.6-3z" fill="#c0d0ff"/>
<path d="M1596.1 973.7l4.6 3-2.4 3.4-4.6-3z" fill="#ccd2ff"/>
<path d="M1604.3 974.4l4.6 3-2.4 3.4-4.6-3z" fill="#a8c4ff"/>
<path d="M1609.7 976.4l4.6 3-2.4 3.4-4.6-3z" fill="#64aeff"/>
<path d="M1605.6 980.5l4.6 3-2.4 3.4-4.6-3z" fill="#64aeff"/>
<path d="M1583.9 986.6l4.6 3-2.4 3.4-4.6-3z" fill="#ccd2ff"/>
<path d="M1588 989.3l4.6 3-2.4 3.4-4.6-3z" fill="#7cb6ff"/>
<path d="M1592.7 987.3l4.6 3-2.4 3.4-4.6-3z" fill="#4890ff"/>
<path d="M1590.7 992.7l4.6 3-2.4 3.4-4.6-3z" fill="#4890ff"/>
<path d="M1594.8 996.8l4.6 3-2.4 3.4-4.6-3z" fill="#a8c4ff"/>
<path d="M1597.5 1000.8l4.6 3-2.4 3.4-4.6-3z" fill="#ccd2ff"/>
<path d="M1596.1 985.2l4.6 3-2.4 3.4-4.6-3z" fill="#ccd2ff"/>
<path d="M1565 1068.6l4.6 3-2.4 3.4-4.6-3z" fill="#b6ccff"/>
<path d="M1571.7 1070.6l4.6 3-2.4 3.4-4.6-3z" fill="#a8c4ff"/>
<path d="M1576.5 1070.9l4.6 3-2.4 3.4-4.6-3z" fill="#ccd2ff"/>
<path d="M1590.7 1074l4.6 3-2.4 3.4-4.6-3z" fill="#a8c4ff"/>
<path d="M1596.8 1076l4.6 3-2.4 3.4-4.6-3z" fill="#ccd2ff"/>
<path d="M1628.7 1072l4.6 3-2.4 3.4-4.6-3z" fill="#a8c4ff"/>
<path d="M1634.1 1075.4l4.6 3-2.4 3.4-4.6-3z" fill="#7cb6ff"/>
<path d="M1627.3 1078.1l4.6 3-2.4 3.4-4.6-3z" fill="#ccd2ff"/>
<path d="M1647.6 1080.1l4.6 3-2.4 3.4-4.6-3z" fill="#b6ccff"/>
<path d="M1443 906l4.6 3-2.4 3.4-4.6-3z" fill="#ccd2ff"/>
<path d="M1637.5 1107.9l4.6 3-2.4 3.4-4.6-3z" fill="#b6ccff"/>
<text x="1252.1" y="721.2" font-size="19" text-anchor="middle" transform="rotate(25 1252.1 715.2)">0</text>
<text x="1513.3" y="924.6" font-size="19" text-anchor="middle" transform="rotate(55 1513.3 918.6)">0</text>
<text x="1565.9" y="1082.5" font-size="19" text-anchor="middle" transform="rotate(35 1565.9 1076.5)">0</text>
<text x="1591" y="1072.8" font-size="19" text-anchor="middle" transform="rotate(30 1591 1066.8)">0</text>
</g>
<path d="M1231.5 632V1139.7M1310.2 632V1139.7M1388.9 632V1139.7M1467.6 632V1139.7M1546.3 632V1139.7M1625.1 632V1139.7M1193.9 688.7H1667.9M1193.9 773.2H1667.9M1193.9 857.8H1667.9M1193.9 942.4H1667.9M1193.9 1026.9H1667.9M1193.9 1111.5H1667.9" fill="none" stroke="#111" stroke-width="1.15" stroke-dasharray="2.9 5.4"/>
<path d="M1193.9 704Q1430.9 874.6 1667.9 1064.1M1193.9 816.9Q1404.8 971 1615.7 1138.7" fill="none" stroke="#111" stroke-width="1" stroke-dasharray="12.2 11.45"/>
<g font-size="12" text-anchor="middle">
<text x="1231.2" y="879.1">-130</text>
<text x="1309.9" y="879.1">-128</text>
<text x="1388.6" y="879.1">-126</text>
<text x="1467.3" y="879.1">-124</text>
<text x="1546" y="879.1">-122</text>
<text x="1624.8" y="879.1">-120</text>
</g><g font-size="12" text-anchor="end">
<text x="1454.8" y="688.6">16</text>
<text x="1454.8" y="773.1">14</text>
<text x="1454.8" y="857.7">12</text>
<text x="1454.8" y="942.3">10</text>
<text x="1454.8" y="1026.8">8</text>
<text x="1454.8" y="1111.4">6</text>
</g>
<path d="M1424.3 885.5h12.4M1430.5 879.3v12.4" stroke="#000" stroke-width="4.2"/>
<text x="1217.7" y="656.7" font-size="25">2A12 rainrate (mm/hr)</text>
<text x="1619.9" y="1113.3" font-size="29.2">(f)</text>
<rect x="1676.1" y="1113.9" width="9" height="17.2" fill="#8ae68e"/>
<rect x="1676.1" y="1105.4" width="9" height="8.8" fill="#82dc86"/>
<rect x="1676.1" y="1088.5" width="9" height="17.2" fill="#7ad37e"/>
<rect x="1676.1" y="1080" width="9" height="8.8" fill="#72c876"/>
<rect x="1676.1" y="1071.5" width="9" height="8.8" fill="#6aba6e"/>
<rect x="1676.1" y="1054.6" width="9" height="17.2" fill="#ccd2ff"/>
<rect x="1676.1" y="1046.1" width="9" height="8.8" fill="#bccbff"/>
<rect x="1676.1" y="1037.7" width="9" height="8.8" fill="#a8c4ff"/>
<rect x="1676.1" y="1020.7" width="9" height="17.2" fill="#90bcff"/>
<rect x="1676.1" y="1012.3" width="9" height="8.8" fill="#7cb6ff"/>
<rect x="1676.1" y="1003.8" width="9" height="8.8" fill="#64aeff"/>
<rect x="1676.1" y="986.9" width="9" height="17.2" fill="#50a8ff"/>
<rect x="1676.1" y="978.4" width="9" height="8.8" fill="#4890ff"/>
<rect x="1676.1" y="969.9" width="9" height="8.8" fill="#4070ff"/>
<rect x="1676.1" y="953" width="9" height="17.2" fill="#3c50ff"/>
<rect x="1676.1" y="944.5" width="9" height="8.8" fill="#3030ff"/>
<rect x="1676.1" y="936.1" width="9" height="8.8" fill="#0808ff"/>
<rect x="1676.1" y="919.1" width="9" height="17.2" fill="#0000f0"/>
<rect x="1676.1" y="910.7" width="9" height="8.8" fill="#0000dc"/>
<rect x="1676.1" y="902.2" width="9" height="8.8" fill="#0000c8"/>
<rect x="1676.1" y="885.3" width="9" height="17.2" fill="#ffff00"/>
<rect x="1676.1" y="876.8" width="9" height="8.8" fill="#fff200"/>
<rect x="1676.1" y="859.9" width="9" height="17.2" fill="#ffe600"/>
<rect x="1676.1" y="851.4" width="9" height="8.8" fill="#ffdc00"/>
<rect x="1676.1" y="842.9" width="9" height="8.8" fill="#ffd000"/>
<rect x="1676.1" y="826" width="9" height="17.2" fill="#ff9800"/>
<rect x="1676.1" y="817.5" width="9" height="8.8" fill="#ff8c00"/>
<rect x="1676.1" y="809.1" width="9" height="8.8" fill="#ff8200"/>
<rect x="1676.1" y="800.6" width="9" height="8.8" fill="#ff7800"/>
<rect x="1676.1" y="792.1" width="9" height="8.8" fill="#ff6e00"/>
<rect x="1676.1" y="775.2" width="9" height="17.2" fill="#ff4608"/>
<rect x="1676.1" y="766.7" width="9" height="8.8" fill="#ff3c04"/>
<rect x="1676.1" y="749.8" width="9" height="17.2" fill="#ff3000"/>
<rect x="1676.1" y="741.3" width="9" height="8.8" fill="#ff2400"/>
<rect x="1676.1" y="732.9" width="9" height="8.8" fill="#ff1800"/>
<rect x="1676.1" y="715.9" width="9" height="17.2" fill="#cc0000"/>
<rect x="1676.1" y="707.5" width="9" height="8.8" fill="#c00000"/>
<rect x="1676.1" y="690.5" width="9" height="17.2" fill="#b40400"/>
<rect x="1676.1" y="682.1" width="9" height="8.8" fill="#aa0800"/>
<rect x="1676.1" y="673.6" width="9" height="8.8" fill="#a01000"/>
<rect x="1676.1" y="665.1" width="9" height="8.8" fill="#5e0e06"/>
<rect x="1676.1" y="656.7" width="9" height="8.8" fill="#5c100a"/>
<rect x="1676.1" y="648.2" width="9" height="8.8" fill="#5a1410"/>
<rect x="1676.1" y="639.7" width="9" height="8.8" fill="#5a1814"/>
<rect x="1676.1" y="631.3" width="9" height="8.8" fill="#5a1a18"/>
<path d="M1685.1 1139.3h2" stroke="#333" stroke-width="0.9"/>
<text x="1705.6" y="1147.6" text-anchor="middle" font-size="19.4">0</text>
<path d="M1685.1 1088.5h2" stroke="#333" stroke-width="0.9"/>
<text x="1705.6" y="1096.8" text-anchor="middle" font-size="19.4">6</text>
<path d="M1685.1 1037.7h2" stroke="#333" stroke-width="0.9"/>
<text x="1705" y="1046" text-anchor="middle" font-size="19.4">12</text>
<path d="M1685.1 986.9h2" stroke="#333" stroke-width="0.9"/>
<text x="1705" y="995.2" text-anchor="middle" font-size="19.4">18</text>
<path d="M1685.1 936.1h2" stroke="#333" stroke-width="0.9"/>
<text x="1705" y="944.4" text-anchor="middle" font-size="19.4">24</text>
<path d="M1685.1 885.3h2" stroke="#333" stroke-width="0.9"/>
<text x="1705" y="893.6" text-anchor="middle" font-size="19.4">30</text>
<path d="M1685.1 834.5h2" stroke="#333" stroke-width="0.9"/>
<text x="1705" y="842.8" text-anchor="middle" font-size="19.4">36</text>
<path d="M1685.1 783.7h2" stroke="#333" stroke-width="0.9"/>
<text x="1705" y="792" text-anchor="middle" font-size="19.4">42</text>
<path d="M1685.1 732.9h2" stroke="#333" stroke-width="0.9"/>
<text x="1705" y="741.2" text-anchor="middle" font-size="19.4">48</text>
<path d="M1685.1 682.1h2" stroke="#333" stroke-width="0.9"/>
<text x="1705" y="690.4" text-anchor="middle" font-size="19.4">54</text>
</g>
<g id="panel-g">
<g clip-path="url(#cg)">
<defs><clipPath id="swg"><polygon points="12.8,1222.4 101.6,1222.4 250,1333.6 486.4,1514 486.4,1730.2 259.5,1730.2 250,1721 12.8,1542"/></clipPath>
<filter id="tg" x="0" y="0" width="100%" height="100%" color-interpolation-filters="sRGB"><feTurbulence type="fractalNoise" baseFrequency="0.045" numOctaves="4" seed="5"/><feColorMatrix values="0.26 0 0 0 0.725  0.26 0 0 0 0.725  0.26 0 0 0 0.725  0 0 0 0 1"/></filter><filter id="bg" x="-50%" y="-50%" width="200%" height="200%"><feGaussianBlur stdDeviation="11"/></filter><filter id="bs" x="-50%" y="-50%" width="200%" height="200%"><feGaussianBlur stdDeviation="5"/></filter></defs>
<path d="M304 1375.4L485.8 1398.2" stroke="#d6d6d6" stroke-width="1.8"/>
<g clip-path="url(#swg)">
<rect x="12" y="1221.4" width="476" height="510" filter="url(#tg)"/>
<g filter="url(#bg)">
<ellipse cx="50" cy="1243.4" rx="70" ry="26" transform="rotate(37 50 1243.4)" fill="#fff" opacity="0.3"/>
<ellipse cx="150" cy="1266.4" rx="70" ry="24" transform="rotate(37 150 1266.4)" fill="#000" opacity="0.05"/>
<ellipse cx="221" cy="1331.4" rx="75" ry="38" transform="rotate(20 221 1331.4)" fill="#000" opacity="0.07"/>
<ellipse cx="110" cy="1471.4" rx="140" ry="26" transform="rotate(4 110 1471.4)" fill="#fff" opacity="0.62"/>
<ellipse cx="285" cy="1419.4" rx="70" ry="26" transform="rotate(30 285 1419.4)" fill="#fff" opacity="0.42"/>
<ellipse cx="400" cy="1456.4" rx="110" ry="40" transform="rotate(37 400 1456.4)" fill="#fff" opacity="0.3"/>
<ellipse cx="215" cy="1555.4" rx="80" ry="36" transform="rotate(10 215 1555.4)" fill="#000" opacity="0.13"/>
<ellipse cx="476" cy="1596.4" rx="24" ry="60" transform="rotate(0 476 1596.4)" fill="#000" opacity="0.2"/>
<ellipse cx="316" cy="1593.4" rx="36" ry="24" transform="rotate(0 316 1593.4)" fill="#fff" opacity="0.32"/>
<ellipse cx="364" cy="1643.4" rx="26" ry="20" transform="rotate(0 364 1643.4)" fill="#fff" opacity="0.3"/>
<ellipse cx="316" cy="1709.4" rx="150" ry="22" transform="rotate(0 316 1709.4)" fill="#000" opacity="0.04"/>
<ellipse cx="60" cy="1526.4" rx="50" ry="22" transform="rotate(37 60 1526.4)" fill="#fff" opacity="0.25"/>
<ellipse cx="250" cy="1651.4" rx="40" ry="30" transform="rotate(0 250 1651.4)" fill="#fff" opacity="0.12"/>
<ellipse cx="420" cy="1701.4" rx="60" ry="20" transform="rotate(0 420 1701.4)" fill="#fff" opacity="0.15"/>
</g>
<g filter="url(#bs)" fill="#555" opacity=".2">
<polygon points="203,1327.8 209.8,1325.1 215.2,1327.8 216.5,1333.2 209.8,1337.3 208.4,1344.1 212.5,1350.8 213.8,1360.3 216.5,1368.5 215.2,1376.6 219.3,1383.4 216.5,1390.1 212.5,1395.6 208.4,1403.7 207.1,1413.2 201.6,1415.9 197.6,1411.8 192.2,1414.5 186.7,1413.2 184,1418.6 178.6,1422.7 174.5,1420 173.2,1413.2 166.4,1411.8 161,1405 159.6,1394.2 162.3,1386.1 167.8,1382 175.9,1383.4 180,1377.9 181.3,1368.5 186.7,1360.3 194.9,1357.6 198.9,1348.1 196.2,1338.6 200.3,1331.9"/>
<polygon points="282.3,1376.6 285.7,1368.5 288.1,1362.8 292.4,1364.4 299.2,1370.5 306.3,1376.6 305.3,1379 300.6,1377.3 295.1,1379.6 289.7,1382.3 286.7,1382.8 283,1380.6"/>
<polygon points="222,1512.1 227.4,1504 229.8,1495.8 235.5,1490.4 243.7,1488.1 257.2,1487.4 264.2,1494.5 266.4,1506.7 263.2,1515.4 257.2,1520.8 251.8,1524.6 247.7,1531.1 243.7,1526.2 235.5,1523.2 228.7,1524.6 224.7,1520.5"/>
<polygon points="186.2,1520.6 191.6,1522 197,1516.6 202.4,1511.2 210.6,1509.8 217.3,1513.9 221.7,1522 221.7,1530.1 217.6,1537.2 216,1543.7 216.7,1557.2 210.6,1560 205.1,1555.9 202.4,1545 195.9,1539.9 191.6,1534.2 188.9,1527.4"/>
<polygon points="148.2,1508.5 150.9,1501.7 157.7,1499.8 165.8,1501.4 172.6,1498.4 179.4,1501.4 183.7,1508.5 186.4,1512.8 179.4,1511.7 172.6,1509 165.8,1509.8 159.1,1508.2 153.7,1509.8"/>
<polygon points="267.4,1505.3 274.8,1501 282.3,1506 287.7,1515.5 294.5,1520 299.2,1529.7 297.2,1536.5 289.7,1533.8 284.3,1539.2 280.2,1531.1 274.8,1522.9 268,1517.5 269.4,1512.1 274.8,1510.1 278.9,1516.2 284.3,1524.3 289.7,1527 287,1520.2 281.6,1514.1 276.2,1506.7 271,1508"/>
<polygon points="267.6,1508.5 272.4,1503.3 277.1,1504.1 281.8,1509.1 285.5,1514.6 289.3,1519.3 290.7,1527.4 294.7,1534.2 290.7,1541 286.6,1538.3 285.5,1530.4 282.5,1523.4 277.8,1516.6 273,1511.8 269,1513.9"/>
<polygon points="296.1,1522 300.4,1527.4 306.9,1530.4 313.7,1533.4 320.5,1537.2 325.9,1535 329.1,1540.7 323.2,1545.3 314.8,1542.6 308.3,1541.2 301.5,1536.4 296.1,1530.1"/>
<polygon points="312.1,1505.7 315.7,1498.7 323.2,1494.9 331.3,1495.4 340.1,1498.4 344.6,1504.4 353,1508.5 363.8,1511.2 365.2,1514.6 357.1,1513.9 347.6,1513.9 344.9,1516.6 336.7,1521.5 330,1522.8 323.2,1521.5 317.5,1518.5 314.2,1512.8"/>
<polygon points="324.3,1520.6 336.7,1515.5 345.1,1513.3 353,1516.6 362.5,1519.3 365.2,1527.4 377.4,1526.3 382.1,1532.8 380.8,1541.7 375.4,1548.4 372.6,1553.9 368.6,1559.3 363.2,1563.5 357.1,1558.6 354.4,1553.2 351,1558.6 354.4,1566.7 355.7,1570.8 351,1574.9 344.9,1576.9 338.8,1582.4 334,1584.1 330.8,1579.5 334.8,1574.9 332.7,1570.8 336.7,1562.7 343.5,1557.2 344.9,1549.1 338.1,1549.1 330.8,1544.8 327.8,1536.1 326.2,1528"/>
<polygon points="359.1,1616.2 362.2,1603.3 364.9,1592.5 369,1584.3 366.3,1576.2 361.9,1570.8 364.9,1562.7 372,1555.9 380.1,1549.1 390.9,1550.5 399.1,1549.1 409.9,1545 416.7,1535.6 422.1,1532.2 430.2,1538 439.7,1543.1 445.7,1551.8 453.3,1558.1 461.7,1562.4 464.7,1570.8 461.7,1580.3 466.3,1589.8 466.8,1602 464.1,1612.8 461.4,1622.3 453.3,1629.1 445.1,1630.4 439.7,1631.8 431.6,1634.2 423.5,1641 415.3,1645.1 407.2,1645.1 404,1635.8 409.4,1627.7 414.8,1619.6 412.1,1614.7 405.8,1611.7 399.1,1607.7 393.7,1603.6 388.2,1599.5 382.8,1603.6 377.4,1610.4 372,1617.4 365.2,1619"/>
<polygon points="263.6,1630.4 267.6,1622.3 274.4,1619.6 281.2,1615.5 289.3,1616.9 293.4,1623.6 294.7,1633.1 296.1,1641.3 301.5,1646.7 306.9,1654.8 309.6,1662.9 304.2,1665.7 297.4,1662.9 290.7,1671.1 285.2,1668.4 279.8,1673.8 274.4,1680.7 270.3,1684.6 267.6,1676.5 264.9,1668.4 267.6,1660.2 264.9,1652.1 260.8,1646.7 264.9,1641.3"/>
<polygon points="329.3,1630.4 334,1623.6 342.2,1620.7 350.6,1623.6 351.4,1629.3 344.9,1633.4 338.1,1637.5 331.3,1639.9 329.3,1635.8"/>
<polygon points="376,1657.7 382.8,1653.7 386.9,1645.5 390.9,1648.2 396.4,1655 399.6,1660.4 396.9,1665.9 395,1674 392.3,1672.6 392.3,1665.9 385.5,1665.9 380.1,1663.8"/>
<polygon points="401.8,1661.8 405.8,1652.3 412.6,1646.2 422.1,1644.2 431.6,1646.9 432.3,1655 427.5,1663.1 423.5,1671.3 416.7,1674 411.3,1669.9 405.8,1667.2"/>
<polygon points="437,1659.1 442.4,1653.7 445.1,1644.2 449.2,1642.8 451.9,1648.2 449.2,1653.7 453.3,1660.4 461.4,1665.9 472.3,1665.9 485.8,1667.2 485.8,1669.9 469.5,1669.9 458.7,1671.3 450.6,1669.9 443.8,1667.2 439.7,1663.1"/>
<polygon points="68.3,1482 73.7,1484.1 80.5,1485.4 85.9,1490.8 94,1490.8 94,1497.6 90,1503 82.5,1503 81.8,1499.6 87.9,1496.3 85.9,1492.9 77.8,1490.8 71,1486.8"/>
<polygon points="90,1534.2 96.7,1530.1 104.9,1526.1 114.4,1522 118.4,1527.4 119.8,1531.5 113,1530.1 107.6,1532.8 102.2,1535.6 99.4,1539.6 96.7,1536.9 91.3,1537.6"/>
<polygon points="100.8,1604.7 103.5,1593.8 108.9,1587.1 110.3,1589.8 107.6,1597.9 111.6,1604.7 117.1,1602 119.8,1607.4 118.4,1616.9 113,1615.5 104.9,1608.7"/>
</g>
<g stroke-linejoin="round" stroke="#000">
<polygon points="202.9,1327.9 206.3,1326.8 207.5,1326.2 209,1325.1 212.8,1327.2 214.2,1327.3 214.9,1331.3 217,1332.1 215.5,1335.7 212.4,1336.2 208.9,1336.1 209.4,1338.5 208.1,1341.2 207.3,1344 209.6,1347.2 211.2,1348.9 212.5,1351.2 212.7,1352.7 214.4,1356.8 214.3,1358.5 213.4,1359.7 214.2,1362 216.3,1365.5 217.4,1368.2 217.2,1372 214.4,1373.2 216.2,1376.5 217.7,1378.6 216.9,1381.4 219.9,1382.8 217.4,1385.2 218.6,1388.5 215.6,1389.5 214.2,1390.9 214.6,1393 212.6,1395.4 210.7,1398.2 209.6,1400 208.5,1401.5 207.7,1403.1 209.2,1406.8 207.3,1409.4 206.7,1410.5 207.9,1413.5 203.4,1415.7 200.9,1415.3 200.3,1413.4 197.1,1410.8 193.9,1413.4 191.5,1414.8 189.1,1413.7 187.8,1413.1 185.6,1416.8 183.3,1417.8 183.2,1420.7 179.8,1420.6 179.2,1423.7 175.8,1422.4 175.5,1420.2 173.9,1416.7 172.5,1416.6 172.5,1413.7 170.3,1413.5 168.9,1411.8 165.6,1412.4 163.5,1408.9 162.9,1408.2 161.3,1404.5 161.7,1401.6 159.1,1399.1 159.8,1395.8 158.8,1393.9 160.7,1390.6 161.1,1389.7 163.5,1386.5 164.6,1384.9 165.1,1382.2 166.6,1383 171,1383.6 172,1383.2 175.8,1383.9 176.8,1382.8 177.6,1379.9 180.5,1378.9 180.9,1376.1 181.3,1374.2 180.6,1371.3 182.3,1369.4 182.5,1367.1 184.9,1364.6 185.7,1362.1 186.9,1360.6 188.4,1359.8 193.4,1359.4 195.4,1357.3 196.5,1355.4 196.8,1353.7 196.9,1351.1 197.8,1348.4 198.2,1345.1 198.1,1343.4 197.2,1342 195.6,1337.5 197.1,1336.8 198.2,1333.3 201.3,1332.3 201.5,1330.8" fill="#78d07c" stroke-width="1.3"/>
<polygon points="162.1,1387.7 163.9,1386 166.9,1385.4 169.1,1383.2 170.6,1381.7 172.2,1383 175.7,1384.6 177.9,1385.7 177.4,1387.1 178,1389.9 177.9,1392.7 177.3,1395.3 175.5,1398.4 175.3,1400.2 173.5,1401.7 174.5,1404 173.9,1407 172.9,1409.6 174,1410.1 176.3,1411.5 178.5,1413.4 178.5,1415.2 180.4,1417.8 181.5,1420.2 179.1,1421 176.2,1420.1 175.2,1417.6 173.7,1415.6 174.2,1412.7 171.2,1412.2 169.7,1411.9 167.3,1411.6 165.1,1409.4 164.1,1406 162.4,1404.7 160.7,1402.1 161.2,1400.6 160.4,1397.9 160.9,1396 161.7,1392.8 161.9,1389.7" fill="#78b4ff" stroke-width="0"/>
<polygon points="170.7,1395.9 172,1393.8 172.9,1391.9 175.1,1390 175.9,1387.7 177.4,1385.2 179.7,1381.8 181.3,1380.8 184.3,1380 186.7,1378.1 189.1,1379.2 191.1,1380.3 192.7,1382 194.5,1382.3 196.9,1382 199.3,1381.1 201.4,1380 202.3,1377.3 202.4,1375.6 203.3,1373.6 204.5,1371.2 206.1,1369.4 206.9,1367.4 208.8,1366.2 209.5,1367.9 211.6,1369.4 212.6,1370.8 212.2,1373.5 212.1,1375.4 212.2,1378.3 211.3,1381 210.7,1383 210.1,1384.9 209.2,1387.7 208.9,1390.6 206.8,1392.4 205.3,1394.6 204.7,1397.3 202.7,1399 200.9,1401.6 200.1,1403.3 199.2,1405.7 197.9,1408.4 197.8,1410.9 194.9,1410.8 192.2,1410.5 189.7,1409.8 188,1411.3 186.5,1413.3 184.6,1415.1 182.2,1414.8 179.4,1415.3 177.4,1415.2 175.8,1414 174,1412.2 172.1,1411.5 171.1,1408.9 169.4,1407.5 168.1,1405.6 169.4,1402.3 169.2,1400.5 169.7,1397.5" fill="#3c58ff" stroke-width="0"/>
<polygon points="164,1390.1 166,1388.5 167.7,1387.6 168,1389.4 169.3,1392.3 170.2,1393.9 168.4,1396.4 167.1,1398.4 163.4,1395.2 163.4,1392.5" fill="#78b4ff" stroke-width="0"/>
<polygon points="180,1380.7 182.3,1379.3 184,1378.4 187.2,1378.6 189.3,1378.4 190.2,1380.6 192.8,1381.3 194.6,1382 197.6,1380.6 200.4,1378.6 201.6,1377.7 201.9,1375.2 203.7,1373.1 203.9,1370.7 205.7,1368.5 207.6,1367.5 209,1369.6 210.6,1371 210.4,1373.9 210.6,1377 209.4,1379.9 209.4,1382 208.8,1383.9 208.3,1386.9 207.3,1389.1 206.1,1390.9 204.7,1392.7 202.8,1395.5 200.5,1397.6 199.6,1400.2 197.2,1402.9 197.3,1404.4 196.9,1406.9 196.3,1409 194.6,1408.8 192,1408.6 190.1,1407.1 187.8,1409.9 185.5,1411.2 183.4,1412.8 181.6,1412.6 179.2,1413.7 177.3,1413.2 176.1,1411.9 174.3,1410.7 172.2,1408.5 171.3,1406.7 169.9,1404.3 171.8,1401.8 173.6,1400.1 176,1397.7 177.4,1395.5 177.7,1393 178.4,1389.8 179.1,1387.8 179,1385.7 179.3,1382.4" fill="#ff8a00" stroke-width="1.7"/>
<polygon points="170.7,1403.3 172.2,1402.6 174.1,1401.1 176.2,1398.2 179.1,1400.6 180.5,1401.8 182.8,1402.5 185.5,1403.4 186.8,1405.6 188.9,1406.5 191.2,1408.5 188.6,1409 186.5,1411 183.9,1412 182.1,1412.1 179.7,1412.9 177.5,1412.3 175.1,1410.6 172.7,1408.9 172.4,1407" fill="#ffe800" stroke-width="0"/>
<polygon points="176.1,1398.8 177.1,1397.1 179.5,1394.3 181.4,1396 184.2,1398.3 185.9,1400.7 187.9,1402.4 189.2,1405.6 187.2,1405.7 184.3,1403.6 182.7,1402.7 181.2,1401.1 178.5,1399.8" fill="#ffb400" stroke-width="0"/>
<polygon points="204.1,1372.6 207.1,1371.2 208.3,1374.5 206.2,1376.5 204.2,1375.4" fill="#ff4a08" stroke-width="1"/>
<polygon points="203.8,1344.9 208.8,1344.2 209.5,1345.9 209.7,1348.3 210.9,1350.7 210,1353.8 208.9,1355.4 208.7,1358.2 204.9,1354.7 204.3,1353 204.1,1349.6 204.6,1347.8" fill="#b0c8ff" stroke-width="0"/>
<polygon points="180.4,1340.9 182.8,1339.1 183.9,1339 185.8,1336.9 189.9,1337 191.7,1335.2 194.6,1335.7 195.3,1336.5 193.5,1338.3 191.5,1340 189,1339.9 186.5,1340.7 183.2,1342 182.3,1344.2" fill="#78d07c" stroke-width="0"/>
<polygon points="132.9,1349.3 135.1,1348.4 137.2,1347.6 139,1346.8 140.1,1344.6 140.6,1342.3 140.3,1340.3 143.8,1339.1 142.9,1341.8 143.4,1344.4 143.9,1346.9 145.7,1347.7 144.8,1352.5 141.6,1352.4 139.6,1354 136.1,1356.4 133.5,1353.8" fill="#78b4ff" stroke-width="1.3"/>
<polygon points="140.8,1392.6 144.4,1391.8 146.4,1393.8 148,1395.4 149.1,1398 149,1400.1 149.7,1402.6 147.9,1404.9 146.1,1403.2 144.4,1401.3 143.6,1399.4 142.8,1397.1 141.5,1395.1" fill="#78b4ff" stroke-width="1.3"/>
<polygon points="128,1380.6 130.4,1379.7 131.4,1383.4 131.7,1385.8 129.6,1389.4 127.6,1387.8 127.4,1385 127.5,1383" fill="#78b4ff" stroke-width="1.3"/>
<polygon points="235.7,1331 237.3,1329.1 239.6,1331.4 238,1335 235.8,1334.4" fill="#78d07c" stroke-width="1.3"/>
<polygon points="219.1,1367.2 222,1366.3 222.1,1368.7 222.5,1371.3 220.2,1372.5 220,1369.8" fill="#78d07c" stroke-width="1.3"/>
<polygon points="221.1,1387.7 223.3,1385.3 224.7,1383.7 226.7,1385.2 225.7,1388 225.6,1389.7 224.7,1392 223.8,1394.6 221.8,1395.3 221.2,1392.8 221.3,1390.4" fill="#78d07c" stroke-width="1.3"/>
<polygon points="282.6,1376.7 282.7,1374.1 283.7,1372.2 285.3,1370.5 285.8,1369.1 286.6,1365.7 287.6,1363.1 289.6,1364 292.9,1364.8 293.6,1365.6 296.1,1366.9 297.5,1368.9 299.8,1370.6 301.5,1371.7 303.1,1373.4 305.1,1374.5 306.7,1376.2 305.4,1379.1 302.5,1378.6 300.3,1377 297.3,1378.2 295.1,1379.9 292.2,1381.2 289.2,1382.1 286.7,1383.4 283.4,1380.9" fill="#78d07c" stroke-width="1.3"/>
<polygon points="285,1373.8 286.2,1371.3 286.8,1369.1 287,1367.2 288.3,1364.2 290.4,1364.8 292.3,1365.5 294.1,1366.9 296,1368.8 297.7,1370 299.9,1371.7 301.8,1373.4 303.5,1374.8 299.5,1375.7 296.2,1376.5 293.9,1377.8 291.2,1378.7 289.3,1380 286,1377.7" fill="#3c58ff" stroke-width="0"/>
<polygon points="288.6,1367.1 291.3,1364.9 293.9,1366.8 295.7,1368.6 298.1,1370.3 299.9,1371.6 297.5,1372.9 295.1,1375.1 293.5,1376.1 291.2,1376.9 288.8,1373.1 288.9,1370.4" fill="#ff8a00" stroke-width="0"/>
<polygon points="299,1370.8 301.3,1372.9 303.5,1374.6 300.4,1375.1" fill="#0c10e4" stroke-width="0"/>
<polygon points="222.8,1512.2 223,1510.1 223.9,1508.5 227.1,1506 227.9,1504.7 227.5,1502.2 229.3,1497.9 228.9,1495.3 231.9,1494.5 233.3,1493.2 235.2,1490.3 237.4,1490.7 240.2,1489.8 243.7,1488.2 246,1487.5 249.1,1489 251.1,1488 251.9,1488.4 254.5,1488.4 256.6,1487.6 259.7,1488.5 260.8,1490 261.5,1492 265.3,1495.4 265,1496.5 265.5,1499.9 265.3,1502 266.6,1503.2 265.8,1506.6 264.8,1508.6 264.9,1510.3 264,1512.7 263.3,1515 261.5,1516.2 259.6,1518.2 258.2,1521 255.3,1521.9 253.9,1523.7 252.3,1525.1 250.4,1527.8 249.8,1529.7 247.5,1530.9 245.8,1529.5 243.7,1526.3 240.8,1526.1 237.8,1523.2 236,1524.1 233.8,1523.9 231.5,1523.7 228.9,1523.6 225.9,1522.4 224.7,1520.3 223,1518.8 223.4,1515.7 222.2,1514" fill="#78d07c" stroke-width="1.3"/>
<polygon points="227,1508.8 228.5,1507.6 228.8,1505 229.1,1502.5 229.4,1500 230.5,1497.7 231.6,1495.7 233.5,1493.5 236.4,1490.8 238.1,1490.4 240.8,1489.3 244.2,1489.5 245.7,1488.7 248.2,1488.2 249.7,1489.2 252.2,1488.5 255.3,1489 256.9,1487.9 258.3,1490.4 260.7,1491.1 262.3,1492.9 263.4,1494.3 264.3,1497.8 263.8,1499.7 264.2,1502.4 264.3,1503.8 265.6,1506.4 264.8,1509.8 263.5,1511.4 262.3,1515.1 259.9,1515.7 257.6,1517.7 256.1,1519.3 252.7,1520.4 250.6,1522.3 247.5,1523.2 245.5,1522.6 241.9,1521.8 240.2,1521.8 236.8,1520.4 234.1,1519.5 232.1,1517.6 231,1514.9 229.9,1513.2 228.2,1511.8" fill="#78b4ff" stroke-width="0"/>
<polygon points="229,1507.8 230.3,1505.3 230.3,1503.2 230.8,1501.1 232.3,1497.8 233.3,1496.7 234.9,1495 236.6,1492.2 239.1,1491.9 241.3,1491.1 244.2,1490.2 246.5,1490.3 249.2,1489.7 252.1,1489.1 254.4,1488.9 256.8,1488.8 258.6,1491.3 260.9,1493.4 262.3,1495 262.6,1497.3 263.3,1499 263.7,1501.9 264,1504.3 263.9,1505.8 262.7,1508.6 262.2,1511 261,1513.8 258.9,1515.4 257.5,1516.6 255.9,1517.8 252.7,1518.9 250,1519.9 248.1,1521.1 245.2,1520.7 242.5,1520.5 240,1519.4 237.7,1518.5 236.1,1517.2 233,1515.4 232,1512.7 231.3,1510" fill="#0c10e4" stroke-width="0"/>
<polygon points="230.4,1507 231.7,1504 231.9,1502.4 232.3,1499.6 234.6,1497.5 235.4,1495.6 236.8,1493.4 238.6,1493.4 241.7,1492.2 243.4,1490.7 246.3,1490.4 248.8,1490.9 251.3,1490 254.6,1490 256.2,1489.5 258.6,1490.8 260.1,1493.3 262.5,1494.9 262.8,1497 262.5,1499.7 262.8,1502 262.9,1503.8 262,1506.7 261.2,1509.1 260.4,1512.1 258.1,1514.2 256.4,1516.6 253.9,1517 251,1517.8 249,1519 245.9,1518.3 243.2,1518.2 240.8,1518.5 238.9,1516.5 236.3,1515.1 234.6,1514 233.2,1511.9 232.1,1508.6" fill="#ff8a00" stroke-width="2.3"/>
<polygon points="233.2,1503.8 233.8,1502.5 235.1,1500.3 236.3,1497.3 237,1495.5 238.7,1494 241.6,1492.5 243.4,1491.7 246.3,1491 249,1490.9 251.6,1491.2 253.4,1490.3 256.1,1490.7 258,1491.9 260.3,1493.3 261.3,1495.1 261.3,1497.1 261.3,1500.4 262.2,1503 260.6,1504.2 258.2,1506.8 255.5,1508.3 253.8,1509.3 251.8,1509 249.3,1509.5 246.3,1509.5 243.1,1509 240.7,1508.7 238.8,1507.1 237.1,1506.3 234.9,1505.4" fill="#ff4a08" stroke-width="0"/>
<polygon points="237.9,1494.3 240.8,1493.3 243.3,1492.1 246.3,1491.7 248.7,1490.8 250.9,1490.8 252.9,1490.4 255.4,1490.1 258.7,1491.9 261.1,1493.4 260.5,1496.1 261.1,1498.9 258.4,1499.9 256.2,1500.6 254.6,1502 251.6,1503 249.5,1504.5 247.2,1503 244.9,1501.4 242.1,1501.2 240,1500.1 239.4,1497" fill="#a80c04" stroke-width="1.6"/>
<polygon points="185.3,1520.7 188.4,1521 192.8,1521.2 192.7,1519.5 195.6,1517.7 195.8,1516.7 198.6,1514.1 200.6,1513.3 202.6,1511.5 205.3,1511.5 209,1509.9 210.2,1510.7 212.4,1511.7 215.6,1513 218.5,1514.7 217.6,1516.2 219.5,1518.1 220.3,1519.5 222.3,1522.1 221,1524.1 221.3,1526.6 221.7,1529.2 219.3,1531.4 218,1535.3 216.7,1537.1 217.7,1539.3 215.7,1542.4 216.9,1542.6 215.5,1546 216.9,1547.9 216.9,1549.9 217,1552.3 216.2,1555.6 217.5,1558 214.8,1558 213.1,1559.3 211.4,1560.7 207.9,1558.3 207.4,1556.6 204.4,1554.7 204.8,1554.8 205.2,1550.7 204,1549.2 203.3,1547 203.5,1546.2 199.2,1543.8 197.2,1540.5 195.4,1540.5 195.7,1537.1 192.6,1534.9 191.7,1534.2 190.4,1531.5 190.5,1530.5 188.4,1527.2 188.3,1525.8 188.2,1522.6" fill="#78d07c" stroke-width="1.3"/>
<polygon points="192.5,1527.5 193.6,1525 194,1522.9 195.8,1521.1 196.3,1518.9 198.3,1517 200.7,1515.3 202.8,1513.6 205,1513.4 207.8,1512.7 210.1,1512 213,1513.7 214.2,1514.9 216.6,1517.1 217.4,1519.2 218.7,1521 220.1,1523.2 219.2,1525.8 219.7,1528.2 219.1,1530.9 218.6,1532.9 217.1,1534.7 216.2,1535.9 213.6,1537.1 211.8,1538.2 210.1,1540.2 207.7,1540.1 204.9,1539.9 203.5,1539.9 201,1539.8 199.3,1538.8 196.9,1537.9 195.5,1535.5 193.7,1532.4 193.2,1530" fill="#78b4ff" stroke-width="0"/>
<polygon points="194.2,1527 195.6,1524.6 196.6,1522.6 197.7,1520.5 199.9,1519.4 201.7,1517.7 203.7,1515.9 206.4,1515.5 208,1515.2 210.8,1514.7 213.5,1516.8 216.1,1518.2 216.9,1521.2 218.3,1524.4 217.8,1527.6 217.8,1530.5 216.3,1533.3 214.4,1535.6 212.1,1537 209.4,1538.7 206.4,1538.8 203,1538.5 201,1536.9 198.2,1536 197.1,1533.7 194.9,1531.6 195,1529.2" fill="#0c10e4" stroke-width="0"/>
<polygon points="195.8,1524.6 197.2,1522.6 198.5,1521.5 200.1,1519.4 202,1518.5 203.8,1517.9 206.7,1516.5 208.9,1517.2 210.9,1517.6 213.4,1518.7 214.7,1520.1 216.1,1522.6 217.4,1524.8 217.4,1526.6 216.4,1529.8 216.2,1531.3 214.4,1533.4 212.3,1534.6 210.2,1536.1 207.8,1535.3 205.5,1535.7 202.9,1535.9 200.4,1533.5 198.2,1531 197.4,1529.5 196.1,1527.3" fill="#ffe800" stroke-width="2.1"/>
<polygon points="199,1525.4 201.1,1523 202.2,1521.5 204.7,1520.7 208.2,1520 210,1521.3 213.1,1522.3 213.7,1524.8 215,1526.4 213.5,1528.6 212.1,1531.1 210.3,1532.4 206.8,1532.5 204.7,1532.7 202.6,1532.2 199.3,1529.3" fill="#ffa800" stroke-width="0"/>
<polygon points="147.5,1508.8 150,1506.7 149.3,1504.3 150.8,1500.5 152.8,1500.6 155.8,1499.9 158,1500.3 159.7,1499.4 163.6,1500.8 164.9,1500.5 169.2,1500.7 170,1498.7 173.8,1498.9 175.5,1499.1 176.7,1500.2 178.5,1501.7 180.7,1504.5 182.1,1506 183.8,1509.5 184.7,1511.1 185.8,1513 183.6,1513.3 181.2,1512.9 179.8,1511.6 178.2,1510.5 175.5,1510.1 172.5,1507.9 170.2,1508.7 168,1510.6 165.3,1510.3 164,1508.6 161.1,1507.8 160,1507.6 156.2,1508.6 154.4,1510.7 151.2,1509.2" fill="#78d07c" stroke-width="1.3"/>
<polygon points="149.6,1507.7 150.7,1504.7 152.4,1503.1 155.6,1501.8 158.6,1502.1 159.8,1502.2 163.2,1502.3 165.8,1502.7 168.4,1502.3 171.1,1502 173.4,1500.2 176,1501.8 178.6,1503.6 178.9,1504.6 180.7,1506.8 181.7,1509.2 178.9,1509.9 176.6,1509.1 175.3,1507.8 172.1,1507.9 170.6,1508.2 167.7,1508.5 166.2,1508.6 163,1507.7 160.5,1507.9 159.8,1507.5 155.6,1507.3 153.7,1508.2" fill="#78b4ff" stroke-width="0"/>
<polygon points="153.2,1504.7 156.1,1503.9 158.7,1503.4 161.4,1503.9 164.5,1505.2 162.1,1505.6 159,1505.8 156.1,1505.3" fill="#b0c8ff" stroke-width="0"/>
<polygon points="165.9,1504.3 168.9,1502.7 171.6,1501.6 175.2,1504.4 172.2,1505.7 170.3,1507.3 167.8,1505.1" fill="#3c58ff" stroke-width="0"/>
<polygon points="266.7,1505.9 270.3,1504.3 271.7,1502.5 273.9,1500.3 276.3,1503.1 278.8,1504.2 279.6,1504.6 281.5,1505.6 282.9,1509.2 284.7,1510.7 286.6,1513.9 288.5,1515.6 290,1517.7 292,1518.1 294.9,1519.5 295.4,1522.3 296.8,1524.6 297.9,1527.2 298.4,1530.4 297.7,1532 297.9,1534 296.7,1535.7 294.5,1535.2 292.2,1534.2 290.2,1533.8 287,1535.4 287,1536.5 284.5,1540.1 283,1537.4 282,1534.8 281.5,1533.3 279.9,1531.1 278.9,1529.5 276.7,1526.2 275.7,1524.5 275.4,1522.8 273.2,1521 269.9,1519.7 267.3,1518.4 269.3,1514.5 269.1,1512.7 272.7,1511.4 274,1510.6 275.3,1512.3 277.6,1514.9 279.1,1515.3 281.1,1518.7 281.7,1519.3 283.4,1522.1 284.6,1525.2 287.8,1524.9 290.3,1526.9 289.3,1524.5 287.8,1522.4 286.3,1519.9 285.7,1517.4 282.7,1516.8 281.9,1514.2 279.5,1511.6 278.5,1511.3 277.6,1509.3 275.6,1506.5 273.7,1508 270.3,1508.7 269.1,1505.8" fill="#78d07c" stroke-width="1.3"/>
<polygon points="269.3,1505.5 272.2,1504.8 274.5,1503.4 276.3,1504.7 277.9,1506 279.9,1507 281.1,1508.7 282.2,1510.6 283.8,1512.7 284.7,1514.6 286.3,1516.3 288.2,1518 290.8,1519.5 292.7,1521 293.1,1523.7 294.3,1525.3 294.6,1528 295.8,1530 293.2,1530.4 292.2,1528.7 291.4,1526 289.8,1523.7 288.9,1521.4 286.5,1520.3 284.3,1518.3 283,1516.2 281.5,1513.9 280.9,1512.7 279.5,1510 278.3,1508.3 276.4,1506.7 274.3,1506.5 271.9,1507.3" fill="#78b4ff" stroke-width="0"/>
<polygon points="273.2,1511.5 275.8,1511.4 277.5,1513.8 278.1,1515.9 279.9,1517.3 280.8,1518.8 282.4,1520.9 283.5,1522.7 286.6,1524.3 285.4,1521.8 284.1,1519.7 282.7,1516.9 280.6,1515.2 279,1513.1 277.8,1511.2 276.3,1509.8" fill="#cfcfcf" stroke-width="1"/>
<polygon points="268.4,1507.8 268,1507.9 270.4,1505.8 271.6,1503.2 274.4,1504.3 278.3,1504.1 278.9,1505.4 279.5,1508.7 280.8,1510.3 284.1,1510.7 286.6,1513.5 287.6,1515.9 290.6,1518.8 290.8,1520.8 290.7,1523.5 289.4,1527.6 293.3,1530.2 294.3,1532.7 294.8,1533.1 293.4,1535.6 292.1,1538.3 290.7,1540.2 289.2,1539.4 286.6,1537.1 286.2,1535.8 287.1,1533.2 284.5,1529.9 284.1,1528.6 284.7,1527 283.7,1524.5 281.9,1522.3 278.1,1518.8 278,1517.1 276.5,1515.3 275.8,1512.3 273.1,1513.1 269.7,1511.8 270,1515.1 267,1509.9" fill="#78d07c" stroke-width="1.3"/>
<polygon points="271,1509.5 271.9,1507.6 273.8,1506.3 275.9,1505.7 279.4,1509.6 281.5,1510.7 281.9,1512.5 282.5,1515.2 284.2,1516.7 286.4,1519 288.3,1521.9 287.7,1525 287.9,1525.9 288.3,1528.7 287.4,1529.8 285.4,1527.7 284.4,1524.8 283.4,1522.7 281.7,1519.2 280.3,1517 279.6,1515.3 278,1513.4 275,1512.2 273.6,1509.5" fill="#78b4ff" stroke-width="0"/>
<polygon points="295.8,1523.3 297.2,1523.4 300.1,1526.9 300.1,1526.4 303.4,1529.2 304.3,1530.2 306.6,1529.8 309.4,1532.1 311.4,1533.3 312.4,1533.4 315.6,1533.5 319.3,1535 319.7,1538.2 324.4,1537.3 325.5,1536.2 326.6,1538.4 330.3,1539.9 326.2,1542.7 326.2,1544.4 324.4,1545.2 320.7,1543.6 318.4,1545.1 315.7,1542.4 314.4,1541.4 312.1,1541.3 309.4,1541.8 308.4,1541.4 306.7,1539.7 305,1536.9 300.7,1535.2 299.2,1535 299,1532.2 295.2,1529.7 296.3,1526.9 296.9,1526" fill="#78d07c" stroke-width="1.3"/>
<polygon points="302.8,1531.9 305.6,1532.6 307,1534.2 310.3,1533.8 312,1535.4 313.1,1536.1 315.3,1537.8 317.4,1537.9 320.1,1540 323.2,1540.8 320.4,1540.6 317.1,1541.3 314.4,1540.4 312.5,1539.8 309.6,1539.4 307.3,1537.7 306.1,1536.6 303.4,1535.2" fill="#78b4ff" stroke-width="0"/>
<polygon points="290.6,1521.8 295.3,1523 296.3,1526.5 297.3,1528.3 293.4,1530.8 292.2,1527 291.9,1524.4" fill="#cdcdcd" stroke-width="0"/>
<polygon points="312.2,1505.1 314.1,1503 313.7,1501.4 315.4,1498.8 318.2,1498.2 320.7,1495.9 322.2,1494.9 325.5,1495.2 328.9,1495.2 330.5,1495.4 333.5,1496.5 336.6,1496.5 337.8,1496.9 340.7,1497.9 342.2,1501 342.6,1503.2 344.6,1504.2 346.8,1506.2 348.8,1506.4 350.5,1508.1 353,1508.2 354.6,1508.5 358,1510.1 360.4,1510.9 362,1511.2 364.2,1511.7 365.8,1513.9 363.1,1514 359.3,1514.9 356.2,1513.9 354.4,1514.4 352.5,1514.7 350.8,1514.1 346.8,1514.2 344.1,1517.5 343.5,1517.4 340.2,1519.4 339.3,1521.2 337,1520.8 334.9,1521.1 332.9,1522.9 330.5,1523.5 327.8,1523.2 325.7,1521.9 323,1521.2 319.4,1519.3 318,1518 316.2,1516.2 314.6,1512.8 313.2,1510 312.2,1508.4" fill="#78d07c" stroke-width="1.3"/>
<polygon points="313.6,1506.2 314.3,1504.2 316,1501.5 317.2,1499.9 319.4,1498.9 321,1497.2 323.5,1496.2 325.6,1496.8 328.7,1496.6 331.6,1496.5 333.6,1497.8 336.3,1498.4 338.7,1499 341,1502.1 343.7,1504.8 343.6,1506.8 343.9,1509.1 345.1,1511 343.3,1514.2 342.4,1516.6 339.6,1518.8 337.2,1519.8 334.5,1521.1 332.2,1520.7 330.2,1521 327.4,1521.1 325.4,1520.8 323.7,1519.9 321.2,1518.9 318.5,1517.4 316.7,1514.5 315.3,1513 315.1,1509.8 313.6,1507.8" fill="#78b4ff" stroke-width="0"/>
<polygon points="314.9,1505.7 316,1503.2 317.8,1501.1 319.7,1499.9 322,1498.8 323.5,1497.8 326,1497.4 328.8,1497.6 331,1498.1 333.6,1498.6 336.4,1500.1 338.3,1500.7 340,1503.2 341.6,1504.8 342.2,1508.3 343,1511.1 341.7,1513.6 340.3,1515.7 338.5,1516.9 336.1,1518.4 333,1519 330.1,1519.8 326.8,1519.4 324,1518.5 322,1517.2 319.3,1516.4 318.4,1514.2 316.6,1512.1 315.9,1508.7" fill="#0c10e4" stroke-width="0"/>
<polygon points="316.6,1504.9 318.6,1502.5 320.4,1500.5 322.4,1500.2 325,1499.9 327.1,1499.2 329,1499.3 332.1,1499.6 334.1,1500 336.3,1502.2 338.4,1503.5 337.6,1505.8 335,1507.5 335.6,1509.2 337,1511.4 335.6,1513.3 333.8,1515.5 331.4,1514.9 329.1,1514.2 326.2,1514 323.4,1514.4 320.9,1515 319.1,1515.9 318.1,1513 318.2,1510 316.9,1507.4" fill="#ff8a00" stroke-width="2.1"/>
<polygon points="324.1,1519.8 326.6,1519.7 328.5,1520.1 330.7,1519.2 332.2,1517.8 333.6,1515.9 337.2,1516 340.3,1514.5 341.8,1513.7 345.2,1512.2 347.5,1514.8 349.5,1515 353.9,1517.6 354.8,1516.5 356.8,1516.9 360.8,1519.2 361.9,1519.3 363.9,1520.9 365.1,1525.6 364.5,1527.9 368.1,1526.8 371,1526.3 372.4,1526.3 374.8,1527.3 377.6,1526.6 380.2,1527.8 379.9,1531 381.3,1534 381.4,1534.9 381.3,1538 382.1,1539.9 380,1541.3 379.5,1543.2 378.1,1547.1 374.7,1548.1 373.3,1551.7 371.5,1554.3 370.2,1556.5 370,1557.7 367.6,1558.2 366.4,1561.9 365.2,1563 362.1,1562.5 360,1562.3 358.3,1559.7 357.5,1559.1 355.3,1555.8 353.8,1553.3 352.3,1555.5 350.4,1558.1 351.2,1559.5 352.2,1562.9 352.9,1563.8 355.2,1566.7 355.7,1570.3 354.3,1573.4 351.3,1575.2 348.4,1575.9 344.7,1576.6 342.8,1578.7 340.9,1580.7 339.5,1583.4 335.7,1582.1 333.5,1582.9 333.1,1582.1 330.2,1578.7 333.7,1578 335.3,1575.3 334.3,1572.7 332.4,1570.9 334.6,1570 335.7,1567.5 334.7,1564.1 337.9,1562.8 339,1560.4 342.1,1559.1 344.7,1556.2 345.2,1553.3 343.6,1551.6 345.2,1548.2 342.8,1550.2 340.2,1549.7 338.3,1549.3 334.9,1547.6 334.2,1546.6 330.1,1544.6 330.1,1542.2 329.5,1540.8 327.4,1537.6 328.2,1535.4 326.2,1534 326.3,1531.8 326.3,1527 325.9,1525 325.7,1523.6" fill="#78d07c" stroke-width="1.3"/>
<polygon points="326.3,1520.2 327.3,1520.6 329.6,1518.8 331.6,1517.9 334.5,1518.4 336.4,1516.5 340,1515.6 342.4,1515.6 345.6,1513.9 344.6,1517 344.7,1519.3 344.1,1521.8 343.1,1525.7 342,1527.3 343.6,1530.1 342.8,1531.5 343.6,1533.9 345.2,1536.7 345.9,1538.8 347.1,1540.2 349.1,1542.3 349.8,1544.2 353.1,1544.3 355.2,1543.5 359.5,1544 359.8,1541.6 361.5,1540.7 362.2,1537.9 364.1,1536.3 365.6,1533.1 366.3,1531.7 367.5,1529.6 369.7,1528.3 372.6,1529.1 375.1,1528.6 377.5,1528.3 378.3,1531.1 380.3,1532.6 379.8,1535 380.8,1538.2 379.2,1540.2 378.7,1543.3 377.1,1544.6 374.1,1547.1 372.7,1549.6 371.2,1553.1 369.1,1554.9 367.7,1557.9 364.6,1560.1 362.8,1561.7 360.7,1558.7 358.9,1556.5 357.1,1554.3 356.6,1553.3 354.4,1551.3 354,1548.8 350.4,1548.8 347.6,1547.9 345.8,1545.9 342.5,1546.7 341,1547.9 338.7,1548.4 335.7,1546.2 334.6,1545.5 331.2,1544.5 331.3,1541.6 329.8,1538.4 329.9,1536.2 328.8,1533.7 329,1531 328,1528.7 326.6,1525.5 326.6,1522.7" fill="#78b4ff" stroke-width="0"/>
<polygon points="330.3,1524.1 332.2,1523.1 333.8,1522.1 335.6,1520.6 338.6,1520 340.5,1518.8 343.8,1518.2 343.6,1520.4 342.9,1522.8 341.8,1524.6 341.5,1527.2 342.4,1530.3 343.4,1531.2 344.1,1533.6 344.3,1536.4 345.3,1538.9 346.6,1540.1 348.3,1542.1 350.6,1544.3 352.8,1544.1 355.2,1545.4 356.7,1545.2 355.2,1546.4 354.2,1548.7 352.3,1548.4 349.8,1548 346.6,1546 344.2,1545.7 342.3,1546.3 338.8,1546.9 336.8,1544.5 335.3,1543 333,1541.7 332.1,1539 331.9,1536.4 331.2,1534.6 330.6,1531.3 330.7,1529.8 330.7,1527.2" fill="#3c58ff" stroke-width="0"/>
<polygon points="336.9,1570 338.4,1568.2 339.1,1565.8 341,1563.3 341.4,1561.3 344.5,1560.1 347.6,1558.6 348.7,1559.4 351.4,1561.6 353.8,1563.1 353.3,1565.3 354.4,1568.6 352.8,1570.6 351.6,1571.5 350.3,1573.3 348.8,1573.7 345.6,1574.6 343.8,1575.6 341.1,1577.9 340.1,1580.3 338,1581.3 334.1,1583.3 332.6,1580 332.5,1578.9 333.2,1576.3 336.3,1575.3 335.5,1572.4" fill="#78b4ff" stroke-width="0"/>
<polygon points="340.4,1568 342.3,1565.4 344.1,1563.8 344.4,1562.4 346.7,1561 349.8,1561.3 351.3,1564.1 351.5,1565.4 350.6,1568.4 348.7,1571.4 345.8,1572 342.9,1573.4 342.8,1570.6" fill="#3c58ff" stroke-width="0"/>
<polygon points="366.1,1535.8 369.7,1533.2 371.5,1533.5 374.3,1534.3 376.5,1538.7 373.7,1540 371.8,1541.3 369.9,1541.3 367.2,1540.2 367,1538.2" fill="#c8c8c8" stroke-width="1.3"/>
<polygon points="342.4,1524.4 343.6,1522.8 345.8,1521.5 347.1,1519.7 349.5,1519 352.5,1518.8 354.3,1518.4 356.7,1519.4 358.8,1520.5 360.9,1521.8 361.2,1524 361.9,1526.3 362.6,1528.9 362.1,1530.8 361.9,1533.4 361.3,1535.6 360.5,1537.6 358.4,1539 356.3,1541.1 355,1542.4 351.5,1542 348.4,1542.2 347.4,1539.7 345.4,1538.3 343.8,1536.4 343.6,1533.8 343.2,1531.4 343,1529.1 342.9,1526.6" fill="#0c10e4" stroke-width="0"/>
<polygon points="343.6,1525 345.4,1522.4 347.3,1520.3 350.1,1520.3 351.7,1519.7 354.4,1519.1 356.7,1520.6 359.7,1522.4 360.3,1524.6 361.4,1526.6 361.5,1529 360.8,1531.5 360.1,1533.9 359.7,1536.6 358.4,1538.6 356.5,1540.4 354.6,1541.8 351.6,1541.5 349.1,1540.7 347.6,1539.1 346.2,1537.5 345,1535.6 344.8,1533.1 343.9,1529.8 343.5,1527.2" fill="#ff8a00" stroke-width="2.1"/>
<polygon points="345.8,1527.3 347.1,1525.5 349,1523.5 352,1523 354.9,1522.8 356.1,1523.9 358.1,1525.6 358.7,1527.8 360,1530.9 358.9,1533.5 357.8,1536 355.7,1537.4 353.8,1538.6 349.3,1538 348.1,1536.3 346.1,1534.6 346.4,1531.8 345.5,1529.9" fill="#ff4a08" stroke-width="0"/>
<polygon points="346.9,1531.1 348.6,1530.6 350.9,1528.4 352.5,1529 355.3,1530.7 357.6,1532.1 357.9,1534 356.7,1536.4 356,1538.6 352.9,1537.9 350.2,1537.4 346.8,1535.1" fill="#d01408" stroke-width="1.3"/>
<polygon points="359.7,1615.7 359.8,1613.1 358.9,1611.6 360.3,1608.5 360,1607.4 362.9,1606.4 360.9,1602.8 362.4,1600.6 362.3,1599.2 364.8,1596.5 363.5,1593.6 363.6,1593.2 365.2,1591 367.7,1587.3 367.1,1585.9 369.7,1585 367.6,1581.5 366.8,1578.8 367.1,1575.6 365.7,1575.5 363.7,1573.8 363.1,1569.9 364.3,1567.3 364.7,1564.3 364.4,1562.5 367.6,1561.5 367.6,1560.3 371.2,1557.6 370.8,1555.3 373.4,1554 377.2,1552.8 378.9,1549.6 379.4,1549.7 382.4,1548.7 384.3,1548.6 388,1550.3 390.7,1550.6 393.1,1548.7 396.8,1549.1 399,1548.8 400.6,1547.1 402.9,1546.9 404.5,1545.4 407.7,1544.6 410.9,1544.7 411.1,1543.2 411.3,1540.2 414.7,1539.5 415.3,1537 417.4,1535.6 420.2,1534.8 423.2,1532.8 424.6,1533.5 426.3,1535.3 428.3,1537.4 431.2,1536.8 433.3,1539.6 435.3,1541.7 436.1,1541.8 439.4,1544.4 440.3,1545.5 441.7,1548.2 444.2,1550.3 445.2,1552.9 446.3,1552.6 450.1,1556 452.1,1555.9 452.1,1558.6 456,1558 458.7,1560.3 458.3,1561.3 461.2,1561.3 463.5,1565.7 462.2,1566.4 463.3,1569.2 463.6,1570.3 463.7,1573.1 463,1575.8 463.6,1579.1 462.8,1581.2 462.1,1582 463.9,1585.4 465.4,1587 467.6,1589.3 465.1,1591.1 465.7,1595.3 467.5,1595.8 466,1598.8 467.6,1603 465.7,1603.1 467,1607.6 465.8,1608.4 465.3,1611.4 464.1,1612.2 463.5,1615.6 462.3,1617.9 461.1,1621.2 460.6,1621.6 460.6,1625.2 458.5,1626.6 456.3,1628.2 453.5,1627.9 451.2,1630.4 448.8,1628.7 444,1631 442.4,1632.2 441.1,1631.6 437.5,1633 434.8,1633 432,1633 430.6,1636.5 428.3,1637.5 424.7,1639.2 424,1641.1 420.4,1640.7 419.1,1642.3 416.6,1643.3 415.1,1645.6 413.7,1645.5 408.6,1646 407.5,1645.7 406.7,1642.4 405.1,1639.3 405.2,1636.9 404.4,1637 405.8,1634.1 407.5,1633 408.9,1631.1 409.3,1626.4 411,1626.1 413.1,1623.9 413.1,1620.3 415.7,1619.9 414.7,1617.4 413,1615.4 411.3,1613.6 409,1612.4 404.5,1611.2 403.2,1611.7 401,1608.4 399.6,1606.6 396.7,1606 394.4,1605.2 393.4,1604.4 391.4,1603.5 389.2,1601 387.5,1598.2 385.9,1601.9 384.1,1602.2 382.9,1603 381.1,1604.7 378.8,1607.5 378.2,1611.1 376.6,1612.4 375.7,1614.5 372.1,1614.7 372.6,1618.3 371,1618.7 366.5,1618.7 365.5,1619.3 362.2,1619.4 361.2,1616.5" fill="#78d07c" stroke-width="1.3"/>
<polygon points="362.4,1615.3 361,1613.4 362,1610 362.6,1608.4 363.2,1606.1 365,1604.4 365.5,1602.1 364.7,1599.7 364.8,1597 365.4,1593.8 367.8,1591.7 368.3,1590.5 367.8,1589 368.9,1587.2 371.6,1584.3 369.9,1580.6 369.5,1577.9 368.2,1577.1 367.2,1573.6 365.9,1573 363.7,1571.4 365.2,1568.2 366,1565.4 366.4,1564.3 368.5,1562 370.5,1558.6 371.7,1558.2 375.2,1556.7 376.8,1553 377.7,1551.4 380.6,1551 384,1550.6 385.1,1550.8 387.5,1550.7 390.9,1551.9 393.5,1552.6 396.1,1551.9 399.4,1549.9 400.5,1550.2 404.6,1548.1 406.4,1547.7 408.6,1548.2 410.9,1546.1 411.1,1545.8 414.1,1543.8 414.6,1540 415.6,1540 416.3,1536.7 418.7,1536.5 421.8,1533.3 423.7,1534.9 425.8,1537.2 428.1,1537.4 429.8,1538.7 431.9,1541.5 433.8,1542.8 436.1,1543.1 439.5,1543.4 440.5,1546.7 442.2,1549.7 443.6,1550.2 444,1552.9 446.1,1554.6 447.6,1556.6 450.3,1556.8 451.6,1560.3 455.8,1561.6 457.3,1563.2 459.3,1564 461.8,1565.3 460.6,1567.5 461.6,1571.4 462,1573.1 460.2,1575.8 459.5,1577.1 459.7,1580.6 460.6,1583.4 459.7,1584.6 460.2,1587.4 460.4,1590.6 461,1592.6 459.8,1595 459.7,1597 458.8,1597.8 457,1599.6 457.1,1602.7 456.8,1604.5 454.8,1607.9 455.1,1609.8 454.1,1612.4 451.8,1614.1 450.3,1616.6 451.2,1618.6 448.4,1621.1 446.6,1622.5 444.9,1624.1 444.8,1626.5 443.2,1627.6 439.6,1627.7 437.6,1629.7 434.1,1629.7 432.2,1630.8 429.4,1632.2 428,1633.7 426.9,1636.1 424.9,1637.3 421.4,1638.1 420.8,1640.1 418.4,1641.5 414.4,1641.1 412.5,1642.9 410.9,1642.8 408.5,1639.4 408.2,1637.9 408.1,1635.2 408.2,1632.5 409.4,1632 412.9,1628.3 412.4,1626.9 414.2,1624.6 417,1622.5 417,1619.8 415.9,1618 414.6,1616 414.4,1613.9 411.1,1613.1 409.1,1610.6 406.7,1609.7 403.3,1607.7 402.1,1606.8 398.7,1606.6 397,1605.2 395.5,1603 395.1,1602.7 392.9,1601.6 390.4,1600 388.5,1597.8 385.7,1598.8 384,1600 382,1602.7 380.4,1603.6 377.1,1606.2 376.2,1609.5 374.6,1611 372.9,1613.4 371.3,1615.6 368.2,1615.6 364.4,1616.7" fill="#78b4ff" stroke-width="0"/>
<polygon points="380.8,1554 382.4,1553.5 385.6,1553.4 387.6,1554.2 390.2,1553.3 393.2,1552.8 395.8,1552.2 399.1,1551.9 401.5,1552 403.6,1551.1 405.8,1550.1 407.7,1550.1 409.4,1549.6 411.7,1548.1 413.4,1545.4 415.3,1543 416.2,1541.4 418.5,1540 419.6,1538.8 423.3,1536.2 425.3,1537.8 426.1,1538.2 427.4,1540.5 430.7,1541.9 432.8,1542.7 434.8,1544.2 436.6,1545.3 438.7,1546.5 439,1548.8 441.5,1550.3 443.3,1552.5 443.2,1554.6 445.6,1555.6 448.6,1557.3 450.3,1559 452,1562.2 453.4,1563.8 455.5,1565.8 459.5,1566.6 459.3,1569 458.7,1571.2 459.6,1574.5 459.3,1576.3 459.7,1579 459.9,1581.8 458.7,1585.2 458.9,1586.6 459.3,1589.9 458.9,1591.7 460.3,1593.2 460.2,1595.2 461.3,1597.7 460.8,1599.9 460,1602.7 459.5,1605.8 457.7,1608.6 457.4,1609.8 455.5,1612.7 454.5,1614.8 452.8,1617.3 451.5,1619.5 450.5,1620.7 448.7,1622.3 446.6,1623.8 445.3,1625.5 441.7,1627.3 439.2,1626.2 438.3,1627.3 434.4,1627.8 432.9,1629.7 430,1629.8 428,1630.9 426.5,1633.1 425.7,1634.8 423.1,1636 420.9,1637.5 417.2,1638.3 415.3,1639.2 414.1,1637.8 410.7,1635.8 413.2,1633.4 414.1,1631 414.8,1629.2 416.7,1628.1 417.2,1625.7 418.9,1623.4 420.7,1620.3 421.7,1618.1 419,1615.4 416.4,1614 414.6,1610.6 411.8,1610.6 409.3,1609.2 407.7,1608.6 404.3,1607.3 403.6,1605.4 400.3,1603.4 399,1602.1 397.4,1599.2 395.5,1597.1 392.5,1596.6 390.8,1595.3 389.2,1594.7 387.4,1595.8 386.4,1596.5 384.2,1597.9 381.7,1598.5 380.4,1601.4 379.1,1598.5 377.4,1596.7 375.8,1595.7 376,1592.4 377.9,1589.1 379.2,1586.6 377.7,1583.9 377.1,1581.5 376.4,1578.8 375.2,1577.2 372.6,1575.3 371.5,1573.1 373.7,1570.8 374.2,1567.4 374.9,1564.7 375.1,1562.4 375.6,1561.6 378.3,1558.3 377.8,1556.3" fill="#3c58ff" stroke-width="0"/>
<polygon points="385.8,1555.1 388.7,1555.2 390.5,1556.3 394.1,1555.5 395,1558.2 396.5,1559.5 397.2,1560.6 395.9,1563.6 395.2,1565.8 393.9,1568.2 391.6,1567.5 389.7,1567.2 387.5,1567.5 385.7,1564.5 383.8,1561.4 384.1,1558" fill="#0c10e4" stroke-width="0"/>
<polygon points="426.4,1570.4 428.5,1570.3 430.7,1569.6 432.3,1568.8 435.2,1569.2 436.7,1567.8 439.6,1568.9 442.7,1570.3 445.6,1571.3 447.5,1572.9 449.1,1573.4 451.5,1574.6 453.8,1576.1 454.2,1578.4 454.7,1579.8 455.4,1582.7 457.3,1584.3 458,1587.8 457.6,1589 456.1,1592.2 456,1593.5 457.2,1596.4 456.7,1598.9 455.5,1600.6 454.4,1602.7 454.2,1605.6 452.9,1607.7 451.8,1609.2 450.8,1612 450.7,1614.5 448.4,1616.6 446.9,1617.7 445.1,1618.7 442.1,1621 440.4,1622.2 438.4,1621.3 436.7,1622.5 433.3,1623.5 431.8,1624.2 429.6,1624.6 427.5,1626.3 425.3,1627.8 422.9,1628.7 420.6,1629.7 419,1632.2 416.5,1633.8 417.5,1631 417.7,1629 418.5,1626.6 419,1624.4 421.1,1621.1 422.5,1619 423.3,1617.3 424.6,1615.3 422,1613.5 419.6,1612.4 417.8,1610.4 415.9,1609.8 414.6,1608.4 412.5,1607.7 410.6,1605.9 407.4,1604.4 404.3,1603.9 402,1602.5 400.8,1600.8 398.9,1599.7 398.3,1598.1 397.5,1595.5 398,1592.7 398.6,1590.5 399,1586.7 400.4,1586.2 402.1,1583.4 404,1582.5 406.3,1579.9 406.9,1579.3 409.6,1578.2 412.2,1576.2 413.6,1575.4 416.4,1574.3 418.7,1573.2 420.7,1572.9 424.2,1571.3" fill="#0c10e4" stroke-width="0"/>
<polygon points="364.1,1600.9 364.9,1597.7 366.3,1595.6 367.5,1593.5 367.9,1591 368.6,1589.7 370.5,1587.9 371.4,1585.6 374.1,1587.3 375.5,1590.4 376.2,1593.2 375.2,1595.5 374.8,1597.9 373.2,1600.1 372.6,1602.2 371,1603.7 370.1,1606.4 369.2,1607.5 368.3,1609.7 366.3,1611.3 362.5,1613.6 362.8,1612.5 364.2,1609.7 364.5,1607.4 364.4,1604.6 364.3,1603" fill="#78b4ff" stroke-width="0"/>
<polygon points="450.3,1601 452.9,1600.1 455.3,1598.8 458.5,1598 459.9,1598.6 463.7,1599.8 465.4,1603.2 465.4,1605.2 465.5,1608.5 464.2,1609.8 464.7,1611.7 463.2,1614.5 462.6,1617.8 462.6,1619.5 461.3,1620.7 459.4,1624.4 457.4,1625 455.2,1626.4 452.5,1627.5 451.7,1628.6 447.6,1629.1 447.3,1629.4 446.6,1627.5 447.5,1623.7 449.1,1620.1 449.7,1617.8 450.4,1615.1 452.6,1614.2 452.7,1612.5 452.6,1609.2 453.2,1607.5 451.6,1605.5 451.7,1602.3" fill="#78d07c" stroke-width="0"/>
<polygon points="382.1,1603 385.9,1601.4 387.6,1600.3 389.7,1602.1 392.5,1603.5 390.3,1604.9 390,1606.3 387.5,1608.6 386.4,1609.6 383,1609.4 383.8,1608.2 383.4,1604.6" fill="#78d07c" stroke-width="0"/>
<polygon points="392.6,1567.4 392.9,1565.7 395.1,1563.1 395.1,1561.9 397,1559.1 397.1,1557.7 400.2,1556 401.4,1553.1 403.5,1552 405.6,1551.2 407.2,1550.4 409.2,1548.7 411.5,1548.1 413.2,1546.1 414.6,1543.8 417.2,1540.8 418.1,1538.8 420.9,1537 422.9,1539 425.2,1540.5 427.3,1541.8 429,1542.5 431.4,1544 433.5,1545.3 434.6,1547.7 437.4,1549.6 437.7,1551.2 437.3,1554.5 437.6,1557.7 436.3,1558.8 435.4,1561.2 433.7,1564.2 432.2,1565.9 429.2,1567.7 427.6,1569.2 424.4,1569.9 422.1,1571.1 419.5,1572.4 416.4,1573.6 413.7,1575.2 412.2,1577.7 411.6,1580.7 409.3,1579.5 407.9,1578 405.2,1575.9 403.8,1574.4 401.3,1573 399.3,1572 396.9,1571.2 394.4,1569.2" fill="#ff8a00" stroke-width="2.1"/>
<polygon points="417.4,1541.3 418.8,1539.7 420.6,1536.8 422.8,1539.3 424.2,1541.6 422.9,1543 421,1545.2 418.9,1543.7" fill="#ffe800" stroke-width="0"/>
<polygon points="398.1,1558.5 399.5,1556.1 401.2,1555 403.9,1553.4 406,1551.4 408.9,1550.7 407.5,1553.5 405.9,1555.5 404.6,1557.7 404,1560.2 403.6,1562.2 401.4,1564.3 398.6,1567.2 394.7,1568.2 395.9,1565.5 396.5,1562.8 397.7,1560.6" fill="#ffe800" stroke-width="0"/>
<polygon points="408.7,1553.7 409.9,1551.4 412.4,1550.5 414.9,1547.6 416.6,1545.6 419.1,1545.4 420.8,1545.7 423.9,1544.9 426.3,1544.7 428.8,1545.2 431.2,1546.8 432.4,1547.4 434.2,1549.4 435.6,1551.8 435.8,1553.8 434.9,1558 433.4,1559.4 433,1562.9 430.1,1563.8 428.6,1565.4 425.4,1567.7 424.1,1568.6 421.3,1568.3 417.7,1569.6 416,1568.7 413.6,1567.2 410.8,1566.1 409.4,1564.8 408.3,1563.3 408.6,1560.1 408.9,1558.3 407.5,1555.5" fill="#ff4a08" stroke-width="0"/>
<polygon points="412.9,1558 414.3,1556.4 416.5,1555.7 419.5,1553 422.4,1553.1 423.5,1556.2 425.7,1555.3 429.8,1553.4 431.4,1555.1 431.2,1557 430.3,1560.3 430.1,1562 429.2,1563 426.8,1564.1 423.1,1563.8 420,1564 417.3,1564.2 414.8,1564.8 415.4,1561" fill="#d01408" stroke-width="1.3"/>
<polygon points="398.7,1589.8 400.6,1588.2 402.9,1585.5 404.1,1584.5 406.6,1583.2 409,1581.1 411.5,1580.9 413.4,1580.9 416.8,1581.3 419.4,1581.6 421.9,1583.5 422.9,1584.8 425,1586.1 425.9,1587.4 425.3,1589.9 426.6,1593 424.5,1594.3 424,1596.4 422.2,1598.4 420.9,1598.7 419.1,1600.3 416.8,1602.3 414.2,1602.6 412.7,1604.2 410.6,1604.1 407.8,1604.1 406,1603.2 402.8,1601.4 401,1598.9 399.8,1596.3 399,1593.7 399.5,1592.4" fill="#ff8a00" stroke-width="2.1"/>
<polygon points="413.1,1583 417.5,1582 418.8,1582.4 419.9,1581.9 424.1,1580.9 425.8,1579.4 430,1577.4 430.6,1577.9 435,1577.2 435.4,1578.4 439.1,1579.1 440.1,1580.5 440.4,1584.6 440.7,1585.6 438.3,1588.4 438.2,1590.7 438.2,1592.8 440.1,1597.6 437.3,1598.9 433.4,1599.5 433.3,1602.8 433.2,1604.9 435.8,1607.6 435.7,1608.1 437.4,1610.2 439.1,1612.6 440.7,1613 438,1611.9 434.6,1611 432.3,1609.9 432.1,1606.5 431,1603.8 429.9,1601 428.4,1599.1 427.6,1597.4 427.2,1594.3 424.5,1591.8 424,1590.3 421.4,1588.1 420.6,1587.9 418.3,1586.5 416.2,1584.5" fill="#ffe800" stroke-width="1.8"/>
<polygon points="371.1,1546.3 375.5,1544.7 376.7,1547.6 373.8,1551 371.3,1550.5" fill="#ffe800" stroke-width="1.6"/>
<polygon points="367.5,1563.1 369.4,1560.7 371.6,1558.7 373.4,1561 371.9,1563.9 371.3,1567 368.4,1568.4 367.6,1565.3" fill="#ffe800" stroke-width="1.6"/>
<polygon points="382,1563.3 385.8,1561.9 389.3,1564.3 388,1567.3 385.6,1567.9 383.2,1567.8 382.6,1565.4" fill="#ffe800" stroke-width="1.6"/>
<polygon points="382,1585.9 383.7,1584.2 386,1583.5 387.7,1584.7 389.1,1587.1 390.5,1589.7 391.9,1591.9 392,1594.4 391.1,1596 387.9,1595.7 385.8,1594.1 384,1591.3 382.6,1589.5" fill="#ffe800" stroke-width="1.8"/>
<polygon points="449.4,1590.9 453.3,1590.5 456.3,1593.4 453.2,1594.8 449.6,1593" fill="#ffe800" stroke-width="1.3"/>
<polygon points="413.2,1635.6 416.6,1634.2 418,1636.7 414.6,1637.2" fill="#ffe800" stroke-width="1.3"/>
<polygon points="444.8,1538.7 446.6,1535.8 448.6,1534.8 450,1532.6 453.4,1533.9 455.8,1535 454.7,1536.9 453.5,1539.4 453.4,1540.4 452.4,1543.4 450,1545.2 450,1546.2 446.3,1545.4 445.7,1542.6 445.1,1541" fill="#78d07c" stroke-width="1.3"/>
<polygon points="461.8,1528 462.9,1526.2 465.8,1524.3 466,1527.5 468.1,1529.5 468.6,1531.4 470.4,1533.2 471.4,1536.3 472.2,1538.9 473.4,1540.9 473.8,1542.4 474.9,1544.7 476.5,1547.4 477.6,1549.4 478.7,1551.4 479.3,1552.6 476.2,1554.5 474.6,1553.1 473.8,1550.3 472.3,1548.8 471.5,1547.4 470.7,1544.8 468.9,1542.3 468.4,1541.1 466.8,1539 465.4,1537.5 463.5,1534.5 463.2,1532.6 461.9,1530" fill="#78b4ff" stroke-width="1.3"/>
<polygon points="465.1,1578 467.1,1577.2 470.3,1576.4 472.6,1576 473.8,1578.3 474.7,1581.7 473.8,1583.6 471.5,1585.8 470.1,1584.7 466.4,1584.5 465.9,1581.4 465.2,1580" fill="#78d07c" stroke-width="1.3"/>
<polygon points="443,1554.9 444.8,1554.1 447.4,1552.4 449.1,1552.5 452.3,1552.3 454.3,1552.1 456,1552.4 458.6,1553.1 461.6,1553.3 464.7,1555.2 461,1555.8 458.5,1557.3 455.9,1557.6 453.2,1557.4 451.7,1557.6 449.2,1558.4 446.7,1558 444.3,1557.2" fill="#c4c4c4" stroke-width="1.3"/>
<polygon points="263.1,1629.6 266.5,1628.7 266.3,1626.3 267.1,1623.9 266.8,1621.5 268.8,1622.1 270.6,1619 274.4,1621.4 277.7,1618.9 279.8,1615.8 281.2,1613.7 284,1614.2 285.1,1615 288.7,1616.8 289.6,1617.5 290.6,1623.1 295.2,1625.2 292.3,1624.9 295.5,1626.6 293.1,1631.3 296.5,1634.7 296.5,1635.2 296.5,1640.2 297.6,1643 298.9,1644.2 300.5,1644.6 301.8,1648.3 303.1,1646.9 304,1652.2 306.4,1652.7 308.6,1655.8 306.8,1658.3 310.1,1658.4 311.3,1662.7 308.2,1662.5 303.5,1664.9 300.9,1665.3 300.8,1664.4 299,1661.5 294.9,1664.6 295.2,1667.9 294.2,1670.5 290.8,1672 289.1,1669.8 285.9,1669.7 284.7,1668.9 279.8,1672.8 281,1672.6 279.3,1677.1 274.9,1677.1 275,1681.2 271.1,1684.2 269.3,1685.9 271.1,1680.5 269.3,1679.4 269.2,1676.3 266.4,1672.8 267.1,1670.4 266.5,1666.6 267.3,1663.8 267.6,1664.6 266.9,1660.6 266.4,1655.9 267.1,1654.8 266,1650.3 262.3,1649.3 263.4,1646.7 259,1646.2 261.8,1646.2 264.9,1642.1 265.8,1640.7 265.6,1639.2 262.6,1635.7 263.6,1633" fill="#78d07c" stroke-width="1.3"/>
<polygon points="266.4,1630.9 267.4,1628.2 269.9,1626.4 269.5,1622.7 272,1624 274.5,1622.9 278.4,1621.5 279,1620.7 281.6,1620.3 283.9,1618.6 287.1,1619.9 288.4,1621.1 289.6,1623.8 291.1,1624.9 290.5,1627.4 292.6,1630.4 291,1634 291.8,1636.1 290.8,1636.5 290.3,1638.8 289.4,1642.1 288.6,1645.9 287.7,1646.1 285.7,1649.9 285.3,1651.2 283.9,1653.2 283,1655.7 280,1657.5 279.1,1659.8 278.4,1662.3 278.4,1664.3 276.1,1665.7 273.3,1668.1 272.2,1668.9 271.9,1670.4 271.3,1668.5 270.2,1664.4 269.8,1662.5 271,1660.6 271.9,1658.7 271.1,1654.5 271.5,1652.3 269.7,1650.5 268.7,1645.5 268.6,1645.1 268.6,1642.1 267.6,1638.6 266.4,1634.9 266.4,1634" fill="#78b4ff" stroke-width="0"/>
<polygon points="275.2,1631.3 278,1628.5 280,1626.2 282.6,1627.9 283.3,1628.9 286.2,1628.8 287.1,1631.6 287.6,1634.5 288.2,1638 287.8,1639.2 286,1641.7 285.7,1642.5 284.6,1644.9 282.1,1645.4 278.8,1646.2 277.6,1644.5 277.6,1642.4 276,1640.4 275.4,1637.4 275.7,1634.6 275.7,1633.6" fill="#3c58ff" stroke-width="0"/>
<polygon points="279.5,1634 283.7,1633.5 283.7,1636.6 284.8,1638.9 283.7,1641.3 282.3,1643.3 279.3,1640.9 279.4,1637.8" fill="#0c10e4" stroke-width="0"/>
<polygon points="272.1,1657.5 274.6,1655.6 276.5,1654.8 278.4,1657.2 279.8,1660 276.8,1662.2 275,1663.8 273.2,1662.2 272.4,1659.6" fill="#b0c8ff" stroke-width="0"/>
<polygon points="295.4,1631.2 297,1628.2 297.6,1626.5 298.4,1623.7 299.3,1621 302.1,1620.4 304.5,1618.9 306,1616.4 310.5,1617.3 311.5,1617.8 312.4,1621 312.8,1623.3 310.6,1625.6 307.7,1627.7 307.1,1630.1 306,1632.1 303.7,1635.3 302.1,1635.9 301.3,1637.9 299.6,1640.6 296.4,1638.6 296.7,1635.1 296.2,1632.4" fill="#78b4ff" stroke-width="1.3"/>
<polygon points="300.2,1630.7 302.2,1628.2 303.1,1625 307.1,1626.2 306,1629.1 304.6,1631.3 301.4,1634.7" fill="#3c58ff" stroke-width="0"/>
<polygon points="304.7,1603.3 306,1601 306.8,1598.2 311,1598.1 312.9,1601.4 314.2,1603 313.6,1605 312.8,1607.6 312.3,1609.9 308.3,1611.4 305.6,1609 304.5,1605.6" fill="#78b4ff" stroke-width="1.3"/>
<polygon points="280.1,1581.4 282.4,1580.7 284.9,1580.5 286.3,1578.6 289.3,1576.6 292.2,1574.9 294.8,1577 293.2,1579.9 291.8,1581 289.4,1583 288.3,1585.3 285,1585.2 282.1,1584" fill="#78d07c" stroke-width="1.3"/>
<polygon points="284.6,1581.7 287.2,1580.1 289.6,1579 292.2,1579 290.4,1581 289.7,1582.6 285.4,1583.5" fill="#78b4ff" stroke-width="0"/>
<polygon points="328.7,1631 331.2,1627.4 332.9,1626.7 333.1,1622.6 337,1623.5 339.6,1621.7 342,1620.8 345.1,1621.6 346.9,1622.1 349.3,1623.5 350.6,1623.2 350.5,1627.5 351.7,1628.4 349.2,1630.5 347.2,1631.6 345.7,1633.4 343.3,1634.2 341.2,1636.2 338.2,1637.3 336.8,1638.4 333.6,1638.8 331.2,1639.4 330.2,1637.4 328.4,1635.6 328.3,1633.5" fill="#78d07c" stroke-width="1.3"/>
<polygon points="332.1,1631 334.5,1627.7 336.8,1625.4 339.3,1624.5 341.8,1623.3 342.9,1623.5 347.2,1625.4 345.5,1627.1 343.7,1628.5 342.2,1630.6 339.9,1631.8 336.8,1633.9 335.2,1632.1" fill="#3c58ff" stroke-width="0"/>
<polygon points="333.5,1631.3 336,1630.1 337,1631.5 334,1632.6" fill="#ffe800" stroke-width="0"/>
<polygon points="316.5,1644 317.5,1641.4 318,1638.8 319.4,1637.6 321.8,1636.5 324.2,1634 324.1,1637.4 324.3,1639.7 324.2,1640.8 322.4,1643.6 322,1644.7 319.8,1646.6 318.2,1648.8 316.4,1646.2" fill="#78b4ff" stroke-width="1.3"/>
<polygon points="375,1658.6 379.1,1656.8 379.5,1656 382.3,1654 384.4,1651.8 384,1649 386.4,1646.7 386.6,1646.5 388.7,1646.1 391.3,1647.9 393.4,1650.2 395.3,1653.5 395.7,1655.1 397.9,1656.9 400.5,1660.1 398.5,1662.2 397.9,1666.9 396.7,1667.8 396,1671.2 394.9,1673.4 391.5,1673.4 392.5,1670.9 392.8,1667.9 392.4,1665.4 390.4,1665.7 388.4,1665.4 385.3,1665 381.8,1664.2 379.1,1663.7 378.5,1662.6 376.4,1660.8" fill="#78d07c" stroke-width="1.3"/>
<polygon points="381.7,1656.7 383.7,1653.4 385.6,1650.8 386,1648.5 387.7,1647.1 389.4,1648.7 390.6,1650.8 392,1653.1 393.6,1656.1 392,1657.6 391.4,1659.7 388.6,1660.1 385.4,1660.7 384,1658.3" fill="#78b4ff" stroke-width="0"/>
<polygon points="383.9,1655.4 387.2,1653.8 389.4,1653.1 391.8,1652.2 392.7,1656.4 390.7,1657.8 389.1,1659.1 386.8,1658.7 383.9,1658.4" fill="#ff8a00" stroke-width="1.7"/>
<polygon points="384.3,1656.9 386.9,1655.9 388,1657.9 385.4,1658.5" fill="#ffe800" stroke-width="0"/>
<polygon points="402.4,1662 402.1,1658.3 403.6,1658.3 406.4,1655.4 406.5,1652.9 408.9,1649.7 408.1,1650.4 409.4,1647.8 412.3,1647.6 415.4,1644.8 416,1645.1 419.9,1644.6 422.4,1642.8 424,1645.9 426.2,1644.5 428.2,1647.6 432.8,1646.6 431.3,1649.2 433.3,1653.6 433.7,1656.2 431.7,1655.8 431.3,1658 429.5,1660.7 426,1663.7 425.7,1666.4 424.5,1667.8 424.3,1667.8 422.8,1670.7 422.1,1673.1 420.4,1672 415.8,1673.6 414.3,1671.7 413.9,1669.7 411.4,1668.7 408,1667.9 405.7,1668.6 405.3,1665.2 404.7,1662.8" fill="#78d07c" stroke-width="1.3"/>
<polygon points="404.5,1660.7 406.9,1658.4 407.4,1655.9 408.2,1654 410.9,1652.1 412.3,1650.7 413.9,1649.2 416.1,1648.8 418.1,1647.4 420.9,1647 422.9,1650.3 422.8,1652.8 422.6,1654.8 420.8,1658.6 421.8,1660.9 419.3,1661.3 417.2,1663.7 415.1,1665.6 413,1665.3 409.7,1664.4 409.8,1663.7 406.4,1661.9" fill="#78b4ff" stroke-width="0"/>
<polygon points="407.7,1659.1 408.6,1657.2 410.7,1654.7 411.9,1652.7 414,1651 416.9,1649.4 417.1,1652.2 419.1,1655.3 417,1657.5 415.9,1659.1 414.9,1660.8 412.6,1661.9 410.9,1663" fill="#3c58ff" stroke-width="0"/>
<polygon points="421.4,1653.2 424.3,1650.5 425.1,1653.3 426,1656 424.9,1658.3 422.8,1660.7 422,1658.2 421.4,1655.9" fill="#b0c8ff" stroke-width="0"/>
<polygon points="438.1,1659.2 438.3,1657.6 440.6,1655.5 442.8,1654.2 444.1,1652.4 444.9,1649.7 444.9,1647.3 444.4,1643.4 450,1642.7 449.4,1646.1 451,1647.7 451.6,1650.2 450,1653.1 451.3,1655.6 452.1,1658.6 453.8,1659.7 455.7,1661 456.7,1663.8 458.5,1664.3 460.5,1666.1 463.3,1665.5 468,1665.7 469.5,1664.7 471.7,1664.9 474.8,1665.2 476,1665.4 479.6,1666.9 480.8,1666.3 483,1667.1 486,1666.3 485,1670.2 482.9,1670.3 480.4,1668.9 477.8,1670.8 476.6,1668.8 473.8,1670.2 471.2,1670.7 468.3,1670 467,1669.5 465.3,1670.7 460.5,1671.6 457.6,1671.7 456.8,1671.2 452.1,1669.3 451.4,1670.8 447.8,1670.1 446.8,1667.2 444.7,1666 441.3,1664.5 439,1663.1 437.3,1662.2" fill="#78d07c" stroke-width="1.3"/>
<polygon points="442.8,1662 444.3,1660.2 445.9,1657.7 447.8,1659.8 449.2,1661.4 450.9,1664.6 451.9,1667.7 449.5,1667.8 446.8,1667.7 446,1665.6 445,1664.4" fill="#78b4ff" stroke-width="0"/>
<polygon points="422.3,1682.4 423.2,1680.7 425.3,1678.5 426.3,1676.9 428.1,1675 430.3,1674.5 433.1,1673.8 434.7,1676.3 433.2,1679 431.3,1682.1 430,1682.9 427.5,1684.8 426.2,1685.7 423,1685.6" fill="#78d07c" stroke-width="1.3"/>
<polygon points="473.3,1692.6 473.9,1688.3 475,1686.4 475.8,1683.6 478.1,1682.5 479.2,1679.8 482.8,1678.8 484.2,1676.5 486.8,1675.8 485.9,1676.8 485.8,1678.8 485.3,1682.7 485.2,1683.7 485.7,1687.6 485.4,1688.7 486.3,1690.2 486.4,1692.5 485.9,1695.3 487.4,1697.8 486,1699.8 486.1,1701.7 483,1702.2 480.1,1700.5 476.7,1700.4 474.5,1697.9 474.8,1697.1 473.3,1692.9" fill="#78d07c" stroke-width="1.3"/>
<polygon points="476.1,1692.6 476.6,1690 479.3,1688.2 479.9,1686.8 483,1686.4 486.7,1688.2 486.8,1689.2 485.8,1691.8 486.7,1695.1 486,1697 486.7,1698.4 484,1698.5 480.2,1698.8 478.9,1696.5 476.6,1694.5" fill="#78b4ff" stroke-width="0"/>
<polygon points="469.8,1710.9 472.2,1708.7 473.8,1707 476.7,1708.1 475.5,1710.1 475.5,1712.8 471.1,1714.7" fill="#78d07c" stroke-width="1.3"/>
<polygon points="470.1,1721.4 471.3,1718.5 473.2,1716.5 476.2,1716.8 479.4,1717.9 478.9,1719.7 477.9,1722.4 474.9,1723.8 472.1,1725.1" fill="#78b4ff" stroke-width="1.3"/>
<polygon points="465.2,1730.5 467,1727.6 467.8,1724.5 472.5,1725.9 471.4,1728 471.1,1730.5 467.9,1730" fill="#3c58ff" stroke-width="1.3"/>
<polygon points="343,1682.3 344.4,1680.3 345.2,1678.2 346.3,1676 347.7,1674.5 350.2,1677 349.6,1678.6 349.9,1680.8 349.6,1683.9 348,1686.4 347.6,1689.4 346.5,1691.5 346,1694.1 345.1,1696.9 343.7,1700.1 342.8,1701.6 341.4,1704.6 339.9,1706.3 340.4,1704.2 340.3,1701.5 340.2,1699.5 340.6,1697.3 341,1694.6 341.8,1692 343.2,1688.7 342.6,1686.3 343,1684.9" fill="#3c58ff" stroke-width="1.3"/>
<polygon points="345.1,1680.4 345.8,1678.8 347.5,1676.7 349.5,1679 348.1,1681.5 347.5,1683.5 345.3,1684.6" fill="#78b4ff" stroke-width="0"/>
<polygon points="353.7,1677.8 355.3,1675.1 356.1,1672.2 358.2,1674.4 358.4,1676.2 357.9,1679 357.6,1681.1 355.2,1681.9" fill="#78d07c" stroke-width="1.3"/>
<polygon points="358.4,1657.7 359.7,1654.8 360.7,1651.2 363.6,1652.1 364.3,1654.5 364.3,1656.4 364.7,1658.6 364,1662 362.6,1663.5 359.2,1662.5 358.5,1660.4" fill="#78b4ff" stroke-width="1.3"/>
<polygon points="354.2,1687.4 356.7,1685.3 358.8,1688.2 355.9,1689.6" fill="#78d07c" stroke-width="1.3"/>
<polygon points="67.9,1481.8 71,1482.7 73.7,1483.3 75.8,1483.9 78.2,1485 81.1,1486 82.9,1487.1 83.8,1489.6 85.3,1490.6 87.9,1491.3 91.7,1491.5 93.5,1491.4 94.3,1493.2 93.9,1495.8 94,1498.3 93.4,1499.2 91.4,1501.1 90.6,1503.6 87.3,1502.8 84.7,1503.3 82.8,1503.2 81.9,1499.9 83.1,1498.5 86.2,1497.8 88.4,1495.8 86.6,1493.6 83.4,1492.7 80,1491 77.3,1490.9 76.1,1489.2 73.9,1488.7 70.2,1486 70.4,1484.4" fill="#78d07c" stroke-width="1.3"/>
<polygon points="78,1487.1 81.7,1486.4 84.2,1490.1 80.4,1490.7 78.7,1489" fill="#78b4ff" stroke-width="0"/>
<polygon points="90.1,1535 92.5,1532.6 94,1531.5 97.3,1530.2 98.8,1528.7 100.2,1527.7 102.5,1527 105.6,1525.7 106.8,1525.4 110.3,1523.6 111.7,1522.9 113.6,1521.3 115.8,1523.4 116.6,1526.1 118.4,1527.5 120,1531.9 118.2,1531.8 114.6,1531 112.2,1529.5 109.9,1530.9 107,1532.4 105.4,1534.7 102.2,1535.6 101.2,1537.7 98.8,1539.6 96.3,1536.9 94.8,1536.8 91,1537.7" fill="#78d07c" stroke-width="1.3"/>
<polygon points="92.9,1534.2 95.2,1532.8 98.7,1530.6 101.1,1530.3 103.6,1529 105.7,1527.5 107.2,1527.4 109.4,1526.3 112.3,1525.4 113.9,1524.5 112.7,1528.1 110.8,1527.8 108.8,1529.3 106.5,1530.3 104.3,1532.3 102.9,1532.6 100.9,1534.3 96.6,1536" fill="#78b4ff" stroke-width="0"/>
<polygon points="103.5,1529.1 106.4,1527.4 108.7,1526 112.7,1525.6 110.3,1526.8 108.5,1528.6 105.2,1530.3" fill="#3c58ff" stroke-width="0"/>
<polygon points="135.5,1515.3 137.2,1513.6 139,1511.6 142.1,1514.7 141.4,1517 141.8,1519 137.6,1518.1" fill="#c9c9c9" stroke-width="1.3"/>
<polygon points="146.7,1548.4 147.1,1545.6 147.5,1543.2 148.4,1540.8 150.7,1539.7 152.2,1538.3 151.9,1541.4 151.4,1544 149.9,1545.7 149.1,1548.5 150.3,1551.2 150.9,1554.9 148.1,1555.7 147.4,1552.7 146.6,1549.7" fill="#78d07c" stroke-width="1.3"/>
<polygon points="100.9,1604.1 100.8,1602.2 102.3,1601.1 102,1597.7 103.7,1596.1 104,1594.6 105.6,1591.2 107.9,1589.9 108.1,1587.8 110.5,1589.3 109.3,1592.2 108.9,1595 106.9,1598.5 108.7,1599.6 110.6,1601.8 111.8,1604.6 113.7,1604.1 117.4,1601.2 119.1,1604.9 120.3,1607.8 118.9,1609.5 118.6,1612.6 119.5,1614.6 118.7,1617.6 115.7,1616.1 112.6,1616.3 110.4,1613.3 109.5,1611.4 106.4,1610.5 104.4,1608.6 102.1,1607" fill="#78d07c" stroke-width="1.3"/>
<polygon points="102.4,1603.1 103.1,1600.8 103.9,1598 104.4,1595.3 106.2,1593.6 107.5,1590.9 107.9,1593.1 107.2,1596.1 106.7,1598.2 107.8,1600.3 108.2,1602.9 109.5,1605.1 106.4,1606.6 104.6,1605.1" fill="#78b4ff" stroke-width="0"/>
<polygon points="240.6,1663.4 243.2,1662.1 245.9,1660.5 248.3,1662 249.5,1663.2 250.3,1666.1 250.5,1668.3 248.3,1669.5 245.4,1669.7 243.5,1667.7 242.4,1665.2" fill="#78d07c" stroke-width="1.3"/>
<polygon points="243.9,1664.4 247.9,1663.4 248.3,1667.1 245.5,1667.4" fill="#78b4ff" stroke-width="0"/>
<polygon points="155.5,1572.6 158.6,1569.6 160.3,1571.2 159.2,1575.1 156.5,1575.3" fill="#78d07c" stroke-width="1.3"/>
<polygon points="162.5,1586.1 164.3,1584.5 165.7,1582.2 167.1,1584.9 168.1,1587.2 164.3,1588.3" fill="#cfcfcf" stroke-width="1.3"/>
<polygon points="154.8,1285.1 155.6,1282.9 156.2,1279.9 156.7,1277.1 159.3,1275.3 160.2,1274.4 163.6,1272.1 165.7,1270.8 168.5,1272.8 166.1,1273.8 164.3,1275.9 163.4,1277 161.4,1279.2 159.2,1280.8 157.9,1282.1 157.1,1285" fill="#78d07c" stroke-width="1.3"/>
<polygon points="135.7,1516.7 137.1,1514.1 139,1512.7 142.5,1515.3 141.2,1517 140.8,1520.4 137.3,1521 136.1,1518.6" fill="#78d07c" stroke-width="1.3"/>
<polygon points="102.7,1525.2 105.8,1524.3 106.8,1524.1 110.3,1523.7 112.8,1522.3 114.1,1520.4 116.4,1523.4 118.2,1525.1 119.2,1527.7 117.4,1529.1 114.9,1531.5 113.4,1531.8 110.8,1531.2 108.4,1531.8 105.4,1531.6 102.6,1530.9 103.5,1528.6" fill="#78d07c" stroke-width="1.3"/>
<polygon points="105.9,1527.5 108.5,1525.2 110.8,1524.3 113.5,1525.4 115.3,1525.1 115,1528.2 113.4,1529.8 110.4,1529.9 107.6,1530.6" fill="#78b4ff" stroke-width="0"/>
</g>
<g fill="#111"><ellipse cx="133.9" cy="1371.2" rx="1.2" ry="0.8" transform="rotate(162 133.9 1371.2)"/><ellipse cx="127.1" cy="1394.2" rx="1.8" ry="0.9" transform="rotate(81 127.1 1394.2)"/><ellipse cx="132.5" cy="1398.3" rx="1.8" ry="0.6" transform="rotate(165 132.5 1398.3)"/><ellipse cx="144.7" cy="1410.5" rx="0.9" ry="0.8" transform="rotate(138 144.7 1410.5)"/><ellipse cx="155.6" cy="1409.1" rx="0.9" ry="0.9" transform="rotate(113 155.6 1409.1)"/><ellipse cx="126.4" cy="1405" rx="1.1" ry="0.9" transform="rotate(124 126.4 1405)"/><ellipse cx="170.5" cy="1426.7" rx="1" ry="0.7" transform="rotate(71 170.5 1426.7)"/><ellipse cx="201" cy="1428.1" rx="1.4" ry="0.9" transform="rotate(169 201 1428.1)"/><ellipse cx="184" cy="1354.9" rx="1.6" ry="1" transform="rotate(144 184 1354.9)"/><ellipse cx="223.3" cy="1329.8" rx="1.3" ry="0.8" transform="rotate(72 223.3 1329.8)"/><ellipse cx="227.4" cy="1329.2" rx="1.7" ry="0.6" transform="rotate(11 227.4 1329.2)"/><ellipse cx="219.3" cy="1340" rx="1.7" ry="0.8" transform="rotate(66 219.3 1340)"/><ellipse cx="203" cy="1401" rx="0.8" ry="0.7" transform="rotate(163 203 1401)"/><ellipse cx="166.4" cy="1405" rx="1.4" ry="1" transform="rotate(80 166.4 1405)"/><ellipse cx="271" cy="1352.9" rx="1.6" ry="0.7" transform="rotate(161 271 1352.9)"/><ellipse cx="274.8" cy="1466.7" rx="0.8" ry="0.8" transform="rotate(178 274.8 1466.7)"/><ellipse cx="270.1" cy="1481.6" rx="0.8" ry="0.7" transform="rotate(62 270.1 1481.6)"/><ellipse cx="226.7" cy="1483.6" rx="1.8" ry="0.8" transform="rotate(178 226.7 1483.6)"/><ellipse cx="194.9" cy="1488.4" rx="1.5" ry="0.6" transform="rotate(179 194.9 1488.4)"/><ellipse cx="159.6" cy="1483.6" rx="1" ry="0.7" transform="rotate(108 159.6 1483.6)"/><ellipse cx="173.2" cy="1491.8" rx="1" ry="0.8" transform="rotate(129 173.2 1491.8)"/><ellipse cx="154.2" cy="1512.8" rx="1.1" ry="0.8" transform="rotate(1 154.2 1512.8)"/><ellipse cx="136.6" cy="1529.7" rx="0.9" ry="0.8" transform="rotate(20 136.6 1529.7)"/><ellipse cx="173.2" cy="1529.7" rx="1.7" ry="0.7" transform="rotate(14 173.2 1529.7)"/><ellipse cx="184" cy="1529.7" rx="0.9" ry="1" transform="rotate(66 184 1529.7)"/><ellipse cx="257.5" cy="1545" rx="0.9" ry="0.8" transform="rotate(34 257.5 1545)"/><ellipse cx="273.7" cy="1542.3" rx="1.7" ry="0.8" transform="rotate(164 273.7 1542.3)"/><ellipse cx="289.3" cy="1553.2" rx="0.9" ry="1.1" transform="rotate(104 289.3 1553.2)"/><ellipse cx="256.8" cy="1560" rx="1" ry="1" transform="rotate(135 256.8 1560)"/><ellipse cx="270.3" cy="1565.4" rx="1.3" ry="0.7" transform="rotate(28 270.3 1565.4)"/><ellipse cx="300.1" cy="1566.7" rx="1.1" ry="0.9" transform="rotate(102 300.1 1566.7)"/><ellipse cx="308.3" cy="1560" rx="0.8" ry="0.7" transform="rotate(45 308.3 1560)"/><ellipse cx="320.5" cy="1564" rx="1.2" ry="0.9" transform="rotate(141 320.5 1564)"/><ellipse cx="297.4" cy="1587.1" rx="1.1" ry="0.7" transform="rotate(118 297.4 1587.1)"/><ellipse cx="298.8" cy="1595.2" rx="1.6" ry="1" transform="rotate(73 298.8 1595.2)"/><ellipse cx="317.8" cy="1592.5" rx="1.4" ry="0.7" transform="rotate(82 317.8 1592.5)"/><ellipse cx="351" cy="1586.4" rx="1.4" ry="1" transform="rotate(170 351 1586.4)"/><ellipse cx="339.4" cy="1587.1" rx="1.4" ry="1" transform="rotate(66 339.4 1587.1)"/><ellipse cx="276.4" cy="1592.5" rx="1.6" ry="0.7" transform="rotate(95 276.4 1592.5)"/><ellipse cx="294.7" cy="1612.8" rx="1.1" ry="0.9" transform="rotate(141 294.7 1612.8)"/><ellipse cx="305.6" cy="1612.8" rx="1.2" ry="1" transform="rotate(25 305.6 1612.8)"/><ellipse cx="256.8" cy="1633.1" rx="1" ry="0.9" transform="rotate(5 256.8 1633.1)"/><ellipse cx="336.7" cy="1641.3" rx="1.5" ry="0.9" transform="rotate(118 336.7 1641.3)"/><ellipse cx="343.5" cy="1635.8" rx="1.4" ry="0.7" transform="rotate(129 343.5 1635.8)"/><ellipse cx="401.8" cy="1544.4" rx="1.1" ry="0.6" transform="rotate(97 401.8 1544.4)"/><ellipse cx="401.8" cy="1574.9" rx="1.8" ry="0.8" transform="rotate(91 401.8 1574.9)"/><ellipse cx="450.6" cy="1545" rx="1.4" ry="0.6" transform="rotate(136 450.6 1545)"/><ellipse cx="484.4" cy="1570.1" rx="1.8" ry="0.9" transform="rotate(98 484.4 1570.1)"/><ellipse cx="472.3" cy="1558.6" rx="1.7" ry="0.9" transform="rotate(53 472.3 1558.6)"/><ellipse cx="480.4" cy="1560" rx="1.6" ry="0.9" transform="rotate(167 480.4 1560)"/><ellipse cx="474.3" cy="1610.1" rx="1.3" ry="0.8" transform="rotate(84 474.3 1610.1)"/><ellipse cx="453.3" cy="1606" rx="0.9" ry="1.1" transform="rotate(153 453.3 1606)"/><ellipse cx="460.1" cy="1606" rx="1.2" ry="0.9" transform="rotate(61 460.1 1606)"/><ellipse cx="377.4" cy="1560" rx="1.4" ry="0.6" transform="rotate(55 377.4 1560)"/><ellipse cx="380.1" cy="1576.2" rx="0.9" ry="1" transform="rotate(156 380.1 1576.2)"/><ellipse cx="377.4" cy="1595.2" rx="1.6" ry="1" transform="rotate(154 377.4 1595.2)"/><ellipse cx="254.1" cy="1546.6" rx="1.4" ry="0.6" transform="rotate(33 254.1 1546.6)"/><ellipse cx="289.3" cy="1553.4" rx="1.6" ry="0.7" transform="rotate(134 289.3 1553.4)"/><ellipse cx="299.5" cy="1567.6" rx="0.9" ry="0.9" transform="rotate(79 299.5 1567.6)"/><ellipse cx="309" cy="1565.6" rx="0.9" ry="0.9" transform="rotate(125 309 1565.6)"/><ellipse cx="320.5" cy="1564.2" rx="1" ry="1.1" transform="rotate(158 320.5 1564.2)"/><ellipse cx="332.7" cy="1566.9" rx="0.8" ry="0.6" transform="rotate(49 332.7 1566.9)"/><ellipse cx="295.4" cy="1585.9" rx="1" ry="1" transform="rotate(136 295.4 1585.9)"/><ellipse cx="299.5" cy="1594.7" rx="0.9" ry="1" transform="rotate(78 299.5 1594.7)"/><ellipse cx="318.4" cy="1656.4" rx="0.9" ry="0.6" transform="rotate(58 318.4 1656.4)"/><ellipse cx="339.4" cy="1640.1" rx="1.3" ry="0.8" transform="rotate(54 339.4 1640.1)"/><ellipse cx="370.6" cy="1654.3" rx="0.9" ry="0.6" transform="rotate(104 370.6 1654.3)"/><ellipse cx="388.2" cy="1640.1" rx="1.2" ry="1" transform="rotate(159 388.2 1640.1)"/><ellipse cx="328.6" cy="1697" rx="1.4" ry="1" transform="rotate(160 328.6 1697)"/><ellipse cx="294.7" cy="1719.4" rx="1" ry="0.9" transform="rotate(39 294.7 1719.4)"/><ellipse cx="367.9" cy="1696.3" rx="1.8" ry="0.7" transform="rotate(177 367.9 1696.3)"/><ellipse cx="361.8" cy="1708.5" rx="1.1" ry="0.8" transform="rotate(114 361.8 1708.5)"/><ellipse cx="264.9" cy="1682.8" rx="1.8" ry="0.8" transform="rotate(50 264.9 1682.8)"/><ellipse cx="403.1" cy="1632" rx="0.9" ry="1" transform="rotate(83 403.1 1632)"/><ellipse cx="441.1" cy="1643.5" rx="1.6" ry="0.7" transform="rotate(15 441.1 1643.5)"/><ellipse cx="462.8" cy="1661.8" rx="0.8" ry="0.8" transform="rotate(42 462.8 1661.8)"/><ellipse cx="68.3" cy="1547.8" rx="1.2" ry="0.8" transform="rotate(171 68.3 1547.8)"/><ellipse cx="79.1" cy="1544.4" rx="1" ry="1" transform="rotate(133 79.1 1544.4)"/><ellipse cx="109.6" cy="1570.8" rx="1.7" ry="0.6" transform="rotate(173 109.6 1570.8)"/><ellipse cx="145.5" cy="1580.3" rx="1.6" ry="1" transform="rotate(140 145.5 1580.3)"/><ellipse cx="149.6" cy="1578.2" rx="0.9" ry="0.9" transform="rotate(104 149.6 1578.2)"/><ellipse cx="164.5" cy="1575.5" rx="1.3" ry="1" transform="rotate(104 164.5 1575.5)"/><ellipse cx="184.8" cy="1590.4" rx="1.2" ry="0.9" transform="rotate(32 184.8 1590.4)"/><ellipse cx="217.3" cy="1566" rx="1.8" ry="1" transform="rotate(161 217.3 1566)"/><ellipse cx="220.1" cy="1564" rx="1.2" ry="0.9" transform="rotate(47 220.1 1564)"/><ellipse cx="194.3" cy="1488.1" rx="0.9" ry="0.8" transform="rotate(82 194.3 1488.1)"/><ellipse cx="174" cy="1491.5" rx="1.2" ry="1" transform="rotate(167 174 1491.5)"/><ellipse cx="159.1" cy="1483.4" rx="1.3" ry="1.1" transform="rotate(160 159.1 1483.4)"/><ellipse cx="226.8" cy="1484.1" rx="0.8" ry="0.9" transform="rotate(175 226.8 1484.1)"/><ellipse cx="226.8" cy="1541.7" rx="1.1" ry="0.8" transform="rotate(171 226.8 1541.7)"/><ellipse cx="206.5" cy="1575.5" rx="1.7" ry="0.9" transform="rotate(27 206.5 1575.5)"/><ellipse cx="239" cy="1631.8" rx="1.4" ry="1" transform="rotate(106 239 1631.8)"/><ellipse cx="148.2" cy="1602" rx="1.3" ry="0.8" transform="rotate(92 148.2 1602)"/><ellipse cx="136.7" cy="1530.1" rx="1.8" ry="0.9" transform="rotate(60 136.7 1530.1)"/><ellipse cx="130.6" cy="1527.4" rx="0.9" ry="0.9" transform="rotate(88 130.6 1527.4)"/><ellipse cx="129.3" cy="1365.4" rx="1.3" ry="0.7" transform="rotate(7 129.3 1365.4)"/><ellipse cx="134" cy="1372.2" rx="1" ry="0.7" transform="rotate(70 134 1372.2)"/><ellipse cx="129.9" cy="1383.7" rx="0.9" ry="0.7" transform="rotate(78 129.9 1383.7)"/><ellipse cx="126.5" cy="1394.6" rx="0.9" ry="1" transform="rotate(129 126.5 1394.6)"/><ellipse cx="133.3" cy="1398.6" rx="1" ry="1" transform="rotate(74 133.3 1398.6)"/><ellipse cx="144.8" cy="1410.8" rx="1.2" ry="0.6" transform="rotate(67 144.8 1410.8)"/><ellipse cx="170.6" cy="1426.4" rx="1.7" ry="0.8" transform="rotate(32 170.6 1426.4)"/><ellipse cx="201.1" cy="1427.1" rx="1.4" ry="0.6" transform="rotate(78 201.1 1427.1)"/><ellipse cx="225.5" cy="1330.9" rx="1.7" ry="0.9" transform="rotate(27 225.5 1330.9)"/><ellipse cx="219.4" cy="1339.7" rx="1.7" ry="0.7" transform="rotate(57 219.4 1339.7)"/><ellipse cx="345.8" cy="1560.7" rx="2.1" ry="0.7" transform="rotate(43 345.8 1560.7)"/><ellipse cx="280.6" cy="1586.4" rx="1.8" ry="0.9" transform="rotate(26 280.6 1586.4)"/><ellipse cx="176.6" cy="1604.6" rx="2.1" ry="0.7" transform="rotate(91 176.6 1604.6)"/><ellipse cx="153.5" cy="1601.4" rx="2.1" ry="1.5" transform="rotate(96 153.5 1601.4)" fill="#78d07c" stroke="#111" stroke-width="1"/><ellipse cx="318.3" cy="1612.5" rx="1.7" ry="0.7" transform="rotate(107 318.3 1612.5)"/><ellipse cx="321" cy="1550.4" rx="0.9" ry="0.9" transform="rotate(59 321 1550.4)"/><ellipse cx="377.6" cy="1601.9" rx="1.2" ry="1" transform="rotate(175 377.6 1601.9)"/><ellipse cx="273" cy="1605.9" rx="1.4" ry="0.9" transform="rotate(138 273 1605.9)"/><ellipse cx="196.9" cy="1582.9" rx="2" ry="1.9" transform="rotate(72 196.9 1582.9)" fill="#78d07c" stroke="#111" stroke-width="1"/><ellipse cx="331.4" cy="1599.8" rx="1.2" ry="0.9" transform="rotate(77 331.4 1599.8)"/><ellipse cx="262" cy="1589.9" rx="1.8" ry="0.7" transform="rotate(148 262 1589.9)"/><ellipse cx="225.3" cy="1604.7" rx="1.8" ry="1.9" transform="rotate(74 225.3 1604.7)" fill="#78d07c" stroke="#111" stroke-width="1"/><ellipse cx="319.3" cy="1553" rx="1.5" ry="1.1" transform="rotate(119 319.3 1553)"/><ellipse cx="194.6" cy="1550.3" rx="2.1" ry="1.5" transform="rotate(150 194.6 1550.3)" fill="#78d07c" stroke="#111" stroke-width="1"/><ellipse cx="311" cy="1600.6" rx="1.7" ry="1" transform="rotate(174 311 1600.6)"/><ellipse cx="266.7" cy="1585.2" rx="1.6" ry="0.8" transform="rotate(159 266.7 1585.2)"/><ellipse cx="159.5" cy="1549.7" rx="1.5" ry="0.7" transform="rotate(14 159.5 1549.7)"/><ellipse cx="273.8" cy="1605" rx="2.2" ry="1" transform="rotate(72 273.8 1605)"/><ellipse cx="153.3" cy="1578.5" rx="1.1" ry="0.8" transform="rotate(56 153.3 1578.5)"/><ellipse cx="325.6" cy="1592.7" rx="2" ry="1" transform="rotate(177 325.6 1592.7)"/><ellipse cx="366.4" cy="1607.3" rx="3.3" ry="1.6" transform="rotate(118 366.4 1607.3)" fill="#78d07c" stroke="#111" stroke-width="1"/><ellipse cx="227.1" cy="1601.7" rx="2.3" ry="1" transform="rotate(8 227.1 1601.7)"/><ellipse cx="312.8" cy="1536.5" rx="2" ry="1" transform="rotate(3 312.8 1536.5)"/><ellipse cx="352.3" cy="1555.7" rx="2.4" ry="0.6" transform="rotate(28 352.3 1555.7)"/><ellipse cx="298.5" cy="1617.3" rx="1.9" ry="0.6" transform="rotate(15 298.5 1617.3)"/><ellipse cx="297.4" cy="1607.8" rx="2" ry="0.7" transform="rotate(8 297.4 1607.8)"/><ellipse cx="394.9" cy="1607.9" rx="0.8" ry="0.6" transform="rotate(13 394.9 1607.9)"/><ellipse cx="348" cy="1604.9" rx="1.8" ry="1.1" transform="rotate(168 348 1604.9)"/><ellipse cx="310.5" cy="1537.6" rx="2.4" ry="0.8" transform="rotate(99 310.5 1537.6)"/><ellipse cx="178.2" cy="1574.7" rx="2" ry="0.8" transform="rotate(97 178.2 1574.7)"/><ellipse cx="181.3" cy="1583.3" rx="1.4" ry="1" transform="rotate(169 181.3 1583.3)"/><ellipse cx="182.8" cy="1594" rx="1.8" ry="1.2" transform="rotate(38 182.8 1594)"/><ellipse cx="310.5" cy="1561.9" rx="1.1" ry="0.9" transform="rotate(115 310.5 1561.9)"/><ellipse cx="187.6" cy="1563.3" rx="1.1" ry="1" transform="rotate(40 187.6 1563.3)"/><ellipse cx="272.2" cy="1571.6" rx="1.2" ry="1.2" transform="rotate(54 272.2 1571.6)"/><ellipse cx="314.1" cy="1556.5" rx="0.8" ry="0.8" transform="rotate(31 314.1 1556.5)"/><ellipse cx="270.7" cy="1586.9" rx="2.2" ry="1.1" transform="rotate(124 270.7 1586.9)"/><ellipse cx="347.3" cy="1580.1" rx="2.3" ry="1.1" transform="rotate(85 347.3 1580.1)"/><ellipse cx="364.2" cy="1570" rx="0.8" ry="1" transform="rotate(135 364.2 1570)"/><ellipse cx="248.4" cy="1609.7" rx="0.8" ry="0.6" transform="rotate(122 248.4 1609.7)"/><ellipse cx="291.4" cy="1608.8" rx="1" ry="0.9" transform="rotate(63 291.4 1608.8)"/><ellipse cx="174.7" cy="1575.7" rx="1.4" ry="0.7" transform="rotate(52 174.7 1575.7)"/><ellipse cx="309.4" cy="1702.5" rx="1.5" ry="0.6" transform="rotate(31 309.4 1702.5)"/><ellipse cx="368.3" cy="1662.1" rx="1.8" ry="0.6" transform="rotate(36 368.3 1662.1)"/><ellipse cx="362" cy="1682.4" rx="0.8" ry="0.6" transform="rotate(76 362 1682.4)"/><ellipse cx="362.9" cy="1644.8" rx="2.2" ry="0.9" transform="rotate(96 362.9 1644.8)"/><ellipse cx="385.5" cy="1712.1" rx="1.9" ry="0.9" transform="rotate(5 385.5 1712.1)"/><ellipse cx="288.2" cy="1707" rx="2.2" ry="2" transform="rotate(142 288.2 1707)" fill="#78d07c" stroke="#111" stroke-width="1"/><ellipse cx="371.1" cy="1654.7" rx="2.9" ry="2" transform="rotate(81 371.1 1654.7)" fill="#78b4ff" stroke="#111" stroke-width="1"/><ellipse cx="354" cy="1656.7" rx="2.5" ry="1.6" transform="rotate(73 354 1656.7)" fill="#78b4ff" stroke="#111" stroke-width="1"/><ellipse cx="304.2" cy="1704.5" rx="1.3" ry="0.8" transform="rotate(91 304.2 1704.5)"/><ellipse cx="334.8" cy="1648.9" rx="0.8" ry="0.6" transform="rotate(162 334.8 1648.9)"/><ellipse cx="308" cy="1722.6" rx="0.8" ry="1.1" transform="rotate(148 308 1722.6)"/><ellipse cx="419.4" cy="1689.7" rx="2.8" ry="1.8" transform="rotate(76 419.4 1689.7)" fill="#cfcfcf" stroke="#111" stroke-width="1"/><ellipse cx="304.6" cy="1699.7" rx="1.3" ry="1" transform="rotate(21 304.6 1699.7)"/><ellipse cx="470.1" cy="1668" rx="2.1" ry="1.9" transform="rotate(73 470.1 1668)" fill="#78d07c" stroke="#111" stroke-width="1"/><ellipse cx="475.8" cy="1722.1" rx="1.7" ry="0.9" transform="rotate(88 475.8 1722.1)"/><ellipse cx="348.1" cy="1715.3" rx="2.8" ry="1.9" transform="rotate(98 348.1 1715.3)" fill="#cfcfcf" stroke="#111" stroke-width="1"/><ellipse cx="357.1" cy="1712.2" rx="2.1" ry="1.7" transform="rotate(18 357.1 1712.2)" fill="#cfcfcf" stroke="#111" stroke-width="1"/><ellipse cx="464.2" cy="1626.3" rx="3.3" ry="1.7" transform="rotate(125 464.2 1626.3)" fill="#cfcfcf" stroke="#111" stroke-width="1"/><ellipse cx="312.5" cy="1638.5" rx="1.3" ry="1" transform="rotate(45 312.5 1638.5)"/><ellipse cx="459.2" cy="1698.2" rx="2.1" ry="1.9" transform="rotate(154 459.2 1698.2)" fill="#78d07c" stroke="#111" stroke-width="1"/><ellipse cx="433.6" cy="1692.9" rx="2.1" ry="1.6" transform="rotate(115 433.6 1692.9)" fill="#cfcfcf" stroke="#111" stroke-width="1"/><ellipse cx="438.4" cy="1707.6" rx="1.1" ry="1" transform="rotate(165 438.4 1707.6)"/><ellipse cx="376.1" cy="1690.4" rx="1.9" ry="0.6" transform="rotate(18 376.1 1690.4)"/><ellipse cx="275.5" cy="1644.4" rx="1.9" ry="0.9" transform="rotate(23 275.5 1644.4)"/><ellipse cx="438.1" cy="1693.6" rx="1.6" ry="1.1" transform="rotate(108 438.1 1693.6)"/><ellipse cx="338.2" cy="1658.3" rx="1.1" ry="1" transform="rotate(4 338.2 1658.3)"/><ellipse cx="349" cy="1624.2" rx="2.2" ry="1.1" transform="rotate(27 349 1624.2)"/><ellipse cx="462.4" cy="1677.9" rx="1" ry="1.2" transform="rotate(134 462.4 1677.9)"/><ellipse cx="282" cy="1620.9" rx="0.8" ry="1.1" transform="rotate(11 282 1620.9)"/><ellipse cx="312.2" cy="1646.7" rx="1.2" ry="1.1" transform="rotate(164 312.2 1646.7)"/><ellipse cx="345" cy="1665" rx="1.4" ry="1" transform="rotate(72 345 1665)"/><ellipse cx="480.5" cy="1626.9" rx="1.6" ry="1.1" transform="rotate(55 480.5 1626.9)"/><ellipse cx="440.3" cy="1624" rx="2.1" ry="1.7" transform="rotate(137 440.3 1624)" fill="#78d07c" stroke="#111" stroke-width="1"/><ellipse cx="315.8" cy="1649.2" rx="1.3" ry="0.8" transform="rotate(121 315.8 1649.2)"/></g>
</g>
</g>
<path d="M50.4 1222.7V1730.4M129.1 1222.7V1730.4M207.8 1222.7V1730.4M286.6 1222.7V1730.4M365.3 1222.7V1730.4M444 1222.7V1730.4M12.8 1279.4H486.8M12.8 1363.9H486.8M12.8 1448.5H486.8M12.8 1533H486.8M12.8 1617.6H486.8M12.8 1702.2H486.8" fill="none" stroke="#111" stroke-width="1.15" stroke-dasharray="2.9 5.4"/>
<path d="M12.8 1294.7Q249.8 1465.3 486.8 1654.8M12.8 1407.6Q223.7 1561.7 434.6 1729.3" fill="none" stroke="#111" stroke-width="1" stroke-dasharray="12.2 11.45"/>
<g font-size="12" text-anchor="middle">
<text x="50.1" y="1469.8">-130</text>
<text x="128.8" y="1469.8">-128</text>
<text x="207.5" y="1469.8">-126</text>
<text x="286.3" y="1469.8">-124</text>
<text x="365" y="1469.8">-122</text>
<text x="443.7" y="1469.8">-120</text>
</g><g font-size="12" text-anchor="end">
<text x="273.7" y="1279.3">16</text>
<text x="273.7" y="1363.8">14</text>
<text x="273.7" y="1448.4">12</text>
<text x="273.7" y="1532.9">10</text>
<text x="273.7" y="1617.5">8</text>
<text x="273.7" y="1702.1">6</text>
</g>
<path d="M243.2 1476.2h12.4M249.4 1470v12.4" stroke="#000" stroke-width="4.2"/>
<text x="37" y="1247.4" font-size="25">VIRS T<tspan font-size="15" dy="5.3">B11</tspan><tspan dy="-5.3" dx="2.6"> (K)</tspan></text>
<text x="438.8" y="1704" font-size="29.2">(g)</text>
<rect x="495" y="1713" width="9" height="8.8" fill="#f7f7f7"/>
<rect x="495" y="1704.6" width="9" height="8.8" fill="#efefef"/>
<rect x="495" y="1696.1" width="9" height="8.8" fill="#e8e8e8"/>
<rect x="495" y="1687.6" width="9" height="8.8" fill="#e0e0e0"/>
<rect x="495" y="1679.2" width="9" height="8.8" fill="#d9d9d9"/>
<rect x="495" y="1670.7" width="9" height="8.8" fill="#d1d1d1"/>
<rect x="495" y="1662.2" width="9" height="8.8" fill="#c9c9c9"/>
<rect x="495" y="1653.8" width="9" height="8.8" fill="#c2c2c2"/>
<rect x="495" y="1645.3" width="9" height="8.8" fill="#bababa"/>
<rect x="495" y="1636.8" width="9" height="8.8" fill="#b3b3b3"/>
<rect x="495" y="1628.4" width="9" height="8.8" fill="#ababab"/>
<rect x="495" y="1619.9" width="9" height="8.8" fill="#a3a3a3"/>
<rect x="495" y="1611.4" width="9" height="8.8" fill="#9c9c9c"/>
<rect x="495" y="1603" width="9" height="8.8" fill="#949494"/>
<rect x="495" y="1594.5" width="9" height="8.8" fill="#8ae68e"/>
<rect x="495" y="1586" width="9" height="8.8" fill="#82dc86"/>
<rect x="495" y="1577.6" width="9" height="8.8" fill="#7ad37e"/>
<rect x="495" y="1569.1" width="9" height="8.8" fill="#72c876"/>
<rect x="495" y="1560.6" width="9" height="8.8" fill="#6aba6e"/>
<rect x="495" y="1552.2" width="9" height="8.8" fill="#ccd2ff"/>
<rect x="495" y="1543.7" width="9" height="8.8" fill="#bccbff"/>
<rect x="495" y="1535.2" width="9" height="8.8" fill="#a8c4ff"/>
<rect x="495" y="1526.8" width="9" height="8.8" fill="#90bcff"/>
<rect x="495" y="1518.3" width="9" height="8.8" fill="#7cb6ff"/>
<rect x="495" y="1509.8" width="9" height="8.8" fill="#64aeff"/>
<rect x="495" y="1501.4" width="9" height="8.8" fill="#50a8ff"/>
<rect x="495" y="1492.9" width="9" height="8.8" fill="#4890ff"/>
<rect x="495" y="1484.4" width="9" height="8.8" fill="#4070ff"/>
<rect x="495" y="1475.9" width="9" height="8.8" fill="#3c50ff"/>
<rect x="495" y="1467.5" width="9" height="8.8" fill="#3030ff"/>
<rect x="495" y="1459" width="9" height="8.8" fill="#0808ff"/>
<rect x="495" y="1450.5" width="9" height="8.8" fill="#0000f0"/>
<rect x="495" y="1442.1" width="9" height="8.8" fill="#0000dc"/>
<rect x="495" y="1433.6" width="9" height="8.8" fill="#0000c8"/>
<rect x="495" y="1425.1" width="9" height="8.8" fill="#ffff00"/>
<rect x="495" y="1416.7" width="9" height="8.8" fill="#fff200"/>
<rect x="495" y="1408.2" width="9" height="8.8" fill="#ffe600"/>
<rect x="495" y="1399.7" width="9" height="8.8" fill="#ffdc00"/>
<rect x="495" y="1391.3" width="9" height="8.8" fill="#ffd000"/>
<rect x="495" y="1382.8" width="9" height="8.8" fill="#ff9800"/>
<rect x="495" y="1374.3" width="9" height="8.8" fill="#ff8c00"/>
<rect x="495" y="1365.9" width="9" height="8.8" fill="#ff8200"/>
<rect x="495" y="1357.4" width="9" height="8.8" fill="#ff7800"/>
<rect x="495" y="1348.9" width="9" height="8.8" fill="#ff6e00"/>
<rect x="495" y="1340.5" width="9" height="8.8" fill="#ff4608"/>
<rect x="495" y="1332" width="9" height="8.8" fill="#ff3c04"/>
<rect x="495" y="1323.5" width="9" height="8.8" fill="#ff3000"/>
<rect x="495" y="1315.1" width="9" height="8.8" fill="#ff2400"/>
<rect x="495" y="1306.6" width="9" height="8.8" fill="#ff1800"/>
<rect x="495" y="1298.1" width="9" height="8.8" fill="#cc0000"/>
<rect x="495" y="1289.7" width="9" height="8.8" fill="#c00000"/>
<rect x="495" y="1281.2" width="9" height="8.8" fill="#b40400"/>
<rect x="495" y="1272.7" width="9" height="8.8" fill="#aa0800"/>
<rect x="495" y="1264.3" width="9" height="8.8" fill="#a01000"/>
<rect x="495" y="1255.8" width="9" height="8.8" fill="#5e0e06"/>
<rect x="495" y="1247.3" width="9" height="8.8" fill="#5c100a"/>
<rect x="495" y="1238.9" width="9" height="8.8" fill="#5a1410"/>
<rect x="495" y="1230.4" width="9" height="8.8" fill="#5a1814"/>
<rect x="495" y="1221.9" width="9" height="8.8" fill="#5a1a18"/>
<path d="M504 1730h2" stroke="#333" stroke-width="0.9"/>
<text x="524.8" y="1738.3" text-anchor="middle" font-size="19.4">304</text>
<path d="M504 1679.2h2" stroke="#333" stroke-width="0.9"/>
<text x="524.8" y="1687.5" text-anchor="middle" font-size="19.4">292</text>
<path d="M504 1628.4h2" stroke="#333" stroke-width="0.9"/>
<text x="524.8" y="1636.7" text-anchor="middle" font-size="19.4">280</text>
<path d="M504 1577.6h2" stroke="#333" stroke-width="0.9"/>
<text x="524.8" y="1585.9" text-anchor="middle" font-size="19.4">268</text>
<path d="M504 1526.8h2" stroke="#333" stroke-width="0.9"/>
<text x="524.8" y="1535.1" text-anchor="middle" font-size="19.4">256</text>
<path d="M504 1476h2" stroke="#333" stroke-width="0.9"/>
<text x="524.8" y="1484.2" text-anchor="middle" font-size="19.4">244</text>
<path d="M504 1425.1h2" stroke="#333" stroke-width="0.9"/>
<text x="524.8" y="1433.4" text-anchor="middle" font-size="19.4">232</text>
<path d="M504 1374.3h2" stroke="#333" stroke-width="0.9"/>
<text x="524.8" y="1382.6" text-anchor="middle" font-size="19.4">220</text>
<path d="M504 1323.5h2" stroke="#333" stroke-width="0.9"/>
<text x="524.8" y="1331.8" text-anchor="middle" font-size="19.4">208</text>
<path d="M504 1272.7h2" stroke="#333" stroke-width="0.9"/>
<text x="524.8" y="1281" text-anchor="middle" font-size="19.4">196</text>
</g>
<g id="panel-h">
<g clip-path="url(#ch)">
<polygon points="958.4,1656.9 959.2,1655 959.8,1654.2 961.3,1652.2 961.7,1651.8 963.2,1653.1 964.9,1654.6 967.5,1656.6 965.5,1657.4 964.2,1658.7 961.9,1658.3 960,1657.8" fill="#0000ff" stroke="#0000ff" stroke-width=".8" stroke-dasharray="1.4 .8"/>
<polygon points="969.3,1657.6 971,1656.1 973.5,1654.8 975,1654.8 977.7,1655 979.8,1655.2 981.3,1654.7 982.9,1655.1 984.4,1654.6 985.5,1653.3 985.4,1651.1 986,1649.3 986.3,1646.8 987.1,1644.4 988.6,1645.4 989.4,1647.5 988.9,1649.7 989.7,1651.6 991.6,1653.5 990.2,1654.8 988.8,1656.7 988.3,1659 987.8,1660.6 986.4,1662.2 985.5,1662.8 984.8,1664.4 982.7,1664.3 980.6,1664.1 979.4,1664 977.7,1663.5 976,1664.1 974.4,1664 972,1662.6 970.4,1660.8 970,1659" fill="#0000ff" stroke="#0000ff" stroke-width=".8" stroke-dasharray="1.4 .8"/>
<polygon points="990.1,1663.4 991.6,1662.4 993.5,1661.2 994.3,1660.2 995.9,1659.3 997.3,1658.3 998.3,1657.5 999.7,1659.5 1001.7,1660.5 1003.8,1661.6 1005.7,1661.5 1007.1,1660.5 1009.4,1659.7 1010.6,1659 1011.5,1657.1 1013.1,1656.3 1013.8,1654 1014.4,1652.9 1014.4,1651.3 1015.8,1652.7 1015.6,1654.5 1016.7,1656.3 1018.6,1658.7 1017.1,1660.2 1016.4,1662.3 1015.9,1663.5 1015.2,1666 1013.4,1667.3 1013.4,1669.6 1013.3,1671.7 1012.6,1670.9 1011.3,1669.9 1009,1668.8 1007.4,1667.8 1005.7,1668.5 1004.2,1668.8 1002.4,1668.4 1000.7,1669.1 999.6,1669 997.7,1668.4 995.3,1667.2 994,1666.3 992.2,1664.7" fill="#0000ff" stroke="#0000ff" stroke-width=".8" stroke-dasharray="1.4 .8"/>
<polygon points="1025.8,1658.7 1027.4,1657.1 1029.8,1656.3 1030.7,1655.7 1033.7,1656.1 1034.7,1656.5 1036.3,1657.6 1037.2,1659.5 1038.4,1660.9 1040.1,1661.6 1041.5,1662.3 1042.3,1663.8 1044.8,1664.6 1046.3,1666.1 1048.1,1665.9 1049.7,1666.8 1051.6,1668 1052.7,1667.2 1055.3,1667.3 1056.8,1666.6 1059,1667.4 1060.9,1667.4 1062.8,1667.3 1064.2,1666.9 1066.3,1667 1069.2,1666.8 1070.1,1669 1068.5,1669.2 1066.4,1670.5 1064.5,1671 1062.9,1670.4 1061,1670.6 1059.1,1671.1 1058.1,1671.5 1057.2,1672.3 1055.8,1673.8 1053.1,1672.7 1052,1671.3 1049.6,1670.8 1048.2,1670.1 1046.7,1669.6 1045.1,1668.7 1042.7,1667.9 1040.9,1667.4 1041.1,1669.5 1040.9,1670.8 1040.4,1673.3 1038.1,1673 1035.9,1674.3 1035,1672.8 1033.5,1671.4 1031.9,1671 1031.6,1669.1 1031.9,1667.1 1031.1,1665.9 1030.4,1664.5 1029.5,1662.7 1027.8,1661.3 1027.5,1659.6" fill="#0000ff" stroke="#0000ff" stroke-width=".8" stroke-dasharray="1.4 .8"/>
<polygon points="1072.1,1666.4 1075.2,1665.8 1075.5,1668.8 1074.1,1670.2 1073.3,1668.7" fill="#ff4500" stroke="#ff4500" stroke-width=".8" stroke-dasharray="1.4 .8"/>
<polygon points="1008.2,1675.4 1011,1675 1012.3,1676.4 1012.4,1677.2 1013.7,1679.1 1015.7,1679.1 1017.6,1679.7 1020,1680.6 1022.3,1680.5 1022,1684.5 1020.2,1683.9 1018.8,1685 1016.5,1684.6 1014.7,1683.8 1012.5,1682.5 1011.2,1681.9 1009.9,1679.7 1009.5,1677.7" fill="#0000ff" stroke="#0000ff" stroke-width=".8" stroke-dasharray="1.4 .8"/>
<polygon points="1023.7,1691.7 1025.1,1691 1027.1,1689.5 1029.2,1688.6 1031,1688.9 1030.3,1690.2 1030.3,1692.5 1029,1692.9 1027.2,1693.9 1025.4,1695.6 1024,1693.3" fill="#0000ff" stroke="#0000ff" stroke-width=".8" stroke-dasharray="1.4 .8"/>
<polygon points="1042.7,1692.6 1044.7,1690.7 1046.5,1690.3 1047.8,1691.5 1049.4,1692.3 1050.5,1694.6 1050.8,1695.7 1050.8,1697.9 1051.6,1699.7 1049.9,1700.5 1047.8,1701.7 1046.3,1700.2 1044.9,1699.5 1043.1,1698.5 1043.1,1696.1 1042.6,1694.6" fill="#0000ff" stroke="#0000ff" stroke-width=".8" stroke-dasharray="1.4 .8"/>
<polygon points="1066.3,1689.6 1068.7,1689.9 1071.1,1691 1072.2,1689.8 1074,1689.7 1075.5,1689.1 1076.7,1688 1077.1,1689.9 1076.8,1691.1 1077.2,1693.1 1076.9,1694.3 1076.7,1695.8 1074.9,1694.7 1073.2,1694.3 1071.9,1693.5 1069.8,1692.5 1067.6,1692.4" fill="#0000ff" stroke="#0000ff" stroke-width=".8" stroke-dasharray="1.4 .8"/>
<polygon points="1043.9,1678.6 1045.8,1678 1047.3,1677.5 1048,1680.3 1048.3,1682.2 1046.4,1682.1 1045,1683.2 1044.6,1681" fill="#0000ff" stroke="#0000ff" stroke-width=".8" stroke-dasharray="1.4 .8"/>
<polygon points="1006.1,1694.2 1006.9,1692.2 1008.4,1690.2 1008.8,1691.2 1009.8,1693.4 1008.4,1694.4 1006.5,1695.1" fill="#ff4500" stroke="#ff4500" stroke-width=".8" stroke-dasharray="1.4 .8"/>
<polygon points="1052.6,1699.9 1054.5,1699.6 1056,1699.3 1057.4,1698 1059.4,1698.3 1060.9,1698.9 1063.4,1699.9 1065,1700.4 1065.9,1701.5 1067.8,1703.1 1068.9,1704.2 1067.6,1704.8 1066.1,1706 1064.4,1707.1 1062.6,1707.4 1061,1707 1060,1706.6 1057.8,1706.1 1056.1,1705.5 1055.2,1703.9 1054.6,1702.4 1053.7,1701.7" fill="#0000ff" stroke="#0000ff" stroke-width=".8" stroke-dasharray="1.4 .8"/>
<polygon points="1037.5,1702.3 1039.6,1702 1041.4,1701.4 1041.6,1702.9 1042.1,1703.9 1040.9,1705.5 1039.2,1705.5 1038.4,1703.7" fill="#0000ff" stroke="#0000ff" stroke-width=".8" stroke-dasharray="1.4 .8"/>
<polygon points="993.7,1602.9 994.6,1601.5 996.2,1600.8 997.8,1600.1 998.2,1598.4 998.3,1596.1 999.6,1595 999.5,1592.6 1000.6,1594.1 1001.5,1595.5 1003.6,1596.4 1005.6,1596.9 1007.2,1599.7 1005.8,1600.7 1004.3,1603.1 1002.8,1603.3 1000.6,1605 998.5,1605.1 997.1,1605.1 995,1603.6" fill="#0000ff" stroke="#0000ff" stroke-width=".8" stroke-dasharray="1.4 .8"/>
<polygon points="978,1601.6 979,1600.3 980.3,1599.4 981.8,1598.4 983,1597.2 985.3,1596.8 986.6,1597.5 988.8,1598.2 987.2,1599.3 985.6,1600.1 983.6,1600.5 982.8,1601.4 980.5,1603.1" fill="#0000ff" stroke="#0000ff" stroke-width=".8" stroke-dasharray="1.4 .8"/>
<polygon points="959.2,1587.6 961,1586.8 963,1586.2 964.7,1584.7 967.2,1583.7 969,1584.3 969.7,1584.7 969.4,1587.3 967.6,1588.4 966.5,1588.6 965,1588.9 962.6,1589.9 960.2,1590" fill="#0000ff" stroke="#0000ff" stroke-width=".8" stroke-dasharray="1.4 .8"/>
<polygon points="941.5,1586.2 943.8,1585.3 945.1,1586.4 946.5,1587.8 943.7,1588.4" fill="#0000ff" stroke="#0000ff" stroke-width=".8" stroke-dasharray="1.4 .8"/>
<polygon points="949.1,1589.5 950.6,1587.8 952.5,1589.3 953.5,1591.3 951.9,1591.4 950.1,1592" fill="#0000ff" stroke="#0000ff" stroke-width=".8" stroke-dasharray="1.4 .8"/>
<polygon points="978.8,1581.2 980,1580.3 981,1579.1 983.1,1580 982.3,1581.1 981.1,1582" fill="#0000ff" stroke="#0000ff" stroke-width=".8" stroke-dasharray="1.4 .8"/>
<polygon points="981.6,1588.4 983.3,1586.5 984.8,1584.8 986.1,1585.2 985.9,1586.4 984.3,1588.3 983.9,1589.7" fill="#0000ff" stroke="#0000ff" stroke-width=".8" stroke-dasharray="1.4 .8"/>
<polygon points="932.4,1565.4 933.9,1564.2 935.6,1563 938,1563.4 937.1,1565.4 935.8,1566.3 933.6,1567.3" fill="#ff4500" stroke="#ff4500" stroke-width=".8" stroke-dasharray="1.4 .8"/>
<polygon points="937.4,1628.5 938.7,1626.7 939.9,1625.2 942,1625.5 941.9,1627.4 941.3,1629.2 941.5,1631 940.6,1633.2 940.2,1634.5 939.4,1636.2 937.9,1635.3 937.8,1633.6 937.9,1631.7 936.9,1629.4" fill="#0000ff" stroke="#0000ff" stroke-width=".8" stroke-dasharray="1.4 .8"/>
<polygon points="933.5,1633.7 935.2,1633.4 935.9,1634.5 935.8,1636.3 933.9,1636.7 933.5,1635.7" fill="#0000ff" stroke="#0000ff" stroke-width=".8" stroke-dasharray="1.4 .8"/>
<polygon points="927.4,1641 929.9,1639.4 930.9,1641.6 929.9,1643.4 928.6,1644.4 928,1643.5" fill="#0000ff" stroke="#0000ff" stroke-width=".8" stroke-dasharray="1.4 .8"/>
<polygon points="808.5,1480.7 810.8,1479.2 811.9,1479.7 813.8,1481.8 815.7,1481.9 818.3,1482.7 818.7,1480.1 819.1,1478.1 821.4,1479.4 821.2,1481.4 821.8,1483.4 821.1,1484.7 820.5,1486.1 817.8,1486.4 815.7,1486.6 813.9,1485.6 812.4,1484.6 810.5,1483.6 809.4,1481.9" fill="#0000ff" stroke="#0000ff" stroke-width=".8" stroke-dasharray="1.4 .8"/>
<polygon points="842.7,1500.6 843.2,1498.7 843.5,1497.5 844,1496 844.5,1494 845.8,1491.6 846,1489.7 846.7,1488.4 848.8,1489.7 850.3,1490.3 852.2,1491.2 853.7,1492.6 853.8,1495 852.2,1496.2 850.6,1497.9 849.9,1499.6 848.7,1502.2 848.5,1503.9 848.5,1505.4 849.2,1507.7 847.4,1509.6 846,1508.5 843.9,1507.6 843.6,1506.7 842.1,1505.7 842.3,1503.8 842.8,1502.4" fill="#0000ff" stroke="#0000ff" stroke-width=".8" stroke-dasharray="1.4 .8"/>
<polygon points="827.4,1506.2 828.1,1504.1 830.1,1501.8 831,1500.8 833,1499.5 835.7,1498.9 837,1498.7 838,1496.9 839.1,1495.7 839.8,1498.2 839.7,1499.3 838.9,1501.4 837.7,1503.2 835.8,1504.5 835.1,1506 832.8,1506.4 831.2,1507.9 829.1,1507.1" fill="#0000ff" stroke="#0000ff" stroke-width=".8" stroke-dasharray="1.4 .8"/>
<polygon points="794.7,1517.1 796.2,1517.2 798,1517.1 798.3,1514.6 798.6,1513 799.7,1514.4 800.7,1515.9 801.7,1517 803.8,1518 801.1,1520.1 802.5,1522.8 799.8,1522.1 797.3,1522.8 797.4,1519.8 796,1518.2" fill="#0000ff" stroke="#0000ff" stroke-width=".8" stroke-dasharray="1.4 .8"/>
<polygon points="801.6,1529.3 803.3,1527.6 804.6,1529.1 805.9,1529.9 805.7,1532.3 802.4,1531.6" fill="#0000ff" stroke="#0000ff" stroke-width=".8" stroke-dasharray="1.4 .8"/>
<polygon points="870.7,1559 871.8,1557.4 872.6,1556.5 874.3,1557.6 875.9,1558.5 875.2,1559.6 875.3,1561.5 871.9,1561" fill="#ff4500" stroke="#ff4500" stroke-width=".8" stroke-dasharray="1.4 .8"/>
<polygon points="892.1,1553.4 894.1,1552 895.3,1551.1 897.3,1551.1 896.6,1554.1 896,1555.3 894.4,1556 892.8,1556.7" fill="#ff4500" stroke="#ff4500" stroke-width=".8" stroke-dasharray="1.4 .8"/>
<polygon points="896.7,1545.2 898.7,1544 899.7,1545.4 900.8,1546.2 898,1548.3 897.3,1547.2" fill="#ff4500" stroke="#ff4500" stroke-width=".8" stroke-dasharray="1.4 .8"/>
<polygon points="896.4,1566 898.4,1565.1 899.4,1563.6 900.3,1564.9 897.4,1566.5" fill="#ff4500" stroke="#ff4500" stroke-width=".8" stroke-dasharray="1.4 .8"/>
<polygon points="932.7,1565.3 934.3,1564.1 936.2,1562.6 938.2,1563.8 936.7,1565.5 934.4,1567.1 933.2,1567.7" fill="#ff4500" stroke="#ff4500" stroke-width=".8" stroke-dasharray="1.4 .8"/>
<polygon points="870.4,1581.3 872.1,1579.7 873.7,1579.2 874.7,1581.2 873.6,1581.7 872.4,1583.5" fill="#0000ff" stroke="#0000ff" stroke-width=".8" stroke-dasharray="1.4 .8"/>
<polygon points="868.9,1586.2 870.4,1583.9 872.6,1586.2 872.1,1587.8 871.4,1589.1 869.2,1588.5" fill="#0000ff" stroke="#0000ff" stroke-width=".8" stroke-dasharray="1.4 .8"/>
<polygon points="942.4,1586.5 943,1584.9 945,1584.8 946.8,1585.8 948.5,1586.8 946.1,1587.9 944.7,1589.2 943.7,1587.8" fill="#ff4500" stroke="#ff4500" stroke-width=".8" stroke-dasharray="1.4 .8"/>
<polygon points="779.9,1458.6 781,1457.3 782.1,1455.9 783.3,1454.9 784.3,1455.5 783.2,1457.5 782.5,1459 781.9,1460.1" fill="#ff4500" stroke="#ff4500" stroke-width=".8" stroke-dasharray="1.4 .8"/>
<polygon points="804.5,1468 806,1467.9 806.1,1470.4 806.7,1472.4 804.7,1473.2 804.2,1470.1" fill="#ff4500" stroke="#ff4500" stroke-width=".8" stroke-dasharray="1.4 .8"/>
<polygon points="785.4,1492 786.8,1491.3 788.3,1492.3 789.2,1494.4 787.7,1495.5 786.6,1493.9" fill="#ff4500" stroke="#ff4500" stroke-width=".8" stroke-dasharray="1.4 .8"/>
<polygon points="695,1399.2 697.3,1398.5 700,1397.3 700.7,1398.9 701.6,1400.9 698.9,1400.7 697.1,1401.5 696.3,1400" fill="#ff4500" stroke="#ff4500" stroke-width=".8" stroke-dasharray="1.4 .8"/>
<polygon points="703.7,1398.3 705.9,1398.9 707.7,1398.2 709.2,1398.5 710.1,1399.9 711,1400.9 709.5,1401.5 707.7,1401.7 705.2,1401.7 704.6,1400.3" fill="#ff4500" stroke="#ff4500" stroke-width=".8" stroke-dasharray="1.4 .8"/>
<polygon points="714.6,1398.6 715.8,1398.7 717.5,1397.7 718.8,1399.7 718.5,1400.6 716.8,1401 714.7,1401.6" fill="#ff4500" stroke="#ff4500" stroke-width=".8" stroke-dasharray="1.4 .8"/>
<polygon points="744.8,1411.2 746.2,1410.3 748.1,1409.8 748.3,1411 748.9,1413.4 749.7,1414.5 749.5,1416.4 748.4,1418.5 747.2,1419.8 746.4,1418.6 745.6,1417.7 745.5,1416 745.4,1414 745.4,1412.4" fill="#ff4500" stroke="#ff4500" stroke-width=".8" stroke-dasharray="1.4 .8"/>
<polygon points="657,1406.4 658.5,1405 660,1404.2 661.5,1405.7 660.8,1407 659.4,1408.1 658.9,1409.6 657.6,1408.7" fill="#ff4500" stroke="#ff4500" stroke-width=".8" stroke-dasharray="1.4 .8"/>
<polygon points="604.4,1406.1 606.5,1407.2 608.5,1408.9 607.4,1408.8 605.8,1409.7 604.8,1407.7" fill="#ff4500" stroke="#ff4500" stroke-width=".8" stroke-dasharray="1.4 .8"/>
<polygon points="906.8,1600.4 908.1,1600 909.6,1599 909.6,1600.6 910.1,1602.3 910.9,1604.3 909.3,1605.4 907.4,1605.8 907.7,1604.1 906.4,1601.9" fill="#ff4500" stroke="#ff4500" stroke-width=".8" stroke-dasharray="1.4 .8"/>
<polygon points="903.6,1610 904.6,1609.3 906.7,1609.1 906.9,1610.7 907.2,1612 907.3,1613.8 905.8,1614 903.4,1613.8 903.3,1612.2" fill="#ff4500" stroke="#ff4500" stroke-width=".8" stroke-dasharray="1.4 .8"/>
<polygon points="937,1625.4 939,1624.4 940.6,1624 940.2,1626.1 940.6,1627.6 941.3,1629.6 940.5,1631.2 941.3,1632.9 941.7,1634.8 940,1634.4 938.2,1634.9 937.6,1633.3 937.4,1632.1 937.7,1630.2 937.6,1628.7 937.9,1626.8" fill="#0000ff" stroke="#0000ff" stroke-width=".8" stroke-dasharray="1.4 .8"/>
<polygon points="926.4,1640.7 928.7,1639.5 930.6,1638.2 931.4,1639.8 931.5,1642.6 930.3,1643.2 927.5,1644.4 927.7,1642.7" fill="#0000ff" stroke="#0000ff" stroke-width=".8" stroke-dasharray="1.4 .8"/>
<rect x="973.9" y="1657.3" width="2.6" height="2.6" fill="#ff4500"/><rect x="975.5" y="1659.5" width="2.6" height="2.6" fill="#ff4500"/><rect x="982.1" y="1657.3" width="2.6" height="2.6" fill="#ff4500"/><rect x="998.3" y="1663.4" width="2.6" height="2.6" fill="#ff4500"/><rect x="996.3" y="1664.2" width="2.6" height="2.6" fill="#ff4500"/><rect x="992.7" y="1662.9" width="2.6" height="2.6" fill="#ff4500"/><rect x="1054.2" y="1668.4" width="2.6" height="2.6" fill="#ff4500"/><rect x="1053.2" y="1666.9" width="2.6" height="2.6" fill="#ff4500"/><rect x="1037" y="1660.3" width="2.6" height="2.6" fill="#ff4500"/><rect x="1032.9" y="1667.4" width="2.6" height="2.6" fill="#ff4500"/><rect x="1010.5" y="1678.1" width="2.6" height="2.6" fill="#ff4500"/><rect x="1045.6" y="1695.4" width="2.6" height="2.6" fill="#ff4500"/><rect x="1046.1" y="1697.4" width="2.6" height="2.6" fill="#ff4500"/><rect x="1001.9" y="1597.8" width="2.6" height="2.6" fill="#ff4500"/><rect x="998.3" y="1601.4" width="2.6" height="2.6" fill="#ff4500"/><rect x="938.2" y="1627.8" width="2.6" height="2.6" fill="#ff4500"/><rect x="848.7" y="1492.9" width="2.6" height="2.6" fill="#ff4500"/><rect x="847.2" y="1494.4" width="2.6" height="2.6" fill="#ff4500"/><rect x="845.6" y="1495.9" width="2.6" height="2.6" fill="#ff4500"/><rect x="844.1" y="1500.5" width="2.6" height="2.6" fill="#ff4500"/><rect x="871.8" y="1557.9" width="2.6" height="2.6" fill="#ff4500"/><rect x="938" y="1627.6" width="2.6" height="2.6" fill="#ff4500"/><rect x="609.1" y="1364.1" width="1.4" height="1.4" fill="#ff4500"/><rect x="607.9" y="1364.3" width="1" height="1" fill="#ff4500"/><rect x="659.7" y="1351.8" width="1.4" height="1.4" fill="#ff4500"/><rect x="620.5" y="1373" width="1.4" height="1.4" fill="#ff4500"/><rect x="619.3" y="1371.8" width="1" height="1" fill="#ff4500"/><rect x="629" y="1370.8" width="1.4" height="1.4" fill="#ff4500"/><rect x="619.5" y="1380.9" width="1.4" height="1.4" fill="#ff4500"/><rect x="618.3" y="1381.1" width="1" height="1" fill="#ff4500"/><rect x="652.7" y="1365.1" width="1.4" height="1.4" fill="#ff4500"/><rect x="651.5" y="1365.3" width="1" height="1" fill="#ff4500"/><rect x="670.1" y="1370.8" width="1.4" height="1.4" fill="#ff4500"/><rect x="682.1" y="1370.8" width="1.4" height="1.4" fill="#ff4500"/><rect x="680.9" y="1372.4" width="1" height="1" fill="#ff4500"/><rect x="691.3" y="1369.8" width="1.4" height="1.4" fill="#ff4500"/><rect x="692.9" y="1368.6" width="1" height="1" fill="#ff4500"/><rect x="662.9" y="1379.9" width="1.4" height="1.4" fill="#ff4500"/><rect x="649.6" y="1382.5" width="1.4" height="1.4" fill="#ff4500"/><rect x="650.2" y="1385.6" width="1.4" height="1.4" fill="#ff4500"/><rect x="665.4" y="1384.1" width="1.4" height="1.4" fill="#ff4500"/><rect x="664.2" y="1385.7" width="1" height="1" fill="#ff4500"/><rect x="663.8" y="1390.4" width="1.4" height="1.4" fill="#ff4500"/><rect x="662.6" y="1390.6" width="1" height="1" fill="#ff4500"/><rect x="680.2" y="1394.5" width="1.4" height="1.4" fill="#ff4500"/><rect x="679" y="1394.7" width="1" height="1" fill="#ff4500"/><rect x="608.5" y="1408.4" width="1.4" height="1.4" fill="#ff4500"/><rect x="607.3" y="1408.6" width="1" height="1" fill="#ff4500"/><rect x="613.2" y="1408.4" width="1.4" height="1.4" fill="#ff4500"/><rect x="614.8" y="1410" width="1" height="1" fill="#ff4500"/><rect x="618" y="1408.1" width="1.4" height="1.4" fill="#ff4500"/><rect x="664.8" y="1401.5" width="1.4" height="1.4" fill="#ff4500"/><rect x="663.6" y="1401.7" width="1" height="1" fill="#ff4500"/><rect x="659.7" y="1411.9" width="1.4" height="1.4" fill="#ff4500"/><rect x="661.3" y="1412.1" width="1" height="1" fill="#ff4500"/><rect x="648" y="1413.2" width="1.4" height="1.4" fill="#ff4500"/><rect x="646.8" y="1414.8" width="1" height="1" fill="#ff4500"/><rect x="649.6" y="1417.3" width="1.4" height="1.4" fill="#ff4500"/><rect x="651.2" y="1418.9" width="1" height="1" fill="#ff4500"/><rect x="652.7" y="1416.6" width="1.4" height="1.4" fill="#ff4500"/><rect x="654.3" y="1415.4" width="1" height="1" fill="#ff4500"/><rect x="750.8" y="1401.5" width="1.4" height="1.4" fill="#ff4500"/><rect x="752.4" y="1403.1" width="1" height="1" fill="#ff4500"/><rect x="771.3" y="1422" width="1.4" height="1.4" fill="#ff4500"/><rect x="770.1" y="1420.8" width="1" height="1" fill="#ff4500"/><rect x="685.9" y="1429" width="1.4" height="1.4" fill="#ff4500"/><rect x="697" y="1434.7" width="1.4" height="1.4" fill="#ff4500"/><rect x="695.8" y="1433.5" width="1" height="1" fill="#ff4500"/><rect x="912" y="1572.2" width="1.4" height="1.4" fill="#ff4500"/><rect x="859.9" y="1588" width="1.4" height="1.4" fill="#ff4500"/><rect x="862.1" y="1597.5" width="1.4" height="1.4" fill="#ff4500"/><rect x="863.7" y="1596.3" width="1" height="1" fill="#ff4500"/><rect x="912.7" y="1595.3" width="1.4" height="1.4" fill="#ff4500"/><rect x="911.5" y="1594.1" width="1" height="1" fill="#ff4500"/><rect x="968.3" y="1600.7" width="1.4" height="1.4" fill="#ff4500"/><rect x="967.1" y="1599.5" width="1" height="1" fill="#ff4500"/><rect x="972.1" y="1599.7" width="1.4" height="1.4" fill="#ff4500"/><rect x="970.9" y="1599.9" width="1" height="1" fill="#ff4500"/><rect x="967.4" y="1614.3" width="1.4" height="1.4" fill="#ff4500"/><rect x="965.8" y="1619.6" width="1.4" height="1.4" fill="#ff4500"/><rect x="967.4" y="1619.8" width="1" height="1" fill="#ff4500"/><rect x="933.5" y="1622.8" width="1.4" height="1.4" fill="#ff4500"/><rect x="932.3" y="1621.6" width="1" height="1" fill="#ff4500"/><rect x="919.9" y="1645.9" width="1.4" height="1.4" fill="#ff4500"/><rect x="918.7" y="1646.1" width="1" height="1" fill="#ff4500"/><rect x="938.9" y="1652.2" width="1.4" height="1.4" fill="#ff4500"/><rect x="937.7" y="1653.8" width="1" height="1" fill="#ff4500"/><rect x="943.6" y="1653.5" width="1.4" height="1.4" fill="#ff4500"/><rect x="893.1" y="1533.3" width="1.4" height="1.4" fill="#ff4500"/><rect x="891.9" y="1533.5" width="1" height="1" fill="#ff4500"/><rect x="897.8" y="1564.3" width="1.4" height="1.4" fill="#ff4500"/><rect x="882" y="1513.1" width="1.4" height="1.4" fill="#ff4500"/><rect x="883.6" y="1513.3" width="1" height="1" fill="#ff4500"/><rect x="861.4" y="1485.2" width="1.4" height="1.4" fill="#ff4500"/><rect x="784.7" y="1464" width="1.4" height="1.4" fill="#ff4500"/><rect x="783.5" y="1462.8" width="1" height="1" fill="#ff4500"/><rect x="790.3" y="1472.1" width="1.4" height="1.4" fill="#ff4500"/><rect x="791.9" y="1473.7" width="1" height="1" fill="#ff4500"/><rect x="789.3" y="1476.2" width="1.4" height="1.4" fill="#ff4500"/><rect x="809.1" y="1455.4" width="1.4" height="1.4" fill="#ff4500"/><rect x="810.7" y="1455.6" width="1" height="1" fill="#ff4500"/><rect x="821.8" y="1469.6" width="1.4" height="1.4" fill="#ff4500"/><rect x="820.6" y="1471.2" width="1" height="1" fill="#ff4500"/><rect x="834.5" y="1481.8" width="1.4" height="1.4" fill="#ff4500"/><rect x="828.4" y="1484.3" width="1.4" height="1.4" fill="#ff4500"/><rect x="830" y="1485.9" width="1" height="1" fill="#ff4500"/><rect x="822.9" y="1487.4" width="1.4" height="1.4" fill="#ff4500"/><rect x="821.7" y="1487.6" width="1" height="1" fill="#ff4500"/><rect x="772" y="1516.9" width="1.4" height="1.4" fill="#ff4500"/><rect x="810.2" y="1531.6" width="1.4" height="1.4" fill="#ff4500"/><rect x="793.4" y="1537.7" width="1.4" height="1.4" fill="#ff4500"/><rect x="795" y="1536.5" width="1" height="1" fill="#ff4500"/><rect x="819.3" y="1540.2" width="1.4" height="1.4" fill="#ff4500"/><rect x="818.1" y="1540.4" width="1" height="1" fill="#ff4500"/><rect x="810.7" y="1550.9" width="1.4" height="1.4" fill="#ff4500"/><rect x="854.4" y="1534.1" width="1.4" height="1.4" fill="#ff4500"/><rect x="859.4" y="1543.3" width="1.4" height="1.4" fill="#ff4500"/><rect x="858.2" y="1542.1" width="1" height="1" fill="#ff4500"/><rect x="881.3" y="1513.3" width="1.4" height="1.4" fill="#ff4500"/><rect x="880.1" y="1514.9" width="1" height="1" fill="#ff4500"/><rect x="858.9" y="1493" width="1.4" height="1.4" fill="#ff4500"/><rect x="860.5" y="1491.8" width="1" height="1" fill="#ff4500"/><rect x="861" y="1485.4" width="1.4" height="1.4" fill="#ff4500"/><rect x="859.8" y="1487" width="1" height="1" fill="#ff4500"/><rect x="772" y="1422.3" width="1.4" height="1.4" fill="#ff4500"/><rect x="814.2" y="1476.2" width="1.4" height="1.4" fill="#ff4500"/><rect x="813" y="1477.8" width="1" height="1" fill="#ff4500"/><rect x="896" y="1540.8" width="1.4" height="1.4" fill="#ff4500"/><rect x="897.6" y="1541" width="1" height="1" fill="#ff4500"/><rect x="911.8" y="1571.8" width="1.4" height="1.4" fill="#ff4500"/><rect x="910.6" y="1572" width="1" height="1" fill="#ff4500"/><rect x="901.6" y="1554.5" width="1.4" height="1.4" fill="#ff4500"/><rect x="903.2" y="1554.7" width="1" height="1" fill="#ff4500"/><rect x="893" y="1534.1" width="1.4" height="1.4" fill="#ff4500"/><rect x="891.8" y="1535.7" width="1" height="1" fill="#ff4500"/><rect x="860" y="1589" width="1.4" height="1.4" fill="#ff4500"/><rect x="882.3" y="1589.5" width="1.4" height="1.4" fill="#ff4500"/><rect x="883.9" y="1589.7" width="1" height="1" fill="#ff4500"/><rect x="911.5" y="1572.5" width="1.4" height="1.4" fill="#ff4500"/><rect x="910.3" y="1574.1" width="1" height="1" fill="#ff4500"/><rect x="913.1" y="1596.4" width="1.4" height="1.4" fill="#ff4500"/><rect x="914.7" y="1598" width="1" height="1" fill="#ff4500"/><rect x="910" y="1610.6" width="1.4" height="1.4" fill="#ff4500"/><rect x="911.6" y="1609.4" width="1" height="1" fill="#ff4500"/><rect x="968.4" y="1614.2" width="1.4" height="1.4" fill="#ff4500"/><rect x="967.2" y="1615.8" width="1" height="1" fill="#ff4500"/><rect x="966.4" y="1619.2" width="1.4" height="1.4" fill="#ff4500"/><rect x="933.4" y="1614.7" width="1.4" height="1.4" fill="#ff4500"/><rect x="935" y="1613.5" width="1" height="1" fill="#ff4500"/><rect x="933.9" y="1622.3" width="1.4" height="1.4" fill="#ff4500"/><rect x="932.7" y="1623.9" width="1" height="1" fill="#ff4500"/><rect x="1051.8" y="1660.9" width="1.4" height="1.4" fill="#ff4500"/><rect x="1050.6" y="1662.5" width="1" height="1" fill="#ff4500"/><rect x="1023.8" y="1672.1" width="1.4" height="1.4" fill="#ff4500"/><rect x="1038.6" y="1677.7" width="1.4" height="1.4" fill="#ff4500"/><rect x="1037.4" y="1676.5" width="1" height="1" fill="#ff4500"/><rect x="1009.6" y="1684.3" width="1.4" height="1.4" fill="#ff4500"/><rect x="1008.4" y="1685.9" width="1" height="1" fill="#ff4500"/><rect x="1015.7" y="1646.7" width="1.4" height="1.4" fill="#ff4500"/><rect x="1017.3" y="1648.3" width="1" height="1" fill="#ff4500"/><rect x="1013.7" y="1651.8" width="1.4" height="1.4" fill="#ff4500"/><rect x="994.9" y="1695" width="1.4" height="1.4" fill="#ff4500"/><rect x="993.7" y="1696.6" width="1" height="1" fill="#ff4500"/><rect x="989.8" y="1696" width="1.4" height="1.4" fill="#ff4500"/><rect x="988.6" y="1696.2" width="1" height="1" fill="#ff4500"/><rect x="938.5" y="1651.8" width="1.4" height="1.4" fill="#ff4500"/><rect x="944.1" y="1653.3" width="1.4" height="1.4" fill="#ff4500"/><rect x="945.7" y="1653.5" width="1" height="1" fill="#ff4500"/><rect x="920.2" y="1646.2" width="1.4" height="1.4" fill="#ff4500"/><rect x="1023.8" y="1644.1" width="1.4" height="1.4" fill="#ff4500"/><rect x="1025.4" y="1645.7" width="1" height="1" fill="#ff4500"/><rect x="969" y="1601" width="1.4" height="1.4" fill="#ff4500"/><rect x="973" y="1598.4" width="1.4" height="1.4" fill="#ff4500"/><rect x="971.8" y="1600" width="1" height="1" fill="#ff4500"/><rect x="992.3" y="1596.9" width="1.4" height="1.4" fill="#ff4500"/><rect x="991.1" y="1598.5" width="1" height="1" fill="#ff4500"/><rect x="1072.1" y="1711.2" width="1.4" height="1.4" fill="#ff4500"/><rect x="1073.7" y="1712.8" width="1" height="1" fill="#ff4500"/><rect x="680.7" y="1388" width="1.2" height="1.2" fill="#0000ff"/><rect x="716.1" y="1407.2" width="1.2" height="1.2" fill="#0000ff"/><rect x="731.3" y="1423.1" width="1.2" height="1.2" fill="#0000ff"/><rect x="811.8" y="1457" width="1.2" height="1.2" fill="#0000ff"/>
</g>
<path d="M640.9 1222.7V1730.4M719.6 1222.7V1730.4M798.4 1222.7V1730.4M877.1 1222.7V1730.4M955.8 1222.7V1730.4M1034.5 1222.7V1730.4M603.3 1279.4H1077.3M603.3 1363.9H1077.3M603.3 1448.5H1077.3M603.3 1533H1077.3M603.3 1617.6H1077.3M603.3 1702.2H1077.3" fill="none" stroke="#111" stroke-width="1.15" stroke-dasharray="2.9 5.4"/>
<path d="M603.3 1294.7Q840.3 1465.3 1077.3 1654.8M603.3 1407.6Q814.2 1561.7 1025.1 1729.3" fill="none" stroke="#111" stroke-width="1" stroke-dasharray="12.2 11.45"/>
<g font-size="12" text-anchor="middle">
<text x="640.6" y="1469.8">-130</text>
<text x="719.4" y="1469.8">-128</text>
<text x="798.1" y="1469.8">-126</text>
<text x="876.8" y="1469.8">-124</text>
<text x="955.5" y="1469.8">-122</text>
<text x="1034.2" y="1469.8">-120</text>
</g><g font-size="12" text-anchor="end">
<text x="864.2" y="1279.3">16</text>
<text x="864.2" y="1363.8">14</text>
<text x="864.2" y="1448.4">12</text>
<text x="864.2" y="1532.9">10</text>
<text x="864.2" y="1617.5">8</text>
<text x="864.2" y="1702.1">6</text>
</g>
<path d="M833.7 1476.2h12.4M839.9 1470v12.4" stroke="#000" stroke-width="4.2"/>
<text x="627.5" y="1247.4" font-size="25">2A23 rain types</text>
<text x="1029.3" y="1704" font-size="29.2">(h)</text>
<rect x="1085.8" y="1222.3" width="9" height="507.5" fill="#fff" stroke="#111" stroke-width="1.15"/>
<rect x="1086.2" y="1222.7" width="8.2" height="168.8" fill="#ff4500"/>
<rect x="1086.2" y="1391.4" width="8.2" height="169.2" fill="#0000ff"/>
<path d="M1094.8 1222.7h2M1094.8 1391.4h2M1094.8 1560.6h2" stroke="#333" stroke-width=".9"/>
<text x="1098.5" y="1230.7" font-size="20.1">Conv</text>
<text x="1098.5" y="1399.8" font-size="20.1">Strat</text>
<text x="1098.5" y="1569" font-size="20.1">N/A</text>
</g>
<g id="panel-i">
<g clip-path="url(#ci)">
<polygon points="1548.9,1656.4 1549.8,1655.7 1550.3,1654.3 1551.4,1652.4 1552.4,1651.7 1553.7,1653.1 1555.5,1654.2 1557.6,1656.4 1556.1,1657.9 1555,1658.3 1553,1658.4 1551,1658.4" fill="#b4b4b4" stroke="#b4b4b4" stroke-width=".8" stroke-dasharray="1.4 1"/>
<polygon points="1560.2,1657.3 1562.4,1656.5 1563.9,1654.1 1566.1,1655.1 1568.2,1655.7 1570.3,1655.8 1571.4,1655.2 1573.2,1655.1 1575,1654.8 1575.6,1652.9 1576.7,1651.4 1577.4,1649.6 1576.8,1647.1 1577.3,1644.6 1579.1,1645.5 1579.6,1648 1580.2,1650.1 1580.1,1651 1581.7,1653 1580.9,1654.8 1579.2,1656.5 1578.6,1658.9 1578.1,1660.2 1577.1,1661.8 1576.4,1663.1 1574.7,1665.1 1573.1,1663.9 1571.8,1664.4 1569.8,1663.3 1568.5,1663.5 1566.2,1663.2 1565.1,1663.4 1562.6,1662.2 1561.4,1661.6 1560.4,1659.4" fill="#b4b4b4" stroke="#b4b4b4" stroke-width=".8" stroke-dasharray="1.4 1"/>
<polygon points="1565.6,1657.7 1567.8,1655.9 1569.8,1656 1571.2,1655.8 1573.6,1655.9 1575.4,1653 1574.9,1650.6 1576.8,1651.3 1577,1654.2 1577.7,1655 1575.9,1657 1575.5,1659.4 1573.7,1661.1 1570.8,1660.5 1568.7,1661.1 1566.8,1658.9" fill="#78d07c"/>
<polygon points="1581.2,1663.7 1582.2,1663.1 1583.9,1661.4 1585.4,1660.5 1586.4,1659.6 1587.8,1658.1 1589.5,1657.4 1590.6,1658.8 1592.3,1660.2 1593.8,1660.8 1596.6,1661.8 1598.2,1660.2 1599.6,1659.8 1601.6,1658.5 1601.9,1657.1 1603.8,1656.2 1604.5,1654.4 1605,1653.1 1605.4,1651.8 1606,1652.7 1606.7,1655 1606.5,1656.6 1609.4,1658.7 1608.3,1660.2 1607.2,1662.4 1606.2,1663.6 1605,1665.7 1604.6,1667.9 1604.6,1669.5 1603.6,1671.6 1602.5,1671.2 1601.1,1669.7 1600.3,1668.6 1598.3,1667.6 1596.4,1667.9 1595.2,1667.9 1592.8,1669 1591.7,1668.7 1589.8,1668.7 1587.9,1668.7 1586,1667.8 1583.9,1666.8 1582.1,1665.7" fill="#b4b4b4" stroke="#b4b4b4" stroke-width=".8" stroke-dasharray="1.4 1"/>
<polygon points="1587.8,1663.8 1590.4,1661.8 1593.3,1660.4 1594.2,1662 1596.4,1662.7 1598.6,1662.3 1599.2,1661.2 1601.2,1659.1 1601.4,1656.7 1602.2,1660.3 1603.3,1660.6 1602.3,1663.4 1600.9,1666.5 1600.6,1668.6 1599.8,1667.1 1597.8,1665.8 1594.9,1666.6 1592.3,1666.6 1589.9,1665.9" fill="#78d07c"/>
<polygon points="1616.6,1658.4 1618.3,1657.9 1620.1,1656.8 1622,1655.4 1623.9,1655.6 1625.7,1656.5 1626.6,1657.6 1628.1,1659.1 1628.7,1660.2 1630.5,1662 1631.2,1662.5 1632.6,1663.3 1635.2,1664.8 1637.3,1665.9 1638.4,1666.6 1639.9,1667.1 1642,1667.3 1643.5,1667.4 1645,1666.6 1647.2,1667.2 1649.2,1667.5 1651.1,1667 1652.8,1667.7 1655.6,1667.7 1657.7,1667.1 1659.5,1666.8 1660,1668.8 1658.4,1669.7 1657.2,1669.8 1654.8,1670.6 1653,1670.5 1652.3,1671.2 1650.1,1671.1 1648.5,1672.3 1647.5,1672.9 1645.8,1673.3 1644.1,1672.9 1642.2,1672.1 1640.7,1670.6 1638.8,1670 1637.3,1669.8 1634.7,1669 1633.9,1668.8 1632.3,1667.7 1631.7,1669.6 1631.2,1671.4 1630.5,1672.5 1628.9,1673.6 1627.2,1673.4 1625.9,1672.6 1623.9,1672 1623.2,1670.5 1622.2,1669.5 1622.4,1667.3 1621.4,1666 1620.4,1664 1619.2,1662.4 1618.6,1661.3 1617.9,1660" fill="#b4b4b4" stroke="#b4b4b4" stroke-width=".8" stroke-dasharray="1.4 1"/>
<polygon points="1625.4,1662.7 1626.8,1661.6 1628.1,1661.6 1631,1662.1 1632.6,1663.7 1634.8,1665.7 1637.1,1666.8 1639.8,1667.5 1642.8,1667.5 1644.2,1667.4 1645.9,1667.8 1647.2,1667.9 1649.3,1667.6 1650.2,1668.3 1647,1669.1 1644.3,1669.9 1641.8,1670.8 1639.8,1670 1636.5,1669.2 1634,1667.9 1633.6,1670.6 1631.4,1671 1628.7,1669.5 1628.8,1666.6 1627,1664.8" fill="#78d07c"/>
<polygon points="1662.7,1666.3 1665.3,1666.3 1666.9,1668.3 1664.1,1669.9 1663.5,1668.8" fill="#b4b4b4" stroke="#b4b4b4" stroke-width=".8" stroke-dasharray="1.4 1"/>
<polygon points="1598.5,1675.9 1601.3,1675.2 1602.4,1676.7 1603.7,1678 1604.7,1678.5 1606,1679.9 1608.1,1679.5 1610.6,1680.5 1612.2,1680.9 1612.4,1683.9 1610.7,1683.9 1609.3,1684.5 1607.8,1685.5 1604.9,1684.2 1603.6,1682.8 1601.9,1681.2 1600.7,1679.7 1599.7,1677.6" fill="#b4b4b4" stroke="#b4b4b4" stroke-width=".8" stroke-dasharray="1.4 1"/>
<polygon points="1602.2,1678.2 1603.7,1677.5 1604.8,1680.3 1607,1681 1609,1681.7 1609.4,1683.3 1606.2,1683.4 1604.3,1682.8 1603.1,1680.6" fill="#78d07c"/>
<polygon points="1614.5,1692 1615.7,1690.2 1617.9,1688.7 1620,1689 1621.4,1688.9 1620.8,1690.7 1620.4,1692.2 1619.1,1693.2 1617.2,1694.4 1615.3,1695.1 1615.5,1694.1" fill="#b4b4b4" stroke="#b4b4b4" stroke-width=".8" stroke-dasharray="1.4 1"/>
<polygon points="1632.9,1692.1 1634.9,1691.2 1637.4,1689.9 1637.8,1691.5 1639.5,1692.8 1641,1693.8 1641.2,1696.2 1641.7,1697.7 1642.1,1699 1639.6,1700.3 1637.6,1701.4 1637,1699.8 1635.6,1699.4 1634.3,1698.1 1633.4,1695.9 1633.5,1693.7" fill="#b4b4b4" stroke="#b4b4b4" stroke-width=".8" stroke-dasharray="1.4 1"/>
<polygon points="1656.9,1689.9 1659.7,1690.8 1661.4,1690.7 1662.6,1690.1 1664.8,1689.2 1665.5,1688.4 1667.3,1687.9 1667.2,1689.7 1667.8,1691.4 1667.2,1692.9 1667.1,1694.9 1666.9,1696.2 1666,1695.3 1663.5,1694.4 1662.3,1693.4 1659.9,1692.6 1658.7,1691.7" fill="#b4b4b4" stroke="#b4b4b4" stroke-width=".8" stroke-dasharray="1.4 1"/>
<polygon points="1635.3,1678.9 1636.3,1678.1 1637.9,1677.5 1638.1,1679.5 1638.6,1682 1637.3,1682.8 1635.6,1682.7 1635.6,1681" fill="#b4b4b4" stroke="#b4b4b4" stroke-width=".8" stroke-dasharray="1.4 1"/>
<polygon points="1595.8,1694.2 1597.3,1692.5 1599,1690.2 1599.1,1691.9 1600.1,1693.3 1598.5,1694.4 1597.2,1694.8" fill="#b4b4b4" stroke="#b4b4b4" stroke-width=".8" stroke-dasharray="1.4 1"/>
<polygon points="1642.9,1700.1 1644.8,1699.2 1646.7,1698.5 1648.1,1698.1 1650.4,1698.8 1651.4,1699 1653.2,1699.9 1655,1700.7 1656.8,1701.3 1657.4,1702.5 1659.2,1704.1 1657.7,1705 1656.6,1705.5 1655.2,1706.9 1653.6,1707.3 1651.6,1706.8 1650.5,1706.3 1648.2,1705.6 1647.6,1704.8 1646.2,1704.4 1644.9,1702.8 1644,1701.1" fill="#b4b4b4" stroke="#b4b4b4" stroke-width=".8" stroke-dasharray="1.4 1"/>
<polygon points="1627.7,1702.7 1629.7,1701.5 1632.2,1701.6 1632.5,1702.9 1632.6,1704.4 1631.6,1704.7 1629.7,1705.6 1628.5,1704.1" fill="#b4b4b4" stroke="#b4b4b4" stroke-width=".8" stroke-dasharray="1.4 1"/>
<polygon points="1583.6,1602.3 1585.4,1601.5 1586.8,1600.3 1588,1600 1588.6,1597.5 1589.6,1596.5 1589.8,1594.9 1590.4,1593.2 1590.9,1593.7 1592.1,1595.8 1593.3,1596.3 1596.6,1596.8 1597.9,1599.2 1596.1,1601.1 1595.4,1602.2 1593.6,1603.8 1591.3,1604.5 1588.7,1604.9 1587.4,1605.1 1585.4,1604.1" fill="#d2d2d2" stroke="#d2d2d2" stroke-width=".8" stroke-dasharray="1.4 1"/>
<polygon points="1567.9,1601.2 1569.4,1600.6 1570.7,1598.9 1571.8,1598.5 1573.5,1598 1576,1597.5 1577.1,1597.8 1578.7,1598.6 1577.8,1599.2 1576,1600.5 1574.6,1600.6 1572.6,1601.6 1571.3,1602.9" fill="#d2d2d2" stroke="#d2d2d2" stroke-width=".8" stroke-dasharray="1.4 1"/>
<polygon points="1549.3,1588.3 1551.4,1586.7 1553.7,1586.2 1555.2,1585 1557.2,1584.1 1558.8,1584.5 1560.6,1584.9 1560.6,1586.9 1559,1587.7 1557.3,1588.2 1555.4,1588.7 1553.3,1589 1551.2,1590.2" fill="#d2d2d2" stroke="#d2d2d2" stroke-width=".8" stroke-dasharray="1.4 1"/>
<polygon points="1532.5,1586.1 1535,1585.1 1536.1,1585.8 1536.9,1587.2 1534.7,1588.8" fill="#d2d2d2" stroke="#d2d2d2" stroke-width=".8" stroke-dasharray="1.4 1"/>
<polygon points="1539.1,1589.2 1541.2,1588.2 1542.8,1589.9 1543.6,1590.6 1541.8,1591.3 1540.4,1591.5" fill="#d2d2d2" stroke="#d2d2d2" stroke-width=".8" stroke-dasharray="1.4 1"/>
<polygon points="1569.7,1581.3 1570.4,1579.8 1571.6,1578.6 1573.5,1580 1572.6,1580.9 1571.3,1582.7" fill="#d2d2d2" stroke="#d2d2d2" stroke-width=".8" stroke-dasharray="1.4 1"/>
<polygon points="1572.5,1588 1573.3,1586.9 1574.6,1584.8 1576.9,1584.8 1575.5,1586.7 1574.7,1587.8 1573.5,1589.7" fill="#d2d2d2" stroke="#d2d2d2" stroke-width=".8" stroke-dasharray="1.4 1"/>
<polygon points="1522.9,1565.4 1525,1563.3 1526.1,1562.8 1528.2,1563.9 1527.8,1564.8 1526,1566.2 1523.9,1566.7" fill="#d2d2d2" stroke="#d2d2d2" stroke-width=".8" stroke-dasharray="1.4 1"/>
<polygon points="1527.7,1628.1 1528.9,1627 1530.3,1625.5 1532.6,1625.5 1532,1627.3 1531.9,1629.7 1532.7,1631.4 1531.6,1632.7 1530.7,1634.7 1530.1,1636.2 1527.8,1635.3 1527.6,1633 1527.6,1631.7 1527.8,1630" fill="#b4b4b4" stroke="#b4b4b4" stroke-width=".8" stroke-dasharray="1.4 1"/>
<polygon points="1523.4,1634.1 1525.5,1632.8 1526.3,1635.2 1526.5,1636.5 1524.6,1636.9 1524.4,1635.2" fill="#b4b4b4" stroke="#b4b4b4" stroke-width=".8" stroke-dasharray="1.4 1"/>
<polygon points="1517.4,1640.3 1519.6,1639.5 1521.9,1641.8 1520.5,1643.5 1519.2,1644.7 1517.7,1643.6" fill="#b4b4b4" stroke="#b4b4b4" stroke-width=".8" stroke-dasharray="1.4 1"/>
<polygon points="1399.7,1480.4 1401.7,1479 1402.9,1479.9 1404.8,1481.1 1406.9,1481.8 1408.9,1483 1409,1480.2 1409.7,1478 1412.4,1478.6 1411.6,1481.2 1412.4,1483.3 1410.9,1485.2 1410.7,1486.2 1408.6,1486.8 1406.6,1487.3 1404.2,1486.1 1402.6,1484.9 1401.6,1483 1400.8,1481.5" fill="#d2d2d2" stroke="#d2d2d2" stroke-width=".8" stroke-dasharray="1.4 1"/>
<polygon points="1433.6,1501.1 1433.8,1499.3 1433.8,1496.9 1434.4,1495.6 1435.2,1493.7 1436.7,1491.8 1437.2,1490.3 1437.7,1488.6 1438.9,1489.3 1440.6,1491.1 1443.1,1491.4 1444.5,1493.1 1444.1,1495 1443,1496.9 1441.2,1498.5 1439.7,1499.6 1439.6,1501.6 1439.4,1503.7 1439.2,1505.8 1440.2,1508 1438.1,1509.4 1436.9,1509.1 1434.6,1508.3 1433.2,1506.5 1432,1505.8 1432.6,1503.8 1433.3,1502.3" fill="#b0b0b0" stroke="#b0b0b0" stroke-width=".8" stroke-dasharray="1.4 1"/>
<polygon points="1417.7,1505.9 1419.3,1504 1420.7,1501.6 1421.6,1501.1 1424,1500.3 1425.4,1499.6 1427.7,1498.3 1428.9,1496.8 1430,1495.6 1430,1498.2 1430.5,1499.6 1429.1,1501.1 1427.8,1502.4 1426.6,1504.4 1425.7,1506.3 1423.3,1507.1 1421.8,1507.6 1418.9,1507.8" fill="#64a8ff" stroke="#64a8ff" stroke-width=".8" stroke-dasharray="1.4 1"/>
<polygon points="1385.4,1516.8 1386.8,1516.7 1388.2,1517.2 1389,1515.3 1389.5,1513.3 1390.2,1514.2 1391.3,1515.7 1392.1,1517.3 1394.3,1517.9 1391.6,1519.6 1392.2,1522.8 1390.5,1522 1387.6,1522.6 1388.2,1519.3 1386.3,1518.7" fill="#78b4ff" stroke="#78b4ff" stroke-width=".8" stroke-dasharray="1.4 1"/>
<polygon points="1392.7,1528.8 1394.3,1527.8 1395.3,1528.6 1397.3,1530.1 1396.2,1532.5 1393.6,1531.4" fill="#d2d2d2" stroke="#d2d2d2" stroke-width=".8" stroke-dasharray="1.4 1"/>
<polygon points="1460.4,1558.4 1462.4,1557.8 1463.3,1556.7 1465.1,1557.1 1466.2,1558.3 1466.2,1559.3 1465.5,1561.2 1462.3,1561.4" fill="#d2d2d2" stroke="#d2d2d2" stroke-width=".8" stroke-dasharray="1.4 1"/>
<polygon points="1482.6,1553.3 1484.4,1551.9 1485.4,1551.1 1487.3,1552.1 1486.9,1553.4 1486.6,1555.9 1484.4,1556.7 1483.3,1556.8" fill="#d2d2d2" stroke="#d2d2d2" stroke-width=".8" stroke-dasharray="1.4 1"/>
<polygon points="1486.4,1545.8 1488.8,1544.3 1489.8,1544.9 1490.9,1546.4 1488.7,1548.8 1488,1547.3" fill="#d2d2d2" stroke="#d2d2d2" stroke-width=".8" stroke-dasharray="1.4 1"/>
<polygon points="1487.3,1565.5 1488.8,1565.2 1490.3,1563.9 1490.4,1565.6 1487.8,1566.4" fill="#d2d2d2" stroke="#d2d2d2" stroke-width=".8" stroke-dasharray="1.4 1"/>
<polygon points="1522.7,1565.3 1524.4,1563.9 1526.1,1562.6 1528,1563.5 1526.8,1565.3 1525.7,1566.6 1522.9,1567.5" fill="#d2d2d2" stroke="#d2d2d2" stroke-width=".8" stroke-dasharray="1.4 1"/>
<polygon points="1461.8,1580.8 1462.3,1580.2 1463.7,1579 1465.2,1581.5 1464.4,1582.1 1462.6,1582.9" fill="#d2d2d2" stroke="#d2d2d2" stroke-width=".8" stroke-dasharray="1.4 1"/>
<polygon points="1459.1,1586 1461.4,1584.2 1463.3,1585.7 1463,1587.4 1462.7,1589.1 1460,1588.7" fill="#d2d2d2" stroke="#d2d2d2" stroke-width=".8" stroke-dasharray="1.4 1"/>
<polygon points="1532.1,1585.9 1534.5,1585.4 1535.1,1585.1 1537.4,1586.2 1538.3,1587.3 1537.3,1587.5 1535.4,1588.9 1534,1587.4" fill="#d2d2d2" stroke="#d2d2d2" stroke-width=".8" stroke-dasharray="1.4 1"/>
<polygon points="1370.4,1459.2 1371.9,1457.5 1372.4,1456.6 1373.6,1455.3 1374.8,1455.5 1374.5,1457.5 1373,1458.8 1371.9,1460.1" fill="#d2d2d2" stroke="#d2d2d2" stroke-width=".8" stroke-dasharray="1.4 1"/>
<polygon points="1395.1,1468.3 1396.6,1468.1 1396.4,1470.6 1396.5,1472.8 1394.8,1472.6 1395,1470.6" fill="#d2d2d2" stroke="#d2d2d2" stroke-width=".8" stroke-dasharray="1.4 1"/>
<polygon points="1375.8,1491.7 1377,1490.8 1378.3,1493 1379.9,1494.2 1378.5,1495.2 1377.1,1493.2" fill="#d2d2d2" stroke="#d2d2d2" stroke-width=".8" stroke-dasharray="1.4 1"/>
<polygon points="1285.6,1399 1287.4,1398.3 1290.1,1397.6 1291.2,1399 1291.6,1400.4 1290.1,1401 1287.5,1402.1 1287.1,1400.4" fill="#d2d2d2" stroke="#d2d2d2" stroke-width=".8" stroke-dasharray="1.4 1"/>
<polygon points="1294.5,1398.2 1296,1398.8 1297.6,1398.7 1299.7,1397.7 1300.4,1399.6 1301.3,1401.2 1299.8,1400.9 1298.2,1401.8 1295.4,1402.2 1295.6,1400.4" fill="#d2d2d2" stroke="#d2d2d2" stroke-width=".8" stroke-dasharray="1.4 1"/>
<polygon points="1304.7,1398.3 1306.3,1398.3 1308.3,1398 1309.1,1398.8 1309.1,1400.6 1307.2,1400.9 1305.6,1401.9" fill="#d2d2d2" stroke="#d2d2d2" stroke-width=".8" stroke-dasharray="1.4 1"/>
<polygon points="1335.7,1410.4 1336.8,1409.8 1338.8,1409.7 1339.2,1410.9 1339.8,1413.1 1339.5,1414.8 1340.4,1416.2 1339.1,1418.3 1338.2,1420.1 1336.6,1418.9 1336,1418.1 1335.4,1415.5 1336.1,1413.7 1335.3,1412.2" fill="#d2d2d2" stroke="#d2d2d2" stroke-width=".8" stroke-dasharray="1.4 1"/>
<polygon points="1247.2,1406.6 1248.4,1405.6 1250.5,1403.4 1252.3,1405.3 1251.6,1406.9 1250.5,1408.7 1249.4,1410.4 1247.8,1408.4" fill="#d2d2d2" stroke="#d2d2d2" stroke-width=".8" stroke-dasharray="1.4 1"/>
<polygon points="1194.4,1405.4 1197.1,1407 1198.9,1408.9 1197.5,1409.1 1195.9,1409.3 1195.6,1407.7" fill="#d2d2d2" stroke="#d2d2d2" stroke-width=".8" stroke-dasharray="1.4 1"/>
<polygon points="1496.6,1600.3 1498.2,1600 1499.7,1599.1 1500.9,1601.2 1500.9,1602.5 1501.1,1604.3 1499.6,1605 1498.6,1606 1497.7,1603.8 1497.2,1602.7" fill="#d2d2d2" stroke="#d2d2d2" stroke-width=".8" stroke-dasharray="1.4 1"/>
<polygon points="1493.7,1610.3 1495.4,1609.4 1496.5,1608.4 1497,1610.4 1497.8,1611.9 1498.2,1613.6 1496.3,1614.1 1494.7,1614.3 1494.5,1611.6" fill="#d2d2d2" stroke="#d2d2d2" stroke-width=".8" stroke-dasharray="1.4 1"/>
<polygon points="1528.1,1625.2 1529.1,1624.3 1531.4,1624.1 1531.1,1626.5 1530.9,1627.5 1531,1629.7 1531.8,1630.9 1531.6,1633.2 1531.3,1634.9 1530.2,1634.9 1528.2,1635.1 1528.6,1633.6 1527.9,1631.4 1528.6,1629.9 1528.3,1628 1527.8,1627" fill="#b4b4b4" stroke="#b4b4b4" stroke-width=".8" stroke-dasharray="1.4 1"/>
<polygon points="1517,1639.8 1518.6,1639.1 1521.4,1638.2 1521.2,1640.6 1521.8,1642.5 1520.6,1643.1 1518.5,1644.9 1518,1642.8" fill="#b4b4b4" stroke="#b4b4b4" stroke-width=".8" stroke-dasharray="1.4 1"/>
<rect x="1439.4" y="1493.1" width="2.2" height="2.2" fill="#ff6a00"/><rect x="1437.9" y="1494.6" width="2.2" height="2.2" fill="#ffb000"/><rect x="1436.4" y="1496.1" width="2.2" height="2.2" fill="#ffb000"/><rect x="1434.8" y="1500.7" width="2.2" height="2.2" fill="#ffb000"/><rect x="1436.4" y="1497.7" width="2.4" height="2.4" fill="#2c3cff"/><rect x="1199.6" y="1364.1" width="1.5" height="1.5" fill="#e2e2e2"/><rect x="1250.2" y="1351.8" width="1.5" height="1.5" fill="#e2e2e2"/><rect x="1211" y="1372.9" width="1.5" height="1.5" fill="#e2e2e2"/><rect x="1219.5" y="1370.7" width="1.5" height="1.5" fill="#e2e2e2"/><rect x="1210" y="1380.8" width="1.5" height="1.5" fill="#e2e2e2"/><rect x="1243.2" y="1365" width="1.5" height="1.5" fill="#e2e2e2"/><rect x="1260.6" y="1370.7" width="1.5" height="1.5" fill="#e2e2e2"/><rect x="1272.6" y="1370.7" width="1.5" height="1.5" fill="#e2e2e2"/><rect x="1281.8" y="1369.8" width="1.5" height="1.5" fill="#e2e2e2"/><rect x="1253.3" y="1379.9" width="1.5" height="1.5" fill="#e2e2e2"/><rect x="1240.1" y="1382.4" width="1.5" height="1.5" fill="#e2e2e2"/><rect x="1240.7" y="1385.6" width="1.5" height="1.5" fill="#e2e2e2"/><rect x="1255.9" y="1384" width="1.5" height="1.5" fill="#e2e2e2"/><rect x="1254.3" y="1390.3" width="1.5" height="1.5" fill="#e2e2e2"/><rect x="1270.7" y="1394.4" width="1.5" height="1.5" fill="#e2e2e2"/><rect x="1198.9" y="1408.4" width="1.5" height="1.5" fill="#e2e2e2"/><rect x="1203.7" y="1408.4" width="1.5" height="1.5" fill="#e2e2e2"/><rect x="1208.4" y="1408" width="1.5" height="1.5" fill="#e2e2e2"/><rect x="1255.2" y="1401.4" width="1.5" height="1.5" fill="#e2e2e2"/><rect x="1250.2" y="1411.8" width="1.5" height="1.5" fill="#e2e2e2"/><rect x="1238.5" y="1413.1" width="1.5" height="1.5" fill="#e2e2e2"/><rect x="1240.1" y="1417.2" width="1.5" height="1.5" fill="#e2e2e2"/><rect x="1243.2" y="1416.6" width="1.5" height="1.5" fill="#e2e2e2"/><rect x="1341.2" y="1401.4" width="1.5" height="1.5" fill="#e2e2e2"/><rect x="1361.8" y="1422" width="1.5" height="1.5" fill="#e2e2e2"/><rect x="1276.4" y="1428.9" width="1.5" height="1.5" fill="#e2e2e2"/><rect x="1287.5" y="1434.6" width="1.5" height="1.5" fill="#e2e2e2"/><rect x="1502.5" y="1572.2" width="1.5" height="1.5" fill="#e2e2e2"/><rect x="1450.3" y="1588" width="1.5" height="1.5" fill="#e2e2e2"/><rect x="1452.5" y="1597.4" width="1.5" height="1.5" fill="#e2e2e2"/><rect x="1503.1" y="1595.2" width="1.5" height="1.5" fill="#e2e2e2"/><rect x="1558.8" y="1600.6" width="1.5" height="1.5" fill="#e2e2e2"/><rect x="1562.6" y="1599.7" width="1.5" height="1.5" fill="#e2e2e2"/><rect x="1557.8" y="1614.2" width="1.5" height="1.5" fill="#e2e2e2"/><rect x="1556.3" y="1619.6" width="1.5" height="1.5" fill="#e2e2e2"/><rect x="1524" y="1622.7" width="1.5" height="1.5" fill="#e2e2e2"/><rect x="1510.4" y="1645.8" width="1.5" height="1.5" fill="#e2e2e2"/><rect x="1529.4" y="1652.2" width="1.5" height="1.5" fill="#e2e2e2"/><rect x="1534.1" y="1653.4" width="1.5" height="1.5" fill="#e2e2e2"/><rect x="1483.5" y="1533.3" width="1.5" height="1.5" fill="#e2e2e2"/><rect x="1488.3" y="1564.2" width="1.5" height="1.5" fill="#e2e2e2"/><rect x="1472.5" y="1513" width="1.5" height="1.5" fill="#e2e2e2"/><rect x="1451.9" y="1485.2" width="1.5" height="1.5" fill="#e2e2e2"/><rect x="1375.2" y="1464" width="1.5" height="1.5" fill="#e2e2e2"/><rect x="1380.8" y="1472.1" width="1.5" height="1.5" fill="#e2e2e2"/><rect x="1379.8" y="1476.2" width="1.5" height="1.5" fill="#e2e2e2"/><rect x="1399.6" y="1455.3" width="1.5" height="1.5" fill="#e2e2e2"/><rect x="1412.3" y="1469.6" width="1.5" height="1.5" fill="#e2e2e2"/><rect x="1425" y="1481.8" width="1.5" height="1.5" fill="#e2e2e2"/><rect x="1418.9" y="1484.3" width="1.5" height="1.5" fill="#e2e2e2"/><rect x="1413.3" y="1487.3" width="1.5" height="1.5" fill="#e2e2e2"/><rect x="1362.5" y="1516.8" width="1.5" height="1.5" fill="#e2e2e2"/><rect x="1400.6" y="1531.6" width="1.5" height="1.5" fill="#e2e2e2"/><rect x="1383.9" y="1537.7" width="1.5" height="1.5" fill="#e2e2e2"/><rect x="1409.8" y="1540.2" width="1.5" height="1.5" fill="#e2e2e2"/><rect x="1401.1" y="1550.9" width="1.5" height="1.5" fill="#e2e2e2"/><rect x="1444.8" y="1534.1" width="1.5" height="1.5" fill="#e2e2e2"/><rect x="1449.9" y="1543.2" width="1.5" height="1.5" fill="#e2e2e2"/><rect x="1471.8" y="1513.3" width="1.5" height="1.5" fill="#e2e2e2"/><rect x="1449.4" y="1492.9" width="1.5" height="1.5" fill="#e2e2e2"/><rect x="1451.4" y="1485.3" width="1.5" height="1.5" fill="#e2e2e2"/><rect x="1362.5" y="1422.3" width="1.5" height="1.5" fill="#e2e2e2"/><rect x="1404.7" y="1476.2" width="1.5" height="1.5" fill="#e2e2e2"/><rect x="1486.5" y="1540.7" width="1.5" height="1.5" fill="#e2e2e2"/><rect x="1502.3" y="1571.7" width="1.5" height="1.5" fill="#e2e2e2"/><rect x="1492.1" y="1554.4" width="1.5" height="1.5" fill="#e2e2e2"/><rect x="1483.5" y="1534.1" width="1.5" height="1.5" fill="#e2e2e2"/><rect x="1450.4" y="1589" width="1.5" height="1.5" fill="#e2e2e2"/><rect x="1472.8" y="1589.5" width="1.5" height="1.5" fill="#e2e2e2"/><rect x="1502" y="1572.4" width="1.5" height="1.5" fill="#e2e2e2"/><rect x="1503.5" y="1596.3" width="1.5" height="1.5" fill="#e2e2e2"/><rect x="1500.5" y="1610.6" width="1.5" height="1.5" fill="#e2e2e2"/><rect x="1558.9" y="1614.1" width="1.5" height="1.5" fill="#e2e2e2"/><rect x="1556.9" y="1619.2" width="1.5" height="1.5" fill="#e2e2e2"/><rect x="1523.9" y="1614.6" width="1.5" height="1.5" fill="#e2e2e2"/><rect x="1524.4" y="1622.2" width="1.5" height="1.5" fill="#e2e2e2"/><rect x="1642.3" y="1660.9" width="1.5" height="1.5" fill="#e2e2e2"/><rect x="1614.3" y="1672" width="1.5" height="1.5" fill="#e2e2e2"/><rect x="1629.1" y="1677.6" width="1.5" height="1.5" fill="#e2e2e2"/><rect x="1600.1" y="1684.2" width="1.5" height="1.5" fill="#e2e2e2"/><rect x="1606.2" y="1646.6" width="1.5" height="1.5" fill="#e2e2e2"/><rect x="1604.2" y="1651.7" width="1.5" height="1.5" fill="#e2e2e2"/><rect x="1585.4" y="1694.9" width="1.5" height="1.5" fill="#e2e2e2"/><rect x="1580.3" y="1695.9" width="1.5" height="1.5" fill="#e2e2e2"/><rect x="1528.9" y="1651.7" width="1.5" height="1.5" fill="#e2e2e2"/><rect x="1534.5" y="1653.2" width="1.5" height="1.5" fill="#e2e2e2"/><rect x="1510.6" y="1646.1" width="1.5" height="1.5" fill="#e2e2e2"/><rect x="1614.3" y="1644.1" width="1.5" height="1.5" fill="#e2e2e2"/><rect x="1559.4" y="1600.9" width="1.5" height="1.5" fill="#e2e2e2"/><rect x="1563.5" y="1598.4" width="1.5" height="1.5" fill="#e2e2e2"/><rect x="1582.8" y="1596.8" width="1.5" height="1.5" fill="#e2e2e2"/><rect x="1662.6" y="1711.2" width="1.5" height="1.5" fill="#e2e2e2"/><rect x="1302" y="1408.3" width="1.4" height="1.4" fill="#2030ff"/><rect x="1433.4" y="1539.7" width="1.4" height="1.4" fill="#2030ff"/><rect x="1404.1" y="1458" width="1.2" height="1.2" fill="#8a2010"/>
</g>
<path d="M1231.5 1222.7V1730.4M1310.2 1222.7V1730.4M1388.9 1222.7V1730.4M1467.6 1222.7V1730.4M1546.3 1222.7V1730.4M1625.1 1222.7V1730.4M1193.9 1279.4H1667.9M1193.9 1363.9H1667.9M1193.9 1448.5H1667.9M1193.9 1533H1667.9M1193.9 1617.6H1667.9M1193.9 1702.2H1667.9" fill="none" stroke="#111" stroke-width="1.15" stroke-dasharray="2.9 5.4"/>
<path d="M1193.9 1294.7Q1430.9 1465.3 1667.9 1654.8M1193.9 1407.6Q1404.8 1561.7 1615.7 1729.3" fill="none" stroke="#111" stroke-width="1" stroke-dasharray="12.2 11.45"/>
<g font-size="12" text-anchor="middle">
<text x="1231.2" y="1469.8">-130</text>
<text x="1309.9" y="1469.8">-128</text>
<text x="1388.6" y="1469.8">-126</text>
<text x="1467.3" y="1469.8">-124</text>
<text x="1546" y="1469.8">-122</text>
<text x="1624.8" y="1469.8">-120</text>
</g><g font-size="12" text-anchor="end">
<text x="1454.8" y="1279.3">16</text>
<text x="1454.8" y="1363.8">14</text>
<text x="1454.8" y="1448.4">12</text>
<text x="1454.8" y="1532.9">10</text>
<text x="1454.8" y="1617.5">8</text>
<text x="1454.8" y="1702.1">6</text>
</g>
<path d="M1424.3 1476.2h12.4M1430.5 1470v12.4" stroke="#000" stroke-width="4.2"/>
<text x="1217.7" y="1247.4" font-size="25">2A23 storm height (km)</text>
<text x="1619.9" y="1704" font-size="29.2">(i)</text>
<rect x="1676.1" y="1713" width="9" height="8.8" fill="#f7f7f7"/>
<rect x="1676.1" y="1704.6" width="9" height="8.8" fill="#efefef"/>
<rect x="1676.1" y="1696.1" width="9" height="8.8" fill="#e8e8e8"/>
<rect x="1676.1" y="1687.6" width="9" height="8.8" fill="#e0e0e0"/>
<rect x="1676.1" y="1679.2" width="9" height="8.8" fill="#d9d9d9"/>
<rect x="1676.1" y="1670.7" width="9" height="8.8" fill="#d1d1d1"/>
<rect x="1676.1" y="1662.2" width="9" height="8.8" fill="#c9c9c9"/>
<rect x="1676.1" y="1653.8" width="9" height="8.8" fill="#c2c2c2"/>
<rect x="1676.1" y="1645.3" width="9" height="8.8" fill="#bababa"/>
<rect x="1676.1" y="1636.8" width="9" height="8.8" fill="#b3b3b3"/>
<rect x="1676.1" y="1628.4" width="9" height="8.8" fill="#ababab"/>
<rect x="1676.1" y="1619.9" width="9" height="8.8" fill="#a3a3a3"/>
<rect x="1676.1" y="1611.4" width="9" height="8.8" fill="#9c9c9c"/>
<rect x="1676.1" y="1603" width="9" height="8.8" fill="#949494"/>
<rect x="1676.1" y="1594.5" width="9" height="8.8" fill="#8ae68e"/>
<rect x="1676.1" y="1586" width="9" height="8.8" fill="#82dc86"/>
<rect x="1676.1" y="1577.6" width="9" height="8.8" fill="#7ad37e"/>
<rect x="1676.1" y="1569.1" width="9" height="8.8" fill="#72c876"/>
<rect x="1676.1" y="1560.6" width="9" height="8.8" fill="#6aba6e"/>
<rect x="1676.1" y="1552.2" width="9" height="8.8" fill="#ccd2ff"/>
<rect x="1676.1" y="1543.7" width="9" height="8.8" fill="#bccbff"/>
<rect x="1676.1" y="1535.2" width="9" height="8.8" fill="#a8c4ff"/>
<rect x="1676.1" y="1526.8" width="9" height="8.8" fill="#90bcff"/>
<rect x="1676.1" y="1518.3" width="9" height="8.8" fill="#7cb6ff"/>
<rect x="1676.1" y="1509.8" width="9" height="8.8" fill="#64aeff"/>
<rect x="1676.1" y="1501.4" width="9" height="8.8" fill="#50a8ff"/>
<rect x="1676.1" y="1492.9" width="9" height="8.8" fill="#4890ff"/>
<rect x="1676.1" y="1484.4" width="9" height="8.8" fill="#4070ff"/>
<rect x="1676.1" y="1475.9" width="9" height="8.8" fill="#3c50ff"/>
<rect x="1676.1" y="1467.5" width="9" height="8.8" fill="#3030ff"/>
<rect x="1676.1" y="1459" width="9" height="8.8" fill="#0808ff"/>
<rect x="1676.1" y="1450.5" width="9" height="8.8" fill="#0000f0"/>
<rect x="1676.1" y="1442.1" width="9" height="8.8" fill="#0000dc"/>
<rect x="1676.1" y="1433.6" width="9" height="8.8" fill="#0000c8"/>
<rect x="1676.1" y="1425.1" width="9" height="8.8" fill="#ffff00"/>
<rect x="1676.1" y="1416.7" width="9" height="8.8" fill="#fff200"/>
<rect x="1676.1" y="1408.2" width="9" height="8.8" fill="#ffe600"/>
<rect x="1676.1" y="1399.7" width="9" height="8.8" fill="#ffdc00"/>
<rect x="1676.1" y="1391.3" width="9" height="8.8" fill="#ffd000"/>
<rect x="1676.1" y="1382.8" width="9" height="8.8" fill="#ff9800"/>
<rect x="1676.1" y="1374.3" width="9" height="8.8" fill="#ff8c00"/>
<rect x="1676.1" y="1365.9" width="9" height="8.8" fill="#ff8200"/>
<rect x="1676.1" y="1357.4" width="9" height="8.8" fill="#ff7800"/>
<rect x="1676.1" y="1348.9" width="9" height="8.8" fill="#ff6e00"/>
<rect x="1676.1" y="1340.5" width="9" height="8.8" fill="#ff4608"/>
<rect x="1676.1" y="1332" width="9" height="8.8" fill="#ff3c04"/>
<rect x="1676.1" y="1323.5" width="9" height="8.8" fill="#ff3000"/>
<rect x="1676.1" y="1315.1" width="9" height="8.8" fill="#ff2400"/>
<rect x="1676.1" y="1306.6" width="9" height="8.8" fill="#ff1800"/>
<rect x="1676.1" y="1298.1" width="9" height="8.8" fill="#cc0000"/>
<rect x="1676.1" y="1289.7" width="9" height="8.8" fill="#c00000"/>
<rect x="1676.1" y="1281.2" width="9" height="8.8" fill="#b40400"/>
<rect x="1676.1" y="1272.7" width="9" height="8.8" fill="#aa0800"/>
<rect x="1676.1" y="1264.3" width="9" height="8.8" fill="#a01000"/>
<rect x="1676.1" y="1255.8" width="9" height="8.8" fill="#5e0e06"/>
<rect x="1676.1" y="1247.3" width="9" height="8.8" fill="#5c100a"/>
<rect x="1676.1" y="1238.9" width="9" height="8.8" fill="#5a1410"/>
<rect x="1676.1" y="1230.4" width="9" height="8.8" fill="#5a1814"/>
<rect x="1676.1" y="1221.9" width="9" height="8.8" fill="#5a1a18"/>
<path d="M1685.1 1730h2" stroke="#333" stroke-width="0.9"/>
<text x="1713.7" y="1738.3" text-anchor="middle" font-size="19.4">0.0</text>
<path d="M1685.1 1679.2h2" stroke="#333" stroke-width="0.9"/>
<text x="1713.7" y="1687.5" text-anchor="middle" font-size="19.4">2.0</text>
<path d="M1685.1 1628.4h2" stroke="#333" stroke-width="0.9"/>
<text x="1713.7" y="1636.7" text-anchor="middle" font-size="19.4">4.0</text>
<path d="M1685.1 1577.6h2" stroke="#333" stroke-width="0.9"/>
<text x="1713.7" y="1585.9" text-anchor="middle" font-size="19.4">6.0</text>
<path d="M1685.1 1526.8h2" stroke="#333" stroke-width="0.9"/>
<text x="1713.7" y="1535.1" text-anchor="middle" font-size="19.4">8.0</text>
<path d="M1685.1 1476h2" stroke="#333" stroke-width="0.9"/>
<text x="1713.7" y="1484.2" text-anchor="middle" font-size="19.4">10.0</text>
<path d="M1685.1 1425.1h2" stroke="#333" stroke-width="0.9"/>
<text x="1713.7" y="1433.4" text-anchor="middle" font-size="19.4">12.0</text>
<path d="M1685.1 1374.3h2" stroke="#333" stroke-width="0.9"/>
<text x="1713.7" y="1382.6" text-anchor="middle" font-size="19.4">14.0</text>
<path d="M1685.1 1323.5h2" stroke="#333" stroke-width="0.9"/>
<text x="1713.7" y="1331.8" text-anchor="middle" font-size="19.4">16.0</text>
<path d="M1685.1 1272.7h2" stroke="#333" stroke-width="0.9"/>
<text x="1713.7" y="1281" text-anchor="middle" font-size="19.4">18.0</text>
</g>
<text x="136.8" y="34.7" font-size="15.56">62192 2008-10-15 4:18:30 UTC</text>
<text x="770.2" y="34.7" font-size="15.56">EPA 200814 MARIE</text>
</svg>
</body></html>
